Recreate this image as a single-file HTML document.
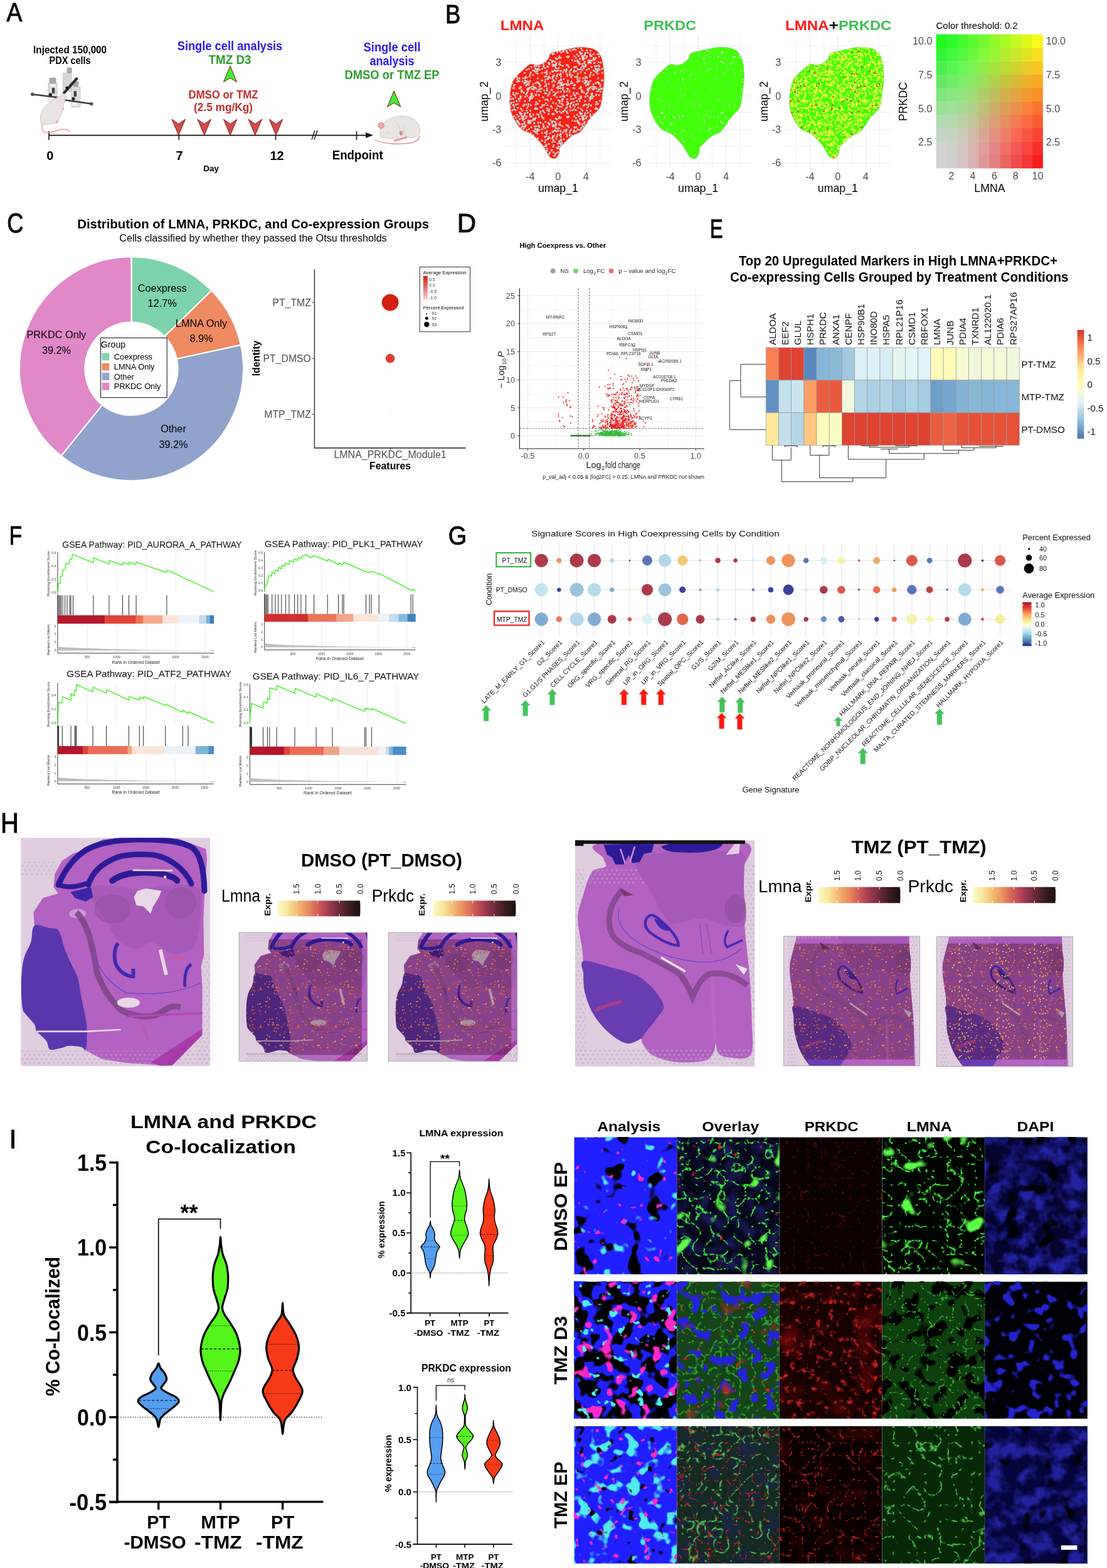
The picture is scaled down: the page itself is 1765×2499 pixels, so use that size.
<!DOCTYPE html>
<html><head><meta charset="utf-8"><title>Figure</title>
<style>
html,body{margin:0;padding:0;background:#fff;}
body{width:1765px;height:2499px;overflow:hidden;}
svg{display:block;font-family:'Liberation Sans',sans-serif;}
</style></head><body>
<svg width="1765" height="2499" viewBox="0 0 1765 2499">
<rect width="1765" height="2499" fill="#fff"/>
<text transform="translate(10.56 34.16) scale(0.8679 1)" font-size="42.94" fill="#000" stroke="#000" stroke-width="0.97">A</text>
<line x1="78.0" y1="215.6" x2="590.0" y2="215.6" stroke="#111" stroke-width="1.6" />
<path d="M583,211.1 L595,215.6 L583,220.1 Z" fill="#111" />
<line x1="78.0" y1="209.1" x2="78.0" y2="223.1" stroke="#111" stroke-width="1.6" />
<line x1="285.3" y1="215.6" x2="285.3" y2="223.1" stroke="#111" stroke-width="1.6" />
<line x1="439.5" y1="215.6" x2="439.5" y2="223.1" stroke="#111" stroke-width="1.6" />
<line x1="568.5" y1="209.1" x2="568.5" y2="223.1" stroke="#111" stroke-width="1.6" />
<line x1="497.0" y1="222.6" x2="502.0" y2="207.6" stroke="#111" stroke-width="1.4" />
<line x1="501.0" y1="222.6" x2="506.0" y2="207.6" stroke="#111" stroke-width="1.4" />
<path d="M273.9,190 L284.7,197.5 L295.5,190 L284.7,215.6 Z" fill="#d24a4a" stroke="#7a1515" stroke-width="0.9" />
<path d="M314.9,190 L325.7,197.5 L336.5,190 L325.7,215.6 Z" fill="#d24a4a" stroke="#7a1515" stroke-width="0.9" />
<path d="M356.3,190 L367.1,197.5 L377.9,190 L367.1,215.6 Z" fill="#d24a4a" stroke="#7a1515" stroke-width="0.9" />
<path d="M396.0,190 L406.8,197.5 L417.6,190 L406.8,215.6 Z" fill="#d24a4a" stroke="#7a1515" stroke-width="0.9" />
<path d="M429.2,190 L440.0,197.5 L450.8,190 L440.0,215.6 Z" fill="#d24a4a" stroke="#7a1515" stroke-width="0.9" />
<path d="M367.0,105.2 L377.6,130.7 L367.0,124.2 L356.4,130.7 Z" fill="#44ee33" stroke="#6a1010" stroke-width="1.0" />
<path d="M628.2,144.9 L638.8,170.4 L628.2,163.9 L617.6,170.4 Z" fill="#44ee33" stroke="#6a1010" stroke-width="1.0" />
<text x="111.6" y="84.8" font-size="16.8" fill="#000" text-anchor="middle" font-weight="bold" textLength="117.0" lengthAdjust="spacingAndGlyphs" >Injected 150,000</text>
<text x="111.6" y="102.0" font-size="16.8" fill="#000" text-anchor="middle" font-weight="bold" textLength="66.0" lengthAdjust="spacingAndGlyphs" >PDX cells</text>
<text x="366.5" y="79.5" font-size="19.6" fill="#2a17f5" text-anchor="middle" font-weight="bold" textLength="167.6" lengthAdjust="spacingAndGlyphs" >Single cell analysis</text>
<text x="366.5" y="101.5" font-size="19.6" fill="#2e9e2e" text-anchor="middle" font-weight="bold" textLength="68.0" lengthAdjust="spacingAndGlyphs" >TMZ D3</text>
<text x="356.0" y="156.8" font-size="18.5" fill="#c42b2b" text-anchor="middle" font-weight="bold" textLength="111.0" lengthAdjust="spacingAndGlyphs" >DMSO or TMZ</text>
<text x="356.0" y="177.2" font-size="18.5" fill="#c42b2b" text-anchor="middle" font-weight="bold" textLength="94.0" lengthAdjust="spacingAndGlyphs" >(2.5 mg/Kg)</text>
<text x="625.0" y="82.0" font-size="19.6" fill="#2a17f5" text-anchor="middle" font-weight="bold" textLength="91.0" lengthAdjust="spacingAndGlyphs" >Single cell</text>
<text x="625.0" y="104.0" font-size="19.6" fill="#2a17f5" text-anchor="middle" font-weight="bold" textLength="71.0" lengthAdjust="spacingAndGlyphs" >analysis</text>
<text x="625.0" y="126.0" font-size="19.6" fill="#2e9e2e" text-anchor="middle" font-weight="bold" textLength="151.0" lengthAdjust="spacingAndGlyphs" >DMSO or TMZ EP</text>
<text x="79.8" y="254.9" font-size="20" fill="#000" text-anchor="middle" font-weight="bold" >0</text>
<text x="286.0" y="254.9" font-size="20" fill="#000" text-anchor="middle" font-weight="bold" >7</text>
<text x="441.5" y="254.9" font-size="20" fill="#000" text-anchor="middle" font-weight="bold" >12</text>
<text x="570.2" y="253.9" font-size="20" fill="#000" text-anchor="middle" font-weight="bold" textLength="81.0" lengthAdjust="spacingAndGlyphs" >Endpoint</text>
<text x="336.6" y="273.3" font-size="13.5" fill="#000" text-anchor="middle" font-weight="bold" >Day</text>
<g transform="translate(40 100) scale(0.07396)">
<rect x="500" y="440" width="190" height="390" fill="#dcdcdc" stroke="#b0b0b0" stroke-width="8"/>
<rect x="520" y="320" width="150" height="125" rx="30" fill="#a8a8a8"/>
<ellipse cx="595" cy="490" rx="70" ry="25" fill="#fff" stroke="#bbb" stroke-width="6"/>
<rect x="580" y="540" width="60" height="120" fill="#444"/>
<rect x="820" y="220" width="180" height="400" fill="#d8d8d8" stroke="#b0b0b0" stroke-width="8"/>
<rect x="900" y="100" width="110" height="125" rx="25" fill="#a8a8a8"/>
<rect x="1000" y="520" width="190" height="440" fill="#dedede" stroke="#b0b0b0" stroke-width="8"/>
<rect x="1030" y="400" width="125" height="125" rx="30" fill="#a8a8a8"/>
<rect x="1050" y="610" width="60" height="120" fill="#444"/>
<rect x="490" y="740" width="160" height="90" fill="#eee" stroke="#bbb" stroke-width="6"/>
<rect x="1000" y="830" width="130" height="110" fill="#eee" stroke="#bbb" stroke-width="6"/>
<path d="M150,680 L700,748" stroke="#3a3a3a" stroke-width="34" stroke-linecap="round"/>
<path d="M870,805 L1440,885" stroke="#3a3a3a" stroke-width="34" stroke-linecap="round"/>
<circle cx="160" cy="680" r="38" fill="#555"/><circle cx="1430" cy="885" r="38" fill="#555"/>
<circle cx="545" cy="690" r="36" fill="#222"/><circle cx="1040" cy="775" r="36" fill="#222"/>
<path d="M840,650 L1110,345" stroke="#2e2e2e" stroke-width="58" stroke-linecap="round"/>
<circle cx="900" cy="540" r="30" fill="#111"/>
<path d="M345,1320 C310,1200 330,1050 420,950 C520,860 640,780 760,700 C800,670 850,650 880,690 C900,740 870,800 830,900 C810,1000 790,1120 720,1240 C660,1320 520,1340 345,1320 Z" fill="#e7e4e2" stroke="#c5bdb5" stroke-width="10"/>
<path d="M630,770 C660,750 690,760 690,790 Z" fill="#e59a9a"/>
<path d="M800,1000 L840,950 L830,1020 Z" fill="#e59a9a"/><path d="M640,1290 L720,1220 L700,1300 Z" fill="#e59a9a"/>
<path d="M830,800 C850,790 870,810 860,840" stroke="#e08080" stroke-width="14" fill="none"/>
<path d="M375,1330 C355,1400 360,1480 430,1505 C520,1520 640,1470 760,1440 C850,1425 920,1440 955,1480" stroke="#e3a0a0" stroke-width="20" fill="none" stroke-linecap="round"/>
</g>
<g transform="translate(590 170) scale(0.05549)">
<path d="M150,960 C400,1070 800,1100 1200,1040 C1350,1000 1420,920 1420,850" stroke="#d87a7a" stroke-width="22" fill="none" stroke-linecap="round"/>
<path d="M285,740 C280,600 360,470 520,370 C680,280 900,240 1100,285 C1300,340 1420,500 1440,680 C1450,800 1400,870 1280,885 C1100,900 900,915 700,925 C500,925 330,900 285,840 Z" fill="#e7e4e2" stroke="#c8bfb5" stroke-width="12"/>
<circle cx="320" cy="540" r="92" fill="#e3a2a2" stroke="#d58a8a" stroke-width="8"/>
<circle cx="320" cy="540" r="45" fill="none" stroke="#f2c8c8" stroke-width="14"/>
<path d="M740,440 C820,500 860,600 860,760" stroke="#c8bfb5" stroke-width="10" fill="none"/>
<path d="M1000,520 C960,600 950,700 970,800" stroke="#c8bfb5" stroke-width="10" fill="none"/>
<ellipse cx="890" cy="760" rx="45" ry="65" fill="#e08a8a"/>
<path d="M700,980 C780,960 900,930 1050,880" stroke="#e08a8a" stroke-width="40" fill="none" stroke-linecap="round"/>
<path d="M500,720 L570,790" stroke="#a09890" stroke-width="10"/>
</g>
<text transform="translate(710.04 36.97) scale(0.8599 1)" font-size="42.54" fill="#000" stroke="#000" stroke-width="0.96">B</text>
<defs><pattern id="pgrey" width="96" height="96" patternUnits="userSpaceOnUse"><circle cx="22.8" cy="52.2" r="1.55" fill="#d3d3d3"/><circle cx="35.5" cy="58.0" r="1.55" fill="#d3d3d3"/><circle cx="60.1" cy="6.3" r="1.55" fill="#d3d3d3"/><circle cx="1.3" cy="80.4" r="1.55" fill="#d3d3d3"/><circle cx="97.3" cy="80.4" r="1.55" fill="#d3d3d3"/><circle cx="24.9" cy="22.5" r="1.55" fill="#d3d3d3"/><circle cx="95.6" cy="45.1" r="1.55" fill="#d3d3d3"/><circle cx="-0.4" cy="45.1" r="1.55" fill="#d3d3d3"/><circle cx="80.3" cy="45.7" r="1.55" fill="#d3d3d3"/><circle cx="61.4" cy="14.5" r="1.55" fill="#d3d3d3"/><circle cx="60.9" cy="83.3" r="1.55" fill="#d3d3d3"/><circle cx="50.2" cy="71.2" r="1.55" fill="#d3d3d3"/><circle cx="64.5" cy="6.1" r="1.55" fill="#d3d3d3"/><circle cx="72.8" cy="56.7" r="1.55" fill="#d3d3d3"/><circle cx="28.9" cy="3.0" r="1.55" fill="#d3d3d3"/><circle cx="83.1" cy="45.4" r="1.55" fill="#d3d3d3"/><circle cx="69.0" cy="84.4" r="1.55" fill="#d3d3d3"/><circle cx="68.6" cy="88.4" r="1.55" fill="#d3d3d3"/><circle cx="37.9" cy="76.9" r="1.55" fill="#d3d3d3"/><circle cx="42.7" cy="89.8" r="1.55" fill="#d3d3d3"/><circle cx="84.4" cy="9.4" r="1.55" fill="#d3d3d3"/><circle cx="13.1" cy="20.8" r="1.55" fill="#d3d3d3"/><circle cx="92.7" cy="41.9" r="1.55" fill="#d3d3d3"/><circle cx="60.2" cy="28.9" r="1.55" fill="#d3d3d3"/><circle cx="48.7" cy="37.0" r="1.55" fill="#d3d3d3"/><circle cx="33.7" cy="56.2" r="1.55" fill="#d3d3d3"/><circle cx="56.1" cy="86.8" r="1.55" fill="#d3d3d3"/><circle cx="65.5" cy="89.2" r="1.55" fill="#d3d3d3"/><circle cx="82.2" cy="95.1" r="1.55" fill="#d3d3d3"/><circle cx="82.2" cy="-0.9" r="1.55" fill="#d3d3d3"/><circle cx="64.4" cy="15.7" r="1.55" fill="#d3d3d3"/><circle cx="82.6" cy="92.6" r="1.55" fill="#d3d3d3"/><circle cx="86.9" cy="54.6" r="1.55" fill="#d3d3d3"/><circle cx="68.5" cy="20.3" r="1.55" fill="#d3d3d3"/><circle cx="79.8" cy="55.1" r="1.55" fill="#d3d3d3"/><circle cx="27.4" cy="6.1" r="1.55" fill="#d3d3d3"/><circle cx="82.0" cy="95.0" r="1.55" fill="#d3d3d3"/><circle cx="82.0" cy="-1.0" r="1.55" fill="#d3d3d3"/><circle cx="8.5" cy="76.9" r="1.55" fill="#d3d3d3"/><circle cx="39.4" cy="14.5" r="1.55" fill="#d3d3d3"/><circle cx="28.2" cy="73.8" r="1.55" fill="#d3d3d3"/><circle cx="83.8" cy="4.2" r="1.55" fill="#d3d3d3"/><circle cx="59.0" cy="4.3" r="1.55" fill="#d3d3d3"/><circle cx="69.0" cy="31.8" r="1.55" fill="#d3d3d3"/><circle cx="84.6" cy="94.1" r="1.55" fill="#d3d3d3"/><circle cx="48.5" cy="95.9" r="1.55" fill="#d3d3d3"/><circle cx="48.5" cy="-0.1" r="1.55" fill="#d3d3d3"/><circle cx="29.7" cy="7.4" r="1.55" fill="#d3d3d3"/><circle cx="57.6" cy="3.0" r="1.55" fill="#d3d3d3"/><circle cx="18.9" cy="39.2" r="1.55" fill="#d3d3d3"/><circle cx="58.6" cy="15.0" r="1.55" fill="#d3d3d3"/><circle cx="4.1" cy="83.3" r="1.55" fill="#d3d3d3"/><circle cx="30.1" cy="92.0" r="1.55" fill="#d3d3d3"/><circle cx="86.1" cy="36.3" r="1.55" fill="#d3d3d3"/><circle cx="44.2" cy="49.9" r="1.55" fill="#d3d3d3"/><circle cx="61.8" cy="57.2" r="1.55" fill="#d3d3d3"/><circle cx="53.7" cy="59.5" r="1.55" fill="#d3d3d3"/><circle cx="90.3" cy="48.7" r="1.55" fill="#d3d3d3"/><circle cx="41.4" cy="69.1" r="1.55" fill="#d3d3d3"/><circle cx="22.8" cy="28.9" r="1.55" fill="#d3d3d3"/><circle cx="93.9" cy="50.0" r="1.55" fill="#d3d3d3"/><circle cx="52.6" cy="1.1" r="1.55" fill="#d3d3d3"/><circle cx="52.6" cy="97.1" r="1.55" fill="#d3d3d3"/><circle cx="39.9" cy="55.7" r="1.55" fill="#d3d3d3"/><circle cx="1.9" cy="59.1" r="1.55" fill="#d3d3d3"/><circle cx="60.7" cy="5.8" r="1.55" fill="#d3d3d3"/><circle cx="60.2" cy="44.8" r="1.55" fill="#d3d3d3"/><circle cx="65.2" cy="33.8" r="1.55" fill="#d3d3d3"/><circle cx="67.9" cy="70.9" r="1.55" fill="#d3d3d3"/><circle cx="2.1" cy="5.8" r="1.55" fill="#d3d3d3"/><circle cx="64.9" cy="92.5" r="1.55" fill="#d3d3d3"/><circle cx="24.1" cy="43.8" r="1.55" fill="#d3d3d3"/><circle cx="56.9" cy="30.7" r="1.55" fill="#d3d3d3"/><circle cx="34.9" cy="30.0" r="1.55" fill="#d3d3d3"/><circle cx="35.4" cy="57.2" r="1.55" fill="#d3d3d3"/><circle cx="28.8" cy="36.2" r="1.55" fill="#d3d3d3"/><circle cx="74.1" cy="2.6" r="1.55" fill="#d3d3d3"/><circle cx="54.6" cy="70.6" r="1.55" fill="#d3d3d3"/><circle cx="29.8" cy="21.4" r="1.55" fill="#d3d3d3"/><circle cx="77.2" cy="22.9" r="1.55" fill="#d3d3d3"/><circle cx="18.0" cy="41.8" r="1.55" fill="#d3d3d3"/><circle cx="67.0" cy="9.8" r="1.55" fill="#d3d3d3"/><circle cx="30.9" cy="32.0" r="1.55" fill="#d3d3d3"/><circle cx="80.0" cy="42.1" r="1.55" fill="#d3d3d3"/><circle cx="82.1" cy="16.3" r="1.55" fill="#d3d3d3"/><circle cx="32.3" cy="62.4" r="1.55" fill="#d3d3d3"/><circle cx="85.0" cy="43.3" r="1.55" fill="#d3d3d3"/><circle cx="21.6" cy="11.6" r="1.55" fill="#d3d3d3"/><circle cx="50.8" cy="18.3" r="1.55" fill="#d3d3d3"/><circle cx="77.5" cy="80.5" r="1.55" fill="#d3d3d3"/><circle cx="17.6" cy="26.7" r="1.55" fill="#d3d3d3"/><circle cx="77.5" cy="61.6" r="1.55" fill="#d3d3d3"/><circle cx="77.4" cy="33.1" r="1.55" fill="#d3d3d3"/><circle cx="12.5" cy="28.0" r="1.55" fill="#d3d3d3"/><circle cx="76.2" cy="26.0" r="1.55" fill="#d3d3d3"/><circle cx="33.3" cy="40.0" r="1.55" fill="#d3d3d3"/><circle cx="40.3" cy="39.3" r="1.55" fill="#d3d3d3"/><circle cx="88.4" cy="15.0" r="1.55" fill="#d3d3d3"/><circle cx="0.4" cy="90.6" r="1.55" fill="#d3d3d3"/><circle cx="96.4" cy="90.6" r="1.55" fill="#d3d3d3"/><circle cx="84.5" cy="94.7" r="1.55" fill="#d3d3d3"/><circle cx="84.5" cy="-1.3" r="1.55" fill="#d3d3d3"/><circle cx="41.7" cy="91.2" r="1.55" fill="#d3d3d3"/><circle cx="89.0" cy="21.3" r="1.55" fill="#d3d3d3"/><circle cx="71.6" cy="80.3" r="1.55" fill="#d3d3d3"/><circle cx="63.6" cy="49.8" r="1.55" fill="#d3d3d3"/><circle cx="27.7" cy="32.7" r="1.55" fill="#d3d3d3"/><circle cx="21.8" cy="6.5" r="1.55" fill="#d3d3d3"/><circle cx="56.5" cy="27.6" r="1.55" fill="#d3d3d3"/><circle cx="77.8" cy="4.3" r="1.55" fill="#d3d3d3"/><circle cx="86.7" cy="66.6" r="1.55" fill="#d3d3d3"/><circle cx="88.7" cy="86.1" r="1.55" fill="#d3d3d3"/><circle cx="86.4" cy="55.4" r="1.55" fill="#d3d3d3"/><circle cx="1.3" cy="71.5" r="1.55" fill="#d3d3d3"/><circle cx="97.3" cy="71.5" r="1.55" fill="#d3d3d3"/><circle cx="16.5" cy="28.8" r="1.55" fill="#d3d3d3"/><circle cx="63.6" cy="50.4" r="1.55" fill="#d3d3d3"/><circle cx="39.7" cy="90.1" r="1.55" fill="#d3d3d3"/><circle cx="58.8" cy="32.8" r="1.55" fill="#d3d3d3"/><circle cx="24.2" cy="82.7" r="1.55" fill="#d3d3d3"/><circle cx="45.8" cy="75.1" r="1.55" fill="#d3d3d3"/><circle cx="33.8" cy="18.9" r="1.55" fill="#d3d3d3"/><circle cx="51.3" cy="78.4" r="1.55" fill="#d3d3d3"/><circle cx="16.4" cy="76.0" r="1.55" fill="#d3d3d3"/><circle cx="88.5" cy="77.4" r="1.55" fill="#d3d3d3"/><circle cx="79.1" cy="0.7" r="1.55" fill="#d3d3d3"/><circle cx="79.1" cy="96.7" r="1.55" fill="#d3d3d3"/><circle cx="60.3" cy="82.8" r="1.55" fill="#d3d3d3"/><circle cx="4.8" cy="26.1" r="1.55" fill="#d3d3d3"/><circle cx="25.8" cy="50.6" r="1.55" fill="#d3d3d3"/><circle cx="40.6" cy="45.4" r="1.55" fill="#d3d3d3"/><circle cx="74.5" cy="0.2" r="1.55" fill="#d3d3d3"/><circle cx="74.5" cy="96.2" r="1.55" fill="#d3d3d3"/><circle cx="5.3" cy="12.2" r="1.55" fill="#d3d3d3"/><circle cx="12.0" cy="6.6" r="1.55" fill="#d3d3d3"/><circle cx="93.6" cy="82.0" r="1.55" fill="#d3d3d3"/><circle cx="8.3" cy="48.2" r="1.55" fill="#d3d3d3"/><circle cx="30.3" cy="30.2" r="1.55" fill="#d3d3d3"/><circle cx="33.7" cy="62.1" r="1.55" fill="#d3d3d3"/><circle cx="56.3" cy="34.6" r="1.55" fill="#d3d3d3"/><circle cx="18.3" cy="31.6" r="1.55" fill="#d3d3d3"/><circle cx="11.9" cy="53.3" r="1.55" fill="#d3d3d3"/><circle cx="68.7" cy="36.5" r="1.55" fill="#d3d3d3"/><circle cx="7.7" cy="17.1" r="1.55" fill="#d3d3d3"/><circle cx="35.8" cy="58.0" r="1.55" fill="#d3d3d3"/><circle cx="75.1" cy="36.5" r="1.55" fill="#d3d3d3"/><circle cx="76.9" cy="59.8" r="1.55" fill="#d3d3d3"/><circle cx="41.4" cy="35.8" r="1.55" fill="#d3d3d3"/><circle cx="47.6" cy="67.5" r="1.55" fill="#d3d3d3"/><circle cx="40.4" cy="66.6" r="1.55" fill="#d3d3d3"/><circle cx="44.2" cy="23.5" r="1.55" fill="#d3d3d3"/><circle cx="51.4" cy="66.7" r="1.55" fill="#d3d3d3"/><circle cx="6.9" cy="40.8" r="1.55" fill="#d3d3d3"/><circle cx="40.9" cy="84.4" r="1.55" fill="#d3d3d3"/><circle cx="89.9" cy="35.9" r="1.55" fill="#d3d3d3"/><circle cx="86.2" cy="75.9" r="1.55" fill="#d3d3d3"/><circle cx="25.2" cy="44.6" r="1.55" fill="#d3d3d3"/><circle cx="11.8" cy="78.1" r="1.55" fill="#d3d3d3"/><circle cx="63.6" cy="85.2" r="1.55" fill="#d3d3d3"/><circle cx="76.1" cy="64.1" r="1.55" fill="#d3d3d3"/><circle cx="70.4" cy="54.1" r="1.55" fill="#d3d3d3"/><circle cx="9.9" cy="56.4" r="1.55" fill="#d3d3d3"/><circle cx="0.5" cy="13.8" r="1.55" fill="#d3d3d3"/><circle cx="96.5" cy="13.8" r="1.55" fill="#d3d3d3"/><circle cx="74.3" cy="4.3" r="1.55" fill="#d3d3d3"/><circle cx="8.8" cy="9.5" r="1.55" fill="#d3d3d3"/><circle cx="84.5" cy="17.2" r="1.55" fill="#d3d3d3"/><circle cx="2.3" cy="80.8" r="1.55" fill="#d3d3d3"/><circle cx="11.6" cy="81.0" r="1.55" fill="#d3d3d3"/><circle cx="64.7" cy="80.3" r="1.55" fill="#d3d3d3"/><circle cx="91.4" cy="55.6" r="1.55" fill="#d3d3d3"/><circle cx="76.7" cy="3.5" r="1.55" fill="#d3d3d3"/><circle cx="73.7" cy="49.1" r="1.55" fill="#d3d3d3"/><circle cx="68.7" cy="10.2" r="1.55" fill="#d3d3d3"/><circle cx="71.9" cy="89.7" r="1.55" fill="#d3d3d3"/><circle cx="5.9" cy="31.1" r="1.55" fill="#d3d3d3"/><circle cx="54.1" cy="79.5" r="1.55" fill="#d3d3d3"/><circle cx="23.2" cy="17.3" r="1.55" fill="#d3d3d3"/><circle cx="24.0" cy="59.1" r="1.55" fill="#d3d3d3"/><circle cx="72.3" cy="37.8" r="1.55" fill="#d3d3d3"/><circle cx="35.3" cy="38.1" r="1.55" fill="#d3d3d3"/><circle cx="33.6" cy="40.1" r="1.55" fill="#d3d3d3"/><circle cx="8.0" cy="48.0" r="1.55" fill="#d3d3d3"/><circle cx="93.4" cy="39.6" r="1.55" fill="#d3d3d3"/><circle cx="71.8" cy="15.4" r="1.55" fill="#d3d3d3"/><circle cx="66.3" cy="72.6" r="1.55" fill="#d3d3d3"/><circle cx="64.7" cy="49.6" r="1.55" fill="#d3d3d3"/><circle cx="46.4" cy="61.7" r="1.55" fill="#d3d3d3"/><circle cx="86.2" cy="14.3" r="1.55" fill="#d3d3d3"/><circle cx="9.2" cy="71.8" r="1.55" fill="#d3d3d3"/><circle cx="88.0" cy="49.7" r="1.55" fill="#d3d3d3"/><circle cx="42.5" cy="69.0" r="1.55" fill="#d3d3d3"/><circle cx="17.9" cy="25.7" r="1.55" fill="#d3d3d3"/><circle cx="19.1" cy="56.2" r="1.55" fill="#d3d3d3"/><circle cx="30.2" cy="22.3" r="1.55" fill="#d3d3d3"/><circle cx="66.3" cy="91.5" r="1.55" fill="#d3d3d3"/><circle cx="28.4" cy="67.7" r="1.55" fill="#d3d3d3"/><circle cx="39.7" cy="81.9" r="1.55" fill="#d3d3d3"/><circle cx="56.1" cy="25.6" r="1.55" fill="#d3d3d3"/><circle cx="20.9" cy="2.2" r="1.55" fill="#d3d3d3"/><circle cx="46.0" cy="36.7" r="1.55" fill="#d3d3d3"/><circle cx="16.5" cy="34.6" r="1.55" fill="#d3d3d3"/><circle cx="30.9" cy="74.3" r="1.55" fill="#d3d3d3"/><circle cx="13.8" cy="95.2" r="1.55" fill="#d3d3d3"/><circle cx="13.8" cy="-0.8" r="1.55" fill="#d3d3d3"/><circle cx="46.0" cy="57.5" r="1.55" fill="#d3d3d3"/><circle cx="44.9" cy="80.1" r="1.55" fill="#d3d3d3"/><circle cx="78.9" cy="53.5" r="1.55" fill="#d3d3d3"/><circle cx="46.2" cy="69.2" r="1.55" fill="#d3d3d3"/><circle cx="82.2" cy="38.4" r="1.55" fill="#d3d3d3"/><circle cx="70.4" cy="92.2" r="1.55" fill="#d3d3d3"/><circle cx="44.9" cy="22.0" r="1.55" fill="#d3d3d3"/><circle cx="22.5" cy="68.9" r="1.55" fill="#d3d3d3"/><circle cx="64.8" cy="92.0" r="1.55" fill="#d3d3d3"/><circle cx="82.0" cy="23.2" r="1.55" fill="#d3d3d3"/><circle cx="18.2" cy="24.8" r="1.55" fill="#d3d3d3"/><circle cx="18.0" cy="67.7" r="1.55" fill="#d3d3d3"/><circle cx="82.4" cy="86.4" r="1.55" fill="#d3d3d3"/><circle cx="24.5" cy="83.0" r="1.55" fill="#d3d3d3"/><circle cx="30.1" cy="40.6" r="1.55" fill="#d3d3d3"/><circle cx="70.0" cy="8.2" r="1.55" fill="#d3d3d3"/><circle cx="8.9" cy="80.1" r="1.55" fill="#d3d3d3"/><circle cx="28.0" cy="34.2" r="1.55" fill="#d3d3d3"/><circle cx="55.7" cy="64.8" r="1.55" fill="#d3d3d3"/><circle cx="0.7" cy="32.1" r="1.55" fill="#d3d3d3"/><circle cx="96.7" cy="32.1" r="1.55" fill="#d3d3d3"/><circle cx="41.9" cy="46.6" r="1.55" fill="#d3d3d3"/><circle cx="20.2" cy="56.2" r="1.55" fill="#d3d3d3"/><circle cx="91.7" cy="37.5" r="1.55" fill="#d3d3d3"/><circle cx="52.3" cy="11.4" r="1.55" fill="#d3d3d3"/><circle cx="26.4" cy="63.9" r="1.55" fill="#d3d3d3"/><circle cx="10.8" cy="85.2" r="1.55" fill="#d3d3d3"/><circle cx="87.2" cy="9.3" r="1.55" fill="#d3d3d3"/><circle cx="90.4" cy="35.9" r="1.55" fill="#d3d3d3"/><circle cx="74.2" cy="72.7" r="1.55" fill="#d3d3d3"/><circle cx="28.4" cy="64.9" r="1.55" fill="#d3d3d3"/><circle cx="62.8" cy="77.4" r="1.55" fill="#d3d3d3"/><circle cx="25.5" cy="72.4" r="1.55" fill="#d3d3d3"/><circle cx="92.3" cy="64.6" r="1.55" fill="#d3d3d3"/><circle cx="51.5" cy="10.9" r="1.55" fill="#d3d3d3"/><circle cx="47.4" cy="33.8" r="1.55" fill="#d3d3d3"/><circle cx="68.9" cy="65.1" r="1.55" fill="#d3d3d3"/><circle cx="54.4" cy="17.5" r="1.55" fill="#d3d3d3"/><circle cx="62.0" cy="60.6" r="1.55" fill="#d3d3d3"/><circle cx="17.2" cy="85.4" r="1.55" fill="#d3d3d3"/><circle cx="62.9" cy="11.8" r="1.55" fill="#d3d3d3"/><circle cx="89.5" cy="13.6" r="1.55" fill="#d3d3d3"/><circle cx="31.8" cy="69.2" r="1.55" fill="#d3d3d3"/><circle cx="57.4" cy="53.3" r="1.55" fill="#d3d3d3"/><circle cx="62.2" cy="43.9" r="1.55" fill="#d3d3d3"/><circle cx="30.0" cy="16.9" r="1.55" fill="#d3d3d3"/><circle cx="6.6" cy="68.7" r="1.55" fill="#d3d3d3"/><circle cx="72.4" cy="52.1" r="1.55" fill="#d3d3d3"/><circle cx="71.0" cy="34.5" r="1.55" fill="#d3d3d3"/><circle cx="25.5" cy="36.8" r="1.55" fill="#d3d3d3"/><circle cx="83.8" cy="4.0" r="1.55" fill="#d3d3d3"/><circle cx="48.5" cy="23.7" r="1.55" fill="#d3d3d3"/><circle cx="73.8" cy="34.0" r="1.55" fill="#d3d3d3"/><circle cx="32.0" cy="38.7" r="1.55" fill="#d3d3d3"/><circle cx="52.0" cy="74.1" r="1.55" fill="#d3d3d3"/><circle cx="33.9" cy="81.3" r="1.55" fill="#d3d3d3"/><circle cx="10.8" cy="26.0" r="1.55" fill="#d3d3d3"/><circle cx="9.6" cy="10.8" r="1.55" fill="#d3d3d3"/><circle cx="74.8" cy="69.8" r="1.55" fill="#d3d3d3"/><circle cx="17.7" cy="18.2" r="1.55" fill="#d3d3d3"/><circle cx="40.0" cy="71.4" r="1.55" fill="#d3d3d3"/><circle cx="78.3" cy="71.9" r="1.55" fill="#d3d3d3"/><circle cx="56.8" cy="14.1" r="1.55" fill="#d3d3d3"/><circle cx="38.2" cy="18.6" r="1.55" fill="#d3d3d3"/><circle cx="50.6" cy="54.6" r="1.55" fill="#d3d3d3"/><circle cx="19.4" cy="24.0" r="1.55" fill="#d3d3d3"/><circle cx="75.0" cy="2.9" r="1.55" fill="#d3d3d3"/><circle cx="77.1" cy="85.6" r="1.55" fill="#d3d3d3"/><circle cx="91.1" cy="36.8" r="1.55" fill="#d3d3d3"/><circle cx="53.1" cy="56.0" r="1.55" fill="#d3d3d3"/><circle cx="60.8" cy="93.8" r="1.55" fill="#d3d3d3"/><circle cx="65.9" cy="28.7" r="1.55" fill="#d3d3d3"/><circle cx="82.6" cy="46.5" r="1.55" fill="#d3d3d3"/><circle cx="57.7" cy="69.8" r="1.55" fill="#d3d3d3"/><circle cx="0.2" cy="74.0" r="1.55" fill="#d3d3d3"/><circle cx="96.2" cy="74.0" r="1.55" fill="#d3d3d3"/><circle cx="63.5" cy="47.2" r="1.55" fill="#d3d3d3"/><circle cx="50.3" cy="44.2" r="1.55" fill="#d3d3d3"/><circle cx="18.6" cy="50.8" r="1.55" fill="#d3d3d3"/><circle cx="3.6" cy="48.0" r="1.55" fill="#d3d3d3"/><circle cx="62.0" cy="42.6" r="1.55" fill="#d3d3d3"/><circle cx="54.3" cy="92.1" r="1.55" fill="#d3d3d3"/><circle cx="85.6" cy="13.0" r="1.55" fill="#d3d3d3"/><circle cx="76.1" cy="59.8" r="1.55" fill="#d3d3d3"/><circle cx="4.9" cy="34.6" r="1.55" fill="#d3d3d3"/><circle cx="22.4" cy="7.5" r="1.55" fill="#d3d3d3"/><circle cx="51.7" cy="89.3" r="1.55" fill="#d3d3d3"/><circle cx="31.0" cy="83.6" r="1.55" fill="#d3d3d3"/><circle cx="66.7" cy="12.9" r="1.55" fill="#d3d3d3"/><circle cx="82.4" cy="57.7" r="1.55" fill="#d3d3d3"/><circle cx="89.0" cy="68.7" r="1.55" fill="#d3d3d3"/><circle cx="71.0" cy="33.0" r="1.55" fill="#d3d3d3"/><circle cx="77.4" cy="89.4" r="1.55" fill="#d3d3d3"/><circle cx="82.7" cy="42.0" r="1.55" fill="#d3d3d3"/><circle cx="72.7" cy="46.6" r="1.55" fill="#d3d3d3"/><circle cx="10.5" cy="4.1" r="1.55" fill="#d3d3d3"/><circle cx="7.5" cy="19.2" r="1.55" fill="#d3d3d3"/><circle cx="15.4" cy="47.7" r="1.55" fill="#d3d3d3"/><circle cx="67.1" cy="51.6" r="1.55" fill="#d3d3d3"/><circle cx="40.5" cy="62.3" r="1.55" fill="#d3d3d3"/><circle cx="29.2" cy="44.6" r="1.55" fill="#d3d3d3"/><circle cx="72.7" cy="38.5" r="1.55" fill="#d3d3d3"/><circle cx="17.3" cy="86.3" r="1.55" fill="#d3d3d3"/><circle cx="69.1" cy="35.2" r="1.55" fill="#d3d3d3"/><circle cx="35.6" cy="50.8" r="1.55" fill="#d3d3d3"/><circle cx="57.3" cy="21.5" r="1.55" fill="#d3d3d3"/><circle cx="0.3" cy="20.1" r="1.55" fill="#d3d3d3"/><circle cx="96.3" cy="20.1" r="1.55" fill="#d3d3d3"/><circle cx="75.2" cy="13.8" r="1.55" fill="#d3d3d3"/><circle cx="44.2" cy="18.7" r="1.55" fill="#d3d3d3"/><circle cx="20.1" cy="16.4" r="1.55" fill="#d3d3d3"/><circle cx="38.8" cy="16.2" r="1.55" fill="#d3d3d3"/><circle cx="2.6" cy="10.6" r="1.55" fill="#d3d3d3"/><circle cx="16.2" cy="47.1" r="1.55" fill="#d3d3d3"/><circle cx="5.7" cy="2.2" r="1.55" fill="#d3d3d3"/><circle cx="43.0" cy="39.1" r="1.55" fill="#d3d3d3"/><circle cx="67.5" cy="4.9" r="1.55" fill="#d3d3d3"/><circle cx="38.7" cy="38.1" r="1.55" fill="#d3d3d3"/><circle cx="2.6" cy="92.7" r="1.55" fill="#d3d3d3"/><circle cx="21.0" cy="9.1" r="1.55" fill="#d3d3d3"/><circle cx="45.6" cy="15.8" r="1.55" fill="#d3d3d3"/><circle cx="59.8" cy="33.3" r="1.55" fill="#d3d3d3"/><circle cx="11.9" cy="5.0" r="1.55" fill="#d3d3d3"/><circle cx="69.9" cy="26.4" r="1.55" fill="#d3d3d3"/><circle cx="75.6" cy="44.7" r="1.55" fill="#d3d3d3"/><circle cx="89.6" cy="28.9" r="1.55" fill="#d3d3d3"/><circle cx="24.0" cy="25.5" r="1.55" fill="#d3d3d3"/><circle cx="78.2" cy="60.4" r="1.55" fill="#d3d3d3"/><circle cx="33.1" cy="9.0" r="1.55" fill="#d3d3d3"/><circle cx="65.5" cy="93.0" r="1.55" fill="#d3d3d3"/><circle cx="56.9" cy="0.4" r="1.55" fill="#d3d3d3"/><circle cx="56.9" cy="96.4" r="1.55" fill="#d3d3d3"/><circle cx="2.9" cy="8.7" r="1.55" fill="#d3d3d3"/><circle cx="16.4" cy="3.5" r="1.55" fill="#d3d3d3"/><circle cx="5.2" cy="62.8" r="1.55" fill="#d3d3d3"/><circle cx="86.4" cy="19.3" r="1.55" fill="#d3d3d3"/><circle cx="93.5" cy="45.8" r="1.55" fill="#d3d3d3"/><circle cx="77.1" cy="88.1" r="1.55" fill="#d3d3d3"/><circle cx="90.2" cy="3.3" r="1.55" fill="#d3d3d3"/><circle cx="29.3" cy="58.3" r="1.55" fill="#d3d3d3"/><circle cx="90.9" cy="8.4" r="1.55" fill="#d3d3d3"/><circle cx="28.2" cy="81.6" r="1.55" fill="#d3d3d3"/><circle cx="11.0" cy="37.4" r="1.55" fill="#d3d3d3"/><circle cx="32.1" cy="65.3" r="1.55" fill="#d3d3d3"/><circle cx="89.1" cy="16.8" r="1.55" fill="#d3d3d3"/><circle cx="71.0" cy="70.5" r="1.55" fill="#d3d3d3"/><circle cx="80.2" cy="53.1" r="1.55" fill="#d3d3d3"/><circle cx="88.7" cy="34.8" r="1.55" fill="#d3d3d3"/><circle cx="39.8" cy="22.0" r="1.55" fill="#d3d3d3"/><circle cx="74.8" cy="46.1" r="1.55" fill="#d3d3d3"/><circle cx="25.9" cy="16.3" r="1.55" fill="#d3d3d3"/><circle cx="69.2" cy="58.1" r="1.55" fill="#d3d3d3"/><circle cx="68.2" cy="37.1" r="1.55" fill="#d3d3d3"/><circle cx="46.8" cy="14.8" r="1.55" fill="#d3d3d3"/><circle cx="68.2" cy="2.2" r="1.55" fill="#d3d3d3"/><circle cx="44.8" cy="72.8" r="1.55" fill="#d3d3d3"/><circle cx="65.0" cy="9.3" r="1.55" fill="#d3d3d3"/><circle cx="22.8" cy="81.0" r="1.55" fill="#d3d3d3"/><circle cx="61.7" cy="84.3" r="1.55" fill="#d3d3d3"/><circle cx="83.7" cy="43.2" r="1.55" fill="#d3d3d3"/><circle cx="86.1" cy="70.4" r="1.55" fill="#d3d3d3"/><circle cx="32.0" cy="35.5" r="1.55" fill="#d3d3d3"/><circle cx="6.9" cy="38.3" r="1.55" fill="#d3d3d3"/><circle cx="91.7" cy="10.1" r="1.55" fill="#d3d3d3"/><circle cx="54.6" cy="10.6" r="1.55" fill="#d3d3d3"/><circle cx="7.8" cy="62.3" r="1.55" fill="#d3d3d3"/><circle cx="23.1" cy="4.7" r="1.55" fill="#d3d3d3"/><circle cx="14.7" cy="61.9" r="1.55" fill="#d3d3d3"/><circle cx="56.2" cy="1.1" r="1.55" fill="#d3d3d3"/><circle cx="56.2" cy="97.1" r="1.55" fill="#d3d3d3"/><circle cx="22.1" cy="92.9" r="1.55" fill="#d3d3d3"/><circle cx="21.1" cy="54.0" r="1.55" fill="#d3d3d3"/><circle cx="40.3" cy="75.0" r="1.55" fill="#d3d3d3"/><circle cx="58.0" cy="75.7" r="1.55" fill="#d3d3d3"/><circle cx="51.4" cy="18.1" r="1.55" fill="#d3d3d3"/><circle cx="17.1" cy="7.6" r="1.55" fill="#d3d3d3"/><circle cx="79.2" cy="10.8" r="1.55" fill="#d3d3d3"/><circle cx="2.3" cy="92.8" r="1.55" fill="#d3d3d3"/><circle cx="19.1" cy="85.8" r="1.55" fill="#d3d3d3"/><circle cx="8.2" cy="44.7" r="1.55" fill="#d3d3d3"/><circle cx="21.4" cy="79.6" r="1.55" fill="#d3d3d3"/><circle cx="59.1" cy="61.6" r="1.55" fill="#d3d3d3"/><circle cx="73.1" cy="83.7" r="1.55" fill="#d3d3d3"/><circle cx="33.2" cy="57.9" r="1.55" fill="#d3d3d3"/><circle cx="42.8" cy="10.7" r="1.55" fill="#d3d3d3"/><circle cx="80.2" cy="57.1" r="1.55" fill="#d3d3d3"/><circle cx="78.2" cy="19.8" r="1.55" fill="#d3d3d3"/><circle cx="51.8" cy="44.6" r="1.55" fill="#d3d3d3"/><circle cx="69.9" cy="7.4" r="1.55" fill="#d3d3d3"/><circle cx="33.2" cy="46.5" r="1.55" fill="#d3d3d3"/><circle cx="6.9" cy="53.1" r="1.55" fill="#d3d3d3"/><circle cx="70.6" cy="40.6" r="1.55" fill="#d3d3d3"/><circle cx="62.2" cy="58.2" r="1.55" fill="#d3d3d3"/><circle cx="20.6" cy="33.7" r="1.55" fill="#d3d3d3"/><circle cx="95.6" cy="32.2" r="1.55" fill="#d3d3d3"/><circle cx="-0.4" cy="32.2" r="1.55" fill="#d3d3d3"/><circle cx="41.4" cy="8.1" r="1.55" fill="#d3d3d3"/><circle cx="20.9" cy="15.9" r="1.55" fill="#d3d3d3"/><circle cx="89.4" cy="69.7" r="1.55" fill="#d3d3d3"/><circle cx="84.0" cy="94.7" r="1.55" fill="#d3d3d3"/><circle cx="84.0" cy="-1.3" r="1.55" fill="#d3d3d3"/><circle cx="58.8" cy="89.4" r="1.55" fill="#d3d3d3"/><circle cx="51.4" cy="40.2" r="1.55" fill="#d3d3d3"/><circle cx="91.0" cy="86.7" r="1.55" fill="#d3d3d3"/><circle cx="91.2" cy="46.5" r="1.55" fill="#d3d3d3"/><circle cx="74.3" cy="39.1" r="1.55" fill="#d3d3d3"/><circle cx="95.7" cy="88.3" r="1.55" fill="#d3d3d3"/><circle cx="-0.3" cy="88.3" r="1.55" fill="#d3d3d3"/><circle cx="28.0" cy="89.7" r="1.55" fill="#d3d3d3"/><circle cx="17.7" cy="9.2" r="1.55" fill="#d3d3d3"/><circle cx="69.3" cy="28.3" r="1.55" fill="#d3d3d3"/><circle cx="49.9" cy="61.4" r="1.55" fill="#d3d3d3"/><circle cx="3.9" cy="71.5" r="1.55" fill="#d3d3d3"/><circle cx="26.5" cy="41.5" r="1.55" fill="#d3d3d3"/><circle cx="33.1" cy="71.2" r="1.55" fill="#d3d3d3"/><circle cx="71.7" cy="27.6" r="1.55" fill="#d3d3d3"/><circle cx="9.9" cy="28.7" r="1.55" fill="#d3d3d3"/><circle cx="39.5" cy="7.4" r="1.55" fill="#d3d3d3"/><circle cx="14.7" cy="73.2" r="1.55" fill="#d3d3d3"/><circle cx="67.2" cy="93.7" r="1.55" fill="#d3d3d3"/><circle cx="94.0" cy="84.1" r="1.55" fill="#d3d3d3"/><circle cx="35.8" cy="15.5" r="1.55" fill="#d3d3d3"/><circle cx="29.9" cy="44.5" r="1.55" fill="#d3d3d3"/><circle cx="50.5" cy="52.0" r="1.55" fill="#d3d3d3"/><circle cx="34.5" cy="81.9" r="1.55" fill="#d3d3d3"/><circle cx="27.4" cy="44.5" r="1.55" fill="#d3d3d3"/><circle cx="85.1" cy="77.5" r="1.55" fill="#d3d3d3"/><circle cx="28.6" cy="23.3" r="1.55" fill="#d3d3d3"/><circle cx="77.4" cy="1.0" r="1.55" fill="#d3d3d3"/><circle cx="77.4" cy="97.0" r="1.55" fill="#d3d3d3"/><circle cx="12.6" cy="51.0" r="1.55" fill="#d3d3d3"/><circle cx="51.4" cy="15.9" r="1.55" fill="#d3d3d3"/><circle cx="4.8" cy="19.6" r="1.55" fill="#d3d3d3"/><circle cx="73.9" cy="44.7" r="1.55" fill="#d3d3d3"/><circle cx="94.0" cy="75.4" r="1.55" fill="#d3d3d3"/><circle cx="94.0" cy="3.4" r="1.55" fill="#d3d3d3"/><circle cx="17.8" cy="1.3" r="1.55" fill="#d3d3d3"/><circle cx="17.8" cy="97.3" r="1.55" fill="#d3d3d3"/><circle cx="41.5" cy="32.5" r="1.55" fill="#d3d3d3"/><circle cx="4.9" cy="52.4" r="1.55" fill="#d3d3d3"/><circle cx="9.0" cy="29.9" r="1.55" fill="#d3d3d3"/><circle cx="23.7" cy="77.0" r="1.55" fill="#d3d3d3"/><circle cx="40.1" cy="25.0" r="1.55" fill="#d3d3d3"/><circle cx="4.2" cy="41.2" r="1.55" fill="#d3d3d3"/><circle cx="60.2" cy="64.8" r="1.55" fill="#d3d3d3"/><circle cx="87.6" cy="77.6" r="1.55" fill="#d3d3d3"/><circle cx="23.7" cy="13.0" r="1.55" fill="#d3d3d3"/><circle cx="72.8" cy="75.8" r="1.55" fill="#d3d3d3"/><circle cx="48.8" cy="79.8" r="1.55" fill="#d3d3d3"/><circle cx="53.0" cy="26.8" r="1.55" fill="#d3d3d3"/><circle cx="16.2" cy="1.6" r="1.55" fill="#d3d3d3"/><circle cx="61.7" cy="86.1" r="1.55" fill="#d3d3d3"/><circle cx="87.0" cy="44.9" r="1.55" fill="#d3d3d3"/><circle cx="63.9" cy="89.1" r="1.55" fill="#d3d3d3"/><circle cx="78.1" cy="57.9" r="1.55" fill="#d3d3d3"/><circle cx="39.8" cy="49.8" r="1.55" fill="#d3d3d3"/><circle cx="16.4" cy="17.6" r="1.55" fill="#d3d3d3"/><circle cx="65.6" cy="95.2" r="1.55" fill="#d3d3d3"/><circle cx="65.6" cy="-0.8" r="1.55" fill="#d3d3d3"/><circle cx="52.5" cy="39.2" r="1.55" fill="#d3d3d3"/><circle cx="33.8" cy="43.7" r="1.55" fill="#d3d3d3"/><circle cx="77.1" cy="43.4" r="1.55" fill="#d3d3d3"/><circle cx="92.1" cy="14.9" r="1.55" fill="#d3d3d3"/><circle cx="30.2" cy="50.1" r="1.55" fill="#d3d3d3"/><circle cx="39.5" cy="81.7" r="1.55" fill="#d3d3d3"/><circle cx="79.4" cy="89.4" r="1.55" fill="#d3d3d3"/><circle cx="58.8" cy="2.9" r="1.55" fill="#d3d3d3"/><circle cx="55.2" cy="52.8" r="1.55" fill="#d3d3d3"/><circle cx="46.8" cy="26.9" r="1.55" fill="#d3d3d3"/><circle cx="68.1" cy="87.5" r="1.55" fill="#d3d3d3"/><circle cx="9.8" cy="64.2" r="1.55" fill="#d3d3d3"/><circle cx="35.6" cy="49.4" r="1.55" fill="#d3d3d3"/><circle cx="86.0" cy="92.2" r="1.55" fill="#d3d3d3"/><circle cx="61.8" cy="18.7" r="1.55" fill="#d3d3d3"/><circle cx="88.4" cy="17.4" r="1.55" fill="#d3d3d3"/><circle cx="36.8" cy="79.5" r="1.55" fill="#d3d3d3"/><circle cx="30.4" cy="26.0" r="1.55" fill="#d3d3d3"/><circle cx="91.2" cy="90.6" r="1.55" fill="#d3d3d3"/><circle cx="30.5" cy="37.7" r="1.55" fill="#d3d3d3"/><circle cx="27.1" cy="12.6" r="1.55" fill="#d3d3d3"/><circle cx="24.0" cy="94.1" r="1.55" fill="#d3d3d3"/><circle cx="7.6" cy="22.1" r="1.55" fill="#d3d3d3"/><circle cx="19.2" cy="7.6" r="1.55" fill="#d3d3d3"/><circle cx="50.5" cy="71.3" r="1.55" fill="#d3d3d3"/><circle cx="80.5" cy="60.6" r="1.55" fill="#d3d3d3"/><circle cx="78.5" cy="0.5" r="1.55" fill="#d3d3d3"/><circle cx="78.5" cy="96.5" r="1.55" fill="#d3d3d3"/><circle cx="27.1" cy="92.3" r="1.55" fill="#d3d3d3"/><circle cx="6.7" cy="25.7" r="1.55" fill="#d3d3d3"/><circle cx="46.4" cy="25.7" r="1.55" fill="#d3d3d3"/></pattern><pattern id="pgrey2" width="96" height="96" patternUnits="userSpaceOnUse"><circle cx="59.8" cy="71.2" r="1.2" fill="#d3d3d3"/><circle cx="76.3" cy="90.5" r="1.2" fill="#d3d3d3"/><circle cx="71.0" cy="88.5" r="1.2" fill="#d3d3d3"/><circle cx="2.8" cy="44.7" r="1.2" fill="#d3d3d3"/><circle cx="90.6" cy="62.3" r="1.2" fill="#d3d3d3"/><circle cx="86.5" cy="10.9" r="1.2" fill="#d3d3d3"/><circle cx="45.0" cy="23.7" r="1.2" fill="#d3d3d3"/><circle cx="52.2" cy="55.1" r="1.2" fill="#d3d3d3"/><circle cx="1.3" cy="20.8" r="1.2" fill="#d3d3d3"/><circle cx="26.8" cy="88.0" r="1.2" fill="#d3d3d3"/><circle cx="73.5" cy="15.3" r="1.2" fill="#d3d3d3"/><circle cx="76.5" cy="13.3" r="1.2" fill="#d3d3d3"/><circle cx="59.3" cy="12.2" r="1.2" fill="#d3d3d3"/><circle cx="0.2" cy="83.7" r="1.2" fill="#d3d3d3"/><circle cx="96.2" cy="83.7" r="1.2" fill="#d3d3d3"/><circle cx="20.1" cy="20.7" r="1.2" fill="#d3d3d3"/><circle cx="94.3" cy="83.8" r="1.2" fill="#d3d3d3"/><circle cx="27.8" cy="92.3" r="1.2" fill="#d3d3d3"/><circle cx="51.8" cy="65.1" r="1.2" fill="#d3d3d3"/><circle cx="19.7" cy="90.3" r="1.2" fill="#d3d3d3"/><circle cx="66.3" cy="92.8" r="1.2" fill="#d3d3d3"/><circle cx="85.8" cy="28.7" r="1.2" fill="#d3d3d3"/><circle cx="34.7" cy="15.9" r="1.2" fill="#d3d3d3"/><circle cx="14.0" cy="6.3" r="1.2" fill="#d3d3d3"/><circle cx="28.9" cy="57.9" r="1.2" fill="#d3d3d3"/><circle cx="0.3" cy="65.1" r="1.2" fill="#d3d3d3"/><circle cx="96.3" cy="65.1" r="1.2" fill="#d3d3d3"/><circle cx="32.4" cy="29.8" r="1.2" fill="#d3d3d3"/><circle cx="78.6" cy="46.2" r="1.2" fill="#d3d3d3"/><circle cx="30.3" cy="46.2" r="1.2" fill="#d3d3d3"/><circle cx="67.6" cy="5.5" r="1.2" fill="#d3d3d3"/><circle cx="93.6" cy="2.2" r="1.2" fill="#d3d3d3"/><circle cx="72.0" cy="81.1" r="1.2" fill="#d3d3d3"/><circle cx="1.7" cy="75.6" r="1.2" fill="#d3d3d3"/><circle cx="35.2" cy="55.5" r="1.2" fill="#d3d3d3"/><circle cx="0.9" cy="4.5" r="1.2" fill="#d3d3d3"/><circle cx="96.9" cy="4.5" r="1.2" fill="#d3d3d3"/><circle cx="17.4" cy="91.7" r="1.2" fill="#d3d3d3"/><circle cx="18.9" cy="72.6" r="1.2" fill="#d3d3d3"/><circle cx="89.2" cy="90.4" r="1.2" fill="#d3d3d3"/><circle cx="33.1" cy="34.1" r="1.2" fill="#d3d3d3"/><circle cx="50.4" cy="74.5" r="1.2" fill="#d3d3d3"/><circle cx="10.4" cy="71.8" r="1.2" fill="#d3d3d3"/><circle cx="76.5" cy="82.5" r="1.2" fill="#d3d3d3"/><circle cx="3.5" cy="90.8" r="1.2" fill="#d3d3d3"/><circle cx="8.8" cy="32.7" r="1.2" fill="#d3d3d3"/><circle cx="58.6" cy="88.1" r="1.2" fill="#d3d3d3"/><circle cx="32.6" cy="88.7" r="1.2" fill="#d3d3d3"/><circle cx="52.3" cy="30.0" r="1.2" fill="#d3d3d3"/><circle cx="30.4" cy="17.0" r="1.2" fill="#d3d3d3"/><circle cx="7.5" cy="14.3" r="1.2" fill="#d3d3d3"/><circle cx="66.2" cy="95.7" r="1.2" fill="#d3d3d3"/><circle cx="66.2" cy="-0.3" r="1.2" fill="#d3d3d3"/><circle cx="15.5" cy="4.7" r="1.2" fill="#d3d3d3"/></pattern><pattern id="pyel" width="96" height="96" patternUnits="userSpaceOnUse"><circle cx="43.4" cy="53.7" r="1.5" fill="#f0f542"/><circle cx="88.7" cy="44.7" r="1.5" fill="#f0f542"/><circle cx="48.8" cy="56.4" r="1.5" fill="#f0f542"/><circle cx="17.7" cy="49.1" r="1.5" fill="#f0f542"/><circle cx="60.5" cy="76.1" r="1.5" fill="#f0f542"/><circle cx="9.0" cy="29.1" r="1.5" fill="#f0f542"/><circle cx="8.7" cy="77.7" r="1.5" fill="#f0f542"/><circle cx="66.6" cy="4.0" r="1.5" fill="#f0f542"/><circle cx="94.3" cy="92.6" r="1.5" fill="#f0f542"/><circle cx="62.8" cy="59.1" r="1.5" fill="#f0f542"/><circle cx="15.1" cy="1.4" r="1.5" fill="#f0f542"/><circle cx="15.1" cy="97.4" r="1.5" fill="#f0f542"/><circle cx="50.7" cy="5.7" r="1.5" fill="#f0f542"/><circle cx="18.3" cy="23.2" r="1.5" fill="#f0f542"/><circle cx="2.9" cy="44.5" r="1.5" fill="#f0f542"/><circle cx="42.3" cy="80.9" r="1.5" fill="#f0f542"/><circle cx="49.8" cy="61.5" r="1.5" fill="#f0f542"/><circle cx="48.0" cy="63.6" r="1.5" fill="#f0f542"/><circle cx="43.9" cy="26.7" r="1.5" fill="#f0f542"/><circle cx="95.8" cy="95.6" r="1.5" fill="#f0f542"/><circle cx="95.8" cy="-0.4" r="1.5" fill="#f0f542"/><circle cx="-0.2" cy="95.6" r="1.5" fill="#f0f542"/><circle cx="-0.2" cy="-0.4" r="1.5" fill="#f0f542"/><circle cx="80.7" cy="67.9" r="1.5" fill="#f0f542"/><circle cx="30.3" cy="22.0" r="1.5" fill="#f0f542"/><circle cx="27.7" cy="6.7" r="1.5" fill="#f0f542"/><circle cx="73.6" cy="38.4" r="1.5" fill="#f0f542"/><circle cx="81.3" cy="37.1" r="1.5" fill="#f0f542"/><circle cx="92.0" cy="81.3" r="1.5" fill="#f0f542"/><circle cx="0.1" cy="20.1" r="1.5" fill="#f0f542"/><circle cx="96.1" cy="20.1" r="1.5" fill="#f0f542"/><circle cx="87.4" cy="45.1" r="1.5" fill="#f0f542"/><circle cx="94.1" cy="38.2" r="1.5" fill="#f0f542"/><circle cx="7.0" cy="60.4" r="1.5" fill="#f0f542"/><circle cx="74.7" cy="25.9" r="1.5" fill="#f0f542"/><circle cx="8.4" cy="31.9" r="1.5" fill="#f0f542"/><circle cx="92.6" cy="72.8" r="1.5" fill="#f0f542"/><circle cx="11.3" cy="23.7" r="1.5" fill="#f0f542"/><circle cx="9.7" cy="5.7" r="1.5" fill="#f0f542"/><circle cx="76.5" cy="17.1" r="1.5" fill="#f0f542"/><circle cx="53.7" cy="43.0" r="1.5" fill="#f0f542"/><circle cx="18.3" cy="70.3" r="1.5" fill="#f0f542"/><circle cx="12.6" cy="61.8" r="1.5" fill="#f0f542"/><circle cx="11.2" cy="40.4" r="1.5" fill="#f0f542"/><circle cx="20.4" cy="25.9" r="1.5" fill="#f0f542"/><circle cx="93.2" cy="77.1" r="1.5" fill="#f0f542"/><circle cx="29.2" cy="84.9" r="1.5" fill="#f0f542"/><circle cx="20.2" cy="37.9" r="1.5" fill="#f0f542"/><circle cx="82.0" cy="61.6" r="1.5" fill="#f0f542"/><circle cx="9.6" cy="95.0" r="1.5" fill="#f0f542"/><circle cx="9.6" cy="-1.0" r="1.5" fill="#f0f542"/><circle cx="20.5" cy="24.8" r="1.5" fill="#f0f542"/><circle cx="74.2" cy="31.6" r="1.5" fill="#f0f542"/><circle cx="28.4" cy="7.0" r="1.5" fill="#f0f542"/><circle cx="8.7" cy="55.9" r="1.5" fill="#f0f542"/><circle cx="23.3" cy="57.7" r="1.5" fill="#f0f542"/><circle cx="35.7" cy="43.5" r="1.5" fill="#f0f542"/><circle cx="92.1" cy="46.4" r="1.5" fill="#f0f542"/><circle cx="55.2" cy="83.2" r="1.5" fill="#f0f542"/><circle cx="17.6" cy="14.8" r="1.5" fill="#f0f542"/><circle cx="87.2" cy="78.5" r="1.5" fill="#f0f542"/><circle cx="24.0" cy="18.2" r="1.5" fill="#f0f542"/><circle cx="71.0" cy="90.3" r="1.5" fill="#f0f542"/><circle cx="18.9" cy="91.2" r="1.5" fill="#f0f542"/><circle cx="84.7" cy="57.9" r="1.5" fill="#f0f542"/><circle cx="40.5" cy="10.0" r="1.5" fill="#f0f542"/><circle cx="3.7" cy="92.4" r="1.5" fill="#f0f542"/><circle cx="22.9" cy="67.6" r="1.5" fill="#f0f542"/><circle cx="24.7" cy="79.1" r="1.5" fill="#f0f542"/><circle cx="57.3" cy="28.2" r="1.5" fill="#f0f542"/><circle cx="16.8" cy="69.2" r="1.5" fill="#f0f542"/><circle cx="6.6" cy="21.9" r="1.5" fill="#f0f542"/><circle cx="53.7" cy="81.8" r="1.5" fill="#f0f542"/><circle cx="59.0" cy="26.9" r="1.5" fill="#f0f542"/><circle cx="88.1" cy="19.6" r="1.5" fill="#f0f542"/><circle cx="1.6" cy="25.8" r="1.5" fill="#f0f542"/><circle cx="42.8" cy="5.8" r="1.5" fill="#f0f542"/><circle cx="16.9" cy="35.4" r="1.5" fill="#f0f542"/><circle cx="54.9" cy="12.6" r="1.5" fill="#f0f542"/><circle cx="34.8" cy="85.5" r="1.5" fill="#f0f542"/><circle cx="94.1" cy="63.1" r="1.5" fill="#f0f542"/><circle cx="66.4" cy="56.1" r="1.5" fill="#f0f542"/><circle cx="13.5" cy="3.4" r="1.5" fill="#f0f542"/><circle cx="1.7" cy="87.4" r="1.5" fill="#f0f542"/><circle cx="67.3" cy="92.4" r="1.5" fill="#f0f542"/><circle cx="2.0" cy="61.1" r="1.5" fill="#f0f542"/><circle cx="46.3" cy="70.1" r="1.5" fill="#f0f542"/><circle cx="30.6" cy="95.9" r="1.5" fill="#f0f542"/><circle cx="30.6" cy="-0.1" r="1.5" fill="#f0f542"/><circle cx="7.2" cy="52.4" r="1.5" fill="#f0f542"/><circle cx="70.8" cy="86.4" r="1.5" fill="#f0f542"/><circle cx="70.8" cy="67.6" r="1.5" fill="#f0f542"/><circle cx="76.2" cy="87.8" r="1.5" fill="#f0f542"/><circle cx="33.8" cy="65.8" r="1.5" fill="#f0f542"/><circle cx="86.5" cy="83.6" r="1.5" fill="#f0f542"/><circle cx="40.0" cy="75.9" r="1.5" fill="#f0f542"/><circle cx="82.9" cy="55.0" r="1.5" fill="#f0f542"/><circle cx="60.0" cy="36.7" r="1.5" fill="#f0f542"/><circle cx="55.9" cy="58.5" r="1.5" fill="#f0f542"/><circle cx="7.7" cy="61.4" r="1.5" fill="#f0f542"/><circle cx="95.4" cy="84.5" r="1.5" fill="#f0f542"/><circle cx="-0.6" cy="84.5" r="1.5" fill="#f0f542"/><circle cx="69.9" cy="37.3" r="1.5" fill="#f0f542"/><circle cx="70.6" cy="55.8" r="1.5" fill="#f0f542"/><circle cx="42.3" cy="80.5" r="1.5" fill="#f0f542"/><circle cx="8.0" cy="72.0" r="1.5" fill="#f0f542"/><circle cx="2.9" cy="57.7" r="1.5" fill="#f0f542"/><circle cx="46.2" cy="22.1" r="1.5" fill="#f0f542"/><circle cx="67.0" cy="47.7" r="1.5" fill="#f0f542"/><circle cx="59.0" cy="88.4" r="1.5" fill="#f0f542"/><circle cx="24.6" cy="1.1" r="1.5" fill="#f0f542"/><circle cx="24.6" cy="97.1" r="1.5" fill="#f0f542"/><circle cx="28.9" cy="65.1" r="1.5" fill="#f0f542"/><circle cx="19.4" cy="16.3" r="1.5" fill="#f0f542"/><circle cx="86.9" cy="63.4" r="1.5" fill="#f0f542"/><circle cx="42.4" cy="85.6" r="1.5" fill="#f0f542"/><circle cx="31.4" cy="63.9" r="1.5" fill="#f0f542"/><circle cx="19.1" cy="41.4" r="1.5" fill="#f0f542"/><circle cx="77.4" cy="87.8" r="1.5" fill="#f0f542"/><circle cx="84.5" cy="36.9" r="1.5" fill="#f0f542"/><circle cx="56.0" cy="30.4" r="1.5" fill="#f0f542"/><circle cx="13.1" cy="47.7" r="1.5" fill="#f0f542"/><circle cx="80.4" cy="81.5" r="1.5" fill="#f0f542"/><circle cx="68.3" cy="91.2" r="1.5" fill="#f0f542"/><circle cx="26.6" cy="16.2" r="1.5" fill="#f0f542"/><circle cx="43.3" cy="26.4" r="1.5" fill="#f0f542"/><circle cx="20.6" cy="39.7" r="1.5" fill="#f0f542"/><circle cx="60.1" cy="47.4" r="1.5" fill="#f0f542"/><circle cx="30.3" cy="80.6" r="1.5" fill="#f0f542"/><circle cx="94.3" cy="43.4" r="1.5" fill="#f0f542"/><circle cx="7.2" cy="3.0" r="1.5" fill="#f0f542"/><circle cx="83.8" cy="4.0" r="1.5" fill="#f0f542"/><circle cx="68.0" cy="54.8" r="1.5" fill="#f0f542"/><circle cx="29.7" cy="76.0" r="1.5" fill="#f0f542"/><circle cx="1.8" cy="13.0" r="1.5" fill="#f0f542"/><circle cx="43.7" cy="2.4" r="1.5" fill="#f0f542"/><circle cx="79.6" cy="22.8" r="1.5" fill="#f0f542"/><circle cx="13.5" cy="4.5" r="1.5" fill="#f0f542"/><circle cx="60.4" cy="42.9" r="1.5" fill="#f0f542"/><circle cx="60.5" cy="62.9" r="1.5" fill="#f0f542"/><circle cx="77.5" cy="92.0" r="1.5" fill="#f0f542"/><circle cx="65.7" cy="19.1" r="1.5" fill="#f0f542"/><circle cx="45.6" cy="17.2" r="1.5" fill="#f0f542"/><circle cx="1.0" cy="45.3" r="1.5" fill="#f0f542"/><circle cx="97.0" cy="45.3" r="1.5" fill="#f0f542"/><circle cx="68.6" cy="17.2" r="1.5" fill="#f0f542"/><circle cx="26.1" cy="33.2" r="1.5" fill="#f0f542"/><circle cx="66.9" cy="50.0" r="1.5" fill="#f0f542"/><circle cx="59.0" cy="72.6" r="1.5" fill="#f0f542"/><circle cx="37.8" cy="76.0" r="1.5" fill="#f0f542"/><circle cx="87.0" cy="8.4" r="1.5" fill="#f0f542"/><circle cx="89.5" cy="69.3" r="1.5" fill="#f0f542"/><circle cx="12.5" cy="43.5" r="1.5" fill="#f0f542"/><circle cx="60.1" cy="87.4" r="1.5" fill="#f0f542"/><circle cx="36.2" cy="54.6" r="1.5" fill="#f0f542"/><circle cx="84.4" cy="76.5" r="1.5" fill="#f0f542"/><circle cx="90.6" cy="44.5" r="1.5" fill="#f0f542"/><circle cx="62.5" cy="19.7" r="1.5" fill="#f0f542"/><circle cx="69.3" cy="78.6" r="1.5" fill="#f0f542"/><circle cx="61.6" cy="68.9" r="1.5" fill="#f0f542"/><circle cx="20.5" cy="86.4" r="1.5" fill="#f0f542"/><circle cx="94.1" cy="93.8" r="1.5" fill="#f0f542"/><circle cx="51.5" cy="75.9" r="1.5" fill="#f0f542"/><circle cx="30.8" cy="87.4" r="1.5" fill="#f0f542"/><circle cx="82.2" cy="33.5" r="1.5" fill="#f0f542"/><circle cx="7.9" cy="42.3" r="1.5" fill="#f0f542"/><circle cx="52.8" cy="73.8" r="1.5" fill="#f0f542"/><circle cx="46.8" cy="2.7" r="1.5" fill="#f0f542"/><circle cx="77.7" cy="6.1" r="1.5" fill="#f0f542"/><circle cx="76.8" cy="16.6" r="1.5" fill="#f0f542"/><circle cx="32.2" cy="75.6" r="1.5" fill="#f0f542"/><circle cx="13.5" cy="14.3" r="1.5" fill="#f0f542"/><circle cx="49.6" cy="69.5" r="1.5" fill="#f0f542"/><circle cx="80.6" cy="66.2" r="1.5" fill="#f0f542"/><circle cx="90.8" cy="47.3" r="1.5" fill="#f0f542"/><circle cx="91.1" cy="8.3" r="1.5" fill="#f0f542"/><circle cx="21.3" cy="50.6" r="1.5" fill="#f0f542"/><circle cx="27.9" cy="70.0" r="1.5" fill="#f0f542"/><circle cx="61.3" cy="50.2" r="1.5" fill="#f0f542"/><circle cx="81.0" cy="53.8" r="1.5" fill="#f0f542"/><circle cx="29.9" cy="36.6" r="1.5" fill="#f0f542"/><circle cx="81.1" cy="86.5" r="1.5" fill="#f0f542"/><circle cx="20.0" cy="81.7" r="1.5" fill="#f0f542"/><circle cx="93.0" cy="50.3" r="1.5" fill="#f0f542"/><circle cx="55.0" cy="19.3" r="1.5" fill="#f0f542"/><circle cx="51.4" cy="48.3" r="1.5" fill="#f0f542"/><circle cx="58.1" cy="2.7" r="1.5" fill="#f0f542"/><circle cx="93.1" cy="49.5" r="1.5" fill="#f0f542"/><circle cx="38.5" cy="76.9" r="1.5" fill="#f0f542"/><circle cx="54.0" cy="47.1" r="1.5" fill="#f0f542"/><circle cx="66.3" cy="6.3" r="1.5" fill="#f0f542"/><circle cx="51.7" cy="39.7" r="1.5" fill="#f0f542"/><circle cx="91.9" cy="88.6" r="1.5" fill="#f0f542"/><circle cx="25.8" cy="45.4" r="1.5" fill="#f0f542"/><circle cx="12.2" cy="41.6" r="1.5" fill="#f0f542"/><circle cx="78.3" cy="86.5" r="1.5" fill="#f0f542"/><circle cx="45.7" cy="30.5" r="1.5" fill="#f0f542"/><circle cx="18.4" cy="59.3" r="1.5" fill="#f0f542"/><circle cx="88.8" cy="12.4" r="1.5" fill="#f0f542"/><circle cx="74.8" cy="2.2" r="1.5" fill="#f0f542"/><circle cx="18.6" cy="21.8" r="1.5" fill="#f0f542"/><circle cx="66.0" cy="30.9" r="1.5" fill="#f0f542"/><circle cx="34.1" cy="59.5" r="1.5" fill="#f0f542"/><circle cx="10.1" cy="70.2" r="1.5" fill="#f0f542"/><circle cx="11.8" cy="49.0" r="1.5" fill="#f0f542"/><circle cx="24.1" cy="19.0" r="1.5" fill="#f0f542"/><circle cx="50.9" cy="41.9" r="1.5" fill="#f0f542"/><circle cx="36.1" cy="39.7" r="1.5" fill="#f0f542"/><circle cx="50.8" cy="15.3" r="1.5" fill="#f0f542"/><circle cx="19.6" cy="60.6" r="1.5" fill="#f0f542"/><circle cx="61.3" cy="50.8" r="1.5" fill="#f0f542"/><circle cx="81.7" cy="58.7" r="1.5" fill="#f0f542"/><circle cx="82.2" cy="22.3" r="1.5" fill="#f0f542"/><circle cx="71.1" cy="77.8" r="1.5" fill="#f0f542"/><circle cx="86.7" cy="30.3" r="1.5" fill="#f0f542"/><circle cx="30.2" cy="88.6" r="1.5" fill="#f0f542"/><circle cx="20.9" cy="95.8" r="1.5" fill="#f0f542"/><circle cx="20.9" cy="-0.2" r="1.5" fill="#f0f542"/><circle cx="85.2" cy="12.9" r="1.5" fill="#f0f542"/><circle cx="23.0" cy="69.8" r="1.5" fill="#f0f542"/><circle cx="24.9" cy="9.3" r="1.5" fill="#f0f542"/><circle cx="79.9" cy="40.5" r="1.5" fill="#f0f542"/><circle cx="75.8" cy="12.1" r="1.5" fill="#f0f542"/><circle cx="38.7" cy="65.8" r="1.5" fill="#f0f542"/><circle cx="1.7" cy="19.3" r="1.5" fill="#f0f542"/><circle cx="65.5" cy="87.5" r="1.5" fill="#f0f542"/><circle cx="93.0" cy="11.1" r="1.5" fill="#f0f542"/><circle cx="48.5" cy="72.8" r="1.5" fill="#f0f542"/><circle cx="48.3" cy="65.8" r="1.5" fill="#f0f542"/><circle cx="18.1" cy="6.8" r="1.5" fill="#f0f542"/><circle cx="10.2" cy="3.6" r="1.5" fill="#f0f542"/><circle cx="53.0" cy="49.4" r="1.5" fill="#f0f542"/><circle cx="54.6" cy="14.1" r="1.5" fill="#f0f542"/><circle cx="17.7" cy="19.6" r="1.5" fill="#f0f542"/><circle cx="80.7" cy="95.1" r="1.5" fill="#f0f542"/><circle cx="80.7" cy="-0.9" r="1.5" fill="#f0f542"/><circle cx="89.0" cy="9.1" r="1.5" fill="#f0f542"/><circle cx="5.9" cy="91.3" r="1.5" fill="#f0f542"/><circle cx="44.4" cy="73.4" r="1.5" fill="#f0f542"/><circle cx="31.4" cy="44.8" r="1.5" fill="#f0f542"/><circle cx="49.5" cy="41.3" r="1.5" fill="#f0f542"/><circle cx="57.7" cy="1.3" r="1.5" fill="#f0f542"/><circle cx="57.7" cy="97.3" r="1.5" fill="#f0f542"/><circle cx="67.3" cy="81.0" r="1.5" fill="#f0f542"/><circle cx="17.4" cy="43.6" r="1.5" fill="#f0f542"/><circle cx="71.0" cy="38.9" r="1.5" fill="#f0f542"/><circle cx="18.7" cy="15.8" r="1.5" fill="#f0f542"/><circle cx="49.2" cy="1.5" r="1.5" fill="#f0f542"/><circle cx="49.2" cy="97.5" r="1.5" fill="#f0f542"/><circle cx="85.7" cy="77.0" r="1.5" fill="#f0f542"/><circle cx="67.6" cy="82.6" r="1.5" fill="#f0f542"/><circle cx="60.4" cy="38.8" r="1.5" fill="#f0f542"/><circle cx="57.6" cy="48.4" r="1.5" fill="#f0f542"/><circle cx="94.3" cy="77.3" r="1.5" fill="#f0f542"/><circle cx="24.8" cy="87.5" r="1.5" fill="#f0f542"/><circle cx="71.5" cy="74.7" r="1.5" fill="#f0f542"/><circle cx="78.2" cy="38.9" r="1.5" fill="#f0f542"/><circle cx="86.1" cy="84.5" r="1.5" fill="#f0f542"/><circle cx="66.7" cy="73.7" r="1.5" fill="#f0f542"/><circle cx="73.5" cy="39.0" r="1.5" fill="#f0f542"/><circle cx="69.4" cy="6.8" r="1.5" fill="#f0f542"/><circle cx="32.8" cy="45.0" r="1.5" fill="#f0f542"/><circle cx="1.0" cy="34.1" r="1.5" fill="#f0f542"/><circle cx="97.0" cy="34.1" r="1.5" fill="#f0f542"/><circle cx="61.3" cy="59.9" r="1.5" fill="#f0f542"/><circle cx="22.3" cy="90.7" r="1.5" fill="#f0f542"/><circle cx="63.9" cy="32.4" r="1.5" fill="#f0f542"/><circle cx="63.3" cy="54.7" r="1.5" fill="#f0f542"/><circle cx="51.2" cy="37.4" r="1.5" fill="#f0f542"/><circle cx="96.0" cy="61.7" r="1.5" fill="#f0f542"/><circle cx="-0.0" cy="61.7" r="1.5" fill="#f0f542"/><circle cx="67.3" cy="73.1" r="1.5" fill="#f0f542"/><circle cx="94.1" cy="2.2" r="1.5" fill="#f0f542"/><circle cx="59.1" cy="70.9" r="1.5" fill="#f0f542"/><circle cx="24.6" cy="38.5" r="1.5" fill="#f0f542"/><circle cx="4.8" cy="18.8" r="1.5" fill="#f0f542"/><circle cx="36.1" cy="9.5" r="1.5" fill="#f0f542"/><circle cx="24.1" cy="86.9" r="1.5" fill="#f0f542"/><circle cx="52.8" cy="48.8" r="1.5" fill="#f0f542"/><circle cx="92.8" cy="54.5" r="1.5" fill="#f0f542"/><circle cx="95.5" cy="61.2" r="1.5" fill="#f0f542"/><circle cx="-0.5" cy="61.2" r="1.5" fill="#f0f542"/><circle cx="77.7" cy="7.3" r="1.5" fill="#f0f542"/><circle cx="57.4" cy="72.9" r="1.5" fill="#f0f542"/><circle cx="4.3" cy="89.3" r="1.5" fill="#f0f542"/><circle cx="15.4" cy="45.3" r="1.5" fill="#f0f542"/><circle cx="16.2" cy="47.6" r="1.5" fill="#f0f542"/><circle cx="58.7" cy="5.6" r="1.5" fill="#f0f542"/><circle cx="90.7" cy="40.4" r="1.5" fill="#f0f542"/><circle cx="50.6" cy="57.4" r="1.5" fill="#f0f542"/><circle cx="35.1" cy="27.4" r="1.5" fill="#f0f542"/><circle cx="62.9" cy="53.8" r="1.5" fill="#f0f542"/><circle cx="27.2" cy="68.8" r="1.5" fill="#f0f542"/><circle cx="28.4" cy="1.3" r="1.5" fill="#f0f542"/><circle cx="28.4" cy="97.3" r="1.5" fill="#f0f542"/><circle cx="23.5" cy="4.1" r="1.5" fill="#f0f542"/><circle cx="15.0" cy="72.4" r="1.5" fill="#f0f542"/><circle cx="37.4" cy="86.2" r="1.5" fill="#f0f542"/><circle cx="71.8" cy="4.8" r="1.5" fill="#f0f542"/><circle cx="94.9" cy="90.7" r="1.5" fill="#f0f542"/><circle cx="-1.1" cy="90.7" r="1.5" fill="#f0f542"/><circle cx="7.1" cy="86.9" r="1.5" fill="#f0f542"/><circle cx="41.2" cy="45.9" r="1.5" fill="#f0f542"/><circle cx="93.4" cy="23.4" r="1.5" fill="#f0f542"/><circle cx="50.2" cy="90.0" r="1.5" fill="#f0f542"/><circle cx="69.4" cy="45.0" r="1.5" fill="#f0f542"/><circle cx="94.0" cy="78.4" r="1.5" fill="#f0f542"/><circle cx="57.9" cy="11.0" r="1.5" fill="#f0f542"/><circle cx="59.9" cy="43.7" r="1.5" fill="#f0f542"/><circle cx="19.6" cy="5.0" r="1.5" fill="#f0f542"/><circle cx="50.7" cy="11.9" r="1.5" fill="#f0f542"/><circle cx="42.5" cy="64.1" r="1.5" fill="#f0f542"/><circle cx="43.7" cy="25.2" r="1.5" fill="#f0f542"/><circle cx="55.9" cy="40.3" r="1.5" fill="#f0f542"/><circle cx="74.7" cy="51.0" r="1.5" fill="#f0f542"/><circle cx="95.8" cy="91.5" r="1.5" fill="#f0f542"/><circle cx="-0.2" cy="91.5" r="1.5" fill="#f0f542"/><circle cx="70.5" cy="22.9" r="1.5" fill="#f0f542"/><circle cx="10.9" cy="85.7" r="1.5" fill="#f0f542"/><circle cx="75.3" cy="60.0" r="1.5" fill="#f0f542"/><circle cx="34.5" cy="26.1" r="1.5" fill="#f0f542"/><circle cx="65.8" cy="54.2" r="1.5" fill="#f0f542"/><circle cx="56.8" cy="60.8" r="1.5" fill="#f0f542"/><circle cx="72.3" cy="18.2" r="1.5" fill="#f0f542"/><circle cx="23.9" cy="94.1" r="1.5" fill="#f0f542"/><circle cx="87.9" cy="84.4" r="1.5" fill="#f0f542"/><circle cx="3.8" cy="5.8" r="1.5" fill="#f0f542"/><circle cx="26.0" cy="40.8" r="1.5" fill="#f0f542"/><circle cx="59.8" cy="9.8" r="1.5" fill="#f0f542"/><circle cx="52.0" cy="7.0" r="1.5" fill="#f0f542"/><circle cx="8.3" cy="64.9" r="1.5" fill="#f0f542"/><circle cx="52.9" cy="60.6" r="1.5" fill="#f0f542"/><circle cx="35.8" cy="45.9" r="1.5" fill="#f0f542"/><circle cx="20.2" cy="33.0" r="1.5" fill="#f0f542"/><circle cx="71.5" cy="80.5" r="1.5" fill="#f0f542"/><circle cx="7.1" cy="11.5" r="1.5" fill="#f0f542"/><circle cx="77.7" cy="59.9" r="1.5" fill="#f0f542"/><circle cx="73.8" cy="20.5" r="1.5" fill="#f0f542"/><circle cx="40.7" cy="24.8" r="1.5" fill="#f0f542"/><circle cx="77.7" cy="35.4" r="1.5" fill="#f0f542"/><circle cx="62.8" cy="95.0" r="1.5" fill="#f0f542"/><circle cx="62.8" cy="-1.0" r="1.5" fill="#f0f542"/><circle cx="31.2" cy="52.7" r="1.5" fill="#f0f542"/><circle cx="71.6" cy="88.4" r="1.5" fill="#f0f542"/><circle cx="41.1" cy="35.4" r="1.5" fill="#f0f542"/><circle cx="9.3" cy="84.0" r="1.5" fill="#f0f542"/><circle cx="7.5" cy="8.0" r="1.5" fill="#f0f542"/><circle cx="54.2" cy="46.5" r="1.5" fill="#f0f542"/><circle cx="65.8" cy="28.7" r="1.5" fill="#f0f542"/><circle cx="74.4" cy="7.3" r="1.5" fill="#f0f542"/><circle cx="20.5" cy="63.6" r="1.5" fill="#f0f542"/><circle cx="7.8" cy="29.2" r="1.5" fill="#f0f542"/><circle cx="69.6" cy="66.6" r="1.5" fill="#f0f542"/><circle cx="27.2" cy="13.7" r="1.5" fill="#f0f542"/><circle cx="34.3" cy="69.7" r="1.5" fill="#f0f542"/><circle cx="35.2" cy="11.3" r="1.5" fill="#f0f542"/><circle cx="68.1" cy="54.7" r="1.5" fill="#f0f542"/><circle cx="88.2" cy="90.2" r="1.5" fill="#f0f542"/><circle cx="87.7" cy="42.0" r="1.5" fill="#f0f542"/><circle cx="77.1" cy="29.3" r="1.5" fill="#f0f542"/><circle cx="30.5" cy="38.4" r="1.5" fill="#f0f542"/><circle cx="89.7" cy="85.9" r="1.5" fill="#f0f542"/><circle cx="23.8" cy="34.7" r="1.5" fill="#f0f542"/><circle cx="35.1" cy="34.9" r="1.5" fill="#f0f542"/><circle cx="38.0" cy="37.2" r="1.5" fill="#f0f542"/><circle cx="18.7" cy="54.1" r="1.5" fill="#f0f542"/><circle cx="76.5" cy="51.9" r="1.5" fill="#f0f542"/><circle cx="80.3" cy="54.0" r="1.5" fill="#f0f542"/><circle cx="17.0" cy="72.9" r="1.5" fill="#f0f542"/><circle cx="84.6" cy="27.0" r="1.5" fill="#f0f542"/><circle cx="2.1" cy="49.5" r="1.5" fill="#f0f542"/><circle cx="52.2" cy="54.5" r="1.5" fill="#f0f542"/><circle cx="92.8" cy="62.5" r="1.5" fill="#f0f542"/><circle cx="77.2" cy="6.1" r="1.5" fill="#f0f542"/><circle cx="52.5" cy="75.7" r="1.5" fill="#f0f542"/><circle cx="8.1" cy="7.8" r="1.5" fill="#f0f542"/><circle cx="70.8" cy="86.3" r="1.5" fill="#f0f542"/><circle cx="8.1" cy="60.9" r="1.5" fill="#f0f542"/><circle cx="13.8" cy="71.6" r="1.5" fill="#f0f542"/><circle cx="62.3" cy="23.6" r="1.5" fill="#f0f542"/><circle cx="21.2" cy="73.5" r="1.5" fill="#f0f542"/><circle cx="50.1" cy="73.4" r="1.5" fill="#f0f542"/><circle cx="37.9" cy="32.4" r="1.5" fill="#f0f542"/><circle cx="93.0" cy="64.5" r="1.5" fill="#f0f542"/><circle cx="47.4" cy="51.6" r="1.5" fill="#f0f542"/><circle cx="69.2" cy="68.0" r="1.5" fill="#f0f542"/><circle cx="87.8" cy="39.4" r="1.5" fill="#f0f542"/><circle cx="79.3" cy="64.0" r="1.5" fill="#f0f542"/><circle cx="81.9" cy="77.4" r="1.5" fill="#f0f542"/><circle cx="80.0" cy="85.3" r="1.5" fill="#f0f542"/><circle cx="91.9" cy="61.5" r="1.5" fill="#f0f542"/><circle cx="50.3" cy="68.2" r="1.5" fill="#f0f542"/><circle cx="77.0" cy="40.5" r="1.5" fill="#f0f542"/><circle cx="40.4" cy="14.0" r="1.5" fill="#f0f542"/><circle cx="71.2" cy="95.1" r="1.5" fill="#f0f542"/><circle cx="71.2" cy="-0.9" r="1.5" fill="#f0f542"/><circle cx="36.1" cy="16.1" r="1.5" fill="#f0f542"/><circle cx="19.6" cy="40.8" r="1.5" fill="#f0f542"/><circle cx="28.0" cy="93.1" r="1.5" fill="#f0f542"/><circle cx="5.7" cy="29.6" r="1.5" fill="#f0f542"/><circle cx="11.0" cy="62.2" r="1.5" fill="#f0f542"/><circle cx="74.5" cy="17.2" r="1.5" fill="#f0f542"/><circle cx="6.0" cy="44.0" r="1.5" fill="#f0f542"/><circle cx="56.1" cy="87.3" r="1.5" fill="#f0f542"/><circle cx="3.5" cy="10.4" r="1.5" fill="#f0f542"/><circle cx="17.7" cy="20.9" r="1.5" fill="#f0f542"/><circle cx="22.6" cy="68.9" r="1.5" fill="#f0f542"/><circle cx="57.1" cy="21.5" r="1.5" fill="#f0f542"/><circle cx="17.8" cy="27.0" r="1.5" fill="#f0f542"/><circle cx="16.6" cy="72.7" r="1.5" fill="#f0f542"/><circle cx="29.9" cy="52.6" r="1.5" fill="#f0f542"/><circle cx="78.4" cy="46.0" r="1.5" fill="#f0f542"/><circle cx="25.0" cy="85.2" r="1.5" fill="#f0f542"/><circle cx="87.8" cy="32.8" r="1.5" fill="#f0f542"/><circle cx="52.5" cy="91.9" r="1.5" fill="#f0f542"/><circle cx="46.3" cy="21.2" r="1.5" fill="#f0f542"/><circle cx="4.8" cy="91.0" r="1.5" fill="#f0f542"/><circle cx="76.9" cy="37.0" r="1.5" fill="#f0f542"/><circle cx="50.6" cy="49.5" r="1.5" fill="#f0f542"/><circle cx="26.4" cy="95.1" r="1.5" fill="#f0f542"/><circle cx="26.4" cy="-0.9" r="1.5" fill="#f0f542"/><circle cx="63.1" cy="22.8" r="1.5" fill="#f0f542"/><circle cx="1.0" cy="45.4" r="1.5" fill="#f0f542"/><circle cx="97.0" cy="45.4" r="1.5" fill="#f0f542"/><circle cx="35.7" cy="76.5" r="1.5" fill="#f0f542"/><circle cx="68.5" cy="58.2" r="1.5" fill="#f0f542"/><circle cx="15.1" cy="15.1" r="1.5" fill="#f0f542"/><circle cx="30.9" cy="24.9" r="1.5" fill="#f0f542"/><circle cx="83.4" cy="49.5" r="1.5" fill="#f0f542"/><circle cx="61.1" cy="95.3" r="1.5" fill="#f0f542"/><circle cx="61.1" cy="-0.7" r="1.5" fill="#f0f542"/><circle cx="25.6" cy="51.3" r="1.5" fill="#f0f542"/><circle cx="14.5" cy="74.0" r="1.5" fill="#f0f542"/><circle cx="0.1" cy="78.9" r="1.5" fill="#f0f542"/><circle cx="96.1" cy="78.9" r="1.5" fill="#f0f542"/><circle cx="81.2" cy="78.9" r="1.5" fill="#f0f542"/><circle cx="7.9" cy="25.9" r="1.5" fill="#f0f542"/><circle cx="68.8" cy="9.3" r="1.5" fill="#f0f542"/><circle cx="46.1" cy="45.0" r="1.5" fill="#f0f542"/><circle cx="91.7" cy="56.3" r="1.5" fill="#f0f542"/><circle cx="82.3" cy="29.1" r="1.5" fill="#f0f542"/><circle cx="75.8" cy="40.0" r="1.5" fill="#f0f542"/><circle cx="88.0" cy="8.7" r="1.5" fill="#f0f542"/><circle cx="79.3" cy="20.0" r="1.5" fill="#f0f542"/><circle cx="52.2" cy="50.5" r="1.5" fill="#f0f542"/><circle cx="15.1" cy="79.9" r="1.5" fill="#f0f542"/><circle cx="29.9" cy="29.8" r="1.5" fill="#f0f542"/><circle cx="7.3" cy="29.3" r="1.5" fill="#f0f542"/><circle cx="44.9" cy="68.7" r="1.5" fill="#f0f542"/><circle cx="34.5" cy="66.0" r="1.5" fill="#f0f542"/><circle cx="10.2" cy="37.8" r="1.5" fill="#f0f542"/><circle cx="44.3" cy="92.8" r="1.5" fill="#f0f542"/><circle cx="79.7" cy="62.8" r="1.5" fill="#f0f542"/><circle cx="1.2" cy="36.2" r="1.5" fill="#f0f542"/><circle cx="97.2" cy="36.2" r="1.5" fill="#f0f542"/><circle cx="68.2" cy="22.8" r="1.5" fill="#f0f542"/><circle cx="54.2" cy="44.0" r="1.5" fill="#f0f542"/><circle cx="1.0" cy="95.2" r="1.5" fill="#f0f542"/><circle cx="1.0" cy="-0.8" r="1.5" fill="#f0f542"/><circle cx="97.0" cy="95.2" r="1.5" fill="#f0f542"/><circle cx="97.0" cy="-0.8" r="1.5" fill="#f0f542"/><circle cx="76.7" cy="19.8" r="1.5" fill="#f0f542"/><circle cx="59.1" cy="27.9" r="1.5" fill="#f0f542"/><circle cx="36.1" cy="51.8" r="1.5" fill="#f0f542"/><circle cx="28.6" cy="32.4" r="1.5" fill="#f0f542"/><circle cx="37.7" cy="64.0" r="1.5" fill="#f0f542"/><circle cx="24.6" cy="19.2" r="1.5" fill="#f0f542"/><circle cx="70.2" cy="31.6" r="1.5" fill="#f0f542"/><circle cx="90.7" cy="54.0" r="1.5" fill="#f0f542"/><circle cx="69.5" cy="31.8" r="1.5" fill="#f0f542"/><circle cx="79.4" cy="8.9" r="1.5" fill="#f0f542"/><circle cx="13.5" cy="9.1" r="1.5" fill="#f0f542"/><circle cx="65.1" cy="68.0" r="1.5" fill="#f0f542"/><circle cx="17.3" cy="38.6" r="1.5" fill="#f0f542"/><circle cx="80.3" cy="56.9" r="1.5" fill="#f0f542"/><circle cx="8.6" cy="21.8" r="1.5" fill="#f0f542"/><circle cx="15.1" cy="11.9" r="1.5" fill="#f0f542"/><circle cx="39.1" cy="7.0" r="1.5" fill="#f0f542"/><circle cx="88.4" cy="41.0" r="1.5" fill="#f0f542"/><circle cx="49.1" cy="62.1" r="1.5" fill="#f0f542"/><circle cx="73.6" cy="78.8" r="1.5" fill="#f0f542"/><circle cx="37.1" cy="31.8" r="1.5" fill="#f0f542"/><circle cx="39.6" cy="1.5" r="1.5" fill="#f0f542"/><circle cx="39.6" cy="97.5" r="1.5" fill="#f0f542"/><circle cx="38.5" cy="67.2" r="1.5" fill="#f0f542"/><circle cx="94.3" cy="75.8" r="1.5" fill="#f0f542"/><circle cx="63.4" cy="58.4" r="1.5" fill="#f0f542"/><circle cx="1.8" cy="31.8" r="1.5" fill="#f0f542"/><circle cx="32.9" cy="62.5" r="1.5" fill="#f0f542"/><circle cx="10.2" cy="36.3" r="1.5" fill="#f0f542"/><circle cx="48.9" cy="75.7" r="1.5" fill="#f0f542"/><circle cx="79.2" cy="58.7" r="1.5" fill="#f0f542"/><circle cx="15.2" cy="73.6" r="1.5" fill="#f0f542"/><circle cx="86.7" cy="52.6" r="1.5" fill="#f0f542"/><circle cx="33.8" cy="48.0" r="1.5" fill="#f0f542"/><circle cx="13.6" cy="68.5" r="1.5" fill="#f0f542"/><circle cx="94.7" cy="49.5" r="1.5" fill="#f0f542"/><circle cx="-1.3" cy="49.5" r="1.5" fill="#f0f542"/><circle cx="68.7" cy="80.2" r="1.5" fill="#f0f542"/><circle cx="18.9" cy="90.7" r="1.5" fill="#f0f542"/><circle cx="60.2" cy="19.0" r="1.5" fill="#f0f542"/><circle cx="8.0" cy="23.5" r="1.5" fill="#f0f542"/><circle cx="55.3" cy="66.9" r="1.5" fill="#f0f542"/><circle cx="31.6" cy="89.2" r="1.5" fill="#f0f542"/><circle cx="34.7" cy="44.5" r="1.5" fill="#f0f542"/><circle cx="11.9" cy="93.5" r="1.5" fill="#f0f542"/><circle cx="13.0" cy="86.8" r="1.5" fill="#f0f542"/><circle cx="52.2" cy="53.8" r="1.5" fill="#f0f542"/><circle cx="53.8" cy="25.4" r="1.5" fill="#f0f542"/><circle cx="87.3" cy="95.2" r="1.5" fill="#f0f542"/><circle cx="87.3" cy="-0.8" r="1.5" fill="#f0f542"/><circle cx="78.5" cy="57.7" r="1.5" fill="#f0f542"/><circle cx="11.8" cy="79.2" r="1.5" fill="#f0f542"/><circle cx="27.7" cy="86.1" r="1.5" fill="#f0f542"/><circle cx="23.1" cy="55.1" r="1.5" fill="#f0f542"/><circle cx="79.8" cy="17.8" r="1.5" fill="#f0f542"/><circle cx="52.6" cy="7.3" r="1.5" fill="#f0f542"/><circle cx="3.1" cy="17.3" r="1.5" fill="#f0f542"/><circle cx="94.8" cy="90.2" r="1.5" fill="#f0f542"/><circle cx="-1.2" cy="90.2" r="1.5" fill="#f0f542"/><circle cx="63.2" cy="29.5" r="1.5" fill="#f0f542"/><circle cx="64.4" cy="70.8" r="1.5" fill="#f0f542"/><circle cx="36.6" cy="56.8" r="1.5" fill="#f0f542"/><circle cx="77.2" cy="1.6" r="1.5" fill="#f0f542"/><circle cx="19.2" cy="44.9" r="1.5" fill="#f0f542"/><circle cx="13.7" cy="37.1" r="1.5" fill="#f0f542"/><circle cx="54.7" cy="16.7" r="1.5" fill="#f0f542"/><circle cx="49.9" cy="25.3" r="1.5" fill="#f0f542"/><circle cx="54.5" cy="31.9" r="1.5" fill="#f0f542"/><circle cx="61.6" cy="3.6" r="1.5" fill="#f0f542"/><circle cx="64.4" cy="13.9" r="1.5" fill="#f0f542"/><circle cx="92.1" cy="57.6" r="1.5" fill="#f0f542"/><circle cx="45.1" cy="39.5" r="1.5" fill="#f0f542"/><circle cx="59.9" cy="66.2" r="1.5" fill="#f0f542"/><circle cx="72.8" cy="72.2" r="1.5" fill="#f0f542"/><circle cx="46.6" cy="95.5" r="1.5" fill="#f0f542"/><circle cx="46.6" cy="-0.5" r="1.5" fill="#f0f542"/><circle cx="80.5" cy="82.1" r="1.5" fill="#f0f542"/><circle cx="39.3" cy="41.7" r="1.5" fill="#f0f542"/><circle cx="54.3" cy="86.9" r="1.5" fill="#f0f542"/><circle cx="50.5" cy="50.4" r="1.5" fill="#f0f542"/><circle cx="41.5" cy="86.8" r="1.5" fill="#f0f542"/><circle cx="30.8" cy="5.2" r="1.5" fill="#f0f542"/><circle cx="69.7" cy="86.4" r="1.5" fill="#f0f542"/><circle cx="70.3" cy="57.4" r="1.5" fill="#f0f542"/><circle cx="72.2" cy="29.3" r="1.5" fill="#f0f542"/><circle cx="57.0" cy="6.7" r="1.5" fill="#f0f542"/><circle cx="11.9" cy="42.9" r="1.5" fill="#f0f542"/><circle cx="48.3" cy="38.1" r="1.5" fill="#f0f542"/><circle cx="5.0" cy="66.7" r="1.5" fill="#f0f542"/><circle cx="50.5" cy="23.0" r="1.5" fill="#f0f542"/><circle cx="29.4" cy="38.0" r="1.5" fill="#f0f542"/><circle cx="22.6" cy="6.6" r="1.5" fill="#f0f542"/><circle cx="87.5" cy="92.8" r="1.5" fill="#f0f542"/><circle cx="63.9" cy="83.2" r="1.5" fill="#f0f542"/><circle cx="40.5" cy="77.3" r="1.5" fill="#f0f542"/><circle cx="21.3" cy="71.7" r="1.5" fill="#f0f542"/><circle cx="54.4" cy="86.7" r="1.5" fill="#f0f542"/><circle cx="9.5" cy="76.1" r="1.5" fill="#f0f542"/><circle cx="11.9" cy="51.6" r="1.5" fill="#f0f542"/><circle cx="91.3" cy="0.1" r="1.5" fill="#f0f542"/><circle cx="91.3" cy="96.1" r="1.5" fill="#f0f542"/><circle cx="23.4" cy="28.7" r="1.5" fill="#f0f542"/><circle cx="31.2" cy="6.0" r="1.5" fill="#f0f542"/><circle cx="85.9" cy="78.3" r="1.5" fill="#f0f542"/><circle cx="38.1" cy="34.2" r="1.5" fill="#f0f542"/><circle cx="56.2" cy="4.4" r="1.5" fill="#f0f542"/><circle cx="3.0" cy="86.3" r="1.5" fill="#f0f542"/><circle cx="29.6" cy="47.8" r="1.5" fill="#f0f542"/><circle cx="89.7" cy="93.8" r="1.5" fill="#f0f542"/><circle cx="45.4" cy="19.8" r="1.5" fill="#f0f542"/><circle cx="28.4" cy="88.6" r="1.5" fill="#f0f542"/><circle cx="86.1" cy="18.8" r="1.5" fill="#f0f542"/><circle cx="80.4" cy="34.0" r="1.5" fill="#f0f542"/><circle cx="45.4" cy="16.5" r="1.5" fill="#f0f542"/><circle cx="84.5" cy="95.6" r="1.5" fill="#f0f542"/><circle cx="84.5" cy="-0.4" r="1.5" fill="#f0f542"/><circle cx="19.4" cy="60.7" r="1.5" fill="#f0f542"/><circle cx="18.4" cy="84.5" r="1.5" fill="#f0f542"/><circle cx="4.8" cy="10.2" r="1.5" fill="#f0f542"/><circle cx="69.7" cy="30.0" r="1.5" fill="#f0f542"/><circle cx="86.4" cy="83.5" r="1.5" fill="#f0f542"/><circle cx="68.5" cy="12.9" r="1.5" fill="#f0f542"/><circle cx="66.8" cy="90.0" r="1.5" fill="#f0f542"/><circle cx="42.7" cy="7.6" r="1.5" fill="#f0f542"/><circle cx="21.4" cy="29.5" r="1.5" fill="#f0f542"/><circle cx="68.2" cy="18.9" r="1.5" fill="#f0f542"/><circle cx="17.4" cy="22.6" r="1.5" fill="#f0f542"/><circle cx="63.8" cy="75.9" r="1.5" fill="#f0f542"/><circle cx="35.8" cy="63.6" r="1.5" fill="#f0f542"/><circle cx="84.9" cy="56.6" r="1.5" fill="#f0f542"/><circle cx="22.0" cy="28.9" r="1.5" fill="#f0f542"/><circle cx="89.0" cy="64.0" r="1.5" fill="#f0f542"/><circle cx="26.6" cy="61.4" r="1.5" fill="#f0f542"/><circle cx="8.6" cy="94.4" r="1.5" fill="#f0f542"/><circle cx="42.3" cy="50.7" r="1.5" fill="#f0f542"/><circle cx="51.0" cy="4.4" r="1.5" fill="#f0f542"/><circle cx="57.6" cy="27.3" r="1.5" fill="#f0f542"/><circle cx="24.1" cy="77.1" r="1.5" fill="#f0f542"/><circle cx="8.4" cy="27.4" r="1.5" fill="#f0f542"/><circle cx="72.5" cy="23.6" r="1.5" fill="#f0f542"/><circle cx="26.8" cy="52.6" r="1.5" fill="#f0f542"/><circle cx="17.9" cy="86.1" r="1.5" fill="#f0f542"/><circle cx="94.8" cy="3.2" r="1.5" fill="#f0f542"/><circle cx="-1.2" cy="3.2" r="1.5" fill="#f0f542"/><circle cx="44.3" cy="72.1" r="1.5" fill="#f0f542"/><circle cx="36.9" cy="89.2" r="1.5" fill="#f0f542"/><circle cx="48.0" cy="17.3" r="1.5" fill="#f0f542"/><circle cx="53.4" cy="61.9" r="1.5" fill="#f0f542"/><circle cx="34.5" cy="63.2" r="1.5" fill="#f0f542"/><circle cx="75.2" cy="49.6" r="1.5" fill="#f0f542"/><circle cx="48.5" cy="81.2" r="1.5" fill="#f0f542"/><circle cx="65.7" cy="50.0" r="1.5" fill="#f0f542"/><circle cx="91.3" cy="16.7" r="1.5" fill="#f0f542"/><circle cx="74.8" cy="15.9" r="1.5" fill="#f0f542"/><circle cx="58.4" cy="22.6" r="1.5" fill="#f0f542"/><circle cx="42.3" cy="74.2" r="1.5" fill="#f0f542"/><circle cx="75.5" cy="75.9" r="1.5" fill="#f0f542"/><circle cx="22.7" cy="47.0" r="1.5" fill="#f0f542"/><circle cx="21.2" cy="55.7" r="1.5" fill="#f0f542"/><circle cx="47.9" cy="3.4" r="1.5" fill="#f0f542"/><circle cx="57.3" cy="68.6" r="1.5" fill="#f0f542"/><circle cx="55.0" cy="83.8" r="1.5" fill="#f0f542"/><circle cx="17.3" cy="14.6" r="1.5" fill="#f0f542"/><circle cx="1.7" cy="47.6" r="1.5" fill="#f0f542"/><circle cx="41.7" cy="42.4" r="1.5" fill="#f0f542"/><circle cx="25.2" cy="76.7" r="1.5" fill="#f0f542"/><circle cx="7.0" cy="87.1" r="1.5" fill="#f0f542"/><circle cx="54.6" cy="52.2" r="1.5" fill="#f0f542"/><circle cx="76.0" cy="22.8" r="1.5" fill="#f0f542"/><circle cx="14.0" cy="29.9" r="1.5" fill="#f0f542"/><circle cx="4.1" cy="30.2" r="1.5" fill="#f0f542"/><circle cx="59.6" cy="50.4" r="1.5" fill="#f0f542"/><circle cx="25.4" cy="56.5" r="1.5" fill="#f0f542"/><circle cx="8.5" cy="78.8" r="1.5" fill="#f0f542"/><circle cx="16.5" cy="24.5" r="1.5" fill="#f0f542"/><circle cx="15.3" cy="66.3" r="1.5" fill="#f0f542"/><circle cx="79.8" cy="75.5" r="1.5" fill="#f0f542"/><circle cx="5.9" cy="39.4" r="1.5" fill="#f0f542"/><circle cx="35.0" cy="20.8" r="1.5" fill="#f0f542"/><circle cx="93.2" cy="4.0" r="1.5" fill="#f0f542"/><circle cx="47.0" cy="73.1" r="1.5" fill="#f0f542"/><circle cx="94.7" cy="13.9" r="1.5" fill="#f0f542"/><circle cx="-1.3" cy="13.9" r="1.5" fill="#f0f542"/><circle cx="43.7" cy="71.5" r="1.5" fill="#f0f542"/><circle cx="3.8" cy="23.1" r="1.5" fill="#f0f542"/><circle cx="85.4" cy="13.6" r="1.5" fill="#f0f542"/><circle cx="37.7" cy="28.6" r="1.5" fill="#f0f542"/><circle cx="40.7" cy="7.3" r="1.5" fill="#f0f542"/><circle cx="3.3" cy="95.6" r="1.5" fill="#f0f542"/><circle cx="3.3" cy="-0.4" r="1.5" fill="#f0f542"/><circle cx="73.3" cy="70.5" r="1.5" fill="#f0f542"/><circle cx="22.1" cy="24.3" r="1.5" fill="#f0f542"/><circle cx="53.0" cy="23.2" r="1.5" fill="#f0f542"/><circle cx="44.3" cy="89.5" r="1.5" fill="#f0f542"/><circle cx="34.9" cy="32.4" r="1.5" fill="#f0f542"/><circle cx="94.2" cy="58.6" r="1.5" fill="#f0f542"/><circle cx="3.8" cy="38.7" r="1.5" fill="#f0f542"/><circle cx="62.4" cy="5.6" r="1.5" fill="#f0f542"/><circle cx="32.9" cy="66.7" r="1.5" fill="#f0f542"/></pattern><pattern id="pred" width="96" height="96" patternUnits="userSpaceOnUse"><circle cx="24.9" cy="65.8" r="1.2" fill="#ee2a1a"/><circle cx="65.7" cy="81.5" r="1.2" fill="#ee2a1a"/><circle cx="17.8" cy="22.1" r="1.2" fill="#ee2a1a"/><circle cx="14.1" cy="21.6" r="1.2" fill="#ee2a1a"/><circle cx="70.5" cy="12.5" r="1.2" fill="#ee2a1a"/><circle cx="51.0" cy="20.5" r="1.2" fill="#ee2a1a"/><circle cx="28.3" cy="41.4" r="1.2" fill="#ee2a1a"/><circle cx="80.4" cy="58.4" r="1.2" fill="#ee2a1a"/><circle cx="1.4" cy="26.5" r="1.2" fill="#ee2a1a"/><circle cx="14.1" cy="83.6" r="1.2" fill="#ee2a1a"/><circle cx="77.7" cy="77.4" r="1.2" fill="#ee2a1a"/><circle cx="79.3" cy="71.5" r="1.2" fill="#ee2a1a"/><circle cx="91.1" cy="76.2" r="1.2" fill="#ee2a1a"/><circle cx="24.6" cy="81.6" r="1.2" fill="#ee2a1a"/><circle cx="46.7" cy="72.5" r="1.2" fill="#ee2a1a"/><circle cx="54.2" cy="41.2" r="1.2" fill="#ee2a1a"/><circle cx="35.0" cy="41.3" r="1.2" fill="#ee2a1a"/><circle cx="30.1" cy="11.3" r="1.2" fill="#ee2a1a"/><circle cx="78.7" cy="76.6" r="1.2" fill="#ee2a1a"/><circle cx="94.6" cy="66.3" r="1.2" fill="#ee2a1a"/><circle cx="53.2" cy="71.8" r="1.2" fill="#ee2a1a"/><circle cx="12.9" cy="65.0" r="1.2" fill="#ee2a1a"/><circle cx="42.6" cy="17.0" r="1.2" fill="#ee2a1a"/><circle cx="19.5" cy="50.2" r="1.2" fill="#ee2a1a"/><circle cx="24.3" cy="44.1" r="1.2" fill="#ee2a1a"/><circle cx="58.1" cy="38.0" r="1.2" fill="#ee2a1a"/><circle cx="12.6" cy="47.1" r="1.2" fill="#ee2a1a"/><circle cx="22.6" cy="22.6" r="1.2" fill="#ee2a1a"/><circle cx="18.7" cy="35.2" r="1.2" fill="#ee2a1a"/><circle cx="7.0" cy="62.5" r="1.2" fill="#ee2a1a"/></pattern></defs>
<line x1="823.1" y1="56.0" x2="823.1" y2="269.3" stroke="#ebebeb" stroke-width="0.7" />
<line x1="845.4" y1="56.0" x2="845.4" y2="269.3" stroke="#ebebeb" stroke-width="1.1" />
<line x1="867.6" y1="56.0" x2="867.6" y2="269.3" stroke="#ebebeb" stroke-width="0.7" />
<line x1="889.9" y1="56.0" x2="889.9" y2="269.3" stroke="#ebebeb" stroke-width="1.1" />
<line x1="912.2" y1="56.0" x2="912.2" y2="269.3" stroke="#ebebeb" stroke-width="0.7" />
<line x1="934.4" y1="56.0" x2="934.4" y2="269.3" stroke="#ebebeb" stroke-width="1.1" />
<line x1="956.7" y1="56.0" x2="956.7" y2="269.3" stroke="#ebebeb" stroke-width="0.7" />
<line x1="804.9" y1="72.6" x2="975.2" y2="72.6" stroke="#ebebeb" stroke-width="0.7" />
<line x1="804.9" y1="99.3" x2="975.2" y2="99.3" stroke="#ebebeb" stroke-width="1.1" />
<line x1="804.9" y1="126.0" x2="975.2" y2="126.0" stroke="#ebebeb" stroke-width="0.7" />
<line x1="804.9" y1="152.7" x2="975.2" y2="152.7" stroke="#ebebeb" stroke-width="1.1" />
<line x1="804.9" y1="179.4" x2="975.2" y2="179.4" stroke="#ebebeb" stroke-width="0.7" />
<line x1="804.9" y1="206.1" x2="975.2" y2="206.1" stroke="#ebebeb" stroke-width="1.1" />
<line x1="804.9" y1="232.8" x2="975.2" y2="232.8" stroke="#ebebeb" stroke-width="0.7" />
<line x1="804.9" y1="259.5" x2="975.2" y2="259.5" stroke="#ebebeb" stroke-width="1.1" />
<path d="M877.9,85.7 C880.5,83.7 885.9,82.9 890.7,81.7 C895.5,80.5 901.9,79.5 906.7,78.5 C911.5,77.5 914.7,76.2 919.5,75.8 C924.4,75.4 930.8,75.5 935.6,76.1 C940.4,76.7 944.9,77.8 948.4,79.6 C951.9,81.5 954.3,83.9 956.4,87.3 C958.5,90.7 959.8,95.3 960.9,100.2 C962.0,105.0 962.6,110.8 962.8,116.2 C963.1,121.5 962.9,126.9 962.5,132.2 C962.1,137.6 961.0,143.4 960.4,148.2 C959.8,153.1 959.6,157.1 958.8,161.1 C958.0,165.1 957.6,168.8 955.6,172.3 C953.6,175.8 949.5,179.0 946.8,181.9 C944.1,184.8 942.0,186.7 939.6,189.9 C937.2,193.1 934.9,197.7 932.4,201.1 C929.8,204.6 927.0,208.6 924.4,210.8 C921.7,212.9 919.3,212.4 916.3,214.0 C913.4,215.6 909.7,218.0 906.7,220.4 C903.8,222.8 901.1,226.0 898.7,228.4 C896.3,230.8 893.5,232.4 892.3,234.8 C891.1,237.2 892.3,240.2 891.5,242.8 C890.7,245.5 888.8,249.2 887.5,250.8 C886.1,252.4 885.2,252.6 883.5,252.4 C881.7,252.3 879.1,251.9 877.1,250.0 C875.1,248.2 873.2,244.0 871.5,241.2 C869.7,238.4 868.8,236.1 866.6,233.2 C864.5,230.3 861.3,226.5 858.6,223.6 C856.0,220.7 853.3,217.7 850.6,215.6 C847.9,213.4 845.3,212.1 842.6,210.8 C839.9,209.4 837.1,209.2 834.6,207.6 C832.0,206.0 829.6,203.8 827.4,201.1 C825.1,198.5 823.0,195.3 821.0,191.5 C819.0,187.8 816.7,183.2 815.3,178.7 C814.0,174.2 813.2,169.4 812.9,164.3 C812.7,159.2 813.2,153.1 813.7,148.2 C814.3,143.4 815.1,139.2 816.1,135.4 C817.2,131.7 818.3,128.7 820.2,125.8 C822.0,122.9 824.7,120.5 827.4,117.8 C830.0,115.1 833.1,112.3 836.2,109.8 C839.3,107.2 842.6,103.5 845.8,102.6 C849.0,101.6 852.2,104.3 855.4,104.2 C858.6,104.0 861.8,103.5 865.0,101.8 C868.2,100.0 872.5,96.4 874.7,93.7 C876.8,91.1 875.2,87.7 877.9,85.7 Z" fill="#d3d3d3" stroke="#d3d3d3" stroke-width="2" />
<path d="M877.9,85.7 C880.5,83.7 885.9,82.9 890.7,81.7 C895.5,80.5 901.9,79.5 906.7,78.5 C911.5,77.5 914.7,76.2 919.5,75.8 C924.4,75.4 930.8,75.5 935.6,76.1 C940.4,76.7 944.9,77.8 948.4,79.6 C951.9,81.5 954.3,83.9 956.4,87.3 C958.5,90.7 959.8,95.3 960.9,100.2 C962.0,105.0 962.6,110.8 962.8,116.2 C963.1,121.5 962.9,126.9 962.5,132.2 C962.1,137.6 961.0,143.4 960.4,148.2 C959.8,153.1 959.6,157.1 958.8,161.1 C958.0,165.1 957.6,168.8 955.6,172.3 C953.6,175.8 949.5,179.0 946.8,181.9 C944.1,184.8 942.0,186.7 939.6,189.9 C937.2,193.1 934.9,197.7 932.4,201.1 C929.8,204.6 927.0,208.6 924.4,210.8 C921.7,212.9 919.3,212.4 916.3,214.0 C913.4,215.6 909.7,218.0 906.7,220.4 C903.8,222.8 901.1,226.0 898.7,228.4 C896.3,230.8 893.5,232.4 892.3,234.8 C891.1,237.2 892.3,240.2 891.5,242.8 C890.7,245.5 888.8,249.2 887.5,250.8 C886.1,252.4 885.2,252.6 883.5,252.4 C881.7,252.3 879.1,251.9 877.1,250.0 C875.1,248.2 873.2,244.0 871.5,241.2 C869.7,238.4 868.8,236.1 866.6,233.2 C864.5,230.3 861.3,226.5 858.6,223.6 C856.0,220.7 853.3,217.7 850.6,215.6 C847.9,213.4 845.3,212.1 842.6,210.8 C839.9,209.4 837.1,209.2 834.6,207.6 C832.0,206.0 829.6,203.8 827.4,201.1 C825.1,198.5 823.0,195.3 821.0,191.5 C819.0,187.8 816.7,183.2 815.3,178.7 C814.0,174.2 813.2,169.4 812.9,164.3 C812.7,159.2 813.2,153.1 813.7,148.2 C814.3,143.4 815.1,139.2 816.1,135.4 C817.2,131.7 818.3,128.7 820.2,125.8 C822.0,122.9 824.7,120.5 827.4,117.8 C830.0,115.1 833.1,112.3 836.2,109.8 C839.3,107.2 842.6,103.5 845.8,102.6 C849.0,101.6 852.2,104.3 855.4,104.2 C858.6,104.0 861.8,103.5 865.0,101.8 C868.2,100.0 872.5,96.4 874.7,93.7 C876.8,91.1 875.2,87.7 877.9,85.7 Z" fill="#fa2214" stroke="#fa2214" stroke-width="0.3" />
<path d="M877.9,85.7 C880.5,83.7 885.9,82.9 890.7,81.7 C895.5,80.5 901.9,79.5 906.7,78.5 C911.5,77.5 914.7,76.2 919.5,75.8 C924.4,75.4 930.8,75.5 935.6,76.1 C940.4,76.7 944.9,77.8 948.4,79.6 C951.9,81.5 954.3,83.9 956.4,87.3 C958.5,90.7 959.8,95.3 960.9,100.2 C962.0,105.0 962.6,110.8 962.8,116.2 C963.1,121.5 962.9,126.9 962.5,132.2 C962.1,137.6 961.0,143.4 960.4,148.2 C959.8,153.1 959.6,157.1 958.8,161.1 C958.0,165.1 957.6,168.8 955.6,172.3 C953.6,175.8 949.5,179.0 946.8,181.9 C944.1,184.8 942.0,186.7 939.6,189.9 C937.2,193.1 934.9,197.7 932.4,201.1 C929.8,204.6 927.0,208.6 924.4,210.8 C921.7,212.9 919.3,212.4 916.3,214.0 C913.4,215.6 909.7,218.0 906.7,220.4 C903.8,222.8 901.1,226.0 898.7,228.4 C896.3,230.8 893.5,232.4 892.3,234.8 C891.1,237.2 892.3,240.2 891.5,242.8 C890.7,245.5 888.8,249.2 887.5,250.8 C886.1,252.4 885.2,252.6 883.5,252.4 C881.7,252.3 879.1,251.9 877.1,250.0 C875.1,248.2 873.2,244.0 871.5,241.2 C869.7,238.4 868.8,236.1 866.6,233.2 C864.5,230.3 861.3,226.5 858.6,223.6 C856.0,220.7 853.3,217.7 850.6,215.6 C847.9,213.4 845.3,212.1 842.6,210.8 C839.9,209.4 837.1,209.2 834.6,207.6 C832.0,206.0 829.6,203.8 827.4,201.1 C825.1,198.5 823.0,195.3 821.0,191.5 C819.0,187.8 816.7,183.2 815.3,178.7 C814.0,174.2 813.2,169.4 812.9,164.3 C812.7,159.2 813.2,153.1 813.7,148.2 C814.3,143.4 815.1,139.2 816.1,135.4 C817.2,131.7 818.3,128.7 820.2,125.8 C822.0,122.9 824.7,120.5 827.4,117.8 C830.0,115.1 833.1,112.3 836.2,109.8 C839.3,107.2 842.6,103.5 845.8,102.6 C849.0,101.6 852.2,104.3 855.4,104.2 C858.6,104.0 861.8,103.5 865.0,101.8 C868.2,100.0 872.5,96.4 874.7,93.7 C876.8,91.1 875.2,87.7 877.9,85.7 Z" fill="url(#pgrey)" />
<text x="799.3" y="105.1" font-size="16.3" fill="#4d4d4d" text-anchor="end" >3</text>
<text x="799.3" y="158.5" font-size="16.3" fill="#4d4d4d" text-anchor="end" >0</text>
<text x="799.3" y="211.9" font-size="16.3" fill="#4d4d4d" text-anchor="end" >-3</text>
<text x="799.3" y="265.3" font-size="16.3" fill="#4d4d4d" text-anchor="end" >-6</text>
<text x="845.4" y="287.2" font-size="16.3" fill="#4d4d4d" text-anchor="middle" >-4</text>
<text x="889.9" y="287.2" font-size="16.3" fill="#4d4d4d" text-anchor="middle" >0</text>
<text x="934.4" y="287.2" font-size="16.3" fill="#4d4d4d" text-anchor="middle" >4</text>
<text x="889.9" y="305.5" font-size="17.7" fill="#000" text-anchor="middle" textLength="64.0" lengthAdjust="spacingAndGlyphs" >umap_1</text>
<text x="777.9" y="161.7" font-size="17.7" fill="#000" text-anchor="middle" textLength="64.0" lengthAdjust="spacingAndGlyphs" transform="rotate(-90 777.9 161.7)" >umap_2</text>
<text x="797.7" y="47.6" font-size="22.9" fill="#ff1a14" text-anchor="start" font-weight="bold" textLength="69.7" lengthAdjust="spacingAndGlyphs" >LMNA</text>
<line x1="1046.3" y1="56.0" x2="1046.3" y2="269.3" stroke="#ebebeb" stroke-width="0.7" />
<line x1="1068.6" y1="56.0" x2="1068.6" y2="269.3" stroke="#ebebeb" stroke-width="1.1" />
<line x1="1090.8" y1="56.0" x2="1090.8" y2="269.3" stroke="#ebebeb" stroke-width="0.7" />
<line x1="1113.1" y1="56.0" x2="1113.1" y2="269.3" stroke="#ebebeb" stroke-width="1.1" />
<line x1="1135.4" y1="56.0" x2="1135.4" y2="269.3" stroke="#ebebeb" stroke-width="0.7" />
<line x1="1157.6" y1="56.0" x2="1157.6" y2="269.3" stroke="#ebebeb" stroke-width="1.1" />
<line x1="1179.9" y1="56.0" x2="1179.9" y2="269.3" stroke="#ebebeb" stroke-width="0.7" />
<line x1="1028.1" y1="72.6" x2="1198.4" y2="72.6" stroke="#ebebeb" stroke-width="0.7" />
<line x1="1028.1" y1="99.3" x2="1198.4" y2="99.3" stroke="#ebebeb" stroke-width="1.1" />
<line x1="1028.1" y1="126.0" x2="1198.4" y2="126.0" stroke="#ebebeb" stroke-width="0.7" />
<line x1="1028.1" y1="152.7" x2="1198.4" y2="152.7" stroke="#ebebeb" stroke-width="1.1" />
<line x1="1028.1" y1="179.4" x2="1198.4" y2="179.4" stroke="#ebebeb" stroke-width="0.7" />
<line x1="1028.1" y1="206.1" x2="1198.4" y2="206.1" stroke="#ebebeb" stroke-width="1.1" />
<line x1="1028.1" y1="232.8" x2="1198.4" y2="232.8" stroke="#ebebeb" stroke-width="0.7" />
<line x1="1028.1" y1="259.5" x2="1198.4" y2="259.5" stroke="#ebebeb" stroke-width="1.1" />
<path d="M1101.1,85.7 C1103.7,83.7 1109.1,82.9 1113.9,81.7 C1118.7,80.5 1125.1,79.5 1129.9,78.5 C1134.7,77.5 1137.9,76.2 1142.7,75.8 C1147.6,75.4 1154.0,75.5 1158.8,76.1 C1163.6,76.7 1168.1,77.8 1171.6,79.6 C1175.1,81.5 1177.5,83.9 1179.6,87.3 C1181.7,90.7 1183.0,95.3 1184.1,100.2 C1185.2,105.0 1185.8,110.8 1186.0,116.2 C1186.3,121.5 1186.1,126.9 1185.7,132.2 C1185.3,137.6 1184.2,143.4 1183.6,148.2 C1183.0,153.1 1182.8,157.1 1182.0,161.1 C1181.2,165.1 1180.8,168.8 1178.8,172.3 C1176.8,175.8 1172.7,179.0 1170.0,181.9 C1167.3,184.8 1165.2,186.7 1162.8,189.9 C1160.4,193.1 1158.1,197.7 1155.6,201.1 C1153.0,204.6 1150.2,208.6 1147.6,210.8 C1144.9,212.9 1142.5,212.4 1139.5,214.0 C1136.6,215.6 1132.9,218.0 1129.9,220.4 C1127.0,222.8 1124.3,226.0 1121.9,228.4 C1119.5,230.8 1116.7,232.4 1115.5,234.8 C1114.3,237.2 1115.5,240.2 1114.7,242.8 C1113.9,245.5 1112.0,249.2 1110.7,250.8 C1109.3,252.4 1108.4,252.6 1106.7,252.4 C1104.9,252.3 1102.3,251.9 1100.3,250.0 C1098.3,248.2 1096.4,244.0 1094.7,241.2 C1092.9,238.4 1092.0,236.1 1089.8,233.2 C1087.7,230.3 1084.5,226.5 1081.8,223.6 C1079.2,220.7 1076.5,217.7 1073.8,215.6 C1071.1,213.4 1068.5,212.1 1065.8,210.8 C1063.1,209.4 1060.3,209.2 1057.8,207.6 C1055.2,206.0 1052.8,203.8 1050.6,201.1 C1048.3,198.5 1046.2,195.3 1044.2,191.5 C1042.2,187.8 1039.9,183.2 1038.5,178.7 C1037.2,174.2 1036.4,169.4 1036.1,164.3 C1035.9,159.2 1036.4,153.1 1036.9,148.2 C1037.5,143.4 1038.3,139.2 1039.3,135.4 C1040.4,131.7 1041.5,128.7 1043.4,125.8 C1045.2,122.9 1047.9,120.5 1050.6,117.8 C1053.2,115.1 1056.3,112.3 1059.4,109.8 C1062.5,107.2 1065.8,103.5 1069.0,102.6 C1072.2,101.6 1075.4,104.3 1078.6,104.2 C1081.8,104.0 1085.0,103.5 1088.2,101.8 C1091.4,100.0 1095.7,96.4 1097.9,93.7 C1100.0,91.1 1098.4,87.7 1101.1,85.7 Z" fill="#d3d3d3" stroke="#d3d3d3" stroke-width="2" />
<path d="M1101.1,85.7 C1103.7,83.7 1109.1,82.9 1113.9,81.7 C1118.7,80.5 1125.1,79.5 1129.9,78.5 C1134.7,77.5 1137.9,76.2 1142.7,75.8 C1147.6,75.4 1154.0,75.5 1158.8,76.1 C1163.6,76.7 1168.1,77.8 1171.6,79.6 C1175.1,81.5 1177.5,83.9 1179.6,87.3 C1181.7,90.7 1183.0,95.3 1184.1,100.2 C1185.2,105.0 1185.8,110.8 1186.0,116.2 C1186.3,121.5 1186.1,126.9 1185.7,132.2 C1185.3,137.6 1184.2,143.4 1183.6,148.2 C1183.0,153.1 1182.8,157.1 1182.0,161.1 C1181.2,165.1 1180.8,168.8 1178.8,172.3 C1176.8,175.8 1172.7,179.0 1170.0,181.9 C1167.3,184.8 1165.2,186.7 1162.8,189.9 C1160.4,193.1 1158.1,197.7 1155.6,201.1 C1153.0,204.6 1150.2,208.6 1147.6,210.8 C1144.9,212.9 1142.5,212.4 1139.5,214.0 C1136.6,215.6 1132.9,218.0 1129.9,220.4 C1127.0,222.8 1124.3,226.0 1121.9,228.4 C1119.5,230.8 1116.7,232.4 1115.5,234.8 C1114.3,237.2 1115.5,240.2 1114.7,242.8 C1113.9,245.5 1112.0,249.2 1110.7,250.8 C1109.3,252.4 1108.4,252.6 1106.7,252.4 C1104.9,252.3 1102.3,251.9 1100.3,250.0 C1098.3,248.2 1096.4,244.0 1094.7,241.2 C1092.9,238.4 1092.0,236.1 1089.8,233.2 C1087.7,230.3 1084.5,226.5 1081.8,223.6 C1079.2,220.7 1076.5,217.7 1073.8,215.6 C1071.1,213.4 1068.5,212.1 1065.8,210.8 C1063.1,209.4 1060.3,209.2 1057.8,207.6 C1055.2,206.0 1052.8,203.8 1050.6,201.1 C1048.3,198.5 1046.2,195.3 1044.2,191.5 C1042.2,187.8 1039.9,183.2 1038.5,178.7 C1037.2,174.2 1036.4,169.4 1036.1,164.3 C1035.9,159.2 1036.4,153.1 1036.9,148.2 C1037.5,143.4 1038.3,139.2 1039.3,135.4 C1040.4,131.7 1041.5,128.7 1043.4,125.8 C1045.2,122.9 1047.9,120.5 1050.6,117.8 C1053.2,115.1 1056.3,112.3 1059.4,109.8 C1062.5,107.2 1065.8,103.5 1069.0,102.6 C1072.2,101.6 1075.4,104.3 1078.6,104.2 C1081.8,104.0 1085.0,103.5 1088.2,101.8 C1091.4,100.0 1095.7,96.4 1097.9,93.7 C1100.0,91.1 1098.4,87.7 1101.1,85.7 Z" fill="#44ff0a" stroke="#44ff0a" stroke-width="0.3" />
<path d="M1101.1,85.7 C1103.7,83.7 1109.1,82.9 1113.9,81.7 C1118.7,80.5 1125.1,79.5 1129.9,78.5 C1134.7,77.5 1137.9,76.2 1142.7,75.8 C1147.6,75.4 1154.0,75.5 1158.8,76.1 C1163.6,76.7 1168.1,77.8 1171.6,79.6 C1175.1,81.5 1177.5,83.9 1179.6,87.3 C1181.7,90.7 1183.0,95.3 1184.1,100.2 C1185.2,105.0 1185.8,110.8 1186.0,116.2 C1186.3,121.5 1186.1,126.9 1185.7,132.2 C1185.3,137.6 1184.2,143.4 1183.6,148.2 C1183.0,153.1 1182.8,157.1 1182.0,161.1 C1181.2,165.1 1180.8,168.8 1178.8,172.3 C1176.8,175.8 1172.7,179.0 1170.0,181.9 C1167.3,184.8 1165.2,186.7 1162.8,189.9 C1160.4,193.1 1158.1,197.7 1155.6,201.1 C1153.0,204.6 1150.2,208.6 1147.6,210.8 C1144.9,212.9 1142.5,212.4 1139.5,214.0 C1136.6,215.6 1132.9,218.0 1129.9,220.4 C1127.0,222.8 1124.3,226.0 1121.9,228.4 C1119.5,230.8 1116.7,232.4 1115.5,234.8 C1114.3,237.2 1115.5,240.2 1114.7,242.8 C1113.9,245.5 1112.0,249.2 1110.7,250.8 C1109.3,252.4 1108.4,252.6 1106.7,252.4 C1104.9,252.3 1102.3,251.9 1100.3,250.0 C1098.3,248.2 1096.4,244.0 1094.7,241.2 C1092.9,238.4 1092.0,236.1 1089.8,233.2 C1087.7,230.3 1084.5,226.5 1081.8,223.6 C1079.2,220.7 1076.5,217.7 1073.8,215.6 C1071.1,213.4 1068.5,212.1 1065.8,210.8 C1063.1,209.4 1060.3,209.2 1057.8,207.6 C1055.2,206.0 1052.8,203.8 1050.6,201.1 C1048.3,198.5 1046.2,195.3 1044.2,191.5 C1042.2,187.8 1039.9,183.2 1038.5,178.7 C1037.2,174.2 1036.4,169.4 1036.1,164.3 C1035.9,159.2 1036.4,153.1 1036.9,148.2 C1037.5,143.4 1038.3,139.2 1039.3,135.4 C1040.4,131.7 1041.5,128.7 1043.4,125.8 C1045.2,122.9 1047.9,120.5 1050.6,117.8 C1053.2,115.1 1056.3,112.3 1059.4,109.8 C1062.5,107.2 1065.8,103.5 1069.0,102.6 C1072.2,101.6 1075.4,104.3 1078.6,104.2 C1081.8,104.0 1085.0,103.5 1088.2,101.8 C1091.4,100.0 1095.7,96.4 1097.9,93.7 C1100.0,91.1 1098.4,87.7 1101.1,85.7 Z" fill="url(#pgrey2)" />
<text x="1022.5" y="105.1" font-size="16.3" fill="#4d4d4d" text-anchor="end" >3</text>
<text x="1022.5" y="158.5" font-size="16.3" fill="#4d4d4d" text-anchor="end" >0</text>
<text x="1022.5" y="211.9" font-size="16.3" fill="#4d4d4d" text-anchor="end" >-3</text>
<text x="1022.5" y="265.3" font-size="16.3" fill="#4d4d4d" text-anchor="end" >-6</text>
<text x="1068.6" y="287.2" font-size="16.3" fill="#4d4d4d" text-anchor="middle" >-4</text>
<text x="1113.1" y="287.2" font-size="16.3" fill="#4d4d4d" text-anchor="middle" >0</text>
<text x="1157.6" y="287.2" font-size="16.3" fill="#4d4d4d" text-anchor="middle" >4</text>
<text x="1113.1" y="305.5" font-size="17.7" fill="#000" text-anchor="middle" textLength="64.0" lengthAdjust="spacingAndGlyphs" >umap_1</text>
<text x="1001.1" y="161.7" font-size="17.7" fill="#000" text-anchor="middle" textLength="64.0" lengthAdjust="spacingAndGlyphs" transform="rotate(-90 1001.1 161.7)" >umap_2</text>
<text x="1026.2" y="47.6" font-size="22.9" fill="#3dbf55" text-anchor="start" font-weight="bold" textLength="84.0" lengthAdjust="spacingAndGlyphs" >PRKDC</text>
<line x1="1269.0" y1="56.0" x2="1269.0" y2="269.3" stroke="#ebebeb" stroke-width="0.7" />
<line x1="1291.3" y1="56.0" x2="1291.3" y2="269.3" stroke="#ebebeb" stroke-width="1.1" />
<line x1="1313.5" y1="56.0" x2="1313.5" y2="269.3" stroke="#ebebeb" stroke-width="0.7" />
<line x1="1335.8" y1="56.0" x2="1335.8" y2="269.3" stroke="#ebebeb" stroke-width="1.1" />
<line x1="1358.1" y1="56.0" x2="1358.1" y2="269.3" stroke="#ebebeb" stroke-width="0.7" />
<line x1="1380.3" y1="56.0" x2="1380.3" y2="269.3" stroke="#ebebeb" stroke-width="1.1" />
<line x1="1402.6" y1="56.0" x2="1402.6" y2="269.3" stroke="#ebebeb" stroke-width="0.7" />
<line x1="1250.8" y1="72.6" x2="1421.1" y2="72.6" stroke="#ebebeb" stroke-width="0.7" />
<line x1="1250.8" y1="99.3" x2="1421.1" y2="99.3" stroke="#ebebeb" stroke-width="1.1" />
<line x1="1250.8" y1="126.0" x2="1421.1" y2="126.0" stroke="#ebebeb" stroke-width="0.7" />
<line x1="1250.8" y1="152.7" x2="1421.1" y2="152.7" stroke="#ebebeb" stroke-width="1.1" />
<line x1="1250.8" y1="179.4" x2="1421.1" y2="179.4" stroke="#ebebeb" stroke-width="0.7" />
<line x1="1250.8" y1="206.1" x2="1421.1" y2="206.1" stroke="#ebebeb" stroke-width="1.1" />
<line x1="1250.8" y1="232.8" x2="1421.1" y2="232.8" stroke="#ebebeb" stroke-width="0.7" />
<line x1="1250.8" y1="259.5" x2="1421.1" y2="259.5" stroke="#ebebeb" stroke-width="1.1" />
<path d="M1323.8,85.7 C1326.4,83.7 1331.8,82.9 1336.6,81.7 C1341.4,80.5 1347.8,79.5 1352.6,78.5 C1357.4,77.5 1360.6,76.2 1365.4,75.8 C1370.3,75.4 1376.7,75.5 1381.5,76.1 C1386.3,76.7 1390.8,77.8 1394.3,79.6 C1397.8,81.5 1400.2,83.9 1402.3,87.3 C1404.4,90.7 1405.7,95.3 1406.8,100.2 C1407.9,105.0 1408.5,110.8 1408.7,116.2 C1409.0,121.5 1408.8,126.9 1408.4,132.2 C1408.0,137.6 1406.9,143.4 1406.3,148.2 C1405.7,153.1 1405.5,157.1 1404.7,161.1 C1403.9,165.1 1403.5,168.8 1401.5,172.3 C1399.5,175.8 1395.4,179.0 1392.7,181.9 C1390.0,184.8 1387.9,186.7 1385.5,189.9 C1383.1,193.1 1380.8,197.7 1378.3,201.1 C1375.7,204.6 1372.9,208.6 1370.3,210.8 C1367.6,212.9 1365.2,212.4 1362.2,214.0 C1359.3,215.6 1355.6,218.0 1352.6,220.4 C1349.7,222.8 1347.0,226.0 1344.6,228.4 C1342.2,230.8 1339.4,232.4 1338.2,234.8 C1337.0,237.2 1338.2,240.2 1337.4,242.8 C1336.6,245.5 1334.7,249.2 1333.4,250.8 C1332.0,252.4 1331.1,252.6 1329.4,252.4 C1327.6,252.3 1325.0,251.9 1323.0,250.0 C1321.0,248.2 1319.1,244.0 1317.4,241.2 C1315.6,238.4 1314.7,236.1 1312.5,233.2 C1310.4,230.3 1307.2,226.5 1304.5,223.6 C1301.9,220.7 1299.2,217.7 1296.5,215.6 C1293.8,213.4 1291.2,212.1 1288.5,210.8 C1285.8,209.4 1283.0,209.2 1280.5,207.6 C1277.9,206.0 1275.5,203.8 1273.3,201.1 C1271.0,198.5 1268.9,195.3 1266.9,191.5 C1264.9,187.8 1262.6,183.2 1261.2,178.7 C1259.9,174.2 1259.1,169.4 1258.8,164.3 C1258.6,159.2 1259.1,153.1 1259.6,148.2 C1260.2,143.4 1261.0,139.2 1262.0,135.4 C1263.1,131.7 1264.2,128.7 1266.1,125.8 C1267.9,122.9 1270.6,120.5 1273.3,117.8 C1275.9,115.1 1279.0,112.3 1282.1,109.8 C1285.2,107.2 1288.5,103.5 1291.7,102.6 C1294.9,101.6 1298.1,104.3 1301.3,104.2 C1304.5,104.0 1307.7,103.5 1310.9,101.8 C1314.1,100.0 1318.4,96.4 1320.6,93.7 C1322.7,91.1 1321.1,87.7 1323.8,85.7 Z" fill="#d3d3d3" stroke="#d3d3d3" stroke-width="2" />
<path d="M1323.8,85.7 C1326.4,83.7 1331.8,82.9 1336.6,81.7 C1341.4,80.5 1347.8,79.5 1352.6,78.5 C1357.4,77.5 1360.6,76.2 1365.4,75.8 C1370.3,75.4 1376.7,75.5 1381.5,76.1 C1386.3,76.7 1390.8,77.8 1394.3,79.6 C1397.8,81.5 1400.2,83.9 1402.3,87.3 C1404.4,90.7 1405.7,95.3 1406.8,100.2 C1407.9,105.0 1408.5,110.8 1408.7,116.2 C1409.0,121.5 1408.8,126.9 1408.4,132.2 C1408.0,137.6 1406.9,143.4 1406.3,148.2 C1405.7,153.1 1405.5,157.1 1404.7,161.1 C1403.9,165.1 1403.5,168.8 1401.5,172.3 C1399.5,175.8 1395.4,179.0 1392.7,181.9 C1390.0,184.8 1387.9,186.7 1385.5,189.9 C1383.1,193.1 1380.8,197.7 1378.3,201.1 C1375.7,204.6 1372.9,208.6 1370.3,210.8 C1367.6,212.9 1365.2,212.4 1362.2,214.0 C1359.3,215.6 1355.6,218.0 1352.6,220.4 C1349.7,222.8 1347.0,226.0 1344.6,228.4 C1342.2,230.8 1339.4,232.4 1338.2,234.8 C1337.0,237.2 1338.2,240.2 1337.4,242.8 C1336.6,245.5 1334.7,249.2 1333.4,250.8 C1332.0,252.4 1331.1,252.6 1329.4,252.4 C1327.6,252.3 1325.0,251.9 1323.0,250.0 C1321.0,248.2 1319.1,244.0 1317.4,241.2 C1315.6,238.4 1314.7,236.1 1312.5,233.2 C1310.4,230.3 1307.2,226.5 1304.5,223.6 C1301.9,220.7 1299.2,217.7 1296.5,215.6 C1293.8,213.4 1291.2,212.1 1288.5,210.8 C1285.8,209.4 1283.0,209.2 1280.5,207.6 C1277.9,206.0 1275.5,203.8 1273.3,201.1 C1271.0,198.5 1268.9,195.3 1266.9,191.5 C1264.9,187.8 1262.6,183.2 1261.2,178.7 C1259.9,174.2 1259.1,169.4 1258.8,164.3 C1258.6,159.2 1259.1,153.1 1259.6,148.2 C1260.2,143.4 1261.0,139.2 1262.0,135.4 C1263.1,131.7 1264.2,128.7 1266.1,125.8 C1267.9,122.9 1270.6,120.5 1273.3,117.8 C1275.9,115.1 1279.0,112.3 1282.1,109.8 C1285.2,107.2 1288.5,103.5 1291.7,102.6 C1294.9,101.6 1298.1,104.3 1301.3,104.2 C1304.5,104.0 1307.7,103.5 1310.9,101.8 C1314.1,100.0 1318.4,96.4 1320.6,93.7 C1322.7,91.1 1321.1,87.7 1323.8,85.7 Z" fill="#44ff0a" stroke="#44ff0a" stroke-width="0.3" />
<path d="M1323.8,85.7 C1326.4,83.7 1331.8,82.9 1336.6,81.7 C1341.4,80.5 1347.8,79.5 1352.6,78.5 C1357.4,77.5 1360.6,76.2 1365.4,75.8 C1370.3,75.4 1376.7,75.5 1381.5,76.1 C1386.3,76.7 1390.8,77.8 1394.3,79.6 C1397.8,81.5 1400.2,83.9 1402.3,87.3 C1404.4,90.7 1405.7,95.3 1406.8,100.2 C1407.9,105.0 1408.5,110.8 1408.7,116.2 C1409.0,121.5 1408.8,126.9 1408.4,132.2 C1408.0,137.6 1406.9,143.4 1406.3,148.2 C1405.7,153.1 1405.5,157.1 1404.7,161.1 C1403.9,165.1 1403.5,168.8 1401.5,172.3 C1399.5,175.8 1395.4,179.0 1392.7,181.9 C1390.0,184.8 1387.9,186.7 1385.5,189.9 C1383.1,193.1 1380.8,197.7 1378.3,201.1 C1375.7,204.6 1372.9,208.6 1370.3,210.8 C1367.6,212.9 1365.2,212.4 1362.2,214.0 C1359.3,215.6 1355.6,218.0 1352.6,220.4 C1349.7,222.8 1347.0,226.0 1344.6,228.4 C1342.2,230.8 1339.4,232.4 1338.2,234.8 C1337.0,237.2 1338.2,240.2 1337.4,242.8 C1336.6,245.5 1334.7,249.2 1333.4,250.8 C1332.0,252.4 1331.1,252.6 1329.4,252.4 C1327.6,252.3 1325.0,251.9 1323.0,250.0 C1321.0,248.2 1319.1,244.0 1317.4,241.2 C1315.6,238.4 1314.7,236.1 1312.5,233.2 C1310.4,230.3 1307.2,226.5 1304.5,223.6 C1301.9,220.7 1299.2,217.7 1296.5,215.6 C1293.8,213.4 1291.2,212.1 1288.5,210.8 C1285.8,209.4 1283.0,209.2 1280.5,207.6 C1277.9,206.0 1275.5,203.8 1273.3,201.1 C1271.0,198.5 1268.9,195.3 1266.9,191.5 C1264.9,187.8 1262.6,183.2 1261.2,178.7 C1259.9,174.2 1259.1,169.4 1258.8,164.3 C1258.6,159.2 1259.1,153.1 1259.6,148.2 C1260.2,143.4 1261.0,139.2 1262.0,135.4 C1263.1,131.7 1264.2,128.7 1266.1,125.8 C1267.9,122.9 1270.6,120.5 1273.3,117.8 C1275.9,115.1 1279.0,112.3 1282.1,109.8 C1285.2,107.2 1288.5,103.5 1291.7,102.6 C1294.9,101.6 1298.1,104.3 1301.3,104.2 C1304.5,104.0 1307.7,103.5 1310.9,101.8 C1314.1,100.0 1318.4,96.4 1320.6,93.7 C1322.7,91.1 1321.1,87.7 1323.8,85.7 Z" fill="url(#pyel)" />
<path d="M1323.8,85.7 C1326.4,83.7 1331.8,82.9 1336.6,81.7 C1341.4,80.5 1347.8,79.5 1352.6,78.5 C1357.4,77.5 1360.6,76.2 1365.4,75.8 C1370.3,75.4 1376.7,75.5 1381.5,76.1 C1386.3,76.7 1390.8,77.8 1394.3,79.6 C1397.8,81.5 1400.2,83.9 1402.3,87.3 C1404.4,90.7 1405.7,95.3 1406.8,100.2 C1407.9,105.0 1408.5,110.8 1408.7,116.2 C1409.0,121.5 1408.8,126.9 1408.4,132.2 C1408.0,137.6 1406.9,143.4 1406.3,148.2 C1405.7,153.1 1405.5,157.1 1404.7,161.1 C1403.9,165.1 1403.5,168.8 1401.5,172.3 C1399.5,175.8 1395.4,179.0 1392.7,181.9 C1390.0,184.8 1387.9,186.7 1385.5,189.9 C1383.1,193.1 1380.8,197.7 1378.3,201.1 C1375.7,204.6 1372.9,208.6 1370.3,210.8 C1367.6,212.9 1365.2,212.4 1362.2,214.0 C1359.3,215.6 1355.6,218.0 1352.6,220.4 C1349.7,222.8 1347.0,226.0 1344.6,228.4 C1342.2,230.8 1339.4,232.4 1338.2,234.8 C1337.0,237.2 1338.2,240.2 1337.4,242.8 C1336.6,245.5 1334.7,249.2 1333.4,250.8 C1332.0,252.4 1331.1,252.6 1329.4,252.4 C1327.6,252.3 1325.0,251.9 1323.0,250.0 C1321.0,248.2 1319.1,244.0 1317.4,241.2 C1315.6,238.4 1314.7,236.1 1312.5,233.2 C1310.4,230.3 1307.2,226.5 1304.5,223.6 C1301.9,220.7 1299.2,217.7 1296.5,215.6 C1293.8,213.4 1291.2,212.1 1288.5,210.8 C1285.8,209.4 1283.0,209.2 1280.5,207.6 C1277.9,206.0 1275.5,203.8 1273.3,201.1 C1271.0,198.5 1268.9,195.3 1266.9,191.5 C1264.9,187.8 1262.6,183.2 1261.2,178.7 C1259.9,174.2 1259.1,169.4 1258.8,164.3 C1258.6,159.2 1259.1,153.1 1259.6,148.2 C1260.2,143.4 1261.0,139.2 1262.0,135.4 C1263.1,131.7 1264.2,128.7 1266.1,125.8 C1267.9,122.9 1270.6,120.5 1273.3,117.8 C1275.9,115.1 1279.0,112.3 1282.1,109.8 C1285.2,107.2 1288.5,103.5 1291.7,102.6 C1294.9,101.6 1298.1,104.3 1301.3,104.2 C1304.5,104.0 1307.7,103.5 1310.9,101.8 C1314.1,100.0 1318.4,96.4 1320.6,93.7 C1322.7,91.1 1321.1,87.7 1323.8,85.7 Z" fill="url(#pred)" />
<text x="1245.2" y="105.1" font-size="16.3" fill="#4d4d4d" text-anchor="end" >3</text>
<text x="1245.2" y="158.5" font-size="16.3" fill="#4d4d4d" text-anchor="end" >0</text>
<text x="1245.2" y="211.9" font-size="16.3" fill="#4d4d4d" text-anchor="end" >-3</text>
<text x="1245.2" y="265.3" font-size="16.3" fill="#4d4d4d" text-anchor="end" >-6</text>
<text x="1291.3" y="287.2" font-size="16.3" fill="#4d4d4d" text-anchor="middle" >-4</text>
<text x="1335.8" y="287.2" font-size="16.3" fill="#4d4d4d" text-anchor="middle" >0</text>
<text x="1380.3" y="287.2" font-size="16.3" fill="#4d4d4d" text-anchor="middle" >4</text>
<text x="1335.8" y="305.5" font-size="17.7" fill="#000" text-anchor="middle" textLength="64.0" lengthAdjust="spacingAndGlyphs" >umap_1</text>
<text x="1223.8" y="161.7" font-size="17.7" fill="#000" text-anchor="middle" textLength="64.0" lengthAdjust="spacingAndGlyphs" transform="rotate(-90 1223.8 161.7)" >umap_2</text>
<text x="1252.0" y="47.6" font-size="22.9" fill="#ff1a14" text-anchor="start" font-weight="bold" textLength="69.5" lengthAdjust="spacingAndGlyphs" >LMNA</text>
<text x="1321.5" y="47.6" font-size="22.9" fill="#111" text-anchor="start" font-weight="bold" textLength="15.5" lengthAdjust="spacingAndGlyphs" >+</text>
<text x="1337.0" y="47.6" font-size="22.9" fill="#3dbf55" text-anchor="start" font-weight="bold" textLength="84.2" lengthAdjust="spacingAndGlyphs" >PRKDC</text>
<rect x="1492.6" y="246.7" width="17.4" height="21.7" fill="#d3d3d3" />
<rect x="1492.6" y="225.3" width="17.4" height="21.7" fill="#cfd4cf" />
<rect x="1492.6" y="204.0" width="17.4" height="21.7" fill="#c3d6c3" />
<rect x="1492.6" y="182.7" width="17.4" height="21.7" fill="#b0dab0" />
<rect x="1492.6" y="161.3" width="17.4" height="21.7" fill="#98df98" />
<rect x="1492.6" y="140.0" width="17.4" height="21.7" fill="#7fe57f" />
<rect x="1492.6" y="118.7" width="17.4" height="21.7" fill="#66ea66" />
<rect x="1492.6" y="97.4" width="17.4" height="21.7" fill="#4def4d" />
<rect x="1492.6" y="76.0" width="17.4" height="21.7" fill="#35f435" />
<rect x="1492.6" y="54.7" width="17.4" height="21.7" fill="#1ef91e" />
<rect x="1509.6" y="246.7" width="17.4" height="21.7" fill="#d4cfcf" />
<rect x="1509.6" y="225.3" width="17.4" height="21.7" fill="#d0d0cb" />
<rect x="1509.6" y="204.0" width="17.4" height="21.7" fill="#c5d4c0" />
<rect x="1509.6" y="182.7" width="17.4" height="21.7" fill="#b3d9ae" />
<rect x="1509.6" y="161.3" width="17.4" height="21.7" fill="#9ee099" />
<rect x="1509.6" y="140.0" width="17.4" height="21.7" fill="#86e782" />
<rect x="1509.6" y="118.7" width="17.4" height="21.7" fill="#6fef6a" />
<rect x="1509.6" y="97.4" width="17.4" height="21.7" fill="#59f654" />
<rect x="1509.6" y="76.0" width="17.4" height="21.7" fill="#44f93f" />
<rect x="1509.6" y="54.7" width="17.4" height="21.7" fill="#2ff92a" />
<rect x="1526.6" y="246.7" width="17.4" height="21.7" fill="#d6c3c3" />
<rect x="1526.6" y="225.3" width="17.4" height="21.7" fill="#d4c5c0" />
<rect x="1526.6" y="204.0" width="17.4" height="21.7" fill="#cacab6" />
<rect x="1526.6" y="182.7" width="17.4" height="21.7" fill="#bad1a6" />
<rect x="1526.6" y="161.3" width="17.4" height="21.7" fill="#a6d992" />
<rect x="1526.6" y="140.0" width="17.4" height="21.7" fill="#91e37e" />
<rect x="1526.6" y="118.7" width="17.4" height="21.7" fill="#7ded69" />
<rect x="1526.6" y="97.4" width="17.4" height="21.7" fill="#69f755" />
<rect x="1526.6" y="76.0" width="17.4" height="21.7" fill="#56f942" />
<rect x="1526.6" y="54.7" width="17.4" height="21.7" fill="#44f930" />
<rect x="1543.6" y="246.7" width="17.4" height="21.7" fill="#dab0b0" />
<rect x="1543.6" y="225.3" width="17.4" height="21.7" fill="#d9b3ae" />
<rect x="1543.6" y="204.0" width="17.4" height="21.7" fill="#d1baa6" />
<rect x="1543.6" y="182.7" width="17.4" height="21.7" fill="#c3c398" />
<rect x="1543.6" y="161.3" width="17.4" height="21.7" fill="#b1ce87" />
<rect x="1543.6" y="140.0" width="17.4" height="21.7" fill="#9fda74" />
<rect x="1543.6" y="118.7" width="17.4" height="21.7" fill="#8de662" />
<rect x="1543.6" y="97.4" width="17.4" height="21.7" fill="#7bf351" />
<rect x="1543.6" y="76.0" width="17.4" height="21.7" fill="#6bf940" />
<rect x="1543.6" y="54.7" width="17.4" height="21.7" fill="#5cf931" />
<rect x="1560.6" y="246.7" width="17.4" height="21.7" fill="#df9898" />
<rect x="1560.6" y="225.3" width="17.4" height="21.7" fill="#e09e99" />
<rect x="1560.6" y="204.0" width="17.4" height="21.7" fill="#d9a692" />
<rect x="1560.6" y="182.7" width="17.4" height="21.7" fill="#ceb187" />
<rect x="1560.6" y="161.3" width="17.4" height="21.7" fill="#bfbf78" />
<rect x="1560.6" y="140.0" width="17.4" height="21.7" fill="#aecd68" />
<rect x="1560.6" y="118.7" width="17.4" height="21.7" fill="#9fdc58" />
<rect x="1560.6" y="97.4" width="17.4" height="21.7" fill="#90eb49" />
<rect x="1560.6" y="76.0" width="17.4" height="21.7" fill="#82f93b" />
<rect x="1560.6" y="54.7" width="17.4" height="21.7" fill="#75f92e" />
<rect x="1577.5" y="246.7" width="17.4" height="21.7" fill="#e57f7f" />
<rect x="1577.5" y="225.3" width="17.4" height="21.7" fill="#e78682" />
<rect x="1577.5" y="204.0" width="17.4" height="21.7" fill="#e3917e" />
<rect x="1577.5" y="182.7" width="17.4" height="21.7" fill="#da9f74" />
<rect x="1577.5" y="161.3" width="17.4" height="21.7" fill="#cdae68" />
<rect x="1577.5" y="140.0" width="17.4" height="21.7" fill="#bfbf5a" />
<rect x="1577.5" y="118.7" width="17.4" height="21.7" fill="#b2d04c" />
<rect x="1577.5" y="97.4" width="17.4" height="21.7" fill="#a5e240" />
<rect x="1577.5" y="76.0" width="17.4" height="21.7" fill="#9af334" />
<rect x="1577.5" y="54.7" width="17.4" height="21.7" fill="#8ff92a" />
<rect x="1594.5" y="246.7" width="17.4" height="21.7" fill="#ea6666" />
<rect x="1594.5" y="225.3" width="17.4" height="21.7" fill="#ef6f6a" />
<rect x="1594.5" y="204.0" width="17.4" height="21.7" fill="#ed7d69" />
<rect x="1594.5" y="182.7" width="17.4" height="21.7" fill="#e68d62" />
<rect x="1594.5" y="161.3" width="17.4" height="21.7" fill="#dc9f58" />
<rect x="1594.5" y="140.0" width="17.4" height="21.7" fill="#d0b24c" />
<rect x="1594.5" y="118.7" width="17.4" height="21.7" fill="#c5c541" />
<rect x="1594.5" y="97.4" width="17.4" height="21.7" fill="#bbd937" />
<rect x="1594.5" y="76.0" width="17.4" height="21.7" fill="#b2ed2e" />
<rect x="1594.5" y="54.7" width="17.4" height="21.7" fill="#a9f925" />
<rect x="1611.5" y="246.7" width="17.4" height="21.7" fill="#ef4d4d" />
<rect x="1611.5" y="225.3" width="17.4" height="21.7" fill="#f65954" />
<rect x="1611.5" y="204.0" width="17.4" height="21.7" fill="#f76955" />
<rect x="1611.5" y="182.7" width="17.4" height="21.7" fill="#f37b51" />
<rect x="1611.5" y="161.3" width="17.4" height="21.7" fill="#eb9049" />
<rect x="1611.5" y="140.0" width="17.4" height="21.7" fill="#e2a540" />
<rect x="1611.5" y="118.7" width="17.4" height="21.7" fill="#d9bb37" />
<rect x="1611.5" y="97.4" width="17.4" height="21.7" fill="#d1d12f" />
<rect x="1611.5" y="76.0" width="17.4" height="21.7" fill="#cae728" />
<rect x="1611.5" y="54.7" width="17.4" height="21.7" fill="#c4f922" />
<rect x="1628.5" y="246.7" width="17.4" height="21.7" fill="#f43535" />
<rect x="1628.5" y="225.3" width="17.4" height="21.7" fill="#f9443f" />
<rect x="1628.5" y="204.0" width="17.4" height="21.7" fill="#f95642" />
<rect x="1628.5" y="182.7" width="17.4" height="21.7" fill="#f96b40" />
<rect x="1628.5" y="161.3" width="17.4" height="21.7" fill="#f9823b" />
<rect x="1628.5" y="140.0" width="17.4" height="21.7" fill="#f39a34" />
<rect x="1628.5" y="118.7" width="17.4" height="21.7" fill="#edb22e" />
<rect x="1628.5" y="97.4" width="17.4" height="21.7" fill="#e7ca28" />
<rect x="1628.5" y="76.0" width="17.4" height="21.7" fill="#e2e223" />
<rect x="1628.5" y="54.7" width="17.4" height="21.7" fill="#dff91f" />
<rect x="1645.5" y="246.7" width="17.4" height="21.7" fill="#f91e1e" />
<rect x="1645.5" y="225.3" width="17.4" height="21.7" fill="#f92f2a" />
<rect x="1645.5" y="204.0" width="17.4" height="21.7" fill="#f94430" />
<rect x="1645.5" y="182.7" width="17.4" height="21.7" fill="#f95c31" />
<rect x="1645.5" y="161.3" width="17.4" height="21.7" fill="#f9752e" />
<rect x="1645.5" y="140.0" width="17.4" height="21.7" fill="#f98f2a" />
<rect x="1645.5" y="118.7" width="17.4" height="21.7" fill="#f9a925" />
<rect x="1645.5" y="97.4" width="17.4" height="21.7" fill="#f9c422" />
<rect x="1645.5" y="76.0" width="17.4" height="21.7" fill="#f9df1f" />
<rect x="1645.5" y="54.7" width="17.4" height="21.7" fill="#f9f91e" />
<text x="1492.6" y="45.5" font-size="14.9" fill="#000" text-anchor="start" textLength="130.0" lengthAdjust="spacingAndGlyphs" >Color threshold: 0.2</text>
<text x="1486.3" y="71.1" font-size="16" fill="#4d4d4d" text-anchor="end" >10.0</text>
<text x="1667.8" y="71.1" font-size="16" fill="#4d4d4d" text-anchor="start" >10.0</text>
<text x="1486.3" y="125.1" font-size="16" fill="#4d4d4d" text-anchor="end" >7.5</text>
<text x="1667.8" y="125.1" font-size="16" fill="#4d4d4d" text-anchor="start" >7.5</text>
<text x="1486.3" y="178.7" font-size="16" fill="#4d4d4d" text-anchor="end" >5.0</text>
<text x="1667.8" y="178.7" font-size="16" fill="#4d4d4d" text-anchor="start" >5.0</text>
<text x="1486.3" y="232.3" font-size="16" fill="#4d4d4d" text-anchor="end" >2.5</text>
<text x="1667.8" y="232.3" font-size="16" fill="#4d4d4d" text-anchor="start" >2.5</text>
<text x="1517.0" y="286.0" font-size="16" fill="#4d4d4d" text-anchor="middle" >2</text>
<text x="1551.0" y="286.0" font-size="16" fill="#4d4d4d" text-anchor="middle" >4</text>
<text x="1585.5" y="286.0" font-size="16" fill="#4d4d4d" text-anchor="middle" >6</text>
<text x="1619.3" y="286.0" font-size="16" fill="#4d4d4d" text-anchor="middle" >8</text>
<text x="1654.5" y="286.0" font-size="16" fill="#4d4d4d" text-anchor="middle" >10</text>
<text x="1577.9" y="305.5" font-size="17.7" fill="#000" text-anchor="middle" >LMNA</text>
<text x="1446.0" y="162.0" font-size="17.7" fill="#000" text-anchor="middle" transform="rotate(-90 1446.0 162.0)" >PRKDC</text>
<text transform="translate(11.35 371.13) scale(0.8341 1)" font-size="43.56" fill="#000" stroke="#000" stroke-width="0.98">C</text>
<text x="403.7" y="364.0" font-size="20.4" fill="#000" text-anchor="middle" font-weight="bold" textLength="561.0" lengthAdjust="spacingAndGlyphs" >Distribution of LMNA, PRKDC, and Co-expression Groups</text>
<text x="403.5" y="384.5" font-size="16.1" fill="#000" text-anchor="middle" textLength="426.4" lengthAdjust="spacingAndGlyphs" >Cells classified by whether they passed the Otsu thresholds</text>
<path d="M209.50,409.20 A178.5,178.5 0 0 1 337.29,463.08 L262.48,536.04 A74,74 0 0 0 209.50,513.70 Z" fill="#7dd3ab" stroke="#fff" stroke-width="2.2" />
<path d="M337.29,463.08 A178.5,178.5 0 0 1 383.94,549.86 L281.82,572.01 A74,74 0 0 0 262.48,536.04 Z" fill="#ef8a63" stroke="#fff" stroke-width="2.2" />
<path d="M383.94,549.86 A178.5,178.5 0 0 1 97.46,726.66 L163.05,645.31 A74,74 0 0 0 281.82,572.01 Z" fill="#8fa3cd" stroke="#fff" stroke-width="2.2" />
<path d="M97.46,726.66 A178.5,178.5 0 0 1 209.50,409.20 L209.50,513.70 A74,74 0 0 0 163.05,645.31 Z" fill="#e088c8" stroke="#fff" stroke-width="2.2" />
<text x="258.7" y="464.7" font-size="16.3" fill="#000" text-anchor="middle" >Coexpress</text>
<text x="258.7" y="488.6" font-size="16.3" fill="#000" text-anchor="middle" >12.7%</text>
<text x="321.0" y="521.4" font-size="16.3" fill="#000" text-anchor="middle" >LMNA Only</text>
<text x="321.0" y="545.3" font-size="16.3" fill="#000" text-anchor="middle" >8.9%</text>
<text x="90.0" y="539.2" font-size="16.3" fill="#000" text-anchor="middle" >PRKDC Only</text>
<text x="90.0" y="563.5" font-size="16.3" fill="#000" text-anchor="middle" >39.2%</text>
<text x="276.5" y="689.1" font-size="16.3" fill="#000" text-anchor="middle" >Other</text>
<text x="276.5" y="713.5" font-size="16.3" fill="#000" text-anchor="middle" >39.2%</text>
<rect x="160.5" y="538.5" width="105.7" height="95.1" fill="#fff" stroke="#222" stroke-width="1.1" />
<text x="160.8" y="554.2" font-size="14.2" fill="#000" text-anchor="start" >Group</text>
<rect x="162.6" y="562.7" width="11.7" height="11.7" fill="#7dd3ab" />
<text x="181.8" y="573.1" font-size="12.8" fill="#000" text-anchor="start" >Coexpress</text>
<rect x="162.6" y="578.7" width="11.7" height="11.7" fill="#ef8a63" />
<text x="181.8" y="589.1" font-size="12.8" fill="#000" text-anchor="start" >LMNA Only</text>
<rect x="162.6" y="594.1" width="11.7" height="11.7" fill="#8fa3cd" />
<text x="181.8" y="604.5" font-size="12.8" fill="#000" text-anchor="start" >Other</text>
<rect x="162.6" y="610.0" width="11.7" height="11.7" fill="#e088c8" />
<text x="181.8" y="620.4" font-size="12.8" fill="#000" text-anchor="start" >PRKDC Only</text>
<line x1="501.4" y1="428.9" x2="501.4" y2="714.6" stroke="#222" stroke-width="1.3" />
<line x1="500.8" y1="714.0" x2="742.9" y2="714.0" stroke="#222" stroke-width="1.3" />
<line x1="497.5" y1="482.1" x2="501.4" y2="482.1" stroke="#333" stroke-width="1" />
<text x="495.9" y="487.8" font-size="15.8" fill="#4d4d4d" text-anchor="end" >PT_TMZ</text>
<line x1="497.5" y1="571.3" x2="501.4" y2="571.3" stroke="#333" stroke-width="1" />
<text x="495.9" y="577.0" font-size="15.8" fill="#4d4d4d" text-anchor="end" >PT_DMSO</text>
<line x1="497.5" y1="660.3" x2="501.4" y2="660.3" stroke="#333" stroke-width="1" />
<text x="495.9" y="666.0" font-size="15.8" fill="#4d4d4d" text-anchor="end" >MTP_TMZ</text>
<line x1="622.1" y1="714.0" x2="622.1" y2="717.5" stroke="#333" stroke-width="1" />
<circle cx="622.1" cy="482.1" r="13.40" fill="#d42012" />
<circle cx="622.1" cy="571.3" r="7.30" fill="#dc3f2f" />
<circle cx="622.1" cy="660.3" r="0.70" fill="#f7c7c7" />
<text x="622.1" y="730.4" font-size="16" fill="#4d4d4d" text-anchor="middle" textLength="179.3" lengthAdjust="spacingAndGlyphs" >LMNA_PRKDC_Module1</text>
<text x="622.1" y="747.5" font-size="15.8" fill="#000" text-anchor="middle" font-weight="bold" textLength="66.0" lengthAdjust="spacingAndGlyphs" >Features</text>
<text x="414.2" y="571.0" font-size="15.9" fill="#000" text-anchor="middle" font-weight="bold" textLength="56.6" lengthAdjust="spacingAndGlyphs" transform="rotate(-90 414.2 571.0)" >Identity</text>
<rect x="669.2" y="425.5" width="80.3" height="103.2" fill="#fff" stroke="#333" stroke-width="1" />
<text x="674.7" y="437.2" font-size="7.7" fill="#000" text-anchor="start" textLength="68.8" lengthAdjust="spacingAndGlyphs" >Average Expression</text>
<defs><linearGradient id="gAE" x1="0" y1="0" x2="0" y2="1"><stop offset="0" stop-color="#d42012"/><stop offset="1" stop-color="#f8cccc"/></linearGradient></defs>
<rect x="674.8" y="440.0" width="7.0" height="37.2" fill="url(#gAE)" />
<text x="684.3" y="447.5" font-size="6.8" fill="#333" text-anchor="start" >0.5</text>
<text x="684.3" y="457.3" font-size="6.8" fill="#333" text-anchor="start" >0.0</text>
<text x="684.3" y="467.1" font-size="6.8" fill="#333" text-anchor="start" >-0.5</text>
<text x="684.3" y="476.8" font-size="6.8" fill="#333" text-anchor="start" >-1.0</text>
<text x="674.7" y="493.0" font-size="7.7" fill="#000" text-anchor="start" textLength="64.8" lengthAdjust="spacingAndGlyphs" >Percent Expressed</text>
<circle cx="680.3" cy="499.9" r="1.00" fill="#000" />
<text x="688.5" y="502.4" font-size="6.8" fill="#333" text-anchor="start" >91</text>
<circle cx="680.3" cy="507.2" r="2.50" fill="#000" />
<text x="688.5" y="509.7" font-size="6.8" fill="#333" text-anchor="start" >92</text>
<circle cx="680.3" cy="517.0" r="4.20" fill="#000" />
<text x="688.5" y="519.5" font-size="6.8" fill="#333" text-anchor="start" >93</text>
<text transform="translate(728.85 370.27) scale(0.9868 1)" font-size="42.68" fill="#000" stroke="#000" stroke-width="0.96">D</text>
<text x="828.4" y="394.8" font-size="11.3" fill="#000" text-anchor="start" font-weight="bold" textLength="137.7" lengthAdjust="spacingAndGlyphs" >High Coexpress vs. Other</text>
<circle cx="881.7" cy="431.8" r="3.90" fill="#9a9a9a" />
<text x="893.6" y="435.3" font-size="9.5" fill="#222" text-anchor="start" >NS</text>
<circle cx="918.0" cy="431.8" r="3.90" fill="#7ccf78" />
<text x="929.9" y="435.3" font-size="9.5" fill="#222" text-anchor="start" >Log</text>
<text x="946.5" y="437.5" font-size="6.3" fill="#222" text-anchor="start" >2</text>
<text x="951.5" y="435.3" font-size="9.5" fill="#222" text-anchor="start" >FC</text>
<circle cx="974.7" cy="431.8" r="3.90" fill="#e8707a" />
<text x="986.3" y="435.3" font-size="9.5" fill="#222" text-anchor="start" textLength="74.0" lengthAdjust="spacingAndGlyphs" >p – value and log</text>
<text x="1060.6" y="437.5" font-size="6.3" fill="#222" text-anchor="start" >2</text>
<text x="1064.6" y="435.3" font-size="9.5" fill="#222" text-anchor="start" >FC</text>
<line x1="841.4" y1="459.5" x2="841.4" y2="715.0" stroke="#ebebeb" stroke-width="1.0" />
<line x1="886.1" y1="459.5" x2="886.1" y2="715.0" stroke="#ebebeb" stroke-width="0.6" />
<line x1="930.7" y1="459.5" x2="930.7" y2="715.0" stroke="#ebebeb" stroke-width="1.0" />
<line x1="975.4" y1="459.5" x2="975.4" y2="715.0" stroke="#ebebeb" stroke-width="0.6" />
<line x1="1020.0" y1="459.5" x2="1020.0" y2="715.0" stroke="#ebebeb" stroke-width="1.0" />
<line x1="1064.7" y1="459.5" x2="1064.7" y2="715.0" stroke="#ebebeb" stroke-width="0.6" />
<line x1="1109.3" y1="459.5" x2="1109.3" y2="715.0" stroke="#ebebeb" stroke-width="1.0" />
<line x1="828.4" y1="694.6" x2="1122.8" y2="694.6" stroke="#ebebeb" stroke-width="1.0" />
<line x1="828.4" y1="672.2" x2="1122.8" y2="672.2" stroke="#ebebeb" stroke-width="0.6" />
<line x1="828.4" y1="649.9" x2="1122.8" y2="649.9" stroke="#ebebeb" stroke-width="1.0" />
<line x1="828.4" y1="627.6" x2="1122.8" y2="627.6" stroke="#ebebeb" stroke-width="0.6" />
<line x1="828.4" y1="605.2" x2="1122.8" y2="605.2" stroke="#ebebeb" stroke-width="1.0" />
<line x1="828.4" y1="582.9" x2="1122.8" y2="582.9" stroke="#ebebeb" stroke-width="0.6" />
<line x1="828.4" y1="560.5" x2="1122.8" y2="560.5" stroke="#ebebeb" stroke-width="1.0" />
<line x1="828.4" y1="538.2" x2="1122.8" y2="538.2" stroke="#ebebeb" stroke-width="0.6" />
<line x1="828.4" y1="515.8" x2="1122.8" y2="515.8" stroke="#ebebeb" stroke-width="1.0" />
<line x1="828.4" y1="493.5" x2="1122.8" y2="493.5" stroke="#ebebeb" stroke-width="0.6" />
<line x1="828.4" y1="471.1" x2="1122.8" y2="471.1" stroke="#ebebeb" stroke-width="1.0" />
<g fill="#3db83d" fill-opacity="0.85"><circle cx="985.1" cy="689.3" r="1.05"/><circle cx="965.9" cy="691.2" r="1.05"/><circle cx="980.0" cy="687.6" r="1.05"/><circle cx="980.7" cy="690.1" r="1.05"/><circle cx="966.2" cy="694.5" r="1.05"/><circle cx="987.4" cy="694.5" r="1.05"/><circle cx="971.3" cy="693.8" r="1.05"/><circle cx="977.8" cy="691.8" r="1.05"/><circle cx="975.7" cy="693.4" r="1.05"/><circle cx="995.8" cy="694.5" r="1.05"/><circle cx="987.6" cy="690.7" r="1.05"/><circle cx="986.3" cy="693.8" r="1.05"/><circle cx="969.1" cy="694.6" r="1.05"/><circle cx="986.8" cy="693.5" r="1.05"/><circle cx="988.3" cy="688.5" r="1.05"/><circle cx="995.6" cy="688.1" r="1.05"/><circle cx="960.2" cy="693.1" r="1.05"/><circle cx="967.4" cy="690.7" r="1.05"/><circle cx="976.7" cy="693.6" r="1.05"/><circle cx="981.4" cy="692.4" r="1.05"/><circle cx="977.0" cy="691.9" r="1.05"/><circle cx="1001.3" cy="692.9" r="1.05"/><circle cx="976.0" cy="687.8" r="1.05"/><circle cx="957.7" cy="691.4" r="1.05"/><circle cx="985.6" cy="691.4" r="1.05"/><circle cx="979.2" cy="692.2" r="1.05"/><circle cx="998.5" cy="690.7" r="1.05"/><circle cx="965.3" cy="692.5" r="1.05"/><circle cx="963.6" cy="693.4" r="1.05"/><circle cx="987.7" cy="694.5" r="1.05"/><circle cx="980.8" cy="694.3" r="1.05"/><circle cx="967.5" cy="688.8" r="1.05"/><circle cx="959.6" cy="694.3" r="1.05"/><circle cx="975.2" cy="691.7" r="1.05"/><circle cx="963.0" cy="691.4" r="1.05"/><circle cx="969.7" cy="692.8" r="1.05"/><circle cx="980.9" cy="691.3" r="1.05"/><circle cx="985.7" cy="693.0" r="1.05"/><circle cx="966.6" cy="692.6" r="1.05"/><circle cx="979.0" cy="693.7" r="1.05"/><circle cx="983.8" cy="688.2" r="1.05"/><circle cx="962.0" cy="690.3" r="1.05"/><circle cx="963.3" cy="686.9" r="1.05"/><circle cx="987.7" cy="693.5" r="1.05"/><circle cx="1007.2" cy="693.9" r="1.05"/><circle cx="953.5" cy="690.1" r="1.05"/><circle cx="963.2" cy="694.4" r="1.05"/><circle cx="975.8" cy="686.4" r="1.05"/><circle cx="977.8" cy="693.3" r="1.05"/><circle cx="982.7" cy="688.1" r="1.05"/><circle cx="951.7" cy="693.8" r="1.05"/><circle cx="984.5" cy="693.6" r="1.05"/><circle cx="972.1" cy="690.5" r="1.05"/><circle cx="977.6" cy="693.3" r="1.05"/><circle cx="961.3" cy="687.3" r="1.05"/><circle cx="995.9" cy="693.9" r="1.05"/><circle cx="965.9" cy="694.2" r="1.05"/><circle cx="990.1" cy="693.3" r="1.05"/><circle cx="974.9" cy="693.6" r="1.05"/><circle cx="981.0" cy="687.1" r="1.05"/><circle cx="982.6" cy="686.6" r="1.05"/><circle cx="964.8" cy="692.1" r="1.05"/><circle cx="954.1" cy="690.8" r="1.05"/><circle cx="969.8" cy="690.0" r="1.05"/><circle cx="971.9" cy="687.8" r="1.05"/><circle cx="994.3" cy="694.2" r="1.05"/><circle cx="978.0" cy="694.3" r="1.05"/><circle cx="960.4" cy="691.4" r="1.05"/><circle cx="985.2" cy="690.3" r="1.05"/><circle cx="974.8" cy="690.5" r="1.05"/><circle cx="1001.6" cy="692.4" r="1.05"/><circle cx="979.1" cy="693.3" r="1.05"/><circle cx="977.7" cy="694.1" r="1.05"/><circle cx="968.8" cy="693.9" r="1.05"/><circle cx="987.6" cy="690.3" r="1.05"/><circle cx="986.2" cy="691.0" r="1.05"/><circle cx="968.8" cy="690.4" r="1.05"/><circle cx="976.8" cy="692.2" r="1.05"/><circle cx="980.3" cy="691.0" r="1.05"/><circle cx="971.4" cy="689.7" r="1.05"/><circle cx="994.2" cy="692.8" r="1.05"/><circle cx="990.5" cy="689.7" r="1.05"/><circle cx="975.7" cy="694.1" r="1.05"/><circle cx="970.9" cy="694.3" r="1.05"/><circle cx="976.0" cy="692.1" r="1.05"/><circle cx="973.1" cy="691.6" r="1.05"/><circle cx="971.8" cy="691.3" r="1.05"/><circle cx="987.3" cy="693.6" r="1.05"/><circle cx="965.5" cy="686.5" r="1.05"/><circle cx="971.2" cy="690.0" r="1.05"/><circle cx="942.5" cy="691.6" r="1.05"/><circle cx="963.4" cy="691.8" r="1.05"/><circle cx="972.2" cy="684.1" r="1.05"/><circle cx="968.2" cy="688.8" r="1.05"/><circle cx="959.5" cy="693.8" r="1.05"/><circle cx="996.5" cy="691.7" r="1.05"/><circle cx="986.9" cy="694.1" r="1.05"/><circle cx="959.0" cy="683.0" r="1.05"/><circle cx="979.2" cy="693.6" r="1.05"/><circle cx="995.9" cy="691.3" r="1.05"/><circle cx="976.2" cy="690.2" r="1.05"/><circle cx="973.5" cy="694.0" r="1.05"/><circle cx="967.0" cy="691.2" r="1.05"/><circle cx="963.0" cy="694.2" r="1.05"/><circle cx="968.1" cy="692.9" r="1.05"/><circle cx="988.1" cy="693.3" r="1.05"/><circle cx="975.7" cy="688.3" r="1.05"/><circle cx="983.6" cy="688.7" r="1.05"/><circle cx="966.5" cy="693.8" r="1.05"/><circle cx="964.5" cy="691.5" r="1.05"/><circle cx="953.6" cy="687.0" r="1.05"/><circle cx="987.6" cy="692.2" r="1.05"/><circle cx="955.5" cy="694.3" r="1.05"/><circle cx="992.1" cy="690.2" r="1.05"/><circle cx="960.6" cy="689.8" r="1.05"/><circle cx="963.2" cy="687.7" r="1.05"/><circle cx="969.4" cy="688.8" r="1.05"/><circle cx="976.2" cy="685.6" r="1.05"/><circle cx="962.3" cy="691.0" r="1.05"/><circle cx="989.9" cy="685.4" r="1.05"/><circle cx="976.8" cy="694.6" r="1.05"/><circle cx="971.2" cy="691.4" r="1.05"/><circle cx="969.9" cy="693.2" r="1.05"/><circle cx="970.5" cy="694.1" r="1.05"/><circle cx="965.6" cy="685.5" r="1.05"/><circle cx="974.7" cy="690.1" r="1.05"/><circle cx="999.6" cy="688.3" r="1.05"/><circle cx="972.9" cy="692.0" r="1.05"/><circle cx="966.2" cy="689.6" r="1.05"/><circle cx="971.3" cy="691.8" r="1.05"/><circle cx="985.9" cy="693.5" r="1.05"/><circle cx="974.7" cy="686.8" r="1.05"/><circle cx="986.1" cy="689.6" r="1.05"/><circle cx="980.6" cy="689.4" r="1.05"/><circle cx="973.3" cy="690.7" r="1.05"/><circle cx="988.4" cy="693.0" r="1.05"/><circle cx="959.4" cy="692.4" r="1.05"/><circle cx="973.9" cy="692.2" r="1.05"/><circle cx="967.9" cy="692.5" r="1.05"/><circle cx="987.3" cy="685.1" r="1.05"/><circle cx="997.6" cy="693.0" r="1.05"/><circle cx="993.3" cy="692.1" r="1.05"/><circle cx="990.0" cy="694.0" r="1.05"/><circle cx="991.9" cy="693.3" r="1.05"/><circle cx="972.5" cy="691.8" r="1.05"/><circle cx="991.0" cy="694.4" r="1.05"/><circle cx="984.3" cy="692.7" r="1.05"/><circle cx="949.9" cy="692.2" r="1.05"/><circle cx="970.7" cy="693.0" r="1.05"/><circle cx="981.4" cy="687.4" r="1.05"/><circle cx="971.4" cy="694.4" r="1.05"/><circle cx="980.2" cy="690.8" r="1.05"/><circle cx="966.9" cy="693.7" r="1.05"/><circle cx="983.1" cy="687.3" r="1.05"/><circle cx="998.5" cy="690.8" r="1.05"/><circle cx="991.8" cy="694.0" r="1.05"/><circle cx="998.8" cy="690.4" r="1.05"/><circle cx="974.9" cy="687.8" r="1.05"/><circle cx="977.0" cy="693.3" r="1.05"/><circle cx="982.2" cy="689.6" r="1.05"/><circle cx="965.1" cy="691.5" r="1.05"/><circle cx="978.9" cy="691.1" r="1.05"/><circle cx="973.9" cy="690.9" r="1.05"/><circle cx="970.1" cy="689.2" r="1.05"/><circle cx="979.1" cy="693.6" r="1.05"/><circle cx="989.0" cy="692.6" r="1.05"/><circle cx="971.8" cy="692.3" r="1.05"/><circle cx="974.8" cy="693.2" r="1.05"/><circle cx="989.6" cy="693.5" r="1.05"/><circle cx="967.7" cy="689.3" r="1.05"/><circle cx="978.5" cy="693.0" r="1.05"/><circle cx="989.5" cy="692.5" r="1.05"/><circle cx="959.3" cy="691.2" r="1.05"/><circle cx="973.2" cy="689.7" r="1.05"/><circle cx="996.0" cy="691.0" r="1.05"/><circle cx="976.2" cy="693.5" r="1.05"/><circle cx="966.1" cy="690.6" r="1.05"/><circle cx="970.0" cy="692.8" r="1.05"/><circle cx="971.7" cy="690.1" r="1.05"/><circle cx="988.2" cy="687.9" r="1.05"/><circle cx="984.8" cy="686.4" r="1.05"/><circle cx="971.6" cy="692.1" r="1.05"/><circle cx="980.0" cy="686.0" r="1.05"/><circle cx="948.6" cy="692.8" r="1.05"/><circle cx="987.6" cy="693.9" r="1.05"/><circle cx="1002.8" cy="691.2" r="1.05"/><circle cx="975.9" cy="694.0" r="1.05"/><circle cx="965.0" cy="690.2" r="1.05"/><circle cx="958.9" cy="690.4" r="1.05"/><circle cx="970.9" cy="692.7" r="1.05"/><circle cx="989.4" cy="692.5" r="1.05"/><circle cx="981.6" cy="692.7" r="1.05"/><circle cx="991.3" cy="694.5" r="1.05"/><circle cx="978.6" cy="688.1" r="1.05"/><circle cx="984.1" cy="692.0" r="1.05"/><circle cx="986.4" cy="692.6" r="1.05"/><circle cx="982.1" cy="690.1" r="1.05"/><circle cx="980.1" cy="691.1" r="1.05"/><circle cx="977.3" cy="693.9" r="1.05"/><circle cx="960.8" cy="692.1" r="1.05"/><circle cx="993.6" cy="693.6" r="1.05"/><circle cx="976.8" cy="692.7" r="1.05"/><circle cx="989.0" cy="692.5" r="1.05"/><circle cx="987.2" cy="691.6" r="1.05"/><circle cx="982.0" cy="692.5" r="1.05"/><circle cx="959.4" cy="692.0" r="1.05"/><circle cx="978.1" cy="687.9" r="1.05"/><circle cx="969.8" cy="692.1" r="1.05"/><circle cx="964.3" cy="692.9" r="1.05"/><circle cx="965.6" cy="694.4" r="1.05"/><circle cx="961.9" cy="693.6" r="1.05"/><circle cx="998.0" cy="692.9" r="1.05"/><circle cx="956.1" cy="690.9" r="1.05"/><circle cx="973.6" cy="688.1" r="1.05"/><circle cx="987.5" cy="694.4" r="1.05"/><circle cx="974.5" cy="694.4" r="1.05"/><circle cx="966.9" cy="690.0" r="1.05"/><circle cx="943.5" cy="688.1" r="1.05"/><circle cx="978.2" cy="688.1" r="1.05"/><circle cx="980.8" cy="690.3" r="1.05"/><circle cx="986.7" cy="693.3" r="1.05"/><circle cx="982.1" cy="690.4" r="1.05"/><circle cx="963.3" cy="693.6" r="1.05"/><circle cx="963.7" cy="690.7" r="1.05"/><circle cx="966.6" cy="687.1" r="1.05"/><circle cx="975.4" cy="690.7" r="1.05"/><circle cx="975.3" cy="687.6" r="1.05"/><circle cx="983.0" cy="685.7" r="1.05"/><circle cx="983.0" cy="687.2" r="1.05"/><circle cx="979.2" cy="693.6" r="1.05"/><circle cx="969.0" cy="689.3" r="1.05"/><circle cx="989.7" cy="688.6" r="1.05"/><circle cx="973.6" cy="688.5" r="1.05"/><circle cx="972.9" cy="691.9" r="1.05"/><circle cx="979.3" cy="690.1" r="1.05"/><circle cx="973.3" cy="691.9" r="1.05"/><circle cx="971.0" cy="691.3" r="1.05"/><circle cx="968.3" cy="691.5" r="1.05"/><circle cx="977.8" cy="692.5" r="1.05"/><circle cx="993.4" cy="692.4" r="1.05"/><circle cx="969.9" cy="693.5" r="1.05"/><circle cx="988.7" cy="690.6" r="1.05"/><circle cx="995.3" cy="693.7" r="1.05"/><circle cx="964.1" cy="692.2" r="1.05"/><circle cx="945.4" cy="694.6" r="1.05"/><circle cx="963.7" cy="690.3" r="1.05"/><circle cx="967.7" cy="691.8" r="1.05"/><circle cx="975.9" cy="688.9" r="1.05"/><circle cx="960.9" cy="693.3" r="1.05"/><circle cx="979.0" cy="687.6" r="1.05"/><circle cx="993.2" cy="693.9" r="1.05"/><circle cx="966.9" cy="693.8" r="1.05"/><circle cx="961.2" cy="691.8" r="1.05"/><circle cx="987.8" cy="692.2" r="1.05"/><circle cx="986.7" cy="688.4" r="1.05"/><circle cx="970.2" cy="691.4" r="1.05"/><circle cx="976.2" cy="693.4" r="1.05"/><circle cx="978.1" cy="692.5" r="1.05"/><circle cx="958.1" cy="689.1" r="1.05"/><circle cx="976.5" cy="692.7" r="1.05"/><circle cx="969.3" cy="694.2" r="1.05"/><circle cx="957.8" cy="690.8" r="1.05"/><circle cx="981.0" cy="688.6" r="1.05"/><circle cx="970.2" cy="694.2" r="1.05"/><circle cx="976.1" cy="689.2" r="1.05"/><circle cx="982.3" cy="693.1" r="1.05"/><circle cx="954.9" cy="691.2" r="1.05"/><circle cx="957.0" cy="693.8" r="1.05"/><circle cx="985.9" cy="694.4" r="1.05"/><circle cx="963.9" cy="686.5" r="1.05"/><circle cx="961.6" cy="689.1" r="1.05"/><circle cx="989.7" cy="693.6" r="1.05"/><circle cx="992.0" cy="690.2" r="1.05"/><circle cx="968.4" cy="693.4" r="1.05"/><circle cx="979.9" cy="693.9" r="1.05"/><circle cx="996.5" cy="693.1" r="1.05"/><circle cx="972.4" cy="689.7" r="1.05"/><circle cx="981.2" cy="691.5" r="1.05"/><circle cx="965.9" cy="689.6" r="1.05"/><circle cx="958.1" cy="690.0" r="1.05"/><circle cx="985.1" cy="693.5" r="1.05"/><circle cx="984.7" cy="692.7" r="1.05"/><circle cx="980.9" cy="688.1" r="1.05"/><circle cx="981.7" cy="691.8" r="1.05"/><circle cx="989.4" cy="690.8" r="1.05"/><circle cx="966.9" cy="693.6" r="1.05"/><circle cx="957.7" cy="688.9" r="1.05"/><circle cx="958.3" cy="691.8" r="1.05"/><circle cx="965.5" cy="691.3" r="1.05"/><circle cx="964.2" cy="693.3" r="1.05"/><circle cx="980.0" cy="690.1" r="1.05"/><circle cx="971.6" cy="691.2" r="1.05"/><circle cx="986.1" cy="686.4" r="1.05"/><circle cx="967.9" cy="693.4" r="1.05"/><circle cx="983.9" cy="694.0" r="1.05"/><circle cx="983.0" cy="691.9" r="1.05"/><circle cx="970.8" cy="692.1" r="1.05"/><circle cx="967.4" cy="691.0" r="1.05"/><circle cx="974.0" cy="689.7" r="1.05"/><circle cx="968.2" cy="692.3" r="1.05"/><circle cx="955.8" cy="690.4" r="1.05"/><circle cx="970.2" cy="690.3" r="1.05"/><circle cx="962.9" cy="687.1" r="1.05"/><circle cx="979.3" cy="692.7" r="1.05"/><circle cx="966.1" cy="688.4" r="1.05"/><circle cx="960.8" cy="685.3" r="1.05"/><circle cx="982.2" cy="692.5" r="1.05"/><circle cx="986.5" cy="694.5" r="1.05"/><circle cx="950.4" cy="687.1" r="1.05"/><circle cx="981.6" cy="691.1" r="1.05"/><circle cx="968.3" cy="692.3" r="1.05"/><circle cx="973.0" cy="687.5" r="1.05"/><circle cx="959.7" cy="690.3" r="1.05"/><circle cx="981.6" cy="686.7" r="1.05"/><circle cx="993.6" cy="690.0" r="1.05"/><circle cx="989.9" cy="694.0" r="1.05"/><circle cx="970.9" cy="690.0" r="1.05"/><circle cx="993.3" cy="693.5" r="1.05"/><circle cx="958.6" cy="692.1" r="1.05"/><circle cx="973.5" cy="692.6" r="1.05"/><circle cx="970.2" cy="693.2" r="1.05"/><circle cx="980.9" cy="694.6" r="1.05"/><circle cx="955.0" cy="692.7" r="1.05"/><circle cx="992.3" cy="692.9" r="1.05"/><circle cx="986.8" cy="691.5" r="1.05"/><circle cx="971.5" cy="690.4" r="1.05"/><circle cx="972.3" cy="690.6" r="1.05"/><circle cx="959.7" cy="690.5" r="1.05"/><circle cx="984.0" cy="692.1" r="1.05"/><circle cx="968.3" cy="687.3" r="1.05"/><circle cx="984.9" cy="694.2" r="1.05"/><circle cx="967.7" cy="692.1" r="1.05"/><circle cx="968.1" cy="687.2" r="1.05"/><circle cx="983.0" cy="691.8" r="1.05"/><circle cx="986.1" cy="693.1" r="1.05"/><circle cx="959.8" cy="689.1" r="1.05"/><circle cx="971.4" cy="687.7" r="1.05"/><circle cx="986.8" cy="694.5" r="1.05"/><circle cx="981.1" cy="691.4" r="1.05"/><circle cx="976.0" cy="693.7" r="1.05"/><circle cx="977.9" cy="692.3" r="1.05"/><circle cx="961.1" cy="692.3" r="1.05"/><circle cx="989.5" cy="688.3" r="1.05"/><circle cx="969.9" cy="692.9" r="1.05"/><circle cx="975.7" cy="692.8" r="1.05"/><circle cx="985.0" cy="693.1" r="1.05"/><circle cx="975.2" cy="691.8" r="1.05"/><circle cx="957.8" cy="690.3" r="1.05"/><circle cx="988.0" cy="689.3" r="1.05"/><circle cx="974.1" cy="691.6" r="1.05"/><circle cx="970.7" cy="691.5" r="1.05"/><circle cx="952.1" cy="691.3" r="1.05"/><circle cx="980.6" cy="694.6" r="1.05"/><circle cx="1002.6" cy="692.6" r="1.05"/><circle cx="956.7" cy="693.1" r="1.05"/><circle cx="977.1" cy="692.1" r="1.05"/><circle cx="948.9" cy="687.0" r="1.05"/><circle cx="995.5" cy="688.5" r="1.05"/><circle cx="992.4" cy="691.4" r="1.05"/><circle cx="943.2" cy="693.9" r="1.05"/><circle cx="969.3" cy="694.0" r="1.05"/><circle cx="982.1" cy="688.5" r="1.05"/><circle cx="985.9" cy="693.9" r="1.05"/><circle cx="986.5" cy="690.2" r="1.05"/><circle cx="972.3" cy="693.5" r="1.05"/><circle cx="1006.2" cy="691.4" r="1.05"/><circle cx="960.1" cy="692.7" r="1.05"/><circle cx="964.2" cy="690.4" r="1.05"/><circle cx="964.5" cy="692.0" r="1.05"/><circle cx="975.3" cy="692.0" r="1.05"/><circle cx="969.0" cy="688.1" r="1.05"/><circle cx="976.1" cy="693.1" r="1.05"/><circle cx="981.6" cy="693.3" r="1.05"/><circle cx="966.2" cy="692.7" r="1.05"/><circle cx="974.5" cy="690.9" r="1.05"/><circle cx="969.3" cy="694.1" r="1.05"/><circle cx="971.4" cy="694.3" r="1.05"/><circle cx="982.7" cy="693.3" r="1.05"/><circle cx="976.0" cy="690.9" r="1.05"/><circle cx="969.2" cy="687.2" r="1.05"/><circle cx="967.6" cy="690.8" r="1.05"/><circle cx="977.9" cy="688.5" r="1.05"/><circle cx="968.4" cy="689.5" r="1.05"/><circle cx="974.9" cy="689.6" r="1.05"/><circle cx="975.6" cy="688.9" r="1.05"/><circle cx="984.2" cy="693.2" r="1.05"/><circle cx="959.1" cy="684.9" r="1.05"/><circle cx="948.6" cy="693.1" r="1.05"/><circle cx="992.0" cy="691.0" r="1.05"/><circle cx="973.3" cy="687.9" r="1.05"/><circle cx="961.6" cy="692.3" r="1.05"/><circle cx="975.4" cy="691.5" r="1.05"/><circle cx="987.3" cy="690.3" r="1.05"/><circle cx="971.1" cy="693.2" r="1.05"/><circle cx="966.6" cy="684.4" r="1.05"/><circle cx="979.8" cy="689.8" r="1.05"/><circle cx="970.4" cy="690.1" r="1.05"/><circle cx="949.8" cy="691.0" r="1.05"/><circle cx="976.4" cy="690.3" r="1.05"/><circle cx="958.7" cy="691.6" r="1.05"/><circle cx="970.9" cy="691.8" r="1.05"/><circle cx="970.6" cy="690.6" r="1.05"/><circle cx="985.7" cy="694.3" r="1.05"/><circle cx="969.4" cy="692.7" r="1.05"/><circle cx="956.7" cy="683.6" r="1.05"/><circle cx="991.4" cy="692.2" r="1.05"/><circle cx="984.4" cy="690.9" r="1.05"/><circle cx="952.7" cy="690.2" r="1.05"/><circle cx="986.4" cy="693.2" r="1.05"/><circle cx="967.3" cy="692.0" r="1.05"/><circle cx="971.5" cy="694.0" r="1.05"/><circle cx="961.8" cy="685.5" r="1.05"/><circle cx="976.1" cy="692.0" r="1.05"/><circle cx="964.0" cy="688.4" r="1.05"/><circle cx="978.5" cy="687.8" r="1.05"/><circle cx="983.2" cy="689.8" r="1.05"/><circle cx="972.0" cy="688.7" r="1.05"/><circle cx="1002.4" cy="689.5" r="1.05"/><circle cx="983.6" cy="690.8" r="1.05"/><circle cx="986.1" cy="690.4" r="1.05"/><circle cx="914.7" cy="694.2" r="1.05"/><circle cx="935.7" cy="694.2" r="1.05"/><circle cx="910.6" cy="694.5" r="1.05"/><circle cx="915.3" cy="694.1" r="1.05"/><circle cx="930.0" cy="694.2" r="1.05"/><circle cx="922.2" cy="693.7" r="1.05"/><circle cx="920.3" cy="694.0" r="1.05"/><circle cx="915.8" cy="694.1" r="1.05"/><circle cx="915.0" cy="694.5" r="1.05"/><circle cx="920.1" cy="694.5" r="1.05"/><circle cx="921.5" cy="694.0" r="1.05"/><circle cx="926.9" cy="693.9" r="1.05"/><circle cx="924.6" cy="694.5" r="1.05"/><circle cx="932.7" cy="694.2" r="1.05"/><circle cx="933.4" cy="693.7" r="1.05"/><circle cx="926.1" cy="694.4" r="1.05"/><circle cx="920.8" cy="694.2" r="1.05"/><circle cx="919.5" cy="694.5" r="1.05"/><circle cx="922.1" cy="694.0" r="1.05"/><circle cx="935.5" cy="693.9" r="1.05"/><circle cx="937.7" cy="693.9" r="1.05"/><circle cx="922.5" cy="694.0" r="1.05"/><circle cx="911.0" cy="693.9" r="1.05"/><circle cx="932.0" cy="694.4" r="1.05"/><circle cx="924.5" cy="694.4" r="1.05"/><circle cx="934.8" cy="694.2" r="1.05"/><circle cx="934.4" cy="693.8" r="1.05"/><circle cx="934.3" cy="694.3" r="1.05"/><circle cx="920.3" cy="693.8" r="1.05"/><circle cx="938.3" cy="694.4" r="1.05"/><circle cx="920.9" cy="693.9" r="1.05"/><circle cx="933.6" cy="694.3" r="1.05"/><circle cx="923.6" cy="693.7" r="1.05"/><circle cx="912.2" cy="694.4" r="1.05"/><circle cx="930.6" cy="693.8" r="1.05"/><circle cx="939.7" cy="694.2" r="1.05"/><circle cx="934.7" cy="693.7" r="1.05"/><circle cx="919.9" cy="694.4" r="1.05"/><circle cx="917.6" cy="693.9" r="1.05"/><circle cx="913.8" cy="694.1" r="1.05"/><circle cx="939.2" cy="694.4" r="1.05"/><circle cx="929.5" cy="694.1" r="1.05"/><circle cx="940.3" cy="694.1" r="1.05"/><circle cx="925.0" cy="693.8" r="1.05"/><circle cx="933.5" cy="694.5" r="1.05"/><circle cx="935.1" cy="694.2" r="1.05"/><circle cx="940.4" cy="693.7" r="1.05"/><circle cx="925.1" cy="694.2" r="1.05"/><circle cx="916.6" cy="694.4" r="1.05"/><circle cx="915.9" cy="694.4" r="1.05"/><circle cx="932.7" cy="694.6" r="1.05"/><circle cx="928.5" cy="694.1" r="1.05"/><circle cx="932.9" cy="694.1" r="1.05"/><circle cx="939.1" cy="694.3" r="1.05"/><circle cx="912.3" cy="694.1" r="1.05"/><circle cx="917.9" cy="693.7" r="1.05"/><circle cx="938.9" cy="694.0" r="1.05"/><circle cx="936.1" cy="694.4" r="1.05"/><circle cx="924.9" cy="694.3" r="1.05"/><circle cx="920.4" cy="694.3" r="1.05"/></g>
<g fill="#ee1c1c" fill-opacity="0.9"><circle cx="965.6" cy="682.4" r="1.1"/><circle cx="991.7" cy="666.3" r="1.1"/><circle cx="1015.0" cy="665.8" r="1.1"/><circle cx="1016.3" cy="663.9" r="1.1"/><circle cx="981.5" cy="656.4" r="1.1"/><circle cx="1014.9" cy="631.3" r="1.1"/><circle cx="979.6" cy="661.7" r="1.1"/><circle cx="980.8" cy="681.9" r="1.1"/><circle cx="990.0" cy="655.7" r="1.1"/><circle cx="974.4" cy="679.9" r="1.1"/><circle cx="979.2" cy="682.2" r="1.1"/><circle cx="982.2" cy="676.4" r="1.1"/><circle cx="996.9" cy="667.1" r="1.1"/><circle cx="979.9" cy="649.5" r="1.1"/><circle cx="1001.2" cy="657.6" r="1.1"/><circle cx="989.9" cy="650.3" r="1.1"/><circle cx="991.9" cy="669.2" r="1.1"/><circle cx="978.7" cy="650.1" r="1.1"/><circle cx="989.5" cy="661.4" r="1.1"/><circle cx="1009.1" cy="642.1" r="1.1"/><circle cx="987.8" cy="677.7" r="1.1"/><circle cx="1007.8" cy="679.3" r="1.1"/><circle cx="969.2" cy="661.0" r="1.1"/><circle cx="999.2" cy="619.5" r="1.1"/><circle cx="997.4" cy="668.9" r="1.1"/><circle cx="1002.2" cy="676.6" r="1.1"/><circle cx="994.1" cy="676.5" r="1.1"/><circle cx="982.3" cy="682.1" r="1.1"/><circle cx="974.0" cy="677.5" r="1.1"/><circle cx="978.5" cy="628.3" r="1.1"/><circle cx="989.5" cy="622.0" r="1.1"/><circle cx="985.5" cy="641.8" r="1.1"/><circle cx="975.5" cy="680.0" r="1.1"/><circle cx="1013.9" cy="673.8" r="1.1"/><circle cx="956.3" cy="675.4" r="1.1"/><circle cx="1005.2" cy="672.5" r="1.1"/><circle cx="993.8" cy="678.6" r="1.1"/><circle cx="1018.1" cy="642.6" r="1.1"/><circle cx="983.6" cy="638.1" r="1.1"/><circle cx="1002.4" cy="676.3" r="1.1"/><circle cx="969.1" cy="664.5" r="1.1"/><circle cx="984.3" cy="671.8" r="1.1"/><circle cx="979.2" cy="679.4" r="1.1"/><circle cx="976.3" cy="682.8" r="1.1"/><circle cx="977.0" cy="648.5" r="1.1"/><circle cx="975.2" cy="679.3" r="1.1"/><circle cx="981.4" cy="667.0" r="1.1"/><circle cx="978.3" cy="644.8" r="1.1"/><circle cx="974.5" cy="660.7" r="1.1"/><circle cx="984.9" cy="679.5" r="1.1"/><circle cx="998.3" cy="682.0" r="1.1"/><circle cx="976.0" cy="668.9" r="1.1"/><circle cx="1025.4" cy="671.1" r="1.1"/><circle cx="973.9" cy="676.4" r="1.1"/><circle cx="997.0" cy="682.6" r="1.1"/><circle cx="982.6" cy="676.9" r="1.1"/><circle cx="965.4" cy="681.5" r="1.1"/><circle cx="991.5" cy="674.2" r="1.1"/><circle cx="985.0" cy="678.8" r="1.1"/><circle cx="977.4" cy="656.3" r="1.1"/><circle cx="968.1" cy="668.8" r="1.1"/><circle cx="1000.4" cy="647.1" r="1.1"/><circle cx="953.2" cy="647.0" r="1.1"/><circle cx="987.6" cy="655.5" r="1.1"/><circle cx="968.2" cy="672.8" r="1.1"/><circle cx="987.6" cy="681.3" r="1.1"/><circle cx="1010.5" cy="651.7" r="1.1"/><circle cx="975.7" cy="640.9" r="1.1"/><circle cx="945.0" cy="669.2" r="1.1"/><circle cx="972.2" cy="679.6" r="1.1"/><circle cx="978.6" cy="646.4" r="1.1"/><circle cx="1001.5" cy="667.2" r="1.1"/><circle cx="993.5" cy="658.7" r="1.1"/><circle cx="978.2" cy="648.8" r="1.1"/><circle cx="987.4" cy="660.0" r="1.1"/><circle cx="984.4" cy="683.0" r="1.1"/><circle cx="988.8" cy="652.0" r="1.1"/><circle cx="993.4" cy="679.0" r="1.1"/><circle cx="985.9" cy="678.0" r="1.1"/><circle cx="984.8" cy="657.5" r="1.1"/><circle cx="994.3" cy="662.5" r="1.1"/><circle cx="985.4" cy="672.1" r="1.1"/><circle cx="982.1" cy="682.6" r="1.1"/><circle cx="982.4" cy="681.2" r="1.1"/><circle cx="1002.2" cy="662.6" r="1.1"/><circle cx="976.1" cy="679.9" r="1.1"/><circle cx="974.8" cy="678.2" r="1.1"/><circle cx="963.1" cy="650.4" r="1.1"/><circle cx="1014.8" cy="665.1" r="1.1"/><circle cx="953.4" cy="660.8" r="1.1"/><circle cx="973.4" cy="675.0" r="1.1"/><circle cx="1010.1" cy="662.0" r="1.1"/><circle cx="961.3" cy="649.8" r="1.1"/><circle cx="955.7" cy="680.8" r="1.1"/><circle cx="993.8" cy="672.1" r="1.1"/><circle cx="1002.5" cy="655.9" r="1.1"/><circle cx="987.1" cy="670.1" r="1.1"/><circle cx="1005.6" cy="675.2" r="1.1"/><circle cx="977.5" cy="677.5" r="1.1"/><circle cx="982.1" cy="633.8" r="1.1"/><circle cx="976.1" cy="681.2" r="1.1"/><circle cx="977.7" cy="660.6" r="1.1"/><circle cx="994.8" cy="656.2" r="1.1"/><circle cx="976.2" cy="666.7" r="1.1"/><circle cx="1011.3" cy="675.0" r="1.1"/><circle cx="1003.6" cy="668.9" r="1.1"/><circle cx="994.8" cy="641.7" r="1.1"/><circle cx="958.6" cy="673.1" r="1.1"/><circle cx="993.6" cy="665.8" r="1.1"/><circle cx="981.3" cy="670.8" r="1.1"/><circle cx="1005.1" cy="659.9" r="1.1"/><circle cx="974.8" cy="647.3" r="1.1"/><circle cx="977.6" cy="680.6" r="1.1"/><circle cx="1000.3" cy="673.7" r="1.1"/><circle cx="993.8" cy="680.0" r="1.1"/><circle cx="1016.6" cy="630.1" r="1.1"/><circle cx="974.0" cy="680.3" r="1.1"/><circle cx="979.0" cy="670.3" r="1.1"/><circle cx="981.2" cy="667.8" r="1.1"/><circle cx="985.0" cy="670.7" r="1.1"/><circle cx="984.2" cy="676.0" r="1.1"/><circle cx="1006.2" cy="641.7" r="1.1"/><circle cx="1001.5" cy="663.4" r="1.1"/><circle cx="994.3" cy="669.0" r="1.1"/><circle cx="979.0" cy="681.6" r="1.1"/><circle cx="1002.1" cy="675.1" r="1.1"/><circle cx="965.7" cy="670.9" r="1.1"/><circle cx="997.6" cy="671.5" r="1.1"/><circle cx="982.4" cy="665.8" r="1.1"/><circle cx="977.4" cy="678.3" r="1.1"/><circle cx="976.6" cy="660.2" r="1.1"/><circle cx="981.3" cy="638.4" r="1.1"/><circle cx="999.0" cy="677.3" r="1.1"/><circle cx="955.7" cy="616.9" r="1.1"/><circle cx="975.4" cy="670.0" r="1.1"/><circle cx="999.5" cy="628.4" r="1.1"/><circle cx="1012.1" cy="675.3" r="1.1"/><circle cx="979.3" cy="680.3" r="1.1"/><circle cx="996.4" cy="657.0" r="1.1"/><circle cx="1006.8" cy="681.5" r="1.1"/><circle cx="1028.9" cy="674.1" r="1.1"/><circle cx="987.3" cy="682.1" r="1.1"/><circle cx="985.6" cy="646.8" r="1.1"/><circle cx="990.1" cy="666.8" r="1.1"/><circle cx="961.7" cy="680.1" r="1.1"/><circle cx="965.8" cy="677.8" r="1.1"/><circle cx="992.6" cy="670.6" r="1.1"/><circle cx="968.6" cy="673.5" r="1.1"/><circle cx="971.2" cy="619.3" r="1.1"/><circle cx="971.2" cy="629.5" r="1.1"/><circle cx="993.8" cy="682.4" r="1.1"/><circle cx="991.2" cy="645.1" r="1.1"/><circle cx="988.6" cy="669.4" r="1.1"/><circle cx="1006.5" cy="664.4" r="1.1"/><circle cx="1000.6" cy="632.8" r="1.1"/><circle cx="999.2" cy="646.7" r="1.1"/><circle cx="1011.2" cy="673.0" r="1.1"/><circle cx="1018.9" cy="655.1" r="1.1"/><circle cx="962.5" cy="668.6" r="1.1"/><circle cx="975.1" cy="682.3" r="1.1"/><circle cx="961.9" cy="671.6" r="1.1"/><circle cx="982.3" cy="645.4" r="1.1"/><circle cx="974.9" cy="673.4" r="1.1"/><circle cx="991.5" cy="677.4" r="1.1"/><circle cx="953.0" cy="663.8" r="1.1"/><circle cx="991.0" cy="651.7" r="1.1"/><circle cx="995.0" cy="664.4" r="1.1"/><circle cx="1000.2" cy="672.6" r="1.1"/><circle cx="1015.3" cy="680.0" r="1.1"/><circle cx="991.4" cy="659.9" r="1.1"/><circle cx="998.9" cy="676.2" r="1.1"/><circle cx="986.1" cy="674.3" r="1.1"/><circle cx="948.1" cy="679.6" r="1.1"/><circle cx="976.7" cy="676.9" r="1.1"/><circle cx="999.1" cy="659.4" r="1.1"/><circle cx="983.5" cy="655.5" r="1.1"/><circle cx="994.4" cy="652.4" r="1.1"/><circle cx="994.7" cy="629.2" r="1.1"/><circle cx="981.0" cy="680.7" r="1.1"/><circle cx="973.6" cy="666.9" r="1.1"/><circle cx="996.0" cy="682.2" r="1.1"/><circle cx="996.7" cy="667.5" r="1.1"/><circle cx="975.5" cy="677.6" r="1.1"/><circle cx="988.8" cy="681.5" r="1.1"/><circle cx="993.7" cy="681.6" r="1.1"/><circle cx="991.8" cy="655.9" r="1.1"/><circle cx="969.1" cy="675.2" r="1.1"/><circle cx="996.8" cy="649.0" r="1.1"/><circle cx="982.2" cy="629.3" r="1.1"/><circle cx="995.3" cy="679.3" r="1.1"/><circle cx="1003.0" cy="665.0" r="1.1"/><circle cx="974.6" cy="666.6" r="1.1"/><circle cx="981.9" cy="676.8" r="1.1"/><circle cx="984.3" cy="673.6" r="1.1"/><circle cx="991.5" cy="656.2" r="1.1"/><circle cx="994.0" cy="671.2" r="1.1"/><circle cx="995.1" cy="622.0" r="1.1"/><circle cx="972.9" cy="677.0" r="1.1"/><circle cx="976.6" cy="649.4" r="1.1"/><circle cx="985.5" cy="680.0" r="1.1"/><circle cx="974.4" cy="662.0" r="1.1"/><circle cx="982.6" cy="677.3" r="1.1"/><circle cx="946.6" cy="680.6" r="1.1"/><circle cx="981.6" cy="642.4" r="1.1"/><circle cx="982.9" cy="668.2" r="1.1"/><circle cx="988.0" cy="682.9" r="1.1"/><circle cx="987.0" cy="680.3" r="1.1"/><circle cx="964.5" cy="663.2" r="1.1"/><circle cx="992.6" cy="667.2" r="1.1"/><circle cx="992.6" cy="675.4" r="1.1"/><circle cx="977.6" cy="677.4" r="1.1"/><circle cx="980.1" cy="628.8" r="1.1"/><circle cx="1013.0" cy="675.9" r="1.1"/><circle cx="995.0" cy="633.8" r="1.1"/><circle cx="974.6" cy="677.8" r="1.1"/><circle cx="982.9" cy="641.3" r="1.1"/><circle cx="1012.0" cy="663.9" r="1.1"/><circle cx="966.7" cy="627.5" r="1.1"/><circle cx="1004.3" cy="674.1" r="1.1"/><circle cx="976.3" cy="663.1" r="1.1"/><circle cx="974.4" cy="665.7" r="1.1"/><circle cx="1014.9" cy="639.7" r="1.1"/><circle cx="1005.6" cy="678.1" r="1.1"/><circle cx="972.5" cy="674.2" r="1.1"/><circle cx="997.8" cy="679.3" r="1.1"/><circle cx="994.0" cy="675.3" r="1.1"/><circle cx="996.7" cy="629.4" r="1.1"/><circle cx="987.9" cy="628.3" r="1.1"/><circle cx="988.7" cy="675.6" r="1.1"/><circle cx="977.8" cy="669.9" r="1.1"/><circle cx="962.3" cy="682.5" r="1.1"/><circle cx="964.3" cy="681.0" r="1.1"/><circle cx="995.2" cy="634.9" r="1.1"/><circle cx="984.1" cy="678.6" r="1.1"/><circle cx="1005.3" cy="663.0" r="1.1"/><circle cx="989.7" cy="645.6" r="1.1"/><circle cx="994.8" cy="669.7" r="1.1"/><circle cx="978.2" cy="649.6" r="1.1"/><circle cx="992.7" cy="639.0" r="1.1"/><circle cx="1005.6" cy="637.1" r="1.1"/><circle cx="993.7" cy="674.0" r="1.1"/><circle cx="974.9" cy="680.6" r="1.1"/><circle cx="989.1" cy="678.6" r="1.1"/><circle cx="982.3" cy="682.5" r="1.1"/><circle cx="945.0" cy="681.4" r="1.1"/><circle cx="999.6" cy="676.7" r="1.1"/><circle cx="985.1" cy="673.5" r="1.1"/><circle cx="1008.9" cy="678.9" r="1.1"/><circle cx="975.8" cy="679.1" r="1.1"/><circle cx="957.7" cy="681.6" r="1.1"/><circle cx="958.5" cy="681.7" r="1.1"/><circle cx="1005.0" cy="679.8" r="1.1"/><circle cx="973.4" cy="670.1" r="1.1"/><circle cx="967.1" cy="682.0" r="1.1"/><circle cx="980.2" cy="681.3" r="1.1"/><circle cx="984.3" cy="681.7" r="1.1"/><circle cx="994.5" cy="669.1" r="1.1"/><circle cx="989.5" cy="646.1" r="1.1"/><circle cx="995.9" cy="649.1" r="1.1"/><circle cx="1002.5" cy="665.1" r="1.1"/><circle cx="997.7" cy="648.6" r="1.1"/><circle cx="1002.9" cy="682.0" r="1.1"/><circle cx="1001.9" cy="682.7" r="1.1"/><circle cx="994.1" cy="670.7" r="1.1"/><circle cx="960.2" cy="671.1" r="1.1"/><circle cx="982.1" cy="651.9" r="1.1"/><circle cx="999.3" cy="655.2" r="1.1"/><circle cx="1001.1" cy="669.4" r="1.1"/><circle cx="998.8" cy="673.5" r="1.1"/><circle cx="1020.5" cy="630.7" r="1.1"/><circle cx="976.0" cy="680.1" r="1.1"/><circle cx="1014.6" cy="658.9" r="1.1"/><circle cx="1007.1" cy="671.5" r="1.1"/><circle cx="986.6" cy="642.4" r="1.1"/><circle cx="990.9" cy="681.0" r="1.1"/><circle cx="980.3" cy="662.6" r="1.1"/><circle cx="992.3" cy="665.6" r="1.1"/><circle cx="999.8" cy="621.0" r="1.1"/><circle cx="989.0" cy="643.4" r="1.1"/><circle cx="1012.7" cy="681.2" r="1.1"/><circle cx="1011.0" cy="675.8" r="1.1"/><circle cx="1013.4" cy="678.7" r="1.1"/><circle cx="985.0" cy="680.6" r="1.1"/><circle cx="980.5" cy="679.2" r="1.1"/><circle cx="980.3" cy="643.3" r="1.1"/><circle cx="980.2" cy="679.4" r="1.1"/><circle cx="1007.8" cy="672.9" r="1.1"/><circle cx="974.2" cy="663.1" r="1.1"/><circle cx="992.1" cy="625.3" r="1.1"/><circle cx="981.6" cy="670.5" r="1.1"/><circle cx="958.4" cy="682.5" r="1.1"/><circle cx="984.6" cy="676.3" r="1.1"/><circle cx="1009.9" cy="677.7" r="1.1"/><circle cx="995.0" cy="655.8" r="1.1"/><circle cx="977.3" cy="678.7" r="1.1"/><circle cx="945.0" cy="671.5" r="1.1"/><circle cx="990.5" cy="678.8" r="1.1"/><circle cx="974.9" cy="658.9" r="1.1"/><circle cx="992.1" cy="672.7" r="1.1"/><circle cx="971.7" cy="679.9" r="1.1"/><circle cx="964.9" cy="673.6" r="1.1"/><circle cx="1011.9" cy="617.0" r="1.1"/><circle cx="981.1" cy="650.6" r="1.1"/><circle cx="1007.1" cy="630.9" r="1.1"/><circle cx="996.6" cy="670.1" r="1.1"/><circle cx="974.2" cy="680.0" r="1.1"/><circle cx="961.2" cy="678.4" r="1.1"/><circle cx="981.1" cy="674.8" r="1.1"/><circle cx="1002.8" cy="668.9" r="1.1"/><circle cx="996.9" cy="654.8" r="1.1"/><circle cx="996.4" cy="670.6" r="1.1"/><circle cx="985.6" cy="657.0" r="1.1"/><circle cx="1006.1" cy="661.9" r="1.1"/><circle cx="994.6" cy="682.4" r="1.1"/><circle cx="994.0" cy="679.2" r="1.1"/><circle cx="1013.6" cy="661.2" r="1.1"/><circle cx="980.8" cy="638.2" r="1.1"/><circle cx="994.6" cy="672.1" r="1.1"/><circle cx="1008.2" cy="665.6" r="1.1"/><circle cx="968.3" cy="680.7" r="1.1"/><circle cx="969.3" cy="676.4" r="1.1"/><circle cx="1020.0" cy="663.8" r="1.1"/><circle cx="997.2" cy="658.0" r="1.1"/><circle cx="1015.8" cy="635.6" r="1.1"/><circle cx="985.8" cy="648.9" r="1.1"/><circle cx="985.2" cy="664.6" r="1.1"/><circle cx="1003.7" cy="674.6" r="1.1"/><circle cx="982.1" cy="670.4" r="1.1"/><circle cx="969.1" cy="661.5" r="1.1"/><circle cx="984.6" cy="640.5" r="1.1"/><circle cx="983.4" cy="641.0" r="1.1"/><circle cx="988.2" cy="656.3" r="1.1"/><circle cx="1001.3" cy="642.1" r="1.1"/><circle cx="1002.4" cy="664.5" r="1.1"/><circle cx="1011.3" cy="654.8" r="1.1"/><circle cx="1006.8" cy="678.3" r="1.1"/><circle cx="979.3" cy="664.6" r="1.1"/><circle cx="969.5" cy="619.4" r="1.1"/><circle cx="987.7" cy="659.9" r="1.1"/><circle cx="991.7" cy="644.9" r="1.1"/><circle cx="1016.6" cy="621.9" r="1.1"/><circle cx="979.7" cy="648.1" r="1.1"/><circle cx="981.8" cy="679.0" r="1.1"/><circle cx="987.1" cy="681.9" r="1.1"/><circle cx="1017.4" cy="632.2" r="1.1"/><circle cx="979.6" cy="650.8" r="1.1"/><circle cx="968.6" cy="682.4" r="1.1"/><circle cx="992.0" cy="679.2" r="1.1"/><circle cx="983.6" cy="674.7" r="1.1"/><circle cx="991.4" cy="667.3" r="1.1"/><circle cx="991.2" cy="681.1" r="1.1"/><circle cx="995.8" cy="669.9" r="1.1"/><circle cx="998.4" cy="656.8" r="1.1"/><circle cx="977.2" cy="656.0" r="1.1"/><circle cx="997.0" cy="668.1" r="1.1"/><circle cx="962.3" cy="682.0" r="1.1"/><circle cx="993.2" cy="674.2" r="1.1"/><circle cx="999.3" cy="663.4" r="1.1"/><circle cx="975.0" cy="679.0" r="1.1"/><circle cx="990.9" cy="654.2" r="1.1"/><circle cx="1008.9" cy="679.7" r="1.1"/><circle cx="989.6" cy="657.5" r="1.1"/><circle cx="995.0" cy="661.4" r="1.1"/><circle cx="976.0" cy="640.5" r="1.1"/><circle cx="964.6" cy="679.0" r="1.1"/><circle cx="995.3" cy="644.2" r="1.1"/><circle cx="981.1" cy="662.0" r="1.1"/><circle cx="988.1" cy="645.6" r="1.1"/><circle cx="978.7" cy="656.4" r="1.1"/><circle cx="996.7" cy="642.6" r="1.1"/><circle cx="981.7" cy="672.8" r="1.1"/><circle cx="1002.0" cy="679.7" r="1.1"/><circle cx="977.1" cy="669.0" r="1.1"/><circle cx="988.8" cy="645.1" r="1.1"/><circle cx="946.3" cy="678.1" r="1.1"/><circle cx="972.0" cy="678.6" r="1.1"/><circle cx="1007.8" cy="675.7" r="1.1"/><circle cx="995.8" cy="677.7" r="1.1"/><circle cx="963.1" cy="653.0" r="1.1"/><circle cx="964.6" cy="615.5" r="1.1"/><circle cx="1002.9" cy="677.7" r="1.1"/><circle cx="983.9" cy="651.9" r="1.1"/><circle cx="988.8" cy="672.9" r="1.1"/><circle cx="996.1" cy="654.2" r="1.1"/><circle cx="976.7" cy="680.1" r="1.1"/><circle cx="975.9" cy="678.9" r="1.1"/><circle cx="975.4" cy="666.2" r="1.1"/><circle cx="980.9" cy="653.9" r="1.1"/><circle cx="969.0" cy="628.8" r="1.1"/><circle cx="975.9" cy="667.3" r="1.1"/><circle cx="976.3" cy="676.8" r="1.1"/><circle cx="999.8" cy="678.8" r="1.1"/><circle cx="983.4" cy="682.5" r="1.1"/><circle cx="972.7" cy="672.3" r="1.1"/><circle cx="984.0" cy="682.5" r="1.1"/><circle cx="994.0" cy="662.6" r="1.1"/><circle cx="998.5" cy="663.5" r="1.1"/><circle cx="961.3" cy="677.5" r="1.1"/><circle cx="979.7" cy="677.4" r="1.1"/><circle cx="978.9" cy="674.4" r="1.1"/><circle cx="991.3" cy="679.4" r="1.1"/><circle cx="996.0" cy="653.9" r="1.1"/><circle cx="989.7" cy="658.5" r="1.1"/><circle cx="980.0" cy="678.2" r="1.1"/><circle cx="978.4" cy="633.2" r="1.1"/><circle cx="985.7" cy="680.7" r="1.1"/><circle cx="1007.6" cy="667.0" r="1.1"/><circle cx="990.6" cy="660.5" r="1.1"/><circle cx="1002.2" cy="656.2" r="1.1"/><circle cx="996.3" cy="663.7" r="1.1"/><circle cx="985.5" cy="682.0" r="1.1"/><circle cx="995.5" cy="635.2" r="1.1"/><circle cx="986.5" cy="675.6" r="1.1"/><circle cx="992.4" cy="677.9" r="1.1"/><circle cx="984.4" cy="666.3" r="1.1"/><circle cx="988.5" cy="660.7" r="1.1"/><circle cx="968.3" cy="677.0" r="1.1"/><circle cx="983.5" cy="672.3" r="1.1"/><circle cx="992.0" cy="645.5" r="1.1"/><circle cx="975.1" cy="678.5" r="1.1"/><circle cx="959.7" cy="659.6" r="1.1"/><circle cx="991.5" cy="676.1" r="1.1"/><circle cx="983.2" cy="653.1" r="1.1"/><circle cx="996.4" cy="673.2" r="1.1"/><circle cx="1003.7" cy="644.9" r="1.1"/><circle cx="969.9" cy="666.8" r="1.1"/><circle cx="983.7" cy="670.7" r="1.1"/><circle cx="1007.7" cy="681.9" r="1.1"/><circle cx="977.7" cy="681.3" r="1.1"/><circle cx="990.0" cy="676.4" r="1.1"/><circle cx="1008.5" cy="670.8" r="1.1"/><circle cx="983.2" cy="664.2" r="1.1"/><circle cx="973.2" cy="676.5" r="1.1"/><circle cx="1004.7" cy="641.6" r="1.1"/><circle cx="993.1" cy="665.6" r="1.1"/><circle cx="972.8" cy="673.0" r="1.1"/><circle cx="998.6" cy="627.2" r="1.1"/><circle cx="959.6" cy="680.5" r="1.1"/><circle cx="994.9" cy="680.5" r="1.1"/><circle cx="982.5" cy="671.5" r="1.1"/><circle cx="985.4" cy="660.8" r="1.1"/><circle cx="985.7" cy="650.2" r="1.1"/><circle cx="991.5" cy="674.2" r="1.1"/><circle cx="979.7" cy="676.9" r="1.1"/><circle cx="967.6" cy="671.9" r="1.1"/><circle cx="1010.6" cy="665.3" r="1.1"/><circle cx="958.5" cy="670.2" r="1.1"/><circle cx="962.6" cy="680.3" r="1.1"/><circle cx="994.9" cy="669.1" r="1.1"/><circle cx="991.1" cy="680.9" r="1.1"/><circle cx="983.0" cy="682.0" r="1.1"/><circle cx="981.7" cy="655.7" r="1.1"/><circle cx="965.8" cy="664.5" r="1.1"/><circle cx="993.3" cy="672.7" r="1.1"/><circle cx="1015.3" cy="658.6" r="1.1"/><circle cx="999.2" cy="676.5" r="1.1"/><circle cx="1012.8" cy="625.9" r="1.1"/><circle cx="1000.7" cy="653.8" r="1.1"/><circle cx="1026.7" cy="680.1" r="1.1"/><circle cx="965.6" cy="678.6" r="1.1"/><circle cx="981.6" cy="668.8" r="1.1"/><circle cx="993.4" cy="646.7" r="1.1"/><circle cx="985.4" cy="676.7" r="1.1"/><circle cx="1018.2" cy="646.6" r="1.1"/><circle cx="992.7" cy="682.0" r="1.1"/><circle cx="992.4" cy="664.4" r="1.1"/><circle cx="1009.8" cy="671.4" r="1.1"/><circle cx="997.3" cy="632.5" r="1.1"/><circle cx="970.6" cy="653.1" r="1.1"/><circle cx="1005.6" cy="672.9" r="1.1"/><circle cx="992.7" cy="663.7" r="1.1"/><circle cx="969.0" cy="671.0" r="1.1"/><circle cx="998.5" cy="667.3" r="1.1"/><circle cx="1002.4" cy="670.8" r="1.1"/><circle cx="1003.1" cy="631.1" r="1.1"/><circle cx="988.0" cy="665.4" r="1.1"/><circle cx="1001.8" cy="678.5" r="1.1"/><circle cx="999.2" cy="668.3" r="1.1"/><circle cx="970.0" cy="631.4" r="1.1"/><circle cx="989.5" cy="681.4" r="1.1"/><circle cx="1013.4" cy="599.1" r="1.1"/><circle cx="974.5" cy="637.3" r="1.1"/><circle cx="991.3" cy="639.5" r="1.1"/><circle cx="973.1" cy="618.1" r="1.1"/><circle cx="977.6" cy="614.1" r="1.1"/><circle cx="977.6" cy="611.2" r="1.1"/><circle cx="999.9" cy="637.6" r="1.1"/><circle cx="1003.1" cy="599.7" r="1.1"/><circle cx="1019.7" cy="639.1" r="1.1"/><circle cx="1003.3" cy="626.7" r="1.1"/><circle cx="988.8" cy="620.4" r="1.1"/><circle cx="969.0" cy="612.8" r="1.1"/><circle cx="973.4" cy="602.7" r="1.1"/><circle cx="971.9" cy="613.1" r="1.1"/><circle cx="996.1" cy="639.5" r="1.1"/><circle cx="972.5" cy="618.8" r="1.1"/><circle cx="987.3" cy="634.0" r="1.1"/><circle cx="971.8" cy="630.6" r="1.1"/><circle cx="1010.0" cy="634.8" r="1.1"/><circle cx="1007.0" cy="635.9" r="1.1"/><circle cx="1010.2" cy="606.5" r="1.1"/><circle cx="1013.7" cy="623.5" r="1.1"/><circle cx="1018.7" cy="622.4" r="1.1"/><circle cx="1000.2" cy="603.9" r="1.1"/><circle cx="974.5" cy="638.9" r="1.1"/><circle cx="1003.6" cy="630.8" r="1.1"/><circle cx="978.2" cy="618.9" r="1.1"/><circle cx="975.6" cy="628.9" r="1.1"/><circle cx="977.3" cy="636.9" r="1.1"/><circle cx="1010.1" cy="603.2" r="1.1"/><circle cx="1005.6" cy="621.3" r="1.1"/><circle cx="1015.8" cy="616.7" r="1.1"/><circle cx="996.1" cy="640.0" r="1.1"/><circle cx="985.5" cy="631.3" r="1.1"/><circle cx="1001.7" cy="597.9" r="1.1"/><circle cx="1000.0" cy="626.7" r="1.1"/><circle cx="1011.0" cy="637.4" r="1.1"/><circle cx="1009.6" cy="639.0" r="1.1"/><circle cx="1018.1" cy="607.2" r="1.1"/><circle cx="1019.2" cy="619.4" r="1.1"/><circle cx="1001.7" cy="623.1" r="1.1"/><circle cx="1006.6" cy="616.9" r="1.1"/><circle cx="990.9" cy="605.1" r="1.1"/><circle cx="1016.8" cy="628.5" r="1.1"/><circle cx="980.2" cy="596.5" r="1.1"/><circle cx="984.5" cy="624.5" r="1.1"/><circle cx="995.7" cy="628.0" r="1.1"/><circle cx="990.9" cy="628.7" r="1.1"/><circle cx="990.1" cy="605.3" r="1.1"/><circle cx="1007.3" cy="599.4" r="1.1"/><circle cx="1016.4" cy="629.0" r="1.1"/><circle cx="1008.1" cy="610.0" r="1.1"/><circle cx="999.9" cy="619.2" r="1.1"/><circle cx="1015.7" cy="615.8" r="1.1"/><circle cx="1016.7" cy="636.2" r="1.1"/><circle cx="985.6" cy="635.0" r="1.1"/><circle cx="1005.0" cy="620.4" r="1.1"/><circle cx="983.6" cy="625.9" r="1.1"/><circle cx="992.4" cy="627.2" r="1.1"/><circle cx="992.9" cy="613.1" r="1.1"/><circle cx="967.5" cy="631.1" r="1.1"/><circle cx="994.5" cy="611.3" r="1.1"/><circle cx="998.2" cy="608.2" r="1.1"/><circle cx="989.7" cy="600.2" r="1.1"/><circle cx="1007.6" cy="618.4" r="1.1"/><circle cx="997.0" cy="605.0" r="1.1"/><circle cx="981.5" cy="628.3" r="1.1"/><circle cx="993.2" cy="618.3" r="1.1"/><circle cx="969.2" cy="618.5" r="1.1"/><circle cx="1015.6" cy="602.3" r="1.1"/><circle cx="902.2" cy="639.1" r="1.1"/><circle cx="898.2" cy="678.5" r="1.1"/><circle cx="908.7" cy="649.2" r="1.1"/><circle cx="903.8" cy="644.6" r="1.1"/><circle cx="912.3" cy="664.1" r="1.1"/><circle cx="902.9" cy="637.0" r="1.1"/><circle cx="905.6" cy="626.0" r="1.1"/><circle cx="890.6" cy="633.1" r="1.1"/><circle cx="890.5" cy="663.1" r="1.1"/><circle cx="897.8" cy="632.9" r="1.1"/><circle cx="910.3" cy="648.3" r="1.1"/><circle cx="902.5" cy="641.4" r="1.1"/><circle cx="890.2" cy="659.7" r="1.1"/><circle cx="900.1" cy="679.9" r="1.1"/><circle cx="896.8" cy="665.5" r="1.1"/><circle cx="892.6" cy="671.1" r="1.1"/><circle cx="898.2" cy="641.6" r="1.1"/><circle cx="909.4" cy="663.0" r="1.1"/><circle cx="907.9" cy="638.4" r="1.1"/><circle cx="892.0" cy="670.5" r="1.1"/><circle cx="910.0" cy="674.2" r="1.1"/><circle cx="904.2" cy="646.4" r="1.1"/><circle cx="998.6" cy="523.0" r="1.1"/><circle cx="1009.3" cy="551.6" r="1.1"/><circle cx="1025.4" cy="560.5" r="1.1"/><circle cx="1043.2" cy="566.8" r="1.1"/><circle cx="1050.4" cy="576.6" r="1.1"/><circle cx="1030.7" cy="590.9" r="1.1"/><circle cx="987.9" cy="569.4" r="1.1"/><circle cx="998.6" cy="571.2" r="1.1"/><circle cx="1032.5" cy="581.1" r="1.1"/><circle cx="970.0" cy="590.0" r="1.1"/></g>
<line x1="909.3" y1="694.6" x2="941.4" y2="694.6" stroke="#333" stroke-width="1.2" />
<line x1="921.9" y1="459.5" x2="921.9" y2="715.0" stroke="#555" stroke-width="0.9" stroke-dasharray="3,2"/>
<line x1="939.7" y1="459.5" x2="939.7" y2="715.0" stroke="#555" stroke-width="0.9" stroke-dasharray="3,2"/>
<line x1="828.4" y1="682.9" x2="1122.8" y2="682.9" stroke="#555" stroke-width="0.9" stroke-dasharray="3,2"/>
<line x1="828.4" y1="459.5" x2="828.4" y2="715.6" stroke="#222" stroke-width="1.2" />
<line x1="828.4" y1="715.0" x2="1122.8" y2="715.0" stroke="#222" stroke-width="1.2" />
<line x1="825.4" y1="694.6" x2="828.4" y2="694.6" stroke="#333" stroke-width="1" />
<text x="821.1" y="699.2" font-size="12.8" fill="#4d4d4d" text-anchor="end" >0</text>
<line x1="825.4" y1="649.9" x2="828.4" y2="649.9" stroke="#333" stroke-width="1" />
<text x="821.1" y="654.5" font-size="12.8" fill="#4d4d4d" text-anchor="end" >5</text>
<line x1="825.4" y1="605.2" x2="828.4" y2="605.2" stroke="#333" stroke-width="1" />
<text x="821.1" y="609.8" font-size="12.8" fill="#4d4d4d" text-anchor="end" >10</text>
<line x1="825.4" y1="560.5" x2="828.4" y2="560.5" stroke="#333" stroke-width="1" />
<text x="821.1" y="565.1" font-size="12.8" fill="#4d4d4d" text-anchor="end" >15</text>
<line x1="825.4" y1="515.8" x2="828.4" y2="515.8" stroke="#333" stroke-width="1" />
<text x="821.1" y="520.4" font-size="12.8" fill="#4d4d4d" text-anchor="end" >20</text>
<line x1="825.4" y1="471.1" x2="828.4" y2="471.1" stroke="#333" stroke-width="1" />
<text x="821.1" y="475.7" font-size="12.8" fill="#4d4d4d" text-anchor="end" >25</text>
<line x1="841.4" y1="715.0" x2="841.4" y2="718.0" stroke="#333" stroke-width="1" />
<text x="841.4" y="730.8" font-size="12.8" fill="#4d4d4d" text-anchor="middle" >-0.5</text>
<line x1="930.7" y1="715.0" x2="930.7" y2="718.0" stroke="#333" stroke-width="1" />
<text x="930.7" y="730.8" font-size="12.8" fill="#4d4d4d" text-anchor="middle" >0.0</text>
<line x1="1020.0" y1="715.0" x2="1020.0" y2="718.0" stroke="#333" stroke-width="1" />
<text x="1020.0" y="730.8" font-size="12.8" fill="#4d4d4d" text-anchor="middle" >0.5</text>
<line x1="1109.3" y1="715.0" x2="1109.3" y2="718.0" stroke="#333" stroke-width="1" />
<text x="1109.3" y="730.8" font-size="12.8" fill="#4d4d4d" text-anchor="middle" >1.0</text>
<text x="934.6" y="745.5" font-size="14.5" fill="#222" text-anchor="start" textLength="24.0" lengthAdjust="spacingAndGlyphs" >Log</text>
<text x="959.0" y="749.0" font-size="9.5" fill="#222" text-anchor="start" >2</text>
<text x="965.0" y="745.5" font-size="14.5" fill="#222" text-anchor="start" textLength="56.0" lengthAdjust="spacingAndGlyphs" >fold change</text>
<g transform="translate(803.5 585) rotate(-90)"><text x="-34" y="0" font-size="14.5" fill="#222">− Log</text><text x="3.5" y="3.5" font-size="9.5" fill="#222">10</text><text x="15.5" y="0" font-size="14.5" font-style="italic" fill="#222">P</text></g>
<text x="865.2" y="762.8" font-size="8.8" fill="#222" text-anchor="start" textLength="257.6" lengthAdjust="spacingAndGlyphs" >p_val_adj &lt; 0.05 &amp; |log2FC| &gt; 0.25; LMNA and PRKDC not shown</text>
<text x="885.4" y="508.0" font-size="6.6" fill="#111" text-anchor="middle" >MT-RNR2</text>
<text x="875.8" y="535.1" font-size="6.6" fill="#111" text-anchor="middle" >RPS27</text>
<text x="1013.5" y="514.2" font-size="6.6" fill="#111" text-anchor="middle" >INO80D</text>
<text x="986.3" y="523.0" font-size="6.6" fill="#111" text-anchor="middle" >HSP90B1</text>
<text x="1012.8" y="533.6" font-size="6.6" fill="#111" text-anchor="middle" >CSMD1</text>
<text x="994.6" y="541.6" font-size="6.6" fill="#111" text-anchor="middle" >ALDOA</text>
<text x="1000.6" y="551.5" font-size="6.6" fill="#111" text-anchor="middle" >RBFOX1</text>
<text x="1020.0" y="560.3" font-size="6.6" fill="#111" text-anchor="middle" >HSPH1</text>
<text x="1043.8" y="565.4" font-size="6.6" fill="#111" text-anchor="middle" >JUNB</text>
<text x="976.5" y="566.0" font-size="6.6" fill="#111" text-anchor="middle" >PDIA6</text>
<text x="1005.8" y="566.0" font-size="6.6" fill="#111" text-anchor="middle" >RPL21P16</text>
<text x="1042.0" y="571.1" font-size="6.6" fill="#111" text-anchor="middle" >GLUL</text>
<text x="1068.7" y="577.9" font-size="6.6" fill="#111" text-anchor="middle" >AC092069.1</text>
<text x="1029.6" y="583.0" font-size="6.6" fill="#111" text-anchor="middle" >SDF2L1</text>
<text x="1030.4" y="590.8" font-size="6.6" fill="#111" text-anchor="middle" >EMP1</text>
<text x="1059.4" y="603.0" font-size="6.6" fill="#111" text-anchor="middle" >AC016708.1</text>
<text x="1066.6" y="608.9" font-size="6.6" fill="#111" text-anchor="middle" >PHLDA2</text>
<text x="1031.7" y="617.2" font-size="6.6" fill="#111" text-anchor="middle" >MYDGF</text>
<text x="1043.3" y="622.9" font-size="6.6" fill="#111" text-anchor="middle" >TBC1D3P1-DHX40P1</text>
<text x="1035.0" y="636.1" font-size="6.6" fill="#111" text-anchor="middle" >COPA</text>
<text x="1078.3" y="637.9" font-size="6.6" fill="#111" text-anchor="middle" >CYR61</text>
<text x="1035.5" y="642.1" font-size="6.6" fill="#111" text-anchor="middle" >HERPUD1</text>
<text x="1029.0" y="669.0" font-size="6.6" fill="#111" text-anchor="middle" >ACYP2</text>
<text transform="translate(1131.71 379.37) scale(0.7245 1)" font-size="43.24" fill="#000" stroke="#000" stroke-width="0.97">E</text>
<text x="1431.9" y="422.5" font-size="21.5" fill="#000" text-anchor="middle" font-weight="bold" textLength="508.0" lengthAdjust="spacingAndGlyphs" >Top 20 Upregulated Markers in High LMNA+PRKDC+</text>
<text x="1433.8" y="449.0" font-size="21.5" fill="#000" text-anchor="middle" font-weight="bold" textLength="539.6" lengthAdjust="spacingAndGlyphs" >Co-expressing Cells Grouped by Treatment Conditions</text>
<rect x="1221.2" y="554.0" width="20.2" height="51.9" fill="#f78153" stroke="#9a9a9a" stroke-width="0.7" />
<rect x="1241.4" y="554.0" width="20.2" height="51.9" fill="#de4331" stroke="#9a9a9a" stroke-width="0.7" />
<rect x="1261.6" y="554.0" width="20.2" height="51.9" fill="#de4331" stroke="#9a9a9a" stroke-width="0.7" />
<rect x="1281.8" y="554.0" width="20.2" height="51.9" fill="#5887be" stroke="#9a9a9a" stroke-width="0.7" />
<rect x="1302.0" y="554.0" width="20.2" height="51.9" fill="#88b6d6" stroke="#9a9a9a" stroke-width="0.7" />
<rect x="1322.2" y="554.0" width="20.2" height="51.9" fill="#8bb9d8" stroke="#9a9a9a" stroke-width="0.7" />
<rect x="1342.4" y="554.0" width="20.2" height="51.9" fill="#a1c9e1" stroke="#9a9a9a" stroke-width="0.7" />
<rect x="1362.6" y="554.0" width="20.2" height="51.9" fill="#dcf0f7" stroke="#9a9a9a" stroke-width="0.7" />
<rect x="1382.8" y="554.0" width="20.2" height="51.9" fill="#dcf0f7" stroke="#9a9a9a" stroke-width="0.7" />
<rect x="1403.0" y="554.0" width="20.2" height="51.9" fill="#d6ecf4" stroke="#9a9a9a" stroke-width="0.7" />
<rect x="1423.2" y="554.0" width="20.2" height="51.9" fill="#e5f5ee" stroke="#9a9a9a" stroke-width="0.7" />
<rect x="1443.5" y="554.0" width="20.2" height="51.9" fill="#e2f4f5" stroke="#9a9a9a" stroke-width="0.7" />
<rect x="1463.7" y="554.0" width="20.2" height="51.9" fill="#e0f3f8" stroke="#9a9a9a" stroke-width="0.7" />
<rect x="1483.9" y="554.0" width="20.2" height="51.9" fill="#fffcba" stroke="#9a9a9a" stroke-width="0.7" />
<rect x="1504.1" y="554.0" width="20.2" height="51.9" fill="#fffab8" stroke="#9a9a9a" stroke-width="0.7" />
<rect x="1524.3" y="554.0" width="20.2" height="51.9" fill="#f6fbd0" stroke="#9a9a9a" stroke-width="0.7" />
<rect x="1544.5" y="554.0" width="20.2" height="51.9" fill="#f0f9dc" stroke="#9a9a9a" stroke-width="0.7" />
<rect x="1564.7" y="554.0" width="20.2" height="51.9" fill="#f3fad6" stroke="#9a9a9a" stroke-width="0.7" />
<rect x="1584.9" y="554.0" width="20.2" height="51.9" fill="#f3fad6" stroke="#9a9a9a" stroke-width="0.7" />
<rect x="1605.1" y="554.0" width="20.2" height="51.9" fill="#f0f9dc" stroke="#9a9a9a" stroke-width="0.7" />
<rect x="1221.2" y="605.9" width="20.2" height="51.9" fill="#6191c3" stroke="#9a9a9a" stroke-width="0.7" />
<rect x="1241.4" y="605.9" width="20.2" height="51.9" fill="#c2e0ed" stroke="#9a9a9a" stroke-width="0.7" />
<rect x="1261.6" y="605.9" width="20.2" height="51.9" fill="#cce6f1" stroke="#9a9a9a" stroke-width="0.7" />
<rect x="1281.8" y="605.9" width="20.2" height="51.9" fill="#fc9e64" stroke="#9a9a9a" stroke-width="0.7" />
<rect x="1302.0" y="605.9" width="20.2" height="51.9" fill="#ea5e40" stroke="#9a9a9a" stroke-width="0.7" />
<rect x="1322.2" y="605.9" width="20.2" height="51.9" fill="#e85a3e" stroke="#9a9a9a" stroke-width="0.7" />
<rect x="1342.4" y="605.9" width="20.2" height="51.9" fill="#f0f9dc" stroke="#9a9a9a" stroke-width="0.7" />
<rect x="1362.6" y="605.9" width="20.2" height="51.9" fill="#b1d4e7" stroke="#9a9a9a" stroke-width="0.7" />
<rect x="1382.8" y="605.9" width="20.2" height="51.9" fill="#abd0e4" stroke="#9a9a9a" stroke-width="0.7" />
<rect x="1403.0" y="605.9" width="20.2" height="51.9" fill="#afd2e6" stroke="#9a9a9a" stroke-width="0.7" />
<rect x="1423.2" y="605.9" width="20.2" height="51.9" fill="#a1c9e1" stroke="#9a9a9a" stroke-width="0.7" />
<rect x="1443.5" y="605.9" width="20.2" height="51.9" fill="#add1e5" stroke="#9a9a9a" stroke-width="0.7" />
<rect x="1463.7" y="605.9" width="20.2" height="51.9" fill="#a5cce2" stroke="#9a9a9a" stroke-width="0.7" />
<rect x="1483.9" y="605.9" width="20.2" height="51.9" fill="#6f9ec9" stroke="#9a9a9a" stroke-width="0.7" />
<rect x="1504.1" y="605.9" width="20.2" height="51.9" fill="#76a5cd" stroke="#9a9a9a" stroke-width="0.7" />
<rect x="1524.3" y="605.9" width="20.2" height="51.9" fill="#84b2d4" stroke="#9a9a9a" stroke-width="0.7" />
<rect x="1544.5" y="605.9" width="20.2" height="51.9" fill="#89b8d7" stroke="#9a9a9a" stroke-width="0.7" />
<rect x="1564.7" y="605.9" width="20.2" height="51.9" fill="#86b4d5" stroke="#9a9a9a" stroke-width="0.7" />
<rect x="1584.9" y="605.9" width="20.2" height="51.9" fill="#89b8d7" stroke="#9a9a9a" stroke-width="0.7" />
<rect x="1605.1" y="605.9" width="20.2" height="51.9" fill="#88b6d6" stroke="#9a9a9a" stroke-width="0.7" />
<rect x="1221.2" y="657.9" width="20.2" height="51.9" fill="#fee89c" stroke="#9a9a9a" stroke-width="0.7" />
<rect x="1241.4" y="657.9" width="20.2" height="51.9" fill="#c2e0ed" stroke="#9a9a9a" stroke-width="0.7" />
<rect x="1261.6" y="657.9" width="20.2" height="51.9" fill="#b5d6e8" stroke="#9a9a9a" stroke-width="0.7" />
<rect x="1281.8" y="657.9" width="20.2" height="51.9" fill="#fdc780" stroke="#9a9a9a" stroke-width="0.7" />
<rect x="1302.0" y="657.9" width="20.2" height="51.9" fill="#fffcba" stroke="#9a9a9a" stroke-width="0.7" />
<rect x="1322.2" y="657.9" width="20.2" height="51.9" fill="#fcfec5" stroke="#9a9a9a" stroke-width="0.7" />
<rect x="1342.4" y="657.9" width="20.2" height="51.9" fill="#de4331" stroke="#9a9a9a" stroke-width="0.7" />
<rect x="1362.6" y="657.9" width="20.2" height="51.9" fill="#de4331" stroke="#9a9a9a" stroke-width="0.7" />
<rect x="1382.8" y="657.9" width="20.2" height="51.9" fill="#de4331" stroke="#9a9a9a" stroke-width="0.7" />
<rect x="1403.0" y="657.9" width="20.2" height="51.9" fill="#de4331" stroke="#9a9a9a" stroke-width="0.7" />
<rect x="1423.2" y="657.9" width="20.2" height="51.9" fill="#de4331" stroke="#9a9a9a" stroke-width="0.7" />
<rect x="1443.5" y="657.9" width="20.2" height="51.9" fill="#de4331" stroke="#9a9a9a" stroke-width="0.7" />
<rect x="1463.7" y="657.9" width="20.2" height="51.9" fill="#de4331" stroke="#9a9a9a" stroke-width="0.7" />
<rect x="1483.9" y="657.9" width="20.2" height="51.9" fill="#ea5e40" stroke="#9a9a9a" stroke-width="0.7" />
<rect x="1504.1" y="657.9" width="20.2" height="51.9" fill="#ec6544" stroke="#9a9a9a" stroke-width="0.7" />
<rect x="1524.3" y="657.9" width="20.2" height="51.9" fill="#e5533a" stroke="#9a9a9a" stroke-width="0.7" />
<rect x="1544.5" y="657.9" width="20.2" height="51.9" fill="#e45138" stroke="#9a9a9a" stroke-width="0.7" />
<rect x="1564.7" y="657.9" width="20.2" height="51.9" fill="#e5533a" stroke="#9a9a9a" stroke-width="0.7" />
<rect x="1584.9" y="657.9" width="20.2" height="51.9" fill="#e5533a" stroke="#9a9a9a" stroke-width="0.7" />
<rect x="1605.1" y="657.9" width="20.2" height="51.9" fill="#e45138" stroke="#9a9a9a" stroke-width="0.7" />
<text x="1236.6" y="550.0" font-size="15" fill="#111" text-anchor="start" transform="rotate(-90 1236.6 550.0)" >ALDOA</text>
<text x="1256.8" y="550.0" font-size="15" fill="#111" text-anchor="start" transform="rotate(-90 1256.8 550.0)" >EEF2</text>
<text x="1277.0" y="550.0" font-size="15" fill="#111" text-anchor="start" transform="rotate(-90 1277.0 550.0)" >GLUL</text>
<text x="1297.2" y="550.0" font-size="15" fill="#111" text-anchor="start" transform="rotate(-90 1297.2 550.0)" >HSPH1</text>
<text x="1317.4" y="550.0" font-size="15" fill="#111" text-anchor="start" transform="rotate(-90 1317.4 550.0)" >PRKDC</text>
<text x="1337.6" y="550.0" font-size="15" fill="#111" text-anchor="start" transform="rotate(-90 1337.6 550.0)" >ANXA1</text>
<text x="1357.8" y="550.0" font-size="15" fill="#111" text-anchor="start" transform="rotate(-90 1357.8 550.0)" >CENPF</text>
<text x="1378.0" y="550.0" font-size="15" fill="#111" text-anchor="start" transform="rotate(-90 1378.0 550.0)" >HSP90B1</text>
<text x="1398.2" y="550.0" font-size="15" fill="#111" text-anchor="start" transform="rotate(-90 1398.2 550.0)" >INO80D</text>
<text x="1418.4" y="550.0" font-size="15" fill="#111" text-anchor="start" transform="rotate(-90 1418.4 550.0)" >HSPA5</text>
<text x="1438.7" y="550.0" font-size="15" fill="#111" text-anchor="start" transform="rotate(-90 1438.7 550.0)" >RPL21P16</text>
<text x="1458.9" y="550.0" font-size="15" fill="#111" text-anchor="start" transform="rotate(-90 1458.9 550.0)" >CSMD1</text>
<text x="1479.1" y="550.0" font-size="15" fill="#111" text-anchor="start" transform="rotate(-90 1479.1 550.0)" >RBFOX1</text>
<text x="1499.3" y="550.0" font-size="15" fill="#111" text-anchor="start" transform="rotate(-90 1499.3 550.0)" >LMNA</text>
<text x="1519.5" y="550.0" font-size="15" fill="#111" text-anchor="start" transform="rotate(-90 1519.5 550.0)" >JUNB</text>
<text x="1539.7" y="550.0" font-size="15" fill="#111" text-anchor="start" transform="rotate(-90 1539.7 550.0)" >PDIA4</text>
<text x="1559.9" y="550.0" font-size="15" fill="#111" text-anchor="start" transform="rotate(-90 1559.9 550.0)" >TXNRD1</text>
<text x="1580.1" y="550.0" font-size="15" fill="#111" text-anchor="start" transform="rotate(-90 1580.1 550.0)" >AL122020.1</text>
<text x="1600.3" y="550.0" font-size="15" fill="#111" text-anchor="start" transform="rotate(-90 1600.3 550.0)" >PDIA6</text>
<text x="1620.5" y="550.0" font-size="15" fill="#111" text-anchor="start" transform="rotate(-90 1620.5 550.0)" >RPS27AP16</text>
<text x="1628.4" y="586.0" font-size="15.2" fill="#111" text-anchor="start" textLength="55.0" lengthAdjust="spacingAndGlyphs" >PT-TMZ</text>
<text x="1628.4" y="638.1" font-size="15.2" fill="#111" text-anchor="start" textLength="68.5" lengthAdjust="spacingAndGlyphs" >MTP-TMZ</text>
<text x="1628.4" y="690.1" font-size="15.2" fill="#111" text-anchor="start" textLength="69.5" lengthAdjust="spacingAndGlyphs" >PT-DMSO</text>
<defs><linearGradient id="gHM" x1="0" y1="0" x2="0" y2="1"><stop offset="0.000" stop-color="#d73027"/><stop offset="0.167" stop-color="#fc8d59"/><stop offset="0.333" stop-color="#fee090"/><stop offset="0.500" stop-color="#ffffbf"/><stop offset="0.667" stop-color="#e0f3f8"/><stop offset="0.833" stop-color="#91bfdb"/><stop offset="1.000" stop-color="#4575b4"/></linearGradient></defs>
<rect x="1717.7" y="525.8" width="10.6" height="173.4" fill="url(#gHM)" />
<text x="1733.4" y="542.9" font-size="15" fill="#111" text-anchor="start" >1</text>
<text x="1733.4" y="580.9" font-size="15" fill="#111" text-anchor="start" >0.5</text>
<text x="1733.4" y="618.1" font-size="15" fill="#111" text-anchor="start" >0</text>
<text x="1733.4" y="655.7" font-size="15" fill="#111" text-anchor="start" >-0.5</text>
<text x="1733.4" y="692.9" font-size="15" fill="#111" text-anchor="start" >-1</text>
<line x1="1221.2" y1="580.6" x2="1180.9" y2="580.6" stroke="#222" stroke-width="0.9" />
<line x1="1221.2" y1="632.7" x2="1180.9" y2="632.7" stroke="#222" stroke-width="0.9" />
<line x1="1180.9" y1="580.6" x2="1180.9" y2="632.7" stroke="#222" stroke-width="0.9" />
<line x1="1180.9" y1="606.6" x2="1163.3" y2="606.6" stroke="#222" stroke-width="0.9" />
<line x1="1221.2" y1="684.7" x2="1163.3" y2="684.7" stroke="#222" stroke-width="0.9" />
<line x1="1163.3" y1="606.6" x2="1163.3" y2="684.7" stroke="#222" stroke-width="0.9" />
<line x1="1231.4" y1="709.8" x2="1231.4" y2="733.3" stroke="#222" stroke-width="0.9" />
<line x1="1261.2" y1="712.9" x2="1261.2" y2="733.3" stroke="#222" stroke-width="0.9" />
<line x1="1231.4" y1="733.3" x2="1261.2" y2="733.3" stroke="#222" stroke-width="0.9" />
<line x1="1251.4" y1="710.6" x2="1271.0" y2="710.6" stroke="#222" stroke-width="0.9" />
<line x1="1251.4" y1="709.8" x2="1251.4" y2="712.9" stroke="#222" stroke-width="0.9" />
<line x1="1271.0" y1="709.8" x2="1271.0" y2="712.9" stroke="#222" stroke-width="0.9" />
<line x1="1246.3" y1="733.3" x2="1246.3" y2="767.7" stroke="#222" stroke-width="0.9" />
<line x1="1246.3" y1="767.7" x2="1359.8" y2="767.7" stroke="#222" stroke-width="0.9" />
<line x1="1359.8" y1="761.5" x2="1359.8" y2="767.7" stroke="#222" stroke-width="0.9" />
<line x1="1291.7" y1="709.8" x2="1291.7" y2="725.5" stroke="#222" stroke-width="0.9" />
<line x1="1321.9" y1="711.8" x2="1321.9" y2="725.5" stroke="#222" stroke-width="0.9" />
<line x1="1291.7" y1="725.5" x2="1321.9" y2="725.5" stroke="#222" stroke-width="0.9" />
<line x1="1312.1" y1="710.6" x2="1331.6" y2="710.6" stroke="#222" stroke-width="0.9" />
<line x1="1312.1" y1="709.8" x2="1312.1" y2="712.9" stroke="#222" stroke-width="0.9" />
<line x1="1331.6" y1="709.8" x2="1331.6" y2="712.9" stroke="#222" stroke-width="0.9" />
<line x1="1306.6" y1="725.5" x2="1306.6" y2="761.5" stroke="#222" stroke-width="0.9" />
<line x1="1306.6" y1="761.5" x2="1412.7" y2="761.5" stroke="#222" stroke-width="0.9" />
<line x1="1412.7" y1="732.1" x2="1412.7" y2="761.5" stroke="#222" stroke-width="0.9" />
<line x1="1352.4" y1="709.8" x2="1352.4" y2="732.1" stroke="#222" stroke-width="0.9" />
<line x1="1352.4" y1="732.1" x2="1473.4" y2="732.1" stroke="#222" stroke-width="0.9" />
<line x1="1473.4" y1="722.7" x2="1473.4" y2="732.1" stroke="#222" stroke-width="0.9" />
<line x1="1417.8" y1="722.7" x2="1528.6" y2="722.7" stroke="#222" stroke-width="0.9" />
<line x1="1417.8" y1="715.7" x2="1417.8" y2="722.7" stroke="#222" stroke-width="0.9" />
<line x1="1528.6" y1="717.6" x2="1528.6" y2="722.7" stroke="#222" stroke-width="0.9" />
<line x1="1386.5" y1="712.9" x2="1449.1" y2="712.9" stroke="#222" stroke-width="0.9" />
<line x1="1386.5" y1="709.8" x2="1386.5" y2="712.9" stroke="#222" stroke-width="0.9" />
<line x1="1449.1" y1="709.8" x2="1449.1" y2="712.9" stroke="#222" stroke-width="0.9" />
<line x1="1404.1" y1="715.7" x2="1431.5" y2="715.7" stroke="#222" stroke-width="0.9" />
<line x1="1503.9" y1="717.6" x2="1552.9" y2="717.6" stroke="#222" stroke-width="0.9" />
<line x1="1503.9" y1="709.8" x2="1503.9" y2="717.6" stroke="#222" stroke-width="0.9" />
<line x1="1552.9" y1="713.7" x2="1552.9" y2="717.6" stroke="#222" stroke-width="0.9" />
<line x1="1533.3" y1="713.7" x2="1588.1" y2="713.7" stroke="#222" stroke-width="0.9" />
<line x1="1533.3" y1="709.8" x2="1533.3" y2="713.7" stroke="#222" stroke-width="0.9" />
<line x1="1588.1" y1="709.8" x2="1588.1" y2="713.7" stroke="#222" stroke-width="0.9" />
<line x1="1372.8" y1="710.6" x2="1400.2" y2="710.6" stroke="#222" stroke-width="0.9" />
<line x1="1427.6" y1="710.6" x2="1462.8" y2="710.6" stroke="#222" stroke-width="0.9" />
<line x1="1560.7" y1="711.4" x2="1599.9" y2="711.4" stroke="#222" stroke-width="0.9" />
<text transform="translate(14.87 868.38) scale(0.7863 1)" font-size="42.39" fill="#000" stroke="#000" stroke-width="0.95">F</text>
<g transform="translate(0 820) scale(0.43159)">
<text x="230" y="123.0" font-size="36" fill="#111" textLength="663" lengthAdjust="spacingAndGlyphs">GSEA Pathway: PID_AURORA_A_PATHWAY</text>
<line x1="322.0" y1="140" x2="322.0" y2="290" stroke="#e6e6e6" stroke-width="2"/>
<line x1="322.0" y1="409" x2="322.0" y2="512" stroke="#e6e6e6" stroke-width="2"/>
<line x1="431.0" y1="140" x2="431.0" y2="290" stroke="#e6e6e6" stroke-width="2"/>
<line x1="431.0" y1="409" x2="431.0" y2="512" stroke="#e6e6e6" stroke-width="2"/>
<line x1="540.0" y1="140" x2="540.0" y2="290" stroke="#e6e6e6" stroke-width="2"/>
<line x1="540.0" y1="409" x2="540.0" y2="512" stroke="#e6e6e6" stroke-width="2"/>
<line x1="649.0" y1="140" x2="649.0" y2="290" stroke="#e6e6e6" stroke-width="2"/>
<line x1="649.0" y1="409" x2="649.0" y2="512" stroke="#e6e6e6" stroke-width="2"/>
<line x1="758.0" y1="140" x2="758.0" y2="290" stroke="#e6e6e6" stroke-width="2"/>
<line x1="758.0" y1="409" x2="758.0" y2="512" stroke="#e6e6e6" stroke-width="2"/>
<line x1="213" y1="140" x2="213" y2="290" stroke="#333" stroke-width="2.2"/>
<text x="207" y="291.0" font-size="12" fill="#444" text-anchor="end">0.0</text>
<text x="207" y="243.0" font-size="12" fill="#444" text-anchor="end">0.2</text>
<text x="207" y="195.0" font-size="12" fill="#444" text-anchor="end">0.4</text>
<text x="207" y="147.0" font-size="12" fill="#444" text-anchor="end">0.6</text>
<path d="M213,290 L216,255 L222,255 L224,228 L230,228 L233,203 L240,203 L243,182 L255,182 L258,165 L265,165 L268,147 L345,178 L346,160 L403,183 L404,170 L453,187 L454,177 L476,185 L477,175 L502,185 L503,175 L616,215 L617,205 L790,285" fill="none" stroke="#3cf01e" stroke-width="3.2" stroke-linejoin="round"/>
<line x1="214" y1="298" x2="214" y2="372" stroke="#222" stroke-width="2.2"/>
<line x1="218" y1="298" x2="218" y2="372" stroke="#222" stroke-width="2.2"/>
<line x1="222" y1="298" x2="222" y2="372" stroke="#222" stroke-width="2.2"/>
<line x1="226" y1="298" x2="226" y2="372" stroke="#222" stroke-width="2.2"/>
<line x1="232" y1="298" x2="232" y2="372" stroke="#222" stroke-width="2.2"/>
<line x1="240" y1="298" x2="240" y2="372" stroke="#222" stroke-width="2.2"/>
<line x1="248" y1="298" x2="248" y2="372" stroke="#222" stroke-width="2.2"/>
<line x1="258" y1="298" x2="258" y2="372" stroke="#222" stroke-width="2.2"/>
<line x1="262" y1="298" x2="262" y2="372" stroke="#222" stroke-width="2.2"/>
<line x1="270" y1="298" x2="270" y2="372" stroke="#222" stroke-width="2.2"/>
<line x1="345" y1="298" x2="345" y2="372" stroke="#222" stroke-width="2.2"/>
<line x1="403" y1="298" x2="403" y2="372" stroke="#222" stroke-width="2.2"/>
<line x1="453" y1="298" x2="453" y2="372" stroke="#222" stroke-width="2.2"/>
<line x1="476" y1="298" x2="476" y2="372" stroke="#222" stroke-width="2.2"/>
<line x1="503" y1="298" x2="503" y2="372" stroke="#222" stroke-width="2.2"/>
<line x1="616" y1="298" x2="616" y2="372" stroke="#222" stroke-width="2.2"/>
<line x1="213" y1="294" x2="213" y2="512" stroke="#333" stroke-width="2.2"/>
<rect x="213" y="372" width="175.5" height="31" fill="#b2182b"/>
<rect x="388" y="372" width="114.5" height="31" fill="#e0433a"/>
<rect x="502" y="372" width="26.5" height="31" fill="#ee6e50"/>
<rect x="528" y="372" width="72.5" height="31" fill="#f4a98c"/>
<rect x="600" y="372" width="60.5" height="31" fill="#fbe4d8"/>
<rect x="660" y="372" width="75.5" height="31" fill="#eef3fa"/>
<rect x="735" y="372" width="27.5" height="31" fill="#c5dbea"/>
<rect x="762" y="372" width="13.5" height="31" fill="#7bb3d6"/>
<rect x="775" y="372" width="15.5" height="31" fill="#3b7fc0"/>
<text x="207" y="506.0" font-size="12" fill="#444" text-anchor="end">0</text>
<text x="207" y="476.0" font-size="12" fill="#444" text-anchor="end">1</text>
<text x="207" y="446.0" font-size="12" fill="#444" text-anchor="end">2</text>
<text x="207" y="416.0" font-size="12" fill="#444" text-anchor="end">3</text>
<path d="M213,502 L213,488 C253,493 363,496 530.4,500 L770,502 L790,507 L790,502 Z" fill="#bdbdbd"/>
<line x1="213" y1="512" x2="790" y2="512" stroke="#333" stroke-width="2.2"/>
<text x="322.0" y="529.5" font-size="12" fill="#444" text-anchor="middle">500</text>
<text x="431.0" y="529.5" font-size="12" fill="#444" text-anchor="middle">1000</text>
<text x="540.0" y="529.5" font-size="12" fill="#444" text-anchor="middle">1500</text>
<text x="649.0" y="529.5" font-size="12" fill="#444" text-anchor="middle">2000</text>
<text x="758.0" y="529.5" font-size="12" fill="#444" text-anchor="middle">2500</text>
<text x="502" y="550.5" font-size="16" fill="#222" text-anchor="middle">Rank in Ordered Dataset</text>
<text x="183" y="218.0" font-size="14" fill="#222" text-anchor="middle" transform="rotate(-90 183 218.0)">Running Enrichment Score</text>
<text x="183" y="462.5" font-size="14" fill="#222" text-anchor="middle" transform="rotate(-90 183 462.5)">Ranked List Metric</text>
<text x="978" y="121.0" font-size="36" fill="#111" textLength="584" lengthAdjust="spacingAndGlyphs">GSEA Pathway: PID_PLK1_PATHWAY</text>
<line x1="1082.2" y1="140" x2="1082.2" y2="285" stroke="#e6e6e6" stroke-width="2"/>
<line x1="1082.2" y1="402" x2="1082.2" y2="500" stroke="#e6e6e6" stroke-width="2"/>
<line x1="1187.4" y1="140" x2="1187.4" y2="285" stroke="#e6e6e6" stroke-width="2"/>
<line x1="1187.4" y1="402" x2="1187.4" y2="500" stroke="#e6e6e6" stroke-width="2"/>
<line x1="1292.6" y1="140" x2="1292.6" y2="285" stroke="#e6e6e6" stroke-width="2"/>
<line x1="1292.6" y1="402" x2="1292.6" y2="500" stroke="#e6e6e6" stroke-width="2"/>
<line x1="1397.8" y1="140" x2="1397.8" y2="285" stroke="#e6e6e6" stroke-width="2"/>
<line x1="1397.8" y1="402" x2="1397.8" y2="500" stroke="#e6e6e6" stroke-width="2"/>
<line x1="1503.0" y1="140" x2="1503.0" y2="285" stroke="#e6e6e6" stroke-width="2"/>
<line x1="1503.0" y1="402" x2="1503.0" y2="500" stroke="#e6e6e6" stroke-width="2"/>
<line x1="977" y1="140" x2="977" y2="285" stroke="#333" stroke-width="2.2"/>
<text x="971" y="286.0" font-size="12" fill="#444" text-anchor="end">0.0</text>
<text x="971" y="258.2" font-size="12" fill="#444" text-anchor="end">0.1</text>
<text x="971" y="230.4" font-size="12" fill="#444" text-anchor="end">0.2</text>
<text x="971" y="202.6" font-size="12" fill="#444" text-anchor="end">0.3</text>
<text x="971" y="174.8" font-size="12" fill="#444" text-anchor="end">0.4</text>
<text x="971" y="147.0" font-size="12" fill="#444" text-anchor="end">0.5</text>
<path d="M977,283 L979,262 L985,262 L987,248 L990,248 L992,225 L1003,228 L1005,213 L1015,218 L1017,205 L1027,210 L1029,195 L1040,200 L1042,187 L1052,192 L1054,180 L1068,185 L1070,170 L1085,175 L1087,163 L1100,170 L1102,158 L1112,163 L1114,155 L1130,148 L1148,160 L1160,152 L1210,172 L1211,165 L1250,185 L1252,178 L1265,187 L1270,175 L1352,212 L1353,210 L1365,215 L1372,210 L1400,220 L1401,218 L1520,280 L1525,276 L1535,282" fill="none" stroke="#3cf01e" stroke-width="3.2" stroke-linejoin="round"/>
<line x1="978" y1="295" x2="978" y2="367" stroke="#222" stroke-width="2.2"/>
<line x1="982" y1="295" x2="982" y2="367" stroke="#222" stroke-width="2.2"/>
<line x1="986" y1="295" x2="986" y2="367" stroke="#222" stroke-width="2.2"/>
<line x1="990" y1="295" x2="990" y2="367" stroke="#222" stroke-width="2.2"/>
<line x1="1005" y1="295" x2="1005" y2="367" stroke="#222" stroke-width="2.2"/>
<line x1="1017" y1="295" x2="1017" y2="367" stroke="#222" stroke-width="2.2"/>
<line x1="1028" y1="295" x2="1028" y2="367" stroke="#222" stroke-width="2.2"/>
<line x1="1040" y1="295" x2="1040" y2="367" stroke="#222" stroke-width="2.2"/>
<line x1="1055" y1="295" x2="1055" y2="367" stroke="#222" stroke-width="2.2"/>
<line x1="1068" y1="295" x2="1068" y2="367" stroke="#222" stroke-width="2.2"/>
<line x1="1088" y1="295" x2="1088" y2="367" stroke="#222" stroke-width="2.2"/>
<line x1="1100" y1="295" x2="1100" y2="367" stroke="#222" stroke-width="2.2"/>
<line x1="1112" y1="295" x2="1112" y2="367" stroke="#222" stroke-width="2.2"/>
<line x1="1130" y1="295" x2="1130" y2="367" stroke="#222" stroke-width="2.2"/>
<line x1="1160" y1="295" x2="1160" y2="367" stroke="#222" stroke-width="2.2"/>
<line x1="1210" y1="295" x2="1210" y2="367" stroke="#222" stroke-width="2.2"/>
<line x1="1250" y1="295" x2="1250" y2="367" stroke="#222" stroke-width="2.2"/>
<line x1="1265" y1="295" x2="1265" y2="367" stroke="#222" stroke-width="2.2"/>
<line x1="1270" y1="295" x2="1270" y2="367" stroke="#222" stroke-width="2.2"/>
<line x1="1352" y1="295" x2="1352" y2="367" stroke="#222" stroke-width="2.2"/>
<line x1="1365" y1="295" x2="1365" y2="367" stroke="#222" stroke-width="2.2"/>
<line x1="1372" y1="295" x2="1372" y2="367" stroke="#222" stroke-width="2.2"/>
<line x1="1400" y1="295" x2="1400" y2="367" stroke="#222" stroke-width="2.2"/>
<line x1="1518" y1="295" x2="1518" y2="367" stroke="#222" stroke-width="2.2"/>
<line x1="1525" y1="295" x2="1525" y2="367" stroke="#222" stroke-width="2.2"/>
<line x1="977" y1="291" x2="977" y2="500" stroke="#333" stroke-width="2.2"/>
<rect x="977" y="367" width="161.5" height="29" fill="#d0302d"/>
<rect x="1138" y="367" width="105.5" height="29" fill="#e8775a"/>
<rect x="1243" y="367" width="62.5" height="29" fill="#f2a58a"/>
<rect x="1305" y="367" width="93.5" height="29" fill="#fbe5d8"/>
<rect x="1398" y="367" width="39.5" height="29" fill="#eef3fa"/>
<rect x="1437" y="367" width="35.5" height="29" fill="#c3dbeb"/>
<rect x="1472" y="367" width="33.5" height="29" fill="#86bbdc"/>
<rect x="1505" y="367" width="30.5" height="29" fill="#3f84c2"/>
<text x="971" y="494.0" font-size="12" fill="#444" text-anchor="end">0</text>
<text x="971" y="465.7" font-size="12" fill="#444" text-anchor="end">1</text>
<text x="971" y="437.3" font-size="12" fill="#444" text-anchor="end">2</text>
<text x="971" y="409.0" font-size="12" fill="#444" text-anchor="end">3</text>
<path d="M977,490 L977,476 C1017,481 1127,484 1283.9,488 L1515,490 L1535,495 L1535,490 Z" fill="#bdbdbd"/>
<line x1="977" y1="500" x2="1535" y2="500" stroke="#333" stroke-width="2.2"/>
<text x="1082.2" y="519.5" font-size="12" fill="#444" text-anchor="middle">500</text>
<text x="1187.4" y="519.5" font-size="12" fill="#444" text-anchor="middle">1000</text>
<text x="1292.6" y="519.5" font-size="12" fill="#444" text-anchor="middle">1500</text>
<text x="1397.8" y="519.5" font-size="12" fill="#444" text-anchor="middle">2000</text>
<text x="1503.0" y="519.5" font-size="12" fill="#444" text-anchor="middle">2500</text>
<text x="1255" y="538.5" font-size="16" fill="#222" text-anchor="middle">Rank in Ordered Dataset</text>
<text x="947" y="215.5" font-size="14" fill="#222" text-anchor="middle" transform="rotate(-90 947 215.5)">Running Enrichment Score</text>
<text x="947" y="453.0" font-size="14" fill="#222" text-anchor="middle" transform="rotate(-90 947 453.0)">Ranked List Metric</text>
<text x="246" y="601.0" font-size="36" fill="#111" textLength="609" lengthAdjust="spacingAndGlyphs">GSEA Pathway: PID_ATF2_PATHWAY</text>
<line x1="321.5" y1="622" x2="321.5" y2="775" stroke="#e6e6e6" stroke-width="2"/>
<line x1="321.5" y1="891" x2="321.5" y2="995" stroke="#e6e6e6" stroke-width="2"/>
<line x1="430.0" y1="622" x2="430.0" y2="775" stroke="#e6e6e6" stroke-width="2"/>
<line x1="430.0" y1="891" x2="430.0" y2="995" stroke="#e6e6e6" stroke-width="2"/>
<line x1="538.5" y1="622" x2="538.5" y2="775" stroke="#e6e6e6" stroke-width="2"/>
<line x1="538.5" y1="891" x2="538.5" y2="995" stroke="#e6e6e6" stroke-width="2"/>
<line x1="647.0" y1="622" x2="647.0" y2="775" stroke="#e6e6e6" stroke-width="2"/>
<line x1="647.0" y1="891" x2="647.0" y2="995" stroke="#e6e6e6" stroke-width="2"/>
<line x1="755.5" y1="622" x2="755.5" y2="775" stroke="#e6e6e6" stroke-width="2"/>
<line x1="755.5" y1="891" x2="755.5" y2="995" stroke="#e6e6e6" stroke-width="2"/>
<line x1="213" y1="622" x2="213" y2="775" stroke="#333" stroke-width="2.2"/>
<text x="207" y="774.0" font-size="12" fill="#444" text-anchor="end">0.0</text>
<text x="207" y="722.0" font-size="12" fill="#444" text-anchor="end">0.2</text>
<text x="207" y="671.0" font-size="12" fill="#444" text-anchor="end">0.4</text>
<path d="M213,770 L215,725 L217,695 L229,695 L231,672 L262,686 L263,662 L274,670 L276,650 L282,650 L283,628 L343,655 L344,638 L393,660 L394,647 L476,685 L477,672 L515,685 L516,675 L530,680 L531,672 L611,705 L612,700 L675,730 L676,722 L695,735 L696,728 L790,770" fill="none" stroke="#3cf01e" stroke-width="3.2" stroke-linejoin="round"/>
<line x1="213" y1="780" x2="213" y2="855" stroke="#222" stroke-width="2.2"/>
<line x1="215" y1="780" x2="215" y2="855" stroke="#222" stroke-width="2.2"/>
<line x1="217" y1="780" x2="217" y2="855" stroke="#222" stroke-width="2.2"/>
<line x1="230" y1="780" x2="230" y2="855" stroke="#222" stroke-width="2.2"/>
<line x1="262" y1="780" x2="262" y2="855" stroke="#222" stroke-width="2.2"/>
<line x1="276" y1="780" x2="276" y2="855" stroke="#222" stroke-width="2.2"/>
<line x1="280" y1="780" x2="280" y2="855" stroke="#222" stroke-width="2.2"/>
<line x1="282" y1="780" x2="282" y2="855" stroke="#222" stroke-width="2.2"/>
<line x1="343" y1="780" x2="343" y2="855" stroke="#222" stroke-width="2.2"/>
<line x1="393" y1="780" x2="393" y2="855" stroke="#222" stroke-width="2.2"/>
<line x1="476" y1="780" x2="476" y2="855" stroke="#222" stroke-width="2.2"/>
<line x1="515" y1="780" x2="515" y2="855" stroke="#222" stroke-width="2.2"/>
<line x1="530" y1="780" x2="530" y2="855" stroke="#222" stroke-width="2.2"/>
<line x1="611" y1="780" x2="611" y2="855" stroke="#222" stroke-width="2.2"/>
<line x1="675" y1="780" x2="675" y2="855" stroke="#222" stroke-width="2.2"/>
<line x1="695" y1="780" x2="695" y2="855" stroke="#222" stroke-width="2.2"/>
<line x1="213" y1="776" x2="213" y2="995" stroke="#333" stroke-width="2.2"/>
<rect x="213" y="855" width="93.5" height="30" fill="#b2182b"/>
<rect x="306" y="855" width="20.5" height="30" fill="#e0433a"/>
<rect x="326" y="855" width="146.5" height="30" fill="#ea6e53"/>
<rect x="472" y="855" width="15.5" height="30" fill="#f4a582"/>
<rect x="487" y="855" width="120.5" height="30" fill="#fbe5d8"/>
<rect x="607" y="855" width="115.5" height="30" fill="#edf2fa"/>
<rect x="722" y="855" width="48.5" height="30" fill="#7db4d8"/>
<rect x="770" y="855" width="20.5" height="30" fill="#4a8cc6"/>
<text x="207" y="989.0" font-size="12" fill="#444" text-anchor="end">0</text>
<text x="207" y="958.7" font-size="12" fill="#444" text-anchor="end">1</text>
<text x="207" y="928.3" font-size="12" fill="#444" text-anchor="end">2</text>
<text x="207" y="898.0" font-size="12" fill="#444" text-anchor="end">3</text>
<path d="M213,985 L213,971 C253,976 363,979 530.4,983 L770,985 L790,990 L790,985 Z" fill="#bdbdbd"/>
<line x1="213" y1="995" x2="790" y2="995" stroke="#333" stroke-width="2.2"/>
<text x="321.5" y="1012.5" font-size="12" fill="#444" text-anchor="middle">500</text>
<text x="430.0" y="1012.5" font-size="12" fill="#444" text-anchor="middle">1000</text>
<text x="538.5" y="1012.5" font-size="12" fill="#444" text-anchor="middle">1500</text>
<text x="647.0" y="1012.5" font-size="12" fill="#444" text-anchor="middle">2000</text>
<text x="755.5" y="1012.5" font-size="12" fill="#444" text-anchor="middle">2500</text>
<text x="502" y="1030.5" font-size="16" fill="#222" text-anchor="middle">Rank in Ordered Dataset</text>
<text x="183" y="701.5" font-size="14" fill="#222" text-anchor="middle" transform="rotate(-90 183 701.5)">Running Enrichment Score</text>
<text x="183" y="945.0" font-size="14" fill="#222" text-anchor="middle" transform="rotate(-90 183 945.0)">Ranked List Metric</text>
<text x="933" y="609.0" font-size="36" fill="#111" textLength="616" lengthAdjust="spacingAndGlyphs">GSEA Pathway: PID_IL6_7_PATHWAY</text>
<line x1="1031.5" y1="625" x2="1031.5" y2="772" stroke="#e6e6e6" stroke-width="2"/>
<line x1="1031.5" y1="894" x2="1031.5" y2="997" stroke="#e6e6e6" stroke-width="2"/>
<line x1="1140.0" y1="625" x2="1140.0" y2="772" stroke="#e6e6e6" stroke-width="2"/>
<line x1="1140.0" y1="894" x2="1140.0" y2="997" stroke="#e6e6e6" stroke-width="2"/>
<line x1="1248.5" y1="625" x2="1248.5" y2="772" stroke="#e6e6e6" stroke-width="2"/>
<line x1="1248.5" y1="894" x2="1248.5" y2="997" stroke="#e6e6e6" stroke-width="2"/>
<line x1="1357.0" y1="625" x2="1357.0" y2="772" stroke="#e6e6e6" stroke-width="2"/>
<line x1="1357.0" y1="894" x2="1357.0" y2="997" stroke="#e6e6e6" stroke-width="2"/>
<line x1="1465.5" y1="625" x2="1465.5" y2="772" stroke="#e6e6e6" stroke-width="2"/>
<line x1="1465.5" y1="894" x2="1465.5" y2="997" stroke="#e6e6e6" stroke-width="2"/>
<line x1="923" y1="625" x2="923" y2="772" stroke="#333" stroke-width="2.2"/>
<text x="917" y="773.0" font-size="12" fill="#444" text-anchor="end">0.0</text>
<text x="917" y="726.0" font-size="12" fill="#444" text-anchor="end">0.2</text>
<text x="917" y="679.0" font-size="12" fill="#444" text-anchor="end">0.4</text>
<text x="917" y="632.0" font-size="12" fill="#444" text-anchor="end">0.6</text>
<path d="M923,772 L925,730 L927,730 L929,697 L972,715 L973,692 L987,697 L988,678 L996,683 L997,640 L1022,648 L1023,632 L1089,660 L1090,642 L1168,675 L1169,662 L1228,690 L1229,678 L1347,727 L1348,716 L1352,720 L1353,716 L1373,722 L1374,716 L1500,772" fill="none" stroke="#3cf01e" stroke-width="3.2" stroke-linejoin="round"/>
<line x1="924" y1="785" x2="924" y2="857" stroke="#222" stroke-width="2.2"/>
<line x1="926" y1="785" x2="926" y2="857" stroke="#222" stroke-width="2.2"/>
<line x1="928" y1="785" x2="928" y2="857" stroke="#222" stroke-width="2.2"/>
<line x1="930" y1="785" x2="930" y2="857" stroke="#222" stroke-width="2.2"/>
<line x1="972" y1="785" x2="972" y2="857" stroke="#222" stroke-width="2.2"/>
<line x1="988" y1="785" x2="988" y2="857" stroke="#222" stroke-width="2.2"/>
<line x1="996" y1="785" x2="996" y2="857" stroke="#222" stroke-width="2.2"/>
<line x1="1022" y1="785" x2="1022" y2="857" stroke="#222" stroke-width="2.2"/>
<line x1="1089" y1="785" x2="1089" y2="857" stroke="#222" stroke-width="2.2"/>
<line x1="1168" y1="785" x2="1168" y2="857" stroke="#222" stroke-width="2.2"/>
<line x1="1228" y1="785" x2="1228" y2="857" stroke="#222" stroke-width="2.2"/>
<line x1="1347" y1="785" x2="1347" y2="857" stroke="#222" stroke-width="2.2"/>
<line x1="1352" y1="785" x2="1352" y2="857" stroke="#222" stroke-width="2.2"/>
<line x1="1373" y1="785" x2="1373" y2="857" stroke="#222" stroke-width="2.2"/>
<line x1="923" y1="781" x2="923" y2="997" stroke="#333" stroke-width="2.2"/>
<rect x="923" y="857" width="127.5" height="31" fill="#b2182b"/>
<rect x="1050" y="857" width="22.5" height="31" fill="#e0433a"/>
<rect x="1072" y="857" width="124.5" height="31" fill="#ea6e53"/>
<rect x="1196" y="857" width="57.5" height="31" fill="#f1a388"/>
<rect x="1253" y="857" width="147.5" height="31" fill="#f8e3d8"/>
<rect x="1400" y="857" width="25.5" height="31" fill="#eef3fa"/>
<rect x="1425" y="857" width="12.5" height="31" fill="#c7dcec"/>
<rect x="1437" y="857" width="14.5" height="31" fill="#7db4d8"/>
<rect x="1451" y="857" width="49.5" height="31" fill="#4a8cc6"/>
<text x="917" y="991.0" font-size="12" fill="#444" text-anchor="end">0</text>
<text x="917" y="961.0" font-size="12" fill="#444" text-anchor="end">1</text>
<text x="917" y="931.0" font-size="12" fill="#444" text-anchor="end">2</text>
<text x="917" y="901.0" font-size="12" fill="#444" text-anchor="end">3</text>
<path d="M923,987 L923,973 C963,978 1073,981 1240.3,985 L1480,987 L1500,992 L1500,987 Z" fill="#bdbdbd"/>
<line x1="923" y1="997" x2="1500" y2="997" stroke="#333" stroke-width="2.2"/>
<text x="1031.5" y="1014.5" font-size="12" fill="#444" text-anchor="middle">500</text>
<text x="1140.0" y="1014.5" font-size="12" fill="#444" text-anchor="middle">1000</text>
<text x="1248.5" y="1014.5" font-size="12" fill="#444" text-anchor="middle">1500</text>
<text x="1357.0" y="1014.5" font-size="12" fill="#444" text-anchor="middle">2000</text>
<text x="1465.5" y="1014.5" font-size="12" fill="#444" text-anchor="middle">2500</text>
<text x="1210" y="1033.5" font-size="16" fill="#222" text-anchor="middle">Rank in Ordered Dataset</text>
<text x="893" y="701.5" font-size="14" fill="#222" text-anchor="middle" transform="rotate(-90 893 701.5)">Running Enrichment Score</text>
<text x="893" y="947.5" font-size="14" fill="#222" text-anchor="middle" transform="rotate(-90 893 947.5)">Ranked List Metric</text>
</g>
<text transform="translate(714.79 868.13) scale(0.8727 1)" font-size="43.29" fill="#000" stroke="#000" stroke-width="0.97">G</text>
<text x="847.2" y="855.0" font-size="13.5" fill="#111" text-anchor="start" textLength="395.5" lengthAdjust="spacingAndGlyphs" >Signature Scores in High Coexpressing Cells by Condition</text>
<line x1="863.2" y1="866.2" x2="863.2" y2="1014.2" stroke="#dedede" stroke-width="0.9" />
<line x1="891.3" y1="866.2" x2="891.3" y2="1014.2" stroke="#dedede" stroke-width="0.9" />
<line x1="919.5" y1="866.2" x2="919.5" y2="1014.2" stroke="#dedede" stroke-width="0.9" />
<line x1="947.6" y1="866.2" x2="947.6" y2="1014.2" stroke="#dedede" stroke-width="0.9" />
<line x1="975.7" y1="866.2" x2="975.7" y2="1014.2" stroke="#dedede" stroke-width="0.9" />
<line x1="1003.9" y1="866.2" x2="1003.9" y2="1014.2" stroke="#dedede" stroke-width="0.9" />
<line x1="1032.0" y1="866.2" x2="1032.0" y2="1014.2" stroke="#dedede" stroke-width="0.9" />
<line x1="1060.1" y1="866.2" x2="1060.1" y2="1014.2" stroke="#dedede" stroke-width="0.9" />
<line x1="1088.2" y1="866.2" x2="1088.2" y2="1014.2" stroke="#dedede" stroke-width="0.9" />
<line x1="1116.4" y1="866.2" x2="1116.4" y2="1014.2" stroke="#dedede" stroke-width="0.9" />
<line x1="1144.5" y1="866.2" x2="1144.5" y2="1014.2" stroke="#dedede" stroke-width="0.9" />
<line x1="1172.6" y1="866.2" x2="1172.6" y2="1014.2" stroke="#dedede" stroke-width="0.9" />
<line x1="1200.8" y1="866.2" x2="1200.8" y2="1014.2" stroke="#dedede" stroke-width="0.9" />
<line x1="1228.9" y1="866.2" x2="1228.9" y2="1014.2" stroke="#dedede" stroke-width="0.9" />
<line x1="1257.0" y1="866.2" x2="1257.0" y2="1014.2" stroke="#dedede" stroke-width="0.9" />
<line x1="1285.2" y1="866.2" x2="1285.2" y2="1014.2" stroke="#dedede" stroke-width="0.9" />
<line x1="1313.3" y1="866.2" x2="1313.3" y2="1014.2" stroke="#dedede" stroke-width="0.9" />
<line x1="1341.4" y1="866.2" x2="1341.4" y2="1014.2" stroke="#dedede" stroke-width="0.9" />
<line x1="1369.5" y1="866.2" x2="1369.5" y2="1014.2" stroke="#dedede" stroke-width="0.9" />
<line x1="1397.7" y1="866.2" x2="1397.7" y2="1014.2" stroke="#dedede" stroke-width="0.9" />
<line x1="1425.8" y1="866.2" x2="1425.8" y2="1014.2" stroke="#dedede" stroke-width="0.9" />
<line x1="1453.9" y1="866.2" x2="1453.9" y2="1014.2" stroke="#dedede" stroke-width="0.9" />
<line x1="1482.1" y1="866.2" x2="1482.1" y2="1014.2" stroke="#dedede" stroke-width="0.9" />
<line x1="1510.2" y1="866.2" x2="1510.2" y2="1014.2" stroke="#dedede" stroke-width="0.9" />
<line x1="1538.3" y1="866.2" x2="1538.3" y2="1014.2" stroke="#dedede" stroke-width="0.9" />
<line x1="1566.5" y1="866.2" x2="1566.5" y2="1014.2" stroke="#dedede" stroke-width="0.9" />
<line x1="1594.6" y1="866.2" x2="1594.6" y2="1014.2" stroke="#dedede" stroke-width="0.9" />
<line x1="848.0" y1="893.3" x2="1611.3" y2="893.3" stroke="#dedede" stroke-width="0.9" />
<line x1="848.0" y1="939.9" x2="1611.3" y2="939.9" stroke="#dedede" stroke-width="0.9" />
<line x1="848.0" y1="986.9" x2="1611.3" y2="986.9" stroke="#dedede" stroke-width="0.9" />
<circle cx="863.2" cy="893.3" r="10.40" fill="#9e1a2c" stroke="#9e1a2c" stroke-opacity="0.6" stroke-width="0.8" fill-opacity="0.85"/>
<circle cx="891.3" cy="893.3" r="3.70" fill="#ec8040" stroke="#ec8040" stroke-opacity="0.6" stroke-width="0.8" fill-opacity="0.85"/>
<circle cx="919.5" cy="893.3" r="10.70" fill="#9e1a2c" stroke="#9e1a2c" stroke-opacity="0.6" stroke-width="0.8" fill-opacity="0.85"/>
<circle cx="947.6" cy="893.3" r="10.40" fill="#9e1a2c" stroke="#9e1a2c" stroke-opacity="0.6" stroke-width="0.8" fill-opacity="0.85"/>
<circle cx="975.7" cy="893.3" r="3.30" fill="#a6d3e6" stroke="#a6d3e6" stroke-opacity="0.6" stroke-width="0.8" fill-opacity="0.85"/>
<circle cx="1003.9" cy="893.3" r="1.10" fill="#1c2288" stroke="#1c2288" stroke-opacity="0.6" stroke-width="0.8" fill-opacity="0.85"/>
<circle cx="1032.0" cy="893.3" r="7.80" fill="#3d5eae" stroke="#3d5eae" stroke-opacity="0.6" stroke-width="0.8" fill-opacity="0.85"/>
<circle cx="1060.1" cy="893.3" r="10.00" fill="#a6d3e6" stroke="#a6d3e6" stroke-opacity="0.6" stroke-width="0.8" fill-opacity="0.85"/>
<circle cx="1088.2" cy="893.3" r="7.80" fill="#efc060" stroke="#efc060" stroke-opacity="0.6" stroke-width="0.8" fill-opacity="0.85"/>
<circle cx="1116.4" cy="893.3" r="1.90" fill="#a6d3e6" stroke="#a6d3e6" stroke-opacity="0.6" stroke-width="0.8" fill-opacity="0.85"/>
<circle cx="1144.5" cy="893.3" r="4.00" fill="#9e1a2c" stroke="#9e1a2c" stroke-opacity="0.6" stroke-width="0.8" fill-opacity="0.85"/>
<circle cx="1172.6" cy="893.3" r="3.00" fill="#9e1a2c" stroke="#9e1a2c" stroke-opacity="0.6" stroke-width="0.8" fill-opacity="0.85"/>
<circle cx="1200.8" cy="893.3" r="2.60" fill="#cfebf3" stroke="#cfebf3" stroke-opacity="0.6" stroke-width="0.8" fill-opacity="0.85"/>
<circle cx="1228.9" cy="893.3" r="6.70" fill="#ec8040" stroke="#ec8040" stroke-opacity="0.6" stroke-width="0.8" fill-opacity="0.85"/>
<circle cx="1257.0" cy="893.3" r="10.30" fill="#ec8040" stroke="#ec8040" stroke-opacity="0.6" stroke-width="0.8" fill-opacity="0.85"/>
<circle cx="1285.2" cy="893.3" r="3.90" fill="#3d5eae" stroke="#3d5eae" stroke-opacity="0.6" stroke-width="0.8" fill-opacity="0.85"/>
<circle cx="1313.3" cy="893.3" r="5.40" fill="#cfebf3" stroke="#cfebf3" stroke-opacity="0.6" stroke-width="0.8" fill-opacity="0.85"/>
<circle cx="1341.4" cy="893.3" r="6.00" fill="#f3f0a0" stroke="#f3f0a0" stroke-opacity="0.6" stroke-width="0.8" fill-opacity="0.85"/>
<circle cx="1369.5" cy="893.3" r="1.60" fill="#d8392b" stroke="#d8392b" stroke-opacity="0.6" stroke-width="0.8" fill-opacity="0.85"/>
<circle cx="1397.7" cy="893.3" r="5.40" fill="#e8a050" stroke="#e8a050" stroke-opacity="0.6" stroke-width="0.8" fill-opacity="0.85"/>
<circle cx="1425.8" cy="893.3" r="1.00" fill="#1c2288" stroke="#1c2288" stroke-opacity="0.6" stroke-width="0.8" fill-opacity="0.85"/>
<circle cx="1453.9" cy="893.3" r="8.60" fill="#d8392b" stroke="#d8392b" stroke-opacity="0.6" stroke-width="0.8" fill-opacity="0.85"/>
<circle cx="1482.1" cy="893.3" r="4.10" fill="#3d5eae" stroke="#3d5eae" stroke-opacity="0.6" stroke-width="0.8" fill-opacity="0.85"/>
<circle cx="1510.2" cy="893.3" r="1.90" fill="#cfebf3" stroke="#cfebf3" stroke-opacity="0.6" stroke-width="0.8" fill-opacity="0.85"/>
<circle cx="1538.3" cy="893.3" r="10.80" fill="#9e1a2c" stroke="#9e1a2c" stroke-opacity="0.6" stroke-width="0.8" fill-opacity="0.85"/>
<circle cx="1566.5" cy="893.3" r="1.60" fill="#1c2288" stroke="#1c2288" stroke-opacity="0.6" stroke-width="0.8" fill-opacity="0.85"/>
<circle cx="1594.6" cy="893.3" r="8.30" fill="#d8392b" stroke="#d8392b" stroke-opacity="0.6" stroke-width="0.8" fill-opacity="0.85"/>
<circle cx="863.2" cy="939.9" r="10.40" fill="#b8e0ec" stroke="#b8e0ec" stroke-opacity="0.6" stroke-width="0.8" fill-opacity="0.85"/>
<circle cx="891.3" cy="939.9" r="3.00" fill="#1c2288" stroke="#1c2288" stroke-opacity="0.6" stroke-width="0.8" fill-opacity="0.85"/>
<circle cx="919.5" cy="939.9" r="10.70" fill="#8ab8d8" stroke="#8ab8d8" stroke-opacity="0.6" stroke-width="0.8" fill-opacity="0.85"/>
<circle cx="947.6" cy="939.9" r="10.40" fill="#a8d8e8" stroke="#a8d8e8" stroke-opacity="0.6" stroke-width="0.8" fill-opacity="0.85"/>
<circle cx="975.7" cy="939.9" r="3.30" fill="#6b9dca" stroke="#6b9dca" stroke-opacity="0.6" stroke-width="0.8" fill-opacity="0.85"/>
<circle cx="1003.9" cy="939.9" r="1.50" fill="#f6f07a" stroke="#f6f07a" stroke-opacity="0.6" stroke-width="0.8" fill-opacity="0.85"/>
<circle cx="1032.0" cy="939.9" r="8.90" fill="#9e1a2c" stroke="#9e1a2c" stroke-opacity="0.6" stroke-width="0.8" fill-opacity="0.85"/>
<circle cx="1060.1" cy="939.9" r="10.00" fill="#8ab8d8" stroke="#8ab8d8" stroke-opacity="0.6" stroke-width="0.8" fill-opacity="0.85"/>
<circle cx="1088.2" cy="939.9" r="4.80" fill="#1c2288" stroke="#1c2288" stroke-opacity="0.6" stroke-width="0.8" fill-opacity="0.85"/>
<circle cx="1116.4" cy="939.9" r="1.90" fill="#6b9dca" stroke="#6b9dca" stroke-opacity="0.6" stroke-width="0.8" fill-opacity="0.85"/>
<circle cx="1144.5" cy="939.9" r="2.60" fill="#a6d3e6" stroke="#a6d3e6" stroke-opacity="0.6" stroke-width="0.8" fill-opacity="0.85"/>
<circle cx="1172.6" cy="939.9" r="1.50" fill="#cfebf3" stroke="#cfebf3" stroke-opacity="0.6" stroke-width="0.8" fill-opacity="0.85"/>
<circle cx="1200.8" cy="939.9" r="1.90" fill="#3d5eae" stroke="#3d5eae" stroke-opacity="0.6" stroke-width="0.8" fill-opacity="0.85"/>
<circle cx="1228.9" cy="939.9" r="4.00" fill="#1c2288" stroke="#1c2288" stroke-opacity="0.6" stroke-width="0.8" fill-opacity="0.85"/>
<circle cx="1257.0" cy="939.9" r="8.10" fill="#1c2288" stroke="#1c2288" stroke-opacity="0.6" stroke-width="0.8" fill-opacity="0.85"/>
<circle cx="1285.2" cy="939.9" r="2.50" fill="#cfebf3" stroke="#cfebf3" stroke-opacity="0.6" stroke-width="0.8" fill-opacity="0.85"/>
<circle cx="1313.3" cy="939.9" r="6.00" fill="#9e1a2c" stroke="#9e1a2c" stroke-opacity="0.6" stroke-width="0.8" fill-opacity="0.85"/>
<circle cx="1341.4" cy="939.9" r="6.00" fill="#d8392b" stroke="#d8392b" stroke-opacity="0.6" stroke-width="0.8" fill-opacity="0.85"/>
<circle cx="1369.5" cy="939.9" r="1.30" fill="#1c2288" stroke="#1c2288" stroke-opacity="0.6" stroke-width="0.8" fill-opacity="0.85"/>
<circle cx="1397.7" cy="939.9" r="5.40" fill="#ee5030" stroke="#ee5030" stroke-opacity="0.6" stroke-width="0.8" fill-opacity="0.85"/>
<circle cx="1425.8" cy="939.9" r="3.50" fill="#ee9040" stroke="#ee9040" stroke-opacity="0.6" stroke-width="0.8" fill-opacity="0.85"/>
<circle cx="1453.9" cy="939.9" r="7.30" fill="#3d5eae" stroke="#3d5eae" stroke-opacity="0.6" stroke-width="0.8" fill-opacity="0.85"/>
<circle cx="1482.1" cy="939.9" r="5.10" fill="#b02424" stroke="#b02424" stroke-opacity="0.6" stroke-width="0.8" fill-opacity="0.85"/>
<circle cx="1510.2" cy="939.9" r="1.30" fill="#1c2288" stroke="#1c2288" stroke-opacity="0.6" stroke-width="0.8" fill-opacity="0.85"/>
<circle cx="1538.3" cy="939.9" r="10.20" fill="#a8d8e8" stroke="#a8d8e8" stroke-opacity="0.6" stroke-width="0.8" fill-opacity="0.85"/>
<circle cx="1566.5" cy="939.9" r="2.20" fill="#f0b040" stroke="#f0b040" stroke-opacity="0.6" stroke-width="0.8" fill-opacity="0.85"/>
<circle cx="1594.6" cy="939.9" r="6.00" fill="#3d5eae" stroke="#3d5eae" stroke-opacity="0.6" stroke-width="0.8" fill-opacity="0.85"/>
<circle cx="863.2" cy="986.9" r="10.40" fill="#6b9dca" stroke="#6b9dca" stroke-opacity="0.6" stroke-width="0.8" fill-opacity="0.85"/>
<circle cx="891.3" cy="986.9" r="4.40" fill="#ee6040" stroke="#ee6040" stroke-opacity="0.6" stroke-width="0.8" fill-opacity="0.85"/>
<circle cx="919.5" cy="986.9" r="10.70" fill="#a6d3e6" stroke="#a6d3e6" stroke-opacity="0.6" stroke-width="0.8" fill-opacity="0.85"/>
<circle cx="947.6" cy="986.9" r="10.40" fill="#6b9dca" stroke="#6b9dca" stroke-opacity="0.6" stroke-width="0.8" fill-opacity="0.85"/>
<circle cx="975.7" cy="986.9" r="6.70" fill="#9e1a2c" stroke="#9e1a2c" stroke-opacity="0.6" stroke-width="0.8" fill-opacity="0.85"/>
<circle cx="1003.9" cy="986.9" r="3.00" fill="#d8392b" stroke="#d8392b" stroke-opacity="0.6" stroke-width="0.8" fill-opacity="0.85"/>
<circle cx="1032.0" cy="986.9" r="8.10" fill="#d6eef5" stroke="#d6eef5" stroke-opacity="0.6" stroke-width="0.8" fill-opacity="0.85"/>
<circle cx="1060.1" cy="986.9" r="10.70" fill="#9e1a2c" stroke="#9e1a2c" stroke-opacity="0.6" stroke-width="0.8" fill-opacity="0.85"/>
<circle cx="1088.2" cy="986.9" r="8.90" fill="#e04a30" stroke="#e04a30" stroke-opacity="0.6" stroke-width="0.8" fill-opacity="0.85"/>
<circle cx="1116.4" cy="986.9" r="6.70" fill="#9e1a2c" stroke="#9e1a2c" stroke-opacity="0.6" stroke-width="0.8" fill-opacity="0.85"/>
<circle cx="1144.5" cy="986.9" r="2.60" fill="#a6d3e6" stroke="#a6d3e6" stroke-opacity="0.6" stroke-width="0.8" fill-opacity="0.85"/>
<circle cx="1172.6" cy="986.9" r="1.90" fill="#3d5eae" stroke="#3d5eae" stroke-opacity="0.6" stroke-width="0.8" fill-opacity="0.85"/>
<circle cx="1200.8" cy="986.9" r="4.00" fill="#9e1a2c" stroke="#9e1a2c" stroke-opacity="0.6" stroke-width="0.8" fill-opacity="0.85"/>
<circle cx="1228.9" cy="986.9" r="7.00" fill="#ec8040" stroke="#ec8040" stroke-opacity="0.6" stroke-width="0.8" fill-opacity="0.85"/>
<circle cx="1257.0" cy="986.9" r="10.70" fill="#ec8040" stroke="#ec8040" stroke-opacity="0.6" stroke-width="0.8" fill-opacity="0.85"/>
<circle cx="1285.2" cy="986.9" r="3.50" fill="#9e1a2c" stroke="#9e1a2c" stroke-opacity="0.6" stroke-width="0.8" fill-opacity="0.85"/>
<circle cx="1313.3" cy="986.9" r="4.40" fill="#5080c0" stroke="#5080c0" stroke-opacity="0.6" stroke-width="0.8" fill-opacity="0.85"/>
<circle cx="1341.4" cy="986.9" r="4.80" fill="#2a40a0" stroke="#2a40a0" stroke-opacity="0.6" stroke-width="0.8" fill-opacity="0.85"/>
<circle cx="1369.5" cy="986.9" r="1.30" fill="#f0b040" stroke="#f0b040" stroke-opacity="0.6" stroke-width="0.8" fill-opacity="0.85"/>
<circle cx="1397.7" cy="986.9" r="3.50" fill="#1c2288" stroke="#1c2288" stroke-opacity="0.6" stroke-width="0.8" fill-opacity="0.85"/>
<circle cx="1425.8" cy="986.9" r="3.80" fill="#ee5030" stroke="#ee5030" stroke-opacity="0.6" stroke-width="0.8" fill-opacity="0.85"/>
<circle cx="1453.9" cy="986.9" r="8.60" fill="#f3f0a0" stroke="#f3f0a0" stroke-opacity="0.6" stroke-width="0.8" fill-opacity="0.85"/>
<circle cx="1482.1" cy="986.9" r="4.80" fill="#f3f0a0" stroke="#f3f0a0" stroke-opacity="0.6" stroke-width="0.8" fill-opacity="0.85"/>
<circle cx="1510.2" cy="986.9" r="3.50" fill="#9e1a2c" stroke="#9e1a2c" stroke-opacity="0.6" stroke-width="0.8" fill-opacity="0.85"/>
<circle cx="1538.3" cy="986.9" r="10.20" fill="#6b9dca" stroke="#6b9dca" stroke-opacity="0.6" stroke-width="0.8" fill-opacity="0.85"/>
<circle cx="1566.5" cy="986.9" r="2.20" fill="#d8392b" stroke="#d8392b" stroke-opacity="0.6" stroke-width="0.8" fill-opacity="0.85"/>
<circle cx="1594.6" cy="986.9" r="7.30" fill="#f2e88a" stroke="#f2e88a" stroke-opacity="0.6" stroke-width="0.8" fill-opacity="0.85"/>
<text x="840.6" y="897.0" font-size="10.3" fill="#111" text-anchor="end" >PT_TMZ</text>
<text x="840.6" y="943.6" font-size="10.3" fill="#111" text-anchor="end" >PT_DMSO</text>
<text x="840.6" y="990.6" font-size="10.3" fill="#111" text-anchor="end" >MTP_TMZ</text>
<rect x="791.4" y="881.0" width="54.7" height="22.2" fill="none" stroke="#3cb84a" stroke-width="2.2" />
<rect x="788.0" y="974.3" width="55.5" height="22.2" fill="none" stroke="#e8201a" stroke-width="2.2" />
<text x="783.8" y="939.1" font-size="12" fill="#111" text-anchor="middle" transform="rotate(-90 783.8 939.1)" >Condition</text>
<text x="869.0" y="1024.5" font-size="10.4" fill="#111" text-anchor="end" transform="rotate(-45 869.0 1024.5)" >LATE_M_EARLY_G1_Score1</text>
<text x="897.1" y="1024.5" font-size="10.4" fill="#111" text-anchor="end" transform="rotate(-45 897.1 1024.5)" >G2_Score1</text>
<text x="925.3" y="1024.5" font-size="10.4" fill="#111" text-anchor="end" transform="rotate(-45 925.3 1024.5)" >G1,G1/S PHASES_Score1</text>
<text x="953.4" y="1024.5" font-size="10.4" fill="#111" text-anchor="end" transform="rotate(-45 953.4 1024.5)" >CELL CYCLE_Score1</text>
<text x="981.5" y="1024.5" font-size="10.4" fill="#111" text-anchor="end" transform="rotate(-45 981.5 1024.5)" >ORG_specific_Score1</text>
<text x="1009.6" y="1024.5" font-size="10.4" fill="#111" text-anchor="end" transform="rotate(-45 1009.6 1024.5)" >VRG_specific_Score1</text>
<text x="1037.8" y="1024.5" font-size="10.4" fill="#111" text-anchor="end" transform="rotate(-45 1037.8 1024.5)" >General_RG_Score1</text>
<text x="1065.9" y="1024.5" font-size="10.4" fill="#111" text-anchor="end" transform="rotate(-45 1065.9 1024.5)" >UP_in_ORG_Score1</text>
<text x="1094.0" y="1024.5" font-size="10.4" fill="#111" text-anchor="end" transform="rotate(-45 1094.0 1024.5)" >UP_in_VRG_Score1</text>
<text x="1122.2" y="1024.5" font-size="10.4" fill="#111" text-anchor="end" transform="rotate(-45 1122.2 1024.5)" >Spatial_OPC_Score1</text>
<text x="1150.3" y="1024.5" font-size="10.4" fill="#111" text-anchor="end" transform="rotate(-45 1150.3 1024.5)" >G1/S_Score1</text>
<text x="1178.4" y="1024.5" font-size="10.4" fill="#111" text-anchor="end" transform="rotate(-45 1178.4 1024.5)" >G2/M_Score1</text>
<text x="1206.6" y="1024.5" font-size="10.4" fill="#111" text-anchor="end" transform="rotate(-45 1206.6 1024.5)" >Neftel_AClike_Score1</text>
<text x="1234.7" y="1024.5" font-size="10.4" fill="#111" text-anchor="end" transform="rotate(-45 1234.7 1024.5)" >Neftel_MESlike1_Score1</text>
<text x="1262.8" y="1024.5" font-size="10.4" fill="#111" text-anchor="end" transform="rotate(-45 1262.8 1024.5)" >Neftel_MESlike2_Score1</text>
<text x="1291.0" y="1024.5" font-size="10.4" fill="#111" text-anchor="end" transform="rotate(-45 1291.0 1024.5)" >Neftel_NPClike1_Score1</text>
<text x="1319.1" y="1024.5" font-size="10.4" fill="#111" text-anchor="end" transform="rotate(-45 1319.1 1024.5)" >Neftel_NPClike2_Score1</text>
<text x="1347.2" y="1024.5" font-size="10.4" fill="#111" text-anchor="end" transform="rotate(-45 1347.2 1024.5)" >Verhaak_proneural_Score1</text>
<text x="1375.3" y="1024.5" font-size="10.4" fill="#111" text-anchor="end" transform="rotate(-45 1375.3 1024.5)" >Verhaak_mesenchymal_Score1</text>
<text x="1403.5" y="1024.5" font-size="10.4" fill="#111" text-anchor="end" transform="rotate(-45 1403.5 1024.5)" >Verhaak_neural_Score1</text>
<text x="1431.6" y="1024.5" font-size="10.4" fill="#111" text-anchor="end" transform="rotate(-45 1431.6 1024.5)" >Verhaak_classical_Score1</text>
<text x="1459.7" y="1024.5" font-size="10.4" fill="#111" text-anchor="end" transform="rotate(-45 1459.7 1024.5)" >HALLMARK_DNA_REPAIR_Score1</text>
<text x="1487.9" y="1024.5" font-size="10.4" fill="#111" text-anchor="end" transform="rotate(-45 1487.9 1024.5)" >REACTOME_NONHOMOLOGOUS_END_JOINING_NHEJ_Score1</text>
<text x="1516.0" y="1024.5" font-size="10.4" fill="#111" text-anchor="end" transform="rotate(-45 1516.0 1024.5)" >GOBP_NUCLEOLAR_CHROMATIN_ORGANIZATION_Score1</text>
<text x="1544.1" y="1024.5" font-size="10.4" fill="#111" text-anchor="end" transform="rotate(-45 1544.1 1024.5)" >REACTOME_CELLULAR_SENESCENCE_Score1</text>
<text x="1572.2" y="1024.5" font-size="10.4" fill="#111" text-anchor="end" transform="rotate(-45 1572.2 1024.5)" >MALTA_CURATED_STEMNESS_MARKERS_Score1</text>
<text x="1600.4" y="1024.5" font-size="10.4" fill="#111" text-anchor="end" transform="rotate(-45 1600.4 1024.5)" >HALLMARK_HYPOXIA_Score1</text>
<text x="1229.0" y="1263.0" font-size="13" fill="#111" text-anchor="middle" >Gene Signature</text>
<path d="M775.1,1124.1 L783.0,1132.4 L779.1,1132.4 L779.1,1149.3 L771.1,1149.3 L771.1,1132.4 L767.2,1132.4 Z" fill="#44c25a" />
<path d="M837.6,1116.0 L845.5,1124.3 L841.6,1124.3 L841.6,1141.1 L833.6,1141.1 L833.6,1124.3 L829.7,1124.3 Z" fill="#44c25a" />
<path d="M880.5,1098.2 L888.4,1106.5 L884.5,1106.5 L884.5,1123.4 L876.5,1123.4 L876.5,1106.5 L872.6,1106.5 Z" fill="#44c25a" />
<path d="M994.9,1098.2 L1002.8,1106.5 L998.9,1106.5 L998.9,1123.4 L990.9,1123.4 L990.9,1106.5 L987.0,1106.5 Z" fill="#ff1a10" />
<path d="M1026.3,1098.2 L1034.2,1106.5 L1030.3,1106.5 L1030.3,1123.4 L1022.3,1123.4 L1022.3,1106.5 L1018.4,1106.5 Z" fill="#ff1a10" />
<path d="M1053.7,1098.2 L1061.6,1106.5 L1057.7,1106.5 L1057.7,1123.4 L1049.7,1123.4 L1049.7,1106.5 L1045.8,1106.5 Z" fill="#ff1a10" />
<path d="M1151.3,1110.4 L1159.2,1118.7 L1155.3,1118.7 L1155.3,1135.6 L1147.3,1135.6 L1147.3,1118.7 L1143.4,1118.7 Z" fill="#44c25a" />
<path d="M1150.6,1136.3 L1158.5,1144.6 L1154.6,1144.6 L1154.6,1161.5 L1146.6,1161.5 L1146.6,1144.6 L1142.7,1144.6 Z" fill="#ff1a10" />
<path d="M1180.2,1111.2 L1188.1,1119.5 L1184.2,1119.5 L1184.2,1136.3 L1176.2,1136.3 L1176.2,1119.5 L1172.3,1119.5 Z" fill="#44c25a" />
<path d="M1179.5,1137.0 L1187.4,1145.3 L1183.5,1145.3 L1183.5,1162.6 L1175.5,1162.6 L1175.5,1145.3 L1171.6,1145.3 Z" fill="#ff1a10" />
<path d="M1498.0,1129.5 L1505.9,1137.8 L1502.0,1137.8 L1502.0,1155.0 L1494.0,1155.0 L1494.0,1137.8 L1490.1,1137.8 Z" fill="#44c25a" />
<path d="M1375.7,1192.1 L1383.6,1200.4 L1379.7,1200.4 L1379.7,1217.8 L1371.7,1217.8 L1371.7,1200.4 L1367.8,1200.4 Z" fill="#44c25a" />
<path d="M1336.4,1142.2 L1343.6,1148.7 L1339.4,1148.7 L1339.4,1157.5 L1333.4,1157.5 L1333.4,1148.7 L1329.2,1148.7 Z" fill="#44c25a" />
<text x="1630.3" y="860.5" font-size="12.9" fill="#111" text-anchor="start" textLength="108.6" lengthAdjust="spacingAndGlyphs" >Percent Expressed</text>
<circle cx="1640.5" cy="874.9" r="1.60" fill="#000" />
<text x="1657.0" y="878.8" font-size="10.8" fill="#111" text-anchor="start" >40</text>
<circle cx="1640.5" cy="888.9" r="4.80" fill="#000" />
<text x="1657.0" y="892.8" font-size="10.8" fill="#111" text-anchor="start" >60</text>
<circle cx="1640.5" cy="906.0" r="7.90" fill="#000" />
<text x="1657.0" y="909.9" font-size="10.8" fill="#111" text-anchor="start" >80</text>
<text x="1630.3" y="952.5" font-size="12.9" fill="#111" text-anchor="start" textLength="115.0" lengthAdjust="spacingAndGlyphs" >Average Expression</text>
<defs><linearGradient id="gSig" x1="0" y1="0" x2="0" y2="1"><stop offset="0.00" stop-color="#a50f26"/><stop offset="0.10" stop-color="#d73027"/><stop offset="0.20" stop-color="#f46d43"/><stop offset="0.30" stop-color="#fdae61"/><stop offset="0.40" stop-color="#fee090"/><stop offset="0.50" stop-color="#ffffbf"/><stop offset="0.60" stop-color="#e0f3f8"/><stop offset="0.70" stop-color="#abd9e9"/><stop offset="0.80" stop-color="#74add1"/><stop offset="0.90" stop-color="#4575b4"/><stop offset="1.00" stop-color="#1a1f8a"/></linearGradient></defs>
<rect x="1630.3" y="959.7" width="14.3" height="69.8" fill="url(#gSig)" />
<text x="1650.6" y="968.3" font-size="10.8" fill="#111" text-anchor="start" >1.0</text>
<line x1="1630.3" y1="964.4" x2="1633.0" y2="964.4" stroke="#fff" stroke-width="0.8" />
<line x1="1641.9" y1="964.4" x2="1644.6" y2="964.4" stroke="#fff" stroke-width="0.8" />
<text x="1650.6" y="983.6" font-size="10.8" fill="#111" text-anchor="start" >0.5</text>
<line x1="1630.3" y1="979.7" x2="1633.0" y2="979.7" stroke="#fff" stroke-width="0.8" />
<line x1="1641.9" y1="979.7" x2="1644.6" y2="979.7" stroke="#fff" stroke-width="0.8" />
<text x="1650.6" y="998.9" font-size="10.8" fill="#111" text-anchor="start" >0.0</text>
<line x1="1630.3" y1="995.0" x2="1633.0" y2="995.0" stroke="#fff" stroke-width="0.8" />
<line x1="1641.9" y1="995.0" x2="1644.6" y2="995.0" stroke="#fff" stroke-width="0.8" />
<text x="1650.6" y="1014.2" font-size="10.8" fill="#111" text-anchor="start" >-0.5</text>
<line x1="1630.3" y1="1010.3" x2="1633.0" y2="1010.3" stroke="#fff" stroke-width="0.8" />
<line x1="1641.9" y1="1010.3" x2="1644.6" y2="1010.3" stroke="#fff" stroke-width="0.8" />
<text x="1650.6" y="1029.0" font-size="10.8" fill="#111" text-anchor="start" >-1.0</text>
<line x1="1630.3" y1="1025.1" x2="1633.0" y2="1025.1" stroke="#fff" stroke-width="0.8" />
<line x1="1641.9" y1="1025.1" x2="1644.6" y2="1025.1" stroke="#fff" stroke-width="0.8" />
<text transform="translate(1.11 1327.46) scale(0.9151 1)" font-size="43.52" fill="#000" stroke="#000" stroke-width="0.98">H</text>
<defs><pattern id="fidp" width="40" height="70" patternUnits="userSpaceOnUse"><circle cx="10" cy="17" r="8" fill="#d9c6dc" stroke="#b9a6c4" stroke-width="4"/><circle cx="30" cy="52" r="8" fill="#d9c6dc" stroke="#b9a6c4" stroke-width="4"/></pattern></defs>
<defs><pattern id="spA" width="60" height="60" patternUnits="userSpaceOnUse"><circle cx="2.7" cy="8.3" r="1.0" fill="#e87a40"/><circle cx="9.9" cy="4.4" r="1.0" fill="#b83c3c"/><circle cx="32.0" cy="41.8" r="1.0" fill="#c8443a"/><circle cx="10.3" cy="43.5" r="1.0" fill="#a8343c"/><circle cx="9.6" cy="32.0" r="1.0" fill="#f09048"/><circle cx="31.5" cy="13.5" r="1.0" fill="#b83c3c"/><circle cx="8.6" cy="45.1" r="1.0" fill="#e87a40"/><circle cx="21.1" cy="13.5" r="1.0" fill="#e87a40"/><circle cx="22.4" cy="55.5" r="1.0" fill="#d0503a"/><circle cx="42.5" cy="25.3" r="1.0" fill="#f6d860"/><circle cx="5.4" cy="4.9" r="1.0" fill="#c8443a"/><circle cx="21.9" cy="13.4" r="1.0" fill="#e87a40"/><circle cx="3.7" cy="43.2" r="1.0" fill="#f09048"/><circle cx="38.5" cy="14.2" r="1.0" fill="#e87a40"/><circle cx="42.9" cy="12.9" r="1.0" fill="#d0503a"/><circle cx="29.0" cy="16.8" r="1.0" fill="#d85a3a"/><circle cx="20.7" cy="24.2" r="1.0" fill="#e06a3c"/><circle cx="55.8" cy="56.7" r="1.0" fill="#b83c3c"/><circle cx="46.2" cy="19.2" r="1.0" fill="#c8443a"/><circle cx="33.4" cy="54.4" r="1.0" fill="#d85a3a"/><circle cx="7.2" cy="12.8" r="1.0" fill="#e06a3c"/><circle cx="40.9" cy="7.4" r="1.0" fill="#e87a40"/><circle cx="17.9" cy="19.1" r="1.0" fill="#d0503a"/><circle cx="8.4" cy="13.3" r="1.0" fill="#e06a3c"/><circle cx="26.9" cy="46.2" r="1.0" fill="#f6d860"/><circle cx="42.0" cy="17.0" r="1.0" fill="#b83c3c"/><circle cx="55.8" cy="13.3" r="1.0" fill="#c8443a"/><circle cx="42.0" cy="49.8" r="1.0" fill="#f09048"/><circle cx="5.2" cy="36.3" r="1.0" fill="#f6d860"/><circle cx="17.6" cy="22.9" r="1.0" fill="#f09048"/><circle cx="37.6" cy="4.1" r="1.0" fill="#b83c3c"/><circle cx="29.2" cy="46.6" r="1.0" fill="#f09048"/><circle cx="56.5" cy="45.0" r="1.0" fill="#d85a3a"/><circle cx="29.4" cy="45.8" r="1.0" fill="#f09048"/><circle cx="21.5" cy="2.6" r="1.0" fill="#e87a40"/><circle cx="34.6" cy="27.0" r="1.0" fill="#a8343c"/><circle cx="9.4" cy="33.8" r="1.0" fill="#a8343c"/><circle cx="53.7" cy="51.7" r="1.0" fill="#d0503a"/><circle cx="55.0" cy="50.5" r="1.0" fill="#c8443a"/><circle cx="33.1" cy="33.3" r="1.0" fill="#f6d860"/><circle cx="31.4" cy="50.1" r="1.0" fill="#e87a40"/><circle cx="14.7" cy="12.9" r="1.0" fill="#f09048"/><circle cx="19.3" cy="47.9" r="1.0" fill="#e06a3c"/><circle cx="9.5" cy="8.9" r="1.0" fill="#e06a3c"/><circle cx="43.7" cy="54.8" r="1.0" fill="#e87a40"/><circle cx="34.5" cy="11.3" r="1.0" fill="#b83c3c"/><circle cx="43.0" cy="13.6" r="1.0" fill="#d0503a"/><circle cx="23.3" cy="19.2" r="1.0" fill="#e87a40"/><circle cx="51.9" cy="19.2" r="1.0" fill="#d0503a"/><circle cx="53.5" cy="17.1" r="1.0" fill="#a8343c"/><circle cx="3.8" cy="36.4" r="1.0" fill="#d85a3a"/><circle cx="16.5" cy="13.3" r="1.0" fill="#e06a3c"/><circle cx="13.8" cy="3.9" r="1.0" fill="#f09048"/><circle cx="23.5" cy="13.1" r="1.0" fill="#d0503a"/><circle cx="20.0" cy="18.6" r="1.0" fill="#e06a3c"/><circle cx="8.3" cy="14.1" r="1.0" fill="#d0503a"/><circle cx="51.5" cy="40.8" r="1.0" fill="#f09048"/><circle cx="27.3" cy="38.5" r="1.0" fill="#c8443a"/><circle cx="25.4" cy="5.8" r="1.0" fill="#c8443a"/><circle cx="18.6" cy="28.5" r="1.0" fill="#a8343c"/><circle cx="56.9" cy="17.5" r="1.0" fill="#d85a3a"/><circle cx="44.4" cy="18.8" r="1.0" fill="#d0503a"/><circle cx="34.4" cy="24.6" r="1.0" fill="#d0503a"/><circle cx="15.4" cy="10.0" r="1.0" fill="#f6d860"/><circle cx="45.0" cy="49.6" r="1.0" fill="#d0503a"/><circle cx="3.2" cy="52.8" r="1.0" fill="#f09048"/><circle cx="54.7" cy="39.7" r="1.0" fill="#f6d860"/><circle cx="54.6" cy="16.5" r="1.0" fill="#e87a40"/><circle cx="24.3" cy="14.0" r="1.0" fill="#d0503a"/><circle cx="45.0" cy="4.7" r="1.0" fill="#d0503a"/><circle cx="55.7" cy="15.4" r="1.0" fill="#e87a40"/><circle cx="40.3" cy="20.1" r="1.0" fill="#b83c3c"/><circle cx="46.6" cy="5.5" r="1.0" fill="#d0503a"/><circle cx="42.8" cy="44.6" r="1.0" fill="#e87a40"/><circle cx="9.9" cy="4.7" r="1.0" fill="#e06a3c"/><circle cx="46.7" cy="54.3" r="1.0" fill="#d0503a"/><circle cx="32.2" cy="26.7" r="1.0" fill="#c8443a"/><circle cx="6.3" cy="29.6" r="1.0" fill="#f09048"/><circle cx="26.6" cy="28.9" r="1.0" fill="#f09048"/><circle cx="39.4" cy="2.2" r="1.0" fill="#e06a3c"/></pattern><pattern id="spB" width="60" height="60" patternUnits="userSpaceOnUse"><circle cx="40.2" cy="7.1" r="1.0" fill="#f6e86a"/><circle cx="39.3" cy="43.8" r="1.0" fill="#f0b050"/><circle cx="30.8" cy="37.3" r="1.0" fill="#e06a3c"/><circle cx="26.5" cy="46.2" r="1.0" fill="#f0b050"/><circle cx="27.6" cy="46.6" r="1.0" fill="#e87a40"/><circle cx="56.5" cy="25.7" r="1.0" fill="#c8443a"/><circle cx="55.7" cy="56.4" r="1.0" fill="#a8343c"/><circle cx="7.1" cy="6.2" r="1.0" fill="#d85a3a"/><circle cx="54.1" cy="38.3" r="1.0" fill="#e87a40"/><circle cx="48.3" cy="33.5" r="1.0" fill="#f0b050"/><circle cx="41.5" cy="56.3" r="1.0" fill="#f6d860"/><circle cx="36.7" cy="30.3" r="1.0" fill="#b83c3c"/><circle cx="2.5" cy="38.7" r="1.0" fill="#e06a3c"/><circle cx="5.8" cy="34.5" r="1.0" fill="#a8343c"/><circle cx="20.1" cy="31.5" r="1.0" fill="#a8343c"/><circle cx="42.8" cy="52.2" r="1.0" fill="#d0503a"/><circle cx="43.2" cy="19.4" r="1.0" fill="#d0503a"/><circle cx="30.6" cy="53.3" r="1.0" fill="#f6e86a"/><circle cx="4.4" cy="17.3" r="1.0" fill="#d0503a"/><circle cx="28.9" cy="13.9" r="1.0" fill="#f6e86a"/><circle cx="37.5" cy="26.6" r="1.0" fill="#b83c3c"/><circle cx="33.2" cy="2.1" r="1.0" fill="#f0b050"/><circle cx="15.4" cy="26.8" r="1.0" fill="#c8443a"/><circle cx="21.1" cy="3.6" r="1.0" fill="#c8443a"/><circle cx="5.6" cy="10.8" r="1.0" fill="#f6d860"/><circle cx="38.8" cy="47.8" r="1.0" fill="#d85a3a"/><circle cx="28.5" cy="34.3" r="1.0" fill="#f6d860"/><circle cx="51.2" cy="9.6" r="1.0" fill="#b83c3c"/><circle cx="40.9" cy="26.0" r="1.0" fill="#f6d860"/><circle cx="32.3" cy="40.4" r="1.0" fill="#e06a3c"/><circle cx="17.5" cy="33.6" r="1.0" fill="#a8343c"/><circle cx="14.6" cy="11.6" r="1.0" fill="#f09048"/><circle cx="19.7" cy="12.9" r="1.0" fill="#d85a3a"/><circle cx="4.6" cy="48.0" r="1.0" fill="#f09048"/><circle cx="52.3" cy="41.3" r="1.0" fill="#e06a3c"/><circle cx="44.3" cy="17.7" r="1.0" fill="#f6e86a"/><circle cx="4.3" cy="49.6" r="1.0" fill="#f0b050"/><circle cx="47.2" cy="42.3" r="1.0" fill="#d85a3a"/><circle cx="37.8" cy="55.3" r="1.0" fill="#f6e86a"/><circle cx="30.8" cy="3.6" r="1.0" fill="#f6e86a"/><circle cx="56.1" cy="14.3" r="1.0" fill="#f6e86a"/><circle cx="22.0" cy="13.5" r="1.0" fill="#f0b050"/><circle cx="50.2" cy="54.3" r="1.0" fill="#e06a3c"/><circle cx="29.3" cy="5.8" r="1.0" fill="#f09048"/><circle cx="35.8" cy="33.5" r="1.0" fill="#c8443a"/><circle cx="38.6" cy="34.2" r="1.0" fill="#b83c3c"/><circle cx="17.9" cy="19.8" r="1.0" fill="#f09048"/><circle cx="10.0" cy="4.4" r="1.0" fill="#e06a3c"/><circle cx="54.7" cy="35.3" r="1.0" fill="#b83c3c"/><circle cx="29.4" cy="54.6" r="1.0" fill="#c8443a"/><circle cx="41.7" cy="39.9" r="1.0" fill="#d0503a"/><circle cx="11.3" cy="15.1" r="1.0" fill="#e06a3c"/><circle cx="48.9" cy="11.5" r="1.0" fill="#f6e86a"/><circle cx="47.0" cy="17.4" r="1.0" fill="#d0503a"/><circle cx="7.5" cy="56.0" r="1.0" fill="#e06a3c"/><circle cx="32.8" cy="55.1" r="1.0" fill="#c8443a"/><circle cx="20.5" cy="38.4" r="1.0" fill="#f6d860"/><circle cx="6.2" cy="32.6" r="1.0" fill="#d85a3a"/><circle cx="14.7" cy="16.0" r="1.0" fill="#f0b050"/><circle cx="33.8" cy="25.4" r="1.0" fill="#f09048"/><circle cx="46.9" cy="55.0" r="1.0" fill="#f6d860"/><circle cx="34.5" cy="27.8" r="1.0" fill="#f6d860"/><circle cx="46.1" cy="13.4" r="1.0" fill="#b83c3c"/><circle cx="10.5" cy="29.7" r="1.0" fill="#f09048"/><circle cx="22.8" cy="46.3" r="1.0" fill="#b83c3c"/><circle cx="45.9" cy="34.8" r="1.0" fill="#a8343c"/><circle cx="16.4" cy="28.9" r="1.0" fill="#c8443a"/><circle cx="43.8" cy="54.7" r="1.0" fill="#f0b050"/><circle cx="53.7" cy="47.7" r="1.0" fill="#f09048"/><circle cx="45.7" cy="6.4" r="1.0" fill="#f6d860"/><circle cx="43.8" cy="4.6" r="1.0" fill="#f0b050"/><circle cx="15.9" cy="16.2" r="1.0" fill="#d85a3a"/><circle cx="32.7" cy="15.6" r="1.0" fill="#f09048"/><circle cx="47.4" cy="22.0" r="1.0" fill="#e87a40"/><circle cx="29.4" cy="52.4" r="1.0" fill="#f09048"/><circle cx="38.5" cy="36.1" r="1.0" fill="#f6e86a"/><circle cx="30.6" cy="33.5" r="1.0" fill="#f6e86a"/><circle cx="30.1" cy="20.2" r="1.0" fill="#e06a3c"/><circle cx="38.6" cy="32.9" r="1.0" fill="#f6d860"/><circle cx="25.7" cy="11.4" r="1.0" fill="#e87a40"/><circle cx="50.4" cy="24.7" r="1.0" fill="#d85a3a"/><circle cx="10.1" cy="49.5" r="1.0" fill="#d0503a"/><circle cx="40.5" cy="49.5" r="1.0" fill="#f0b050"/><circle cx="54.9" cy="41.2" r="1.0" fill="#c8443a"/><circle cx="18.4" cy="23.0" r="1.0" fill="#a8343c"/><circle cx="56.5" cy="49.8" r="1.0" fill="#b83c3c"/><circle cx="50.4" cy="51.6" r="1.0" fill="#f0b050"/><circle cx="4.9" cy="34.5" r="1.0" fill="#d0503a"/><circle cx="48.4" cy="4.3" r="1.0" fill="#f09048"/><circle cx="49.1" cy="51.0" r="1.0" fill="#e87a40"/><circle cx="21.4" cy="37.6" r="1.0" fill="#f0b050"/><circle cx="44.7" cy="42.4" r="1.0" fill="#f0b050"/><circle cx="6.6" cy="11.0" r="1.0" fill="#e06a3c"/><circle cx="28.0" cy="21.3" r="1.0" fill="#e06a3c"/><circle cx="36.8" cy="31.5" r="1.0" fill="#f0b050"/><circle cx="50.1" cy="16.1" r="1.0" fill="#f0b050"/><circle cx="13.2" cy="32.1" r="1.0" fill="#f09048"/><circle cx="25.6" cy="52.2" r="1.0" fill="#e06a3c"/><circle cx="43.5" cy="31.1" r="1.0" fill="#e06a3c"/><circle cx="5.6" cy="53.3" r="1.0" fill="#e87a40"/><circle cx="32.5" cy="55.6" r="1.0" fill="#f09048"/><circle cx="46.9" cy="44.8" r="1.0" fill="#f6d860"/><circle cx="8.5" cy="34.8" r="1.0" fill="#a8343c"/><circle cx="12.0" cy="42.6" r="1.0" fill="#a8343c"/><circle cx="53.2" cy="13.4" r="1.0" fill="#f6d860"/><circle cx="6.3" cy="10.6" r="1.0" fill="#f09048"/><circle cx="29.7" cy="11.7" r="1.0" fill="#f0b050"/><circle cx="11.5" cy="38.8" r="1.0" fill="#e06a3c"/><circle cx="27.2" cy="10.8" r="1.0" fill="#b83c3c"/><circle cx="43.7" cy="31.3" r="1.0" fill="#f6d860"/><circle cx="23.7" cy="33.6" r="1.0" fill="#c8443a"/><circle cx="23.2" cy="12.4" r="1.0" fill="#d0503a"/><circle cx="15.4" cy="4.9" r="1.0" fill="#b83c3c"/><circle cx="19.0" cy="42.2" r="1.0" fill="#f6e86a"/><circle cx="8.7" cy="51.9" r="1.0" fill="#b83c3c"/><circle cx="18.1" cy="19.7" r="1.0" fill="#f6e86a"/><circle cx="29.6" cy="19.7" r="1.0" fill="#f6d860"/><circle cx="56.3" cy="34.2" r="1.0" fill="#f09048"/><circle cx="6.8" cy="15.7" r="1.0" fill="#a8343c"/><circle cx="6.3" cy="49.2" r="1.0" fill="#d85a3a"/><circle cx="30.1" cy="4.6" r="1.0" fill="#f6e86a"/><circle cx="22.7" cy="18.2" r="1.0" fill="#f6e86a"/><circle cx="39.2" cy="16.5" r="1.0" fill="#f6d860"/><circle cx="57.6" cy="21.1" r="1.0" fill="#e06a3c"/><circle cx="43.6" cy="56.4" r="1.0" fill="#f09048"/><circle cx="16.5" cy="25.4" r="1.0" fill="#b83c3c"/><circle cx="27.3" cy="42.7" r="1.0" fill="#d0503a"/><circle cx="28.2" cy="27.3" r="1.0" fill="#f09048"/><circle cx="18.5" cy="28.6" r="1.0" fill="#a8343c"/><circle cx="57.5" cy="30.5" r="1.0" fill="#f0b050"/></pattern></defs>
<defs><clipPath id="cH1"><rect x="33.2" y="1335.3" width="301.8" height="363.9"/></clipPath></defs>
<g clip-path="url(#cH1)"><g transform="translate(30 1330) scale(0.19113 0.19113)"><rect x="-300" y="-300" width="2300" height="2600" fill="#e0cde0"/><rect x="17" y="230" width="300" height="110" fill="url(#fidp)" opacity="0.8"/><rect x="17" y="1800" width="1580" height="130" fill="url(#fidp)" opacity="0.8"/><rect x="1480" y="1000" width="117" height="900" fill="url(#fidp)" opacity="0.8"/><path d="M290.0,440.0 L300.0,330.0 L360.0,220.0 L450.0,160.0 L560.0,120.0 L700.0,40.0 L1000.0,28.0 L1330.0,35.0 L1560.0,120.0 L1570.0,200.0 L1550.0,480.0 L1540.0,700.0 L1545.0,1000.0 L1520.0,1102.0 L1530.0,1250.0 L1530.0,1472.0 L1530.0,1622.0 L1300.0,1842.0 L1200.0,1925.0 L900.0,1905.0 L700.0,1875.0 L560.0,1802.0 L570.0,1642.0 L560.0,1542.0 L520.0,1342.0 L490.0,1192.0 L430.0,1062.0 L380.0,941.0 L200.0,800.0 L130.0,760.0 L122.0,650.0 L200.0,530.0 L330.0,490.0 Z" fill="#b262c0"/><rect x="17" y="1800" width="1580" height="130" fill="url(#fidp)" opacity="0.35"/><path d="M600.0,440.0 C630.0,418.3 735.0,426.7 800.0,430.0 C865.0,433.3 926.7,460.0 990.0,460.0 C1053.3,460.0 1120.0,436.7 1180.0,430.0 C1240.0,423.3 1296.7,416.7 1350.0,420.0 C1403.3,423.3 1471.7,420.0 1500.0,450.0 C1528.3,480.0 1520.0,541.7 1520.0,600.0 C1520.0,658.3 1511.7,741.7 1500.0,800.0 C1488.3,858.3 1483.3,916.7 1450.0,950.0 C1416.7,983.3 1341.7,1000.0 1300.0,1000.0 C1258.3,1000.0 1233.3,966.7 1200.0,950.0 C1166.7,933.3 1133.3,900.0 1100.0,900.0 C1066.7,900.0 1033.3,945.0 1000.0,950.0 C966.7,955.0 933.3,946.7 900.0,930.0 C866.7,913.3 830.0,888.3 800.0,850.0 C770.0,811.7 750.0,748.3 720.0,700.0 C690.0,651.7 640.0,603.3 620.0,560.0 C600.0,516.7 570.0,461.7 600.0,440.0 Z" fill="#a65ab8"/><ellipse cx="780" cy="620" rx="150" ry="120" fill="#8e4e98" opacity="0.5"/><ellipse cx="1350" cy="570" rx="130" ry="130" fill="#8e4e98" opacity="0.5"/><path d="M990.0,470.0 L1060.0,450.0 L1190.0,470.0 L1170.0,520.0 L1120.0,600.0 L1100.0,660.0 L1040.0,600.0 L980.0,590.0 L960.0,520.0 Z" fill="#e8d8e8"/><path d="M130.0,760.0 C155.0,740.0 216.7,773.3 250.0,780.0 C283.3,786.7 308.3,773.2 330.0,800.0 C351.7,826.8 363.3,897.3 380.0,941.0 C396.7,984.7 411.7,1020.2 430.0,1062.0 C448.3,1103.8 475.0,1145.3 490.0,1192.0 C505.0,1238.7 508.3,1283.7 520.0,1342.0 C531.7,1400.3 551.7,1492.0 560.0,1542.0 C568.3,1592.0 570.0,1600.3 570.0,1642.0 C570.0,1683.7 568.3,1770.3 560.0,1792.0 C551.7,1813.7 543.3,1777.0 520.0,1772.0 C496.7,1767.0 448.3,1760.3 420.0,1762.0 C391.7,1763.7 376.7,1777.0 350.0,1782.0 C323.3,1787.0 280.0,1802.0 260.0,1792.0 C240.0,1782.0 248.3,1747.0 230.0,1722.0 C211.7,1697.0 166.7,1665.3 150.0,1642.0 C133.3,1618.7 145.0,1605.3 130.0,1582.0 C115.0,1558.7 76.7,1525.3 60.0,1502.0 C43.3,1478.7 36.7,1485.3 30.0,1442.0 C23.3,1398.7 18.3,1308.7 20.0,1242.0 C21.7,1175.3 26.7,1099.0 40.0,1042.0 C53.3,985.0 85.0,947.0 100.0,900.0 C115.0,853.0 105.0,780.0 130.0,760.0 Z" fill="#5a36ae"/><path d="M430.0,480.0 L600.0,440.0 L620.0,520.0 L560.0,560.0 L470.0,530.0 Z" fill="#3e24a8"/><path d="M330,420 C380,300 450,200 560,130 C680,62 850,44 1000,42 C1200,42 1350,52 1450,112 C1520,170 1545,300 1548,470" fill="none" stroke="#2e1a98" stroke-width="48" stroke-linecap="round"/><path d="M580,420 C610,320 690,240 820,190 C900,165 1000,160 1120,170 C1250,190 1380,280 1440,410" fill="none" stroke="#2e1a98" stroke-width="46" stroke-linecap="round"/><path d="M780,385 C850,330 960,312 1100,318 C1200,325 1300,350 1320,385" fill="none" stroke="#2e1a98" stroke-width="52" stroke-linecap="round"/><path d="M330,415 C380,445 470,445 575,405" fill="none" stroke="#2e1a98" stroke-width="40" stroke-linecap="round"/><path d="M950,298 L1280,300" stroke="#e8d8e8" stroke-width="14"/><circle cx="1220" cy="355" r="12" fill="#e8d8e8"/><ellipse cx="490" cy="660" rx="70" ry="40" fill="#d0a8d8" opacity="0.8"/><path d="M480,650 C540,700 600,820 650,1142 C700,1280 750,1362 850,1462 C950,1520 1080,1530 1150,1502 C1220,1470 1260,1412 1350,1442" fill="none" stroke="#7e4888" stroke-width="50" opacity="0.9"/><path d="M830,905 C790,950 790,1050 820,1100 C850,1150 900,1180 955,1185 L955,1120" fill="none" stroke="#4328b0" stroke-width="30" stroke-linejoin="round"/><path d="M1440,1082 C1390,1110 1380,1180 1385,1270" fill="none" stroke="#4328b0" stroke-width="25"/><path d="M600,942 C650,1100 750,1250 900,1320 C1100,1340 1300,1330 1520,1240" fill="none" stroke="#6a48c8" stroke-width="7"/><path d="M1180,960 L1230,1170" fill="none" stroke="#e8d8e8" stroke-width="30"/><path d="M1270,1030 L1380,1040" fill="none" stroke="#e05080" stroke-width="14" opacity="0.7"/><ellipse cx="915" cy="1402" rx="95" ry="42" fill="#e8d8e8"/><path d="M150,1642 L560,1642 L850,1627" fill="none" stroke="#e8d8e8" stroke-width="14"/><path d="M900,1517 L1530,1490" fill="none" stroke="#b048b8" stroke-width="18"/><path d="M1100.0,1902.0 L1530.0,1622.0 L1530.0,1672.0 L1280.0,1925.0 L1180.0,1928.0 Z" fill="#a83aaa"/><path d="M1010,1540 L1080,1720" fill="none" stroke="#e04070" stroke-width="5"/></g></g>
<defs><clipPath id="cH2"><rect x="381.1" y="1486.3" width="204.4" height="204.9"/></clipPath><clipPath id="cH2s"><rect x="392.7" y="1497" width="184.3" height="184.29999999999995"/></clipPath><mask id="cH2m"><rect x="381.1" y="1486.3" width="204.4" height="204.9" fill="#000"/><g transform="translate(389.94 1458.7) scale(0.12894 0.12211)"><path fill="#fff" d="M290.0,440.0 L300.0,330.0 L360.0,220.0 L450.0,160.0 L560.0,120.0 L700.0,40.0 L1000.0,28.0 L1330.0,35.0 L1560.0,120.0 L1570.0,200.0 L1550.0,480.0 L1540.0,700.0 L1545.0,1000.0 L1520.0,1102.0 L1530.0,1250.0 L1530.0,1472.0 L1530.0,1622.0 L1300.0,1842.0 L1200.0,1925.0 L900.0,1905.0 L700.0,1875.0 L560.0,1802.0 L570.0,1642.0 L560.0,1542.0 L520.0,1342.0 L490.0,1192.0 L430.0,1062.0 L380.0,941.0 L200.0,800.0 L130.0,760.0 L122.0,650.0 L200.0,530.0 L330.0,490.0 Z"/><rect fill="#fff" x="17" y="1800" width="1580" height="130" opacity="0.35"/><path fill="#fff" d="M600.0,440.0 C630.0,418.3 735.0,426.7 800.0,430.0 C865.0,433.3 926.7,460.0 990.0,460.0 C1053.3,460.0 1120.0,436.7 1180.0,430.0 C1240.0,423.3 1296.7,416.7 1350.0,420.0 C1403.3,423.3 1471.7,420.0 1500.0,450.0 C1528.3,480.0 1520.0,541.7 1520.0,600.0 C1520.0,658.3 1511.7,741.7 1500.0,800.0 C1488.3,858.3 1483.3,916.7 1450.0,950.0 C1416.7,983.3 1341.7,1000.0 1300.0,1000.0 C1258.3,1000.0 1233.3,966.7 1200.0,950.0 C1166.7,933.3 1133.3,900.0 1100.0,900.0 C1066.7,900.0 1033.3,945.0 1000.0,950.0 C966.7,955.0 933.3,946.7 900.0,930.0 C866.7,913.3 830.0,888.3 800.0,850.0 C770.0,811.7 750.0,748.3 720.0,700.0 C690.0,651.7 640.0,603.3 620.0,560.0 C600.0,516.7 570.0,461.7 600.0,440.0 Z"/><ellipse fill="#fff" cx="780" cy="620" rx="150" ry="120" opacity="0.5"/><ellipse fill="#fff" cx="1350" cy="570" rx="130" ry="130" opacity="0.5"/><path fill="#fff" d="M990.0,470.0 L1060.0,450.0 L1190.0,470.0 L1170.0,520.0 L1120.0,600.0 L1100.0,660.0 L1040.0,600.0 L980.0,590.0 L960.0,520.0 Z"/><path fill="#fff" d="M130.0,760.0 C155.0,740.0 216.7,773.3 250.0,780.0 C283.3,786.7 308.3,773.2 330.0,800.0 C351.7,826.8 363.3,897.3 380.0,941.0 C396.7,984.7 411.7,1020.2 430.0,1062.0 C448.3,1103.8 475.0,1145.3 490.0,1192.0 C505.0,1238.7 508.3,1283.7 520.0,1342.0 C531.7,1400.3 551.7,1492.0 560.0,1542.0 C568.3,1592.0 570.0,1600.3 570.0,1642.0 C570.0,1683.7 568.3,1770.3 560.0,1792.0 C551.7,1813.7 543.3,1777.0 520.0,1772.0 C496.7,1767.0 448.3,1760.3 420.0,1762.0 C391.7,1763.7 376.7,1777.0 350.0,1782.0 C323.3,1787.0 280.0,1802.0 260.0,1792.0 C240.0,1782.0 248.3,1747.0 230.0,1722.0 C211.7,1697.0 166.7,1665.3 150.0,1642.0 C133.3,1618.7 145.0,1605.3 130.0,1582.0 C115.0,1558.7 76.7,1525.3 60.0,1502.0 C43.3,1478.7 36.7,1485.3 30.0,1442.0 C23.3,1398.7 18.3,1308.7 20.0,1242.0 C21.7,1175.3 26.7,1099.0 40.0,1042.0 C53.3,985.0 85.0,947.0 100.0,900.0 C115.0,853.0 105.0,780.0 130.0,760.0 Z"/><path fill="#fff" d="M430.0,480.0 L600.0,440.0 L620.0,520.0 L560.0,560.0 L470.0,530.0 Z"/><path fill="#fff" d="M330,420 C380,300 450,200 560,130 C680,62 850,44 1000,42 C1200,42 1350,52 1450,112 C1520,170 1545,300 1548,470" stroke="#2e1a98" stroke-width="48" stroke-linecap="round"/><path fill="#fff" d="M580,420 C610,320 690,240 820,190 C900,165 1000,160 1120,170 C1250,190 1380,280 1440,410" stroke="#2e1a98" stroke-width="46" stroke-linecap="round"/><path fill="#fff" d="M780,385 C850,330 960,312 1100,318 C1200,325 1300,350 1320,385" stroke="#2e1a98" stroke-width="52" stroke-linecap="round"/><path fill="#fff" d="M330,415 C380,445 470,445 575,405" stroke="#2e1a98" stroke-width="40" stroke-linecap="round"/><path fill="#fff" d="M950,298 L1280,300" stroke="#e8d8e8" stroke-width="14"/><circle cx="1220" cy="355" r="12"/><ellipse fill="#fff" cx="490" cy="660" rx="70" ry="40" opacity="0.8"/><path fill="#fff" d="M480,650 C540,700 600,820 650,1142 C700,1280 750,1362 850,1462 C950,1520 1080,1530 1150,1502 C1220,1470 1260,1412 1350,1442" stroke="#7e4888" stroke-width="50" opacity="0.9"/><path fill="#fff" d="M830,905 C790,950 790,1050 820,1100 C850,1150 900,1180 955,1185 L955,1120" stroke="#4328b0" stroke-width="30" stroke-linejoin="round"/><path fill="#fff" d="M1440,1082 C1390,1110 1380,1180 1385,1270" stroke="#4328b0" stroke-width="25"/><path fill="#fff" d="M600,942 C650,1100 750,1250 900,1320 C1100,1340 1300,1330 1520,1240" stroke="#6a48c8" stroke-width="7"/><path fill="#fff" d="M1180,960 L1230,1170" stroke="#e8d8e8" stroke-width="30"/><path fill="#fff" d="M1270,1030 L1380,1040" stroke="#e05080" stroke-width="14" opacity="0.7"/><ellipse fill="#fff" cx="915" cy="1402" rx="95" ry="42"/><path fill="#fff" d="M150,1642 L560,1642 L850,1627" stroke="#e8d8e8" stroke-width="14"/><path fill="#fff" d="M900,1517 L1530,1490" stroke="#b048b8" stroke-width="18"/><path fill="#fff" d="M1100.0,1902.0 L1530.0,1622.0 L1530.0,1672.0 L1280.0,1925.0 L1180.0,1928.0 Z"/><path fill="#fff" d="M1010,1540 L1080,1720" stroke="#e04070" stroke-width="5"/></g></mask></defs>
<g clip-path="url(#cH2)"><g transform="translate(389.94 1458.7) scale(0.12894 0.12211)"><rect x="-300" y="-300" width="2300" height="2600" fill="#e0cde0"/><rect x="17" y="230" width="300" height="110" fill="url(#fidp)" opacity="0.8"/><rect x="17" y="1800" width="1580" height="130" fill="url(#fidp)" opacity="0.8"/><rect x="1480" y="1000" width="117" height="900" fill="url(#fidp)" opacity="0.8"/><path d="M290.0,440.0 L300.0,330.0 L360.0,220.0 L450.0,160.0 L560.0,120.0 L700.0,40.0 L1000.0,28.0 L1330.0,35.0 L1560.0,120.0 L1570.0,200.0 L1550.0,480.0 L1540.0,700.0 L1545.0,1000.0 L1520.0,1102.0 L1530.0,1250.0 L1530.0,1472.0 L1530.0,1622.0 L1300.0,1842.0 L1200.0,1925.0 L900.0,1905.0 L700.0,1875.0 L560.0,1802.0 L570.0,1642.0 L560.0,1542.0 L520.0,1342.0 L490.0,1192.0 L430.0,1062.0 L380.0,941.0 L200.0,800.0 L130.0,760.0 L122.0,650.0 L200.0,530.0 L330.0,490.0 Z" fill="#b262c0"/><rect x="17" y="1800" width="1580" height="130" fill="url(#fidp)" opacity="0.35"/><path d="M600.0,440.0 C630.0,418.3 735.0,426.7 800.0,430.0 C865.0,433.3 926.7,460.0 990.0,460.0 C1053.3,460.0 1120.0,436.7 1180.0,430.0 C1240.0,423.3 1296.7,416.7 1350.0,420.0 C1403.3,423.3 1471.7,420.0 1500.0,450.0 C1528.3,480.0 1520.0,541.7 1520.0,600.0 C1520.0,658.3 1511.7,741.7 1500.0,800.0 C1488.3,858.3 1483.3,916.7 1450.0,950.0 C1416.7,983.3 1341.7,1000.0 1300.0,1000.0 C1258.3,1000.0 1233.3,966.7 1200.0,950.0 C1166.7,933.3 1133.3,900.0 1100.0,900.0 C1066.7,900.0 1033.3,945.0 1000.0,950.0 C966.7,955.0 933.3,946.7 900.0,930.0 C866.7,913.3 830.0,888.3 800.0,850.0 C770.0,811.7 750.0,748.3 720.0,700.0 C690.0,651.7 640.0,603.3 620.0,560.0 C600.0,516.7 570.0,461.7 600.0,440.0 Z" fill="#a65ab8"/><ellipse cx="780" cy="620" rx="150" ry="120" fill="#8e4e98" opacity="0.5"/><ellipse cx="1350" cy="570" rx="130" ry="130" fill="#8e4e98" opacity="0.5"/><path d="M990.0,470.0 L1060.0,450.0 L1190.0,470.0 L1170.0,520.0 L1120.0,600.0 L1100.0,660.0 L1040.0,600.0 L980.0,590.0 L960.0,520.0 Z" fill="#e8d8e8"/><path d="M130.0,760.0 C155.0,740.0 216.7,773.3 250.0,780.0 C283.3,786.7 308.3,773.2 330.0,800.0 C351.7,826.8 363.3,897.3 380.0,941.0 C396.7,984.7 411.7,1020.2 430.0,1062.0 C448.3,1103.8 475.0,1145.3 490.0,1192.0 C505.0,1238.7 508.3,1283.7 520.0,1342.0 C531.7,1400.3 551.7,1492.0 560.0,1542.0 C568.3,1592.0 570.0,1600.3 570.0,1642.0 C570.0,1683.7 568.3,1770.3 560.0,1792.0 C551.7,1813.7 543.3,1777.0 520.0,1772.0 C496.7,1767.0 448.3,1760.3 420.0,1762.0 C391.7,1763.7 376.7,1777.0 350.0,1782.0 C323.3,1787.0 280.0,1802.0 260.0,1792.0 C240.0,1782.0 248.3,1747.0 230.0,1722.0 C211.7,1697.0 166.7,1665.3 150.0,1642.0 C133.3,1618.7 145.0,1605.3 130.0,1582.0 C115.0,1558.7 76.7,1525.3 60.0,1502.0 C43.3,1478.7 36.7,1485.3 30.0,1442.0 C23.3,1398.7 18.3,1308.7 20.0,1242.0 C21.7,1175.3 26.7,1099.0 40.0,1042.0 C53.3,985.0 85.0,947.0 100.0,900.0 C115.0,853.0 105.0,780.0 130.0,760.0 Z" fill="#5a36ae"/><path d="M430.0,480.0 L600.0,440.0 L620.0,520.0 L560.0,560.0 L470.0,530.0 Z" fill="#3e24a8"/><path d="M330,420 C380,300 450,200 560,130 C680,62 850,44 1000,42 C1200,42 1350,52 1450,112 C1520,170 1545,300 1548,470" fill="none" stroke="#2e1a98" stroke-width="48" stroke-linecap="round"/><path d="M580,420 C610,320 690,240 820,190 C900,165 1000,160 1120,170 C1250,190 1380,280 1440,410" fill="none" stroke="#2e1a98" stroke-width="46" stroke-linecap="round"/><path d="M780,385 C850,330 960,312 1100,318 C1200,325 1300,350 1320,385" fill="none" stroke="#2e1a98" stroke-width="52" stroke-linecap="round"/><path d="M330,415 C380,445 470,445 575,405" fill="none" stroke="#2e1a98" stroke-width="40" stroke-linecap="round"/><path d="M950,298 L1280,300" stroke="#e8d8e8" stroke-width="14"/><circle cx="1220" cy="355" r="12" fill="#e8d8e8"/><ellipse cx="490" cy="660" rx="70" ry="40" fill="#d0a8d8" opacity="0.8"/><path d="M480,650 C540,700 600,820 650,1142 C700,1280 750,1362 850,1462 C950,1520 1080,1530 1150,1502 C1220,1470 1260,1412 1350,1442" fill="none" stroke="#7e4888" stroke-width="50" opacity="0.9"/><path d="M830,905 C790,950 790,1050 820,1100 C850,1150 900,1180 955,1185 L955,1120" fill="none" stroke="#4328b0" stroke-width="30" stroke-linejoin="round"/><path d="M1440,1082 C1390,1110 1380,1180 1385,1270" fill="none" stroke="#4328b0" stroke-width="25"/><path d="M600,942 C650,1100 750,1250 900,1320 C1100,1340 1300,1330 1520,1240" fill="none" stroke="#6a48c8" stroke-width="7"/><path d="M1180,960 L1230,1170" fill="none" stroke="#e8d8e8" stroke-width="30"/><path d="M1270,1030 L1380,1040" fill="none" stroke="#e05080" stroke-width="14" opacity="0.7"/><ellipse cx="915" cy="1402" rx="95" ry="42" fill="#e8d8e8"/><path d="M150,1642 L560,1642 L850,1627" fill="none" stroke="#e8d8e8" stroke-width="14"/><path d="M900,1517 L1530,1490" fill="none" stroke="#b048b8" stroke-width="18"/><path d="M1100.0,1902.0 L1530.0,1622.0 L1530.0,1672.0 L1280.0,1925.0 L1180.0,1928.0 Z" fill="#a83aaa"/><path d="M1010,1540 L1080,1720" fill="none" stroke="#e04070" stroke-width="5"/></g>
<g clip-path="url(#cH2s)"><rect x="381.1" y="1486.3" width="204.4" height="204.9" fill="#3a1028" opacity="0.36" mask="url(#cH2m)"/><rect x="381.1" y="1486.3" width="204.4" height="204.9" fill="url(#spA)" mask="url(#cH2m)"/></g></g>
<rect x="381.1" y="1486.3" width="204.4" height="204.9" fill="none" stroke="#9a9a9a" stroke-width="0.8" />
<defs><clipPath id="cH3"><rect x="619.3" y="1486.3" width="205.3" height="204.9"/></clipPath><clipPath id="cH3s"><rect x="630.9" y="1497" width="184.30000000000007" height="184.29999999999995"/></clipPath><mask id="cH3m"><rect x="619.3" y="1486.3" width="205.3" height="204.9" fill="#000"/><g transform="translate(628.14 1458.7) scale(0.12894 0.12211)"><path fill="#fff" d="M290.0,440.0 L300.0,330.0 L360.0,220.0 L450.0,160.0 L560.0,120.0 L700.0,40.0 L1000.0,28.0 L1330.0,35.0 L1560.0,120.0 L1570.0,200.0 L1550.0,480.0 L1540.0,700.0 L1545.0,1000.0 L1520.0,1102.0 L1530.0,1250.0 L1530.0,1472.0 L1530.0,1622.0 L1300.0,1842.0 L1200.0,1925.0 L900.0,1905.0 L700.0,1875.0 L560.0,1802.0 L570.0,1642.0 L560.0,1542.0 L520.0,1342.0 L490.0,1192.0 L430.0,1062.0 L380.0,941.0 L200.0,800.0 L130.0,760.0 L122.0,650.0 L200.0,530.0 L330.0,490.0 Z"/><rect fill="#fff" x="17" y="1800" width="1580" height="130" opacity="0.35"/><path fill="#fff" d="M600.0,440.0 C630.0,418.3 735.0,426.7 800.0,430.0 C865.0,433.3 926.7,460.0 990.0,460.0 C1053.3,460.0 1120.0,436.7 1180.0,430.0 C1240.0,423.3 1296.7,416.7 1350.0,420.0 C1403.3,423.3 1471.7,420.0 1500.0,450.0 C1528.3,480.0 1520.0,541.7 1520.0,600.0 C1520.0,658.3 1511.7,741.7 1500.0,800.0 C1488.3,858.3 1483.3,916.7 1450.0,950.0 C1416.7,983.3 1341.7,1000.0 1300.0,1000.0 C1258.3,1000.0 1233.3,966.7 1200.0,950.0 C1166.7,933.3 1133.3,900.0 1100.0,900.0 C1066.7,900.0 1033.3,945.0 1000.0,950.0 C966.7,955.0 933.3,946.7 900.0,930.0 C866.7,913.3 830.0,888.3 800.0,850.0 C770.0,811.7 750.0,748.3 720.0,700.0 C690.0,651.7 640.0,603.3 620.0,560.0 C600.0,516.7 570.0,461.7 600.0,440.0 Z"/><ellipse fill="#fff" cx="780" cy="620" rx="150" ry="120" opacity="0.5"/><ellipse fill="#fff" cx="1350" cy="570" rx="130" ry="130" opacity="0.5"/><path fill="#fff" d="M990.0,470.0 L1060.0,450.0 L1190.0,470.0 L1170.0,520.0 L1120.0,600.0 L1100.0,660.0 L1040.0,600.0 L980.0,590.0 L960.0,520.0 Z"/><path fill="#fff" d="M130.0,760.0 C155.0,740.0 216.7,773.3 250.0,780.0 C283.3,786.7 308.3,773.2 330.0,800.0 C351.7,826.8 363.3,897.3 380.0,941.0 C396.7,984.7 411.7,1020.2 430.0,1062.0 C448.3,1103.8 475.0,1145.3 490.0,1192.0 C505.0,1238.7 508.3,1283.7 520.0,1342.0 C531.7,1400.3 551.7,1492.0 560.0,1542.0 C568.3,1592.0 570.0,1600.3 570.0,1642.0 C570.0,1683.7 568.3,1770.3 560.0,1792.0 C551.7,1813.7 543.3,1777.0 520.0,1772.0 C496.7,1767.0 448.3,1760.3 420.0,1762.0 C391.7,1763.7 376.7,1777.0 350.0,1782.0 C323.3,1787.0 280.0,1802.0 260.0,1792.0 C240.0,1782.0 248.3,1747.0 230.0,1722.0 C211.7,1697.0 166.7,1665.3 150.0,1642.0 C133.3,1618.7 145.0,1605.3 130.0,1582.0 C115.0,1558.7 76.7,1525.3 60.0,1502.0 C43.3,1478.7 36.7,1485.3 30.0,1442.0 C23.3,1398.7 18.3,1308.7 20.0,1242.0 C21.7,1175.3 26.7,1099.0 40.0,1042.0 C53.3,985.0 85.0,947.0 100.0,900.0 C115.0,853.0 105.0,780.0 130.0,760.0 Z"/><path fill="#fff" d="M430.0,480.0 L600.0,440.0 L620.0,520.0 L560.0,560.0 L470.0,530.0 Z"/><path fill="#fff" d="M330,420 C380,300 450,200 560,130 C680,62 850,44 1000,42 C1200,42 1350,52 1450,112 C1520,170 1545,300 1548,470" stroke="#2e1a98" stroke-width="48" stroke-linecap="round"/><path fill="#fff" d="M580,420 C610,320 690,240 820,190 C900,165 1000,160 1120,170 C1250,190 1380,280 1440,410" stroke="#2e1a98" stroke-width="46" stroke-linecap="round"/><path fill="#fff" d="M780,385 C850,330 960,312 1100,318 C1200,325 1300,350 1320,385" stroke="#2e1a98" stroke-width="52" stroke-linecap="round"/><path fill="#fff" d="M330,415 C380,445 470,445 575,405" stroke="#2e1a98" stroke-width="40" stroke-linecap="round"/><path fill="#fff" d="M950,298 L1280,300" stroke="#e8d8e8" stroke-width="14"/><circle cx="1220" cy="355" r="12"/><ellipse fill="#fff" cx="490" cy="660" rx="70" ry="40" opacity="0.8"/><path fill="#fff" d="M480,650 C540,700 600,820 650,1142 C700,1280 750,1362 850,1462 C950,1520 1080,1530 1150,1502 C1220,1470 1260,1412 1350,1442" stroke="#7e4888" stroke-width="50" opacity="0.9"/><path fill="#fff" d="M830,905 C790,950 790,1050 820,1100 C850,1150 900,1180 955,1185 L955,1120" stroke="#4328b0" stroke-width="30" stroke-linejoin="round"/><path fill="#fff" d="M1440,1082 C1390,1110 1380,1180 1385,1270" stroke="#4328b0" stroke-width="25"/><path fill="#fff" d="M600,942 C650,1100 750,1250 900,1320 C1100,1340 1300,1330 1520,1240" stroke="#6a48c8" stroke-width="7"/><path fill="#fff" d="M1180,960 L1230,1170" stroke="#e8d8e8" stroke-width="30"/><path fill="#fff" d="M1270,1030 L1380,1040" stroke="#e05080" stroke-width="14" opacity="0.7"/><ellipse fill="#fff" cx="915" cy="1402" rx="95" ry="42"/><path fill="#fff" d="M150,1642 L560,1642 L850,1627" stroke="#e8d8e8" stroke-width="14"/><path fill="#fff" d="M900,1517 L1530,1490" stroke="#b048b8" stroke-width="18"/><path fill="#fff" d="M1100.0,1902.0 L1530.0,1622.0 L1530.0,1672.0 L1280.0,1925.0 L1180.0,1928.0 Z"/><path fill="#fff" d="M1010,1540 L1080,1720" stroke="#e04070" stroke-width="5"/></g></mask></defs>
<g clip-path="url(#cH3)"><g transform="translate(628.14 1458.7) scale(0.12894 0.12211)"><rect x="-300" y="-300" width="2300" height="2600" fill="#e0cde0"/><rect x="17" y="230" width="300" height="110" fill="url(#fidp)" opacity="0.8"/><rect x="17" y="1800" width="1580" height="130" fill="url(#fidp)" opacity="0.8"/><rect x="1480" y="1000" width="117" height="900" fill="url(#fidp)" opacity="0.8"/><path d="M290.0,440.0 L300.0,330.0 L360.0,220.0 L450.0,160.0 L560.0,120.0 L700.0,40.0 L1000.0,28.0 L1330.0,35.0 L1560.0,120.0 L1570.0,200.0 L1550.0,480.0 L1540.0,700.0 L1545.0,1000.0 L1520.0,1102.0 L1530.0,1250.0 L1530.0,1472.0 L1530.0,1622.0 L1300.0,1842.0 L1200.0,1925.0 L900.0,1905.0 L700.0,1875.0 L560.0,1802.0 L570.0,1642.0 L560.0,1542.0 L520.0,1342.0 L490.0,1192.0 L430.0,1062.0 L380.0,941.0 L200.0,800.0 L130.0,760.0 L122.0,650.0 L200.0,530.0 L330.0,490.0 Z" fill="#b262c0"/><rect x="17" y="1800" width="1580" height="130" fill="url(#fidp)" opacity="0.35"/><path d="M600.0,440.0 C630.0,418.3 735.0,426.7 800.0,430.0 C865.0,433.3 926.7,460.0 990.0,460.0 C1053.3,460.0 1120.0,436.7 1180.0,430.0 C1240.0,423.3 1296.7,416.7 1350.0,420.0 C1403.3,423.3 1471.7,420.0 1500.0,450.0 C1528.3,480.0 1520.0,541.7 1520.0,600.0 C1520.0,658.3 1511.7,741.7 1500.0,800.0 C1488.3,858.3 1483.3,916.7 1450.0,950.0 C1416.7,983.3 1341.7,1000.0 1300.0,1000.0 C1258.3,1000.0 1233.3,966.7 1200.0,950.0 C1166.7,933.3 1133.3,900.0 1100.0,900.0 C1066.7,900.0 1033.3,945.0 1000.0,950.0 C966.7,955.0 933.3,946.7 900.0,930.0 C866.7,913.3 830.0,888.3 800.0,850.0 C770.0,811.7 750.0,748.3 720.0,700.0 C690.0,651.7 640.0,603.3 620.0,560.0 C600.0,516.7 570.0,461.7 600.0,440.0 Z" fill="#a65ab8"/><ellipse cx="780" cy="620" rx="150" ry="120" fill="#8e4e98" opacity="0.5"/><ellipse cx="1350" cy="570" rx="130" ry="130" fill="#8e4e98" opacity="0.5"/><path d="M990.0,470.0 L1060.0,450.0 L1190.0,470.0 L1170.0,520.0 L1120.0,600.0 L1100.0,660.0 L1040.0,600.0 L980.0,590.0 L960.0,520.0 Z" fill="#e8d8e8"/><path d="M130.0,760.0 C155.0,740.0 216.7,773.3 250.0,780.0 C283.3,786.7 308.3,773.2 330.0,800.0 C351.7,826.8 363.3,897.3 380.0,941.0 C396.7,984.7 411.7,1020.2 430.0,1062.0 C448.3,1103.8 475.0,1145.3 490.0,1192.0 C505.0,1238.7 508.3,1283.7 520.0,1342.0 C531.7,1400.3 551.7,1492.0 560.0,1542.0 C568.3,1592.0 570.0,1600.3 570.0,1642.0 C570.0,1683.7 568.3,1770.3 560.0,1792.0 C551.7,1813.7 543.3,1777.0 520.0,1772.0 C496.7,1767.0 448.3,1760.3 420.0,1762.0 C391.7,1763.7 376.7,1777.0 350.0,1782.0 C323.3,1787.0 280.0,1802.0 260.0,1792.0 C240.0,1782.0 248.3,1747.0 230.0,1722.0 C211.7,1697.0 166.7,1665.3 150.0,1642.0 C133.3,1618.7 145.0,1605.3 130.0,1582.0 C115.0,1558.7 76.7,1525.3 60.0,1502.0 C43.3,1478.7 36.7,1485.3 30.0,1442.0 C23.3,1398.7 18.3,1308.7 20.0,1242.0 C21.7,1175.3 26.7,1099.0 40.0,1042.0 C53.3,985.0 85.0,947.0 100.0,900.0 C115.0,853.0 105.0,780.0 130.0,760.0 Z" fill="#5a36ae"/><path d="M430.0,480.0 L600.0,440.0 L620.0,520.0 L560.0,560.0 L470.0,530.0 Z" fill="#3e24a8"/><path d="M330,420 C380,300 450,200 560,130 C680,62 850,44 1000,42 C1200,42 1350,52 1450,112 C1520,170 1545,300 1548,470" fill="none" stroke="#2e1a98" stroke-width="48" stroke-linecap="round"/><path d="M580,420 C610,320 690,240 820,190 C900,165 1000,160 1120,170 C1250,190 1380,280 1440,410" fill="none" stroke="#2e1a98" stroke-width="46" stroke-linecap="round"/><path d="M780,385 C850,330 960,312 1100,318 C1200,325 1300,350 1320,385" fill="none" stroke="#2e1a98" stroke-width="52" stroke-linecap="round"/><path d="M330,415 C380,445 470,445 575,405" fill="none" stroke="#2e1a98" stroke-width="40" stroke-linecap="round"/><path d="M950,298 L1280,300" stroke="#e8d8e8" stroke-width="14"/><circle cx="1220" cy="355" r="12" fill="#e8d8e8"/><ellipse cx="490" cy="660" rx="70" ry="40" fill="#d0a8d8" opacity="0.8"/><path d="M480,650 C540,700 600,820 650,1142 C700,1280 750,1362 850,1462 C950,1520 1080,1530 1150,1502 C1220,1470 1260,1412 1350,1442" fill="none" stroke="#7e4888" stroke-width="50" opacity="0.9"/><path d="M830,905 C790,950 790,1050 820,1100 C850,1150 900,1180 955,1185 L955,1120" fill="none" stroke="#4328b0" stroke-width="30" stroke-linejoin="round"/><path d="M1440,1082 C1390,1110 1380,1180 1385,1270" fill="none" stroke="#4328b0" stroke-width="25"/><path d="M600,942 C650,1100 750,1250 900,1320 C1100,1340 1300,1330 1520,1240" fill="none" stroke="#6a48c8" stroke-width="7"/><path d="M1180,960 L1230,1170" fill="none" stroke="#e8d8e8" stroke-width="30"/><path d="M1270,1030 L1380,1040" fill="none" stroke="#e05080" stroke-width="14" opacity="0.7"/><ellipse cx="915" cy="1402" rx="95" ry="42" fill="#e8d8e8"/><path d="M150,1642 L560,1642 L850,1627" fill="none" stroke="#e8d8e8" stroke-width="14"/><path d="M900,1517 L1530,1490" fill="none" stroke="#b048b8" stroke-width="18"/><path d="M1100.0,1902.0 L1530.0,1622.0 L1530.0,1672.0 L1280.0,1925.0 L1180.0,1928.0 Z" fill="#a83aaa"/><path d="M1010,1540 L1080,1720" fill="none" stroke="#e04070" stroke-width="5"/></g>
<g clip-path="url(#cH3s)"><rect x="619.3" y="1486.3" width="205.3" height="204.9" fill="#3a1028" opacity="0.36" mask="url(#cH3m)"/><rect x="619.3" y="1486.3" width="205.3" height="204.9" fill="url(#spA)" mask="url(#cH3m)"/></g></g>
<rect x="619.3" y="1486.3" width="205.3" height="204.9" fill="none" stroke="#9a9a9a" stroke-width="0.8" />
<defs><clipPath id="cH4"><rect x="916.9" y="1339.2" width="286.6" height="360.6"/></clipPath></defs>
<g clip-path="url(#cH4)"><g transform="translate(905 1330) scale(0.19113 0.19113)"><rect x="-300" y="-300" width="2300" height="2600" fill="#e0cde0"/><rect x="62" y="280" width="90" height="1600" fill="url(#fidp)" opacity="0.8"/><rect x="62" y="1790" width="1500" height="145" fill="url(#fidp)" opacity="0.8"/><rect x="1470" y="250" width="92" height="1600" fill="url(#fidp)" opacity="0.8"/><path d="M123.0,529.0 C142.3,464.5 167.8,359.5 200.0,316.0 C232.2,272.5 299.3,287.3 316.0,268.0 C332.7,248.7 304.3,233.0 300.0,200.0 C295.7,167.0 100.0,94.2 290.0,70.0 C480.0,45.8 1244.2,16.7 1440.0,55.0 C1635.8,93.3 1460.0,209.2 1465.0,300.0 C1470.0,390.8 1467.5,516.7 1470.0,600.0 C1472.5,683.3 1475.0,733.3 1480.0,800.0 C1485.0,866.7 1493.3,933.3 1500.0,1000.0 C1506.7,1066.7 1514.0,1108.5 1520.0,1200.0 C1526.0,1291.5 1535.0,1442.7 1536.0,1549.0 C1537.0,1655.3 1559.8,1786.5 1526.0,1838.0 C1492.2,1889.5 1378.2,1861.2 1333.0,1858.0 C1287.8,1854.8 1271.2,1838.3 1255.0,1819.0 C1238.8,1799.7 1242.5,1742.0 1236.0,1742.0 C1229.5,1742.0 1232.2,1794.8 1216.0,1819.0 C1199.8,1843.2 1192.2,1874.0 1139.0,1887.0 C1085.8,1900.0 969.5,1905.2 897.0,1897.0 C824.5,1888.8 749.2,1863.8 704.0,1838.0 C658.8,1812.2 642.2,1764.3 626.0,1742.0 C609.8,1719.7 626.3,1704.0 607.0,1704.0 C587.7,1704.0 542.3,1742.0 510.0,1742.0 C477.7,1742.0 448.5,1726.7 413.0,1704.0 C377.5,1681.3 332.5,1644.8 297.0,1606.0 C261.5,1567.2 225.8,1521.0 200.0,1471.0 C174.2,1421.0 153.3,1357.5 142.0,1306.0 C130.7,1254.5 135.2,1218.3 132.0,1162.0 C128.8,1105.7 131.0,1044.5 123.0,968.0 C115.0,891.5 84.0,776.2 84.0,703.0 C84.0,629.8 103.7,593.5 123.0,529.0 Z" fill="#b262c0"/><rect x="600" y="290" width="860" height="120" fill="url(#fidp)" opacity="0.45"/><rect x="180" y="290" width="400" height="120" fill="url(#fidp)" opacity="0.45"/><rect x="640" y="1780" width="880" height="100" fill="url(#fidp)" opacity="0.45"/><path d="M570.0,260.0 C560.0,210.0 601.7,198.3 640.0,180.0 C678.3,161.7 740.0,155.0 800.0,150.0 C860.0,145.0 916.7,151.7 1000.0,150.0 C1083.3,148.3 1223.3,140.0 1300.0,140.0 C1376.7,140.0 1431.7,98.3 1460.0,150.0 C1488.3,201.7 1466.7,351.7 1470.0,450.0 C1473.3,548.3 1503.3,688.3 1480.0,740.0 C1456.7,791.7 1376.7,763.3 1330.0,760.0 C1283.3,756.7 1238.3,730.0 1200.0,720.0 C1161.7,710.0 1140.0,698.3 1100.0,700.0 C1060.0,701.7 1000.0,723.3 960.0,730.0 C920.0,736.7 890.0,755.0 860.0,740.0 C830.0,725.0 806.7,683.3 780.0,640.0 C753.3,596.7 735.0,543.3 700.0,480.0 C665.0,416.7 580.0,310.0 570.0,260.0 Z" fill="#a65ab8"/><ellipse cx="1400" cy="620" rx="90" ry="120" fill="#8e4e98" opacity="0.6"/><path d="M131.0,1055.0 C166.5,1045.2 272.2,1083.7 345.0,1103.0 C417.8,1122.3 508.2,1142.0 568.0,1171.0 C627.8,1200.0 665.3,1235.2 704.0,1277.0 C742.7,1318.8 790.3,1383.2 800.0,1422.0 C809.7,1460.8 786.2,1472.8 762.0,1510.0 C737.8,1547.2 680.8,1612.7 655.0,1645.0 C629.2,1677.3 631.2,1687.8 607.0,1704.0 C582.8,1720.2 542.3,1742.0 510.0,1742.0 C477.7,1742.0 448.5,1726.7 413.0,1704.0 C377.5,1681.3 332.5,1644.8 297.0,1606.0 C261.5,1567.2 225.8,1521.0 200.0,1471.0 C174.2,1421.0 153.3,1357.5 142.0,1306.0 C130.7,1254.5 133.8,1203.8 132.0,1162.0 C130.2,1120.2 95.5,1064.8 131.0,1055.0 Z" fill="#6a3cb2"/><path d="M228,1471 C300,1430 380,1405 451,1393" fill="none" stroke="#d04070" stroke-width="28" opacity="0.6"/><path d="M300,85 L560,75 L720,80 L700,150 L640,160 L600,230 L540,240 L510,170 L470,250 L400,250 L370,190 L330,170 Z" fill="#2e1a98"/><path d="M440,120 L480,240 M560,100 L520,230" stroke="#c98bd8" stroke-width="14"/><path d="M781,100 C850,60 1100,55 1294,70 C1290,120 1200,150 1000,152 C880,150 800,140 781,100 Z" fill="#2e1a98"/><path d="M1320,170 L1400,70 L1440,60 L1430,160 Z" fill="#f0e6f0" opacity="0.8"/><path d="M452,471 C360,560 320,700 365,820 C400,900 520,960 607,984 C700,1030 800,1084 900,1140 C960,1180 1000,1250 1042,1355 C1080,1260 1130,1180 1187,1162 C1280,1150 1381,1162 1497,1258" fill="none" stroke="#84498e" stroke-width="48" opacity="0.9"/><path d="M432.0,442.0 L548.0,505.0 L470.0,515.0 Z" fill="#7a3a70"/><path d="M700,670 C640,690 630,760 680,810 C740,860 840,920 925,925 C925,870 860,790 790,730 C760,700 730,680 700,670" fill="none" stroke="#4328b0" stroke-width="22"/><path d="M720,700 C780,720 830,760 850,800 C800,810 750,780 720,700 Z" fill="#4328b0"/><path d="M430,620 C380,800 600,950 900,1030 C1100,1080 1300,1090 1450,950" fill="none" stroke="#6a48c8" stroke-width="7"/><path d="M1340,800 C1310,850 1300,900 1330,940 L1460,880" fill="none" stroke="#4328b0" stroke-width="18"/><path d="M1100,740 L1130,990 M1160,740 L1200,990" fill="none" stroke="#6a48c8" stroke-width="5"/><path d="M780,1026 L982,1142" fill="none" stroke="#efe5ee" stroke-width="18"/><path d="M1400,1080 L1500,1120 L1470,1170 Z" fill="#efe5ee"/><path d="M1207,1181 L1226,1742" fill="none" stroke="#c070c8" stroke-width="30" opacity="0.5"/><rect x="62" y="48" width="1418" height="30" fill="#111"/><rect x="62" y="48" width="70" height="47" fill="#111"/></g></g>
<defs><clipPath id="cH5"><rect x="1249.6" y="1492.1" width="216.8" height="206.6"/></clipPath><clipPath id="cH5s"><rect x="1259.2" y="1503.7" width="197.5999999999999" height="184.89999999999986"/></clipPath><mask id="cH5m"><rect x="1249.6" y="1492.1" width="216.8" height="206.6" fill="#000"/><g transform="translate(1247.4 1427.8) scale(0.13760 0.16630)"><path fill="#fff" d="M123.0,529.0 C142.3,464.5 167.8,359.5 200.0,316.0 C232.2,272.5 299.3,287.3 316.0,268.0 C332.7,248.7 304.3,233.0 300.0,200.0 C295.7,167.0 100.0,94.2 290.0,70.0 C480.0,45.8 1244.2,16.7 1440.0,55.0 C1635.8,93.3 1460.0,209.2 1465.0,300.0 C1470.0,390.8 1467.5,516.7 1470.0,600.0 C1472.5,683.3 1475.0,733.3 1480.0,800.0 C1485.0,866.7 1493.3,933.3 1500.0,1000.0 C1506.7,1066.7 1514.0,1108.5 1520.0,1200.0 C1526.0,1291.5 1535.0,1442.7 1536.0,1549.0 C1537.0,1655.3 1559.8,1786.5 1526.0,1838.0 C1492.2,1889.5 1378.2,1861.2 1333.0,1858.0 C1287.8,1854.8 1271.2,1838.3 1255.0,1819.0 C1238.8,1799.7 1242.5,1742.0 1236.0,1742.0 C1229.5,1742.0 1232.2,1794.8 1216.0,1819.0 C1199.8,1843.2 1192.2,1874.0 1139.0,1887.0 C1085.8,1900.0 969.5,1905.2 897.0,1897.0 C824.5,1888.8 749.2,1863.8 704.0,1838.0 C658.8,1812.2 642.2,1764.3 626.0,1742.0 C609.8,1719.7 626.3,1704.0 607.0,1704.0 C587.7,1704.0 542.3,1742.0 510.0,1742.0 C477.7,1742.0 448.5,1726.7 413.0,1704.0 C377.5,1681.3 332.5,1644.8 297.0,1606.0 C261.5,1567.2 225.8,1521.0 200.0,1471.0 C174.2,1421.0 153.3,1357.5 142.0,1306.0 C130.7,1254.5 135.2,1218.3 132.0,1162.0 C128.8,1105.7 131.0,1044.5 123.0,968.0 C115.0,891.5 84.0,776.2 84.0,703.0 C84.0,629.8 103.7,593.5 123.0,529.0 Z"/><rect fill="#fff" x="600" y="290" width="860" height="120" opacity="0.45"/><rect fill="#fff" x="180" y="290" width="400" height="120" opacity="0.45"/><rect fill="#fff" x="640" y="1780" width="880" height="100" opacity="0.45"/><path fill="#fff" d="M570.0,260.0 C560.0,210.0 601.7,198.3 640.0,180.0 C678.3,161.7 740.0,155.0 800.0,150.0 C860.0,145.0 916.7,151.7 1000.0,150.0 C1083.3,148.3 1223.3,140.0 1300.0,140.0 C1376.7,140.0 1431.7,98.3 1460.0,150.0 C1488.3,201.7 1466.7,351.7 1470.0,450.0 C1473.3,548.3 1503.3,688.3 1480.0,740.0 C1456.7,791.7 1376.7,763.3 1330.0,760.0 C1283.3,756.7 1238.3,730.0 1200.0,720.0 C1161.7,710.0 1140.0,698.3 1100.0,700.0 C1060.0,701.7 1000.0,723.3 960.0,730.0 C920.0,736.7 890.0,755.0 860.0,740.0 C830.0,725.0 806.7,683.3 780.0,640.0 C753.3,596.7 735.0,543.3 700.0,480.0 C665.0,416.7 580.0,310.0 570.0,260.0 Z"/><ellipse fill="#fff" cx="1400" cy="620" rx="90" ry="120" opacity="0.6"/><path fill="#fff" d="M131.0,1055.0 C166.5,1045.2 272.2,1083.7 345.0,1103.0 C417.8,1122.3 508.2,1142.0 568.0,1171.0 C627.8,1200.0 665.3,1235.2 704.0,1277.0 C742.7,1318.8 790.3,1383.2 800.0,1422.0 C809.7,1460.8 786.2,1472.8 762.0,1510.0 C737.8,1547.2 680.8,1612.7 655.0,1645.0 C629.2,1677.3 631.2,1687.8 607.0,1704.0 C582.8,1720.2 542.3,1742.0 510.0,1742.0 C477.7,1742.0 448.5,1726.7 413.0,1704.0 C377.5,1681.3 332.5,1644.8 297.0,1606.0 C261.5,1567.2 225.8,1521.0 200.0,1471.0 C174.2,1421.0 153.3,1357.5 142.0,1306.0 C130.7,1254.5 133.8,1203.8 132.0,1162.0 C130.2,1120.2 95.5,1064.8 131.0,1055.0 Z"/><path fill="#fff" d="M228,1471 C300,1430 380,1405 451,1393" stroke="#d04070" stroke-width="28" opacity="0.6"/><path fill="#fff" d="M300,85 L560,75 L720,80 L700,150 L640,160 L600,230 L540,240 L510,170 L470,250 L400,250 L370,190 L330,170 Z"/><path fill="#fff" d="M440,120 L480,240 M560,100 L520,230" stroke="#c98bd8" stroke-width="14"/><path fill="#fff" d="M781,100 C850,60 1100,55 1294,70 C1290,120 1200,150 1000,152 C880,150 800,140 781,100 Z"/><path fill="#fff" d="M1320,170 L1400,70 L1440,60 L1430,160 Z" opacity="0.8"/><path fill="#fff" d="M452,471 C360,560 320,700 365,820 C400,900 520,960 607,984 C700,1030 800,1084 900,1140 C960,1180 1000,1250 1042,1355 C1080,1260 1130,1180 1187,1162 C1280,1150 1381,1162 1497,1258" stroke="#84498e" stroke-width="48" opacity="0.9"/><path fill="#fff" d="M432.0,442.0 L548.0,505.0 L470.0,515.0 Z"/><path fill="#fff" d="M700,670 C640,690 630,760 680,810 C740,860 840,920 925,925 C925,870 860,790 790,730 C760,700 730,680 700,670" stroke="#4328b0" stroke-width="22"/><path fill="#fff" d="M720,700 C780,720 830,760 850,800 C800,810 750,780 720,700 Z"/><path fill="#fff" d="M430,620 C380,800 600,950 900,1030 C1100,1080 1300,1090 1450,950" stroke="#6a48c8" stroke-width="7"/><path fill="#fff" d="M1340,800 C1310,850 1300,900 1330,940 L1460,880" stroke="#4328b0" stroke-width="18"/><path fill="#fff" d="M1100,740 L1130,990 M1160,740 L1200,990" stroke="#6a48c8" stroke-width="5"/><path fill="#fff" d="M780,1026 L982,1142" stroke="#efe5ee" stroke-width="18"/><path fill="#fff" d="M1400,1080 L1500,1120 L1470,1170 Z"/><path fill="#fff" d="M1207,1181 L1226,1742" stroke="#c070c8" stroke-width="30" opacity="0.5"/><rect fill="#fff" x="62" y="48" width="1418" height="30"/><rect fill="#fff" x="62" y="48" width="70" height="47"/></g></mask></defs>
<g clip-path="url(#cH5)"><g transform="translate(1247.4 1427.8) scale(0.13760 0.16630)"><rect x="-300" y="-300" width="2300" height="2600" fill="#e0cde0"/><rect x="62" y="280" width="90" height="1600" fill="url(#fidp)" opacity="0.8"/><rect x="62" y="1790" width="1500" height="145" fill="url(#fidp)" opacity="0.8"/><rect x="1470" y="250" width="92" height="1600" fill="url(#fidp)" opacity="0.8"/><path d="M123.0,529.0 C142.3,464.5 167.8,359.5 200.0,316.0 C232.2,272.5 299.3,287.3 316.0,268.0 C332.7,248.7 304.3,233.0 300.0,200.0 C295.7,167.0 100.0,94.2 290.0,70.0 C480.0,45.8 1244.2,16.7 1440.0,55.0 C1635.8,93.3 1460.0,209.2 1465.0,300.0 C1470.0,390.8 1467.5,516.7 1470.0,600.0 C1472.5,683.3 1475.0,733.3 1480.0,800.0 C1485.0,866.7 1493.3,933.3 1500.0,1000.0 C1506.7,1066.7 1514.0,1108.5 1520.0,1200.0 C1526.0,1291.5 1535.0,1442.7 1536.0,1549.0 C1537.0,1655.3 1559.8,1786.5 1526.0,1838.0 C1492.2,1889.5 1378.2,1861.2 1333.0,1858.0 C1287.8,1854.8 1271.2,1838.3 1255.0,1819.0 C1238.8,1799.7 1242.5,1742.0 1236.0,1742.0 C1229.5,1742.0 1232.2,1794.8 1216.0,1819.0 C1199.8,1843.2 1192.2,1874.0 1139.0,1887.0 C1085.8,1900.0 969.5,1905.2 897.0,1897.0 C824.5,1888.8 749.2,1863.8 704.0,1838.0 C658.8,1812.2 642.2,1764.3 626.0,1742.0 C609.8,1719.7 626.3,1704.0 607.0,1704.0 C587.7,1704.0 542.3,1742.0 510.0,1742.0 C477.7,1742.0 448.5,1726.7 413.0,1704.0 C377.5,1681.3 332.5,1644.8 297.0,1606.0 C261.5,1567.2 225.8,1521.0 200.0,1471.0 C174.2,1421.0 153.3,1357.5 142.0,1306.0 C130.7,1254.5 135.2,1218.3 132.0,1162.0 C128.8,1105.7 131.0,1044.5 123.0,968.0 C115.0,891.5 84.0,776.2 84.0,703.0 C84.0,629.8 103.7,593.5 123.0,529.0 Z" fill="#b262c0"/><rect x="600" y="290" width="860" height="120" fill="url(#fidp)" opacity="0.45"/><rect x="180" y="290" width="400" height="120" fill="url(#fidp)" opacity="0.45"/><rect x="640" y="1780" width="880" height="100" fill="url(#fidp)" opacity="0.45"/><path d="M570.0,260.0 C560.0,210.0 601.7,198.3 640.0,180.0 C678.3,161.7 740.0,155.0 800.0,150.0 C860.0,145.0 916.7,151.7 1000.0,150.0 C1083.3,148.3 1223.3,140.0 1300.0,140.0 C1376.7,140.0 1431.7,98.3 1460.0,150.0 C1488.3,201.7 1466.7,351.7 1470.0,450.0 C1473.3,548.3 1503.3,688.3 1480.0,740.0 C1456.7,791.7 1376.7,763.3 1330.0,760.0 C1283.3,756.7 1238.3,730.0 1200.0,720.0 C1161.7,710.0 1140.0,698.3 1100.0,700.0 C1060.0,701.7 1000.0,723.3 960.0,730.0 C920.0,736.7 890.0,755.0 860.0,740.0 C830.0,725.0 806.7,683.3 780.0,640.0 C753.3,596.7 735.0,543.3 700.0,480.0 C665.0,416.7 580.0,310.0 570.0,260.0 Z" fill="#a65ab8"/><ellipse cx="1400" cy="620" rx="90" ry="120" fill="#8e4e98" opacity="0.6"/><path d="M131.0,1055.0 C166.5,1045.2 272.2,1083.7 345.0,1103.0 C417.8,1122.3 508.2,1142.0 568.0,1171.0 C627.8,1200.0 665.3,1235.2 704.0,1277.0 C742.7,1318.8 790.3,1383.2 800.0,1422.0 C809.7,1460.8 786.2,1472.8 762.0,1510.0 C737.8,1547.2 680.8,1612.7 655.0,1645.0 C629.2,1677.3 631.2,1687.8 607.0,1704.0 C582.8,1720.2 542.3,1742.0 510.0,1742.0 C477.7,1742.0 448.5,1726.7 413.0,1704.0 C377.5,1681.3 332.5,1644.8 297.0,1606.0 C261.5,1567.2 225.8,1521.0 200.0,1471.0 C174.2,1421.0 153.3,1357.5 142.0,1306.0 C130.7,1254.5 133.8,1203.8 132.0,1162.0 C130.2,1120.2 95.5,1064.8 131.0,1055.0 Z" fill="#6a3cb2"/><path d="M228,1471 C300,1430 380,1405 451,1393" fill="none" stroke="#d04070" stroke-width="28" opacity="0.6"/><path d="M300,85 L560,75 L720,80 L700,150 L640,160 L600,230 L540,240 L510,170 L470,250 L400,250 L370,190 L330,170 Z" fill="#2e1a98"/><path d="M440,120 L480,240 M560,100 L520,230" stroke="#c98bd8" stroke-width="14"/><path d="M781,100 C850,60 1100,55 1294,70 C1290,120 1200,150 1000,152 C880,150 800,140 781,100 Z" fill="#2e1a98"/><path d="M1320,170 L1400,70 L1440,60 L1430,160 Z" fill="#f0e6f0" opacity="0.8"/><path d="M452,471 C360,560 320,700 365,820 C400,900 520,960 607,984 C700,1030 800,1084 900,1140 C960,1180 1000,1250 1042,1355 C1080,1260 1130,1180 1187,1162 C1280,1150 1381,1162 1497,1258" fill="none" stroke="#84498e" stroke-width="48" opacity="0.9"/><path d="M432.0,442.0 L548.0,505.0 L470.0,515.0 Z" fill="#7a3a70"/><path d="M700,670 C640,690 630,760 680,810 C740,860 840,920 925,925 C925,870 860,790 790,730 C760,700 730,680 700,670" fill="none" stroke="#4328b0" stroke-width="22"/><path d="M720,700 C780,720 830,760 850,800 C800,810 750,780 720,700 Z" fill="#4328b0"/><path d="M430,620 C380,800 600,950 900,1030 C1100,1080 1300,1090 1450,950" fill="none" stroke="#6a48c8" stroke-width="7"/><path d="M1340,800 C1310,850 1300,900 1330,940 L1460,880" fill="none" stroke="#4328b0" stroke-width="18"/><path d="M1100,740 L1130,990 M1160,740 L1200,990" fill="none" stroke="#6a48c8" stroke-width="5"/><path d="M780,1026 L982,1142" fill="none" stroke="#efe5ee" stroke-width="18"/><path d="M1400,1080 L1500,1120 L1470,1170 Z" fill="#efe5ee"/><path d="M1207,1181 L1226,1742" fill="none" stroke="#c070c8" stroke-width="30" opacity="0.5"/><rect x="62" y="48" width="1418" height="30" fill="#111"/><rect x="62" y="48" width="70" height="47" fill="#111"/></g>
<g clip-path="url(#cH5s)"><rect x="1249.6" y="1492.1" width="216.8" height="206.6" fill="#3a1028" opacity="0.36" mask="url(#cH5m)"/><rect x="1249.6" y="1492.1" width="216.8" height="206.6" fill="url(#spA)" mask="url(#cH5m)"/></g></g>
<rect x="1249.6" y="1492.1" width="216.8" height="206.6" fill="none" stroke="#9a9a9a" stroke-width="0.8" />
<defs><clipPath id="cH6"><rect x="1493.2" y="1492.8" width="217.1" height="206.6"/></clipPath><clipPath id="cH6s"><rect x="1502.8" y="1503.7" width="197.60000000000014" height="184.89999999999986"/></clipPath><mask id="cH6m"><rect x="1493.2" y="1492.8" width="217.1" height="206.6" fill="#000"/><g transform="translate(1491.0 1427.8) scale(0.13760 0.16630)"><path fill="#fff" d="M123.0,529.0 C142.3,464.5 167.8,359.5 200.0,316.0 C232.2,272.5 299.3,287.3 316.0,268.0 C332.7,248.7 304.3,233.0 300.0,200.0 C295.7,167.0 100.0,94.2 290.0,70.0 C480.0,45.8 1244.2,16.7 1440.0,55.0 C1635.8,93.3 1460.0,209.2 1465.0,300.0 C1470.0,390.8 1467.5,516.7 1470.0,600.0 C1472.5,683.3 1475.0,733.3 1480.0,800.0 C1485.0,866.7 1493.3,933.3 1500.0,1000.0 C1506.7,1066.7 1514.0,1108.5 1520.0,1200.0 C1526.0,1291.5 1535.0,1442.7 1536.0,1549.0 C1537.0,1655.3 1559.8,1786.5 1526.0,1838.0 C1492.2,1889.5 1378.2,1861.2 1333.0,1858.0 C1287.8,1854.8 1271.2,1838.3 1255.0,1819.0 C1238.8,1799.7 1242.5,1742.0 1236.0,1742.0 C1229.5,1742.0 1232.2,1794.8 1216.0,1819.0 C1199.8,1843.2 1192.2,1874.0 1139.0,1887.0 C1085.8,1900.0 969.5,1905.2 897.0,1897.0 C824.5,1888.8 749.2,1863.8 704.0,1838.0 C658.8,1812.2 642.2,1764.3 626.0,1742.0 C609.8,1719.7 626.3,1704.0 607.0,1704.0 C587.7,1704.0 542.3,1742.0 510.0,1742.0 C477.7,1742.0 448.5,1726.7 413.0,1704.0 C377.5,1681.3 332.5,1644.8 297.0,1606.0 C261.5,1567.2 225.8,1521.0 200.0,1471.0 C174.2,1421.0 153.3,1357.5 142.0,1306.0 C130.7,1254.5 135.2,1218.3 132.0,1162.0 C128.8,1105.7 131.0,1044.5 123.0,968.0 C115.0,891.5 84.0,776.2 84.0,703.0 C84.0,629.8 103.7,593.5 123.0,529.0 Z"/><rect fill="#fff" x="600" y="290" width="860" height="120" opacity="0.45"/><rect fill="#fff" x="180" y="290" width="400" height="120" opacity="0.45"/><rect fill="#fff" x="640" y="1780" width="880" height="100" opacity="0.45"/><path fill="#fff" d="M570.0,260.0 C560.0,210.0 601.7,198.3 640.0,180.0 C678.3,161.7 740.0,155.0 800.0,150.0 C860.0,145.0 916.7,151.7 1000.0,150.0 C1083.3,148.3 1223.3,140.0 1300.0,140.0 C1376.7,140.0 1431.7,98.3 1460.0,150.0 C1488.3,201.7 1466.7,351.7 1470.0,450.0 C1473.3,548.3 1503.3,688.3 1480.0,740.0 C1456.7,791.7 1376.7,763.3 1330.0,760.0 C1283.3,756.7 1238.3,730.0 1200.0,720.0 C1161.7,710.0 1140.0,698.3 1100.0,700.0 C1060.0,701.7 1000.0,723.3 960.0,730.0 C920.0,736.7 890.0,755.0 860.0,740.0 C830.0,725.0 806.7,683.3 780.0,640.0 C753.3,596.7 735.0,543.3 700.0,480.0 C665.0,416.7 580.0,310.0 570.0,260.0 Z"/><ellipse fill="#fff" cx="1400" cy="620" rx="90" ry="120" opacity="0.6"/><path fill="#fff" d="M131.0,1055.0 C166.5,1045.2 272.2,1083.7 345.0,1103.0 C417.8,1122.3 508.2,1142.0 568.0,1171.0 C627.8,1200.0 665.3,1235.2 704.0,1277.0 C742.7,1318.8 790.3,1383.2 800.0,1422.0 C809.7,1460.8 786.2,1472.8 762.0,1510.0 C737.8,1547.2 680.8,1612.7 655.0,1645.0 C629.2,1677.3 631.2,1687.8 607.0,1704.0 C582.8,1720.2 542.3,1742.0 510.0,1742.0 C477.7,1742.0 448.5,1726.7 413.0,1704.0 C377.5,1681.3 332.5,1644.8 297.0,1606.0 C261.5,1567.2 225.8,1521.0 200.0,1471.0 C174.2,1421.0 153.3,1357.5 142.0,1306.0 C130.7,1254.5 133.8,1203.8 132.0,1162.0 C130.2,1120.2 95.5,1064.8 131.0,1055.0 Z"/><path fill="#fff" d="M228,1471 C300,1430 380,1405 451,1393" stroke="#d04070" stroke-width="28" opacity="0.6"/><path fill="#fff" d="M300,85 L560,75 L720,80 L700,150 L640,160 L600,230 L540,240 L510,170 L470,250 L400,250 L370,190 L330,170 Z"/><path fill="#fff" d="M440,120 L480,240 M560,100 L520,230" stroke="#c98bd8" stroke-width="14"/><path fill="#fff" d="M781,100 C850,60 1100,55 1294,70 C1290,120 1200,150 1000,152 C880,150 800,140 781,100 Z"/><path fill="#fff" d="M1320,170 L1400,70 L1440,60 L1430,160 Z" opacity="0.8"/><path fill="#fff" d="M452,471 C360,560 320,700 365,820 C400,900 520,960 607,984 C700,1030 800,1084 900,1140 C960,1180 1000,1250 1042,1355 C1080,1260 1130,1180 1187,1162 C1280,1150 1381,1162 1497,1258" stroke="#84498e" stroke-width="48" opacity="0.9"/><path fill="#fff" d="M432.0,442.0 L548.0,505.0 L470.0,515.0 Z"/><path fill="#fff" d="M700,670 C640,690 630,760 680,810 C740,860 840,920 925,925 C925,870 860,790 790,730 C760,700 730,680 700,670" stroke="#4328b0" stroke-width="22"/><path fill="#fff" d="M720,700 C780,720 830,760 850,800 C800,810 750,780 720,700 Z"/><path fill="#fff" d="M430,620 C380,800 600,950 900,1030 C1100,1080 1300,1090 1450,950" stroke="#6a48c8" stroke-width="7"/><path fill="#fff" d="M1340,800 C1310,850 1300,900 1330,940 L1460,880" stroke="#4328b0" stroke-width="18"/><path fill="#fff" d="M1100,740 L1130,990 M1160,740 L1200,990" stroke="#6a48c8" stroke-width="5"/><path fill="#fff" d="M780,1026 L982,1142" stroke="#efe5ee" stroke-width="18"/><path fill="#fff" d="M1400,1080 L1500,1120 L1470,1170 Z"/><path fill="#fff" d="M1207,1181 L1226,1742" stroke="#c070c8" stroke-width="30" opacity="0.5"/><rect fill="#fff" x="62" y="48" width="1418" height="30"/><rect fill="#fff" x="62" y="48" width="70" height="47"/></g></mask></defs>
<g clip-path="url(#cH6)"><g transform="translate(1491.0 1427.8) scale(0.13760 0.16630)"><rect x="-300" y="-300" width="2300" height="2600" fill="#e0cde0"/><rect x="62" y="280" width="90" height="1600" fill="url(#fidp)" opacity="0.8"/><rect x="62" y="1790" width="1500" height="145" fill="url(#fidp)" opacity="0.8"/><rect x="1470" y="250" width="92" height="1600" fill="url(#fidp)" opacity="0.8"/><path d="M123.0,529.0 C142.3,464.5 167.8,359.5 200.0,316.0 C232.2,272.5 299.3,287.3 316.0,268.0 C332.7,248.7 304.3,233.0 300.0,200.0 C295.7,167.0 100.0,94.2 290.0,70.0 C480.0,45.8 1244.2,16.7 1440.0,55.0 C1635.8,93.3 1460.0,209.2 1465.0,300.0 C1470.0,390.8 1467.5,516.7 1470.0,600.0 C1472.5,683.3 1475.0,733.3 1480.0,800.0 C1485.0,866.7 1493.3,933.3 1500.0,1000.0 C1506.7,1066.7 1514.0,1108.5 1520.0,1200.0 C1526.0,1291.5 1535.0,1442.7 1536.0,1549.0 C1537.0,1655.3 1559.8,1786.5 1526.0,1838.0 C1492.2,1889.5 1378.2,1861.2 1333.0,1858.0 C1287.8,1854.8 1271.2,1838.3 1255.0,1819.0 C1238.8,1799.7 1242.5,1742.0 1236.0,1742.0 C1229.5,1742.0 1232.2,1794.8 1216.0,1819.0 C1199.8,1843.2 1192.2,1874.0 1139.0,1887.0 C1085.8,1900.0 969.5,1905.2 897.0,1897.0 C824.5,1888.8 749.2,1863.8 704.0,1838.0 C658.8,1812.2 642.2,1764.3 626.0,1742.0 C609.8,1719.7 626.3,1704.0 607.0,1704.0 C587.7,1704.0 542.3,1742.0 510.0,1742.0 C477.7,1742.0 448.5,1726.7 413.0,1704.0 C377.5,1681.3 332.5,1644.8 297.0,1606.0 C261.5,1567.2 225.8,1521.0 200.0,1471.0 C174.2,1421.0 153.3,1357.5 142.0,1306.0 C130.7,1254.5 135.2,1218.3 132.0,1162.0 C128.8,1105.7 131.0,1044.5 123.0,968.0 C115.0,891.5 84.0,776.2 84.0,703.0 C84.0,629.8 103.7,593.5 123.0,529.0 Z" fill="#b262c0"/><rect x="600" y="290" width="860" height="120" fill="url(#fidp)" opacity="0.45"/><rect x="180" y="290" width="400" height="120" fill="url(#fidp)" opacity="0.45"/><rect x="640" y="1780" width="880" height="100" fill="url(#fidp)" opacity="0.45"/><path d="M570.0,260.0 C560.0,210.0 601.7,198.3 640.0,180.0 C678.3,161.7 740.0,155.0 800.0,150.0 C860.0,145.0 916.7,151.7 1000.0,150.0 C1083.3,148.3 1223.3,140.0 1300.0,140.0 C1376.7,140.0 1431.7,98.3 1460.0,150.0 C1488.3,201.7 1466.7,351.7 1470.0,450.0 C1473.3,548.3 1503.3,688.3 1480.0,740.0 C1456.7,791.7 1376.7,763.3 1330.0,760.0 C1283.3,756.7 1238.3,730.0 1200.0,720.0 C1161.7,710.0 1140.0,698.3 1100.0,700.0 C1060.0,701.7 1000.0,723.3 960.0,730.0 C920.0,736.7 890.0,755.0 860.0,740.0 C830.0,725.0 806.7,683.3 780.0,640.0 C753.3,596.7 735.0,543.3 700.0,480.0 C665.0,416.7 580.0,310.0 570.0,260.0 Z" fill="#a65ab8"/><ellipse cx="1400" cy="620" rx="90" ry="120" fill="#8e4e98" opacity="0.6"/><path d="M131.0,1055.0 C166.5,1045.2 272.2,1083.7 345.0,1103.0 C417.8,1122.3 508.2,1142.0 568.0,1171.0 C627.8,1200.0 665.3,1235.2 704.0,1277.0 C742.7,1318.8 790.3,1383.2 800.0,1422.0 C809.7,1460.8 786.2,1472.8 762.0,1510.0 C737.8,1547.2 680.8,1612.7 655.0,1645.0 C629.2,1677.3 631.2,1687.8 607.0,1704.0 C582.8,1720.2 542.3,1742.0 510.0,1742.0 C477.7,1742.0 448.5,1726.7 413.0,1704.0 C377.5,1681.3 332.5,1644.8 297.0,1606.0 C261.5,1567.2 225.8,1521.0 200.0,1471.0 C174.2,1421.0 153.3,1357.5 142.0,1306.0 C130.7,1254.5 133.8,1203.8 132.0,1162.0 C130.2,1120.2 95.5,1064.8 131.0,1055.0 Z" fill="#6a3cb2"/><path d="M228,1471 C300,1430 380,1405 451,1393" fill="none" stroke="#d04070" stroke-width="28" opacity="0.6"/><path d="M300,85 L560,75 L720,80 L700,150 L640,160 L600,230 L540,240 L510,170 L470,250 L400,250 L370,190 L330,170 Z" fill="#2e1a98"/><path d="M440,120 L480,240 M560,100 L520,230" stroke="#c98bd8" stroke-width="14"/><path d="M781,100 C850,60 1100,55 1294,70 C1290,120 1200,150 1000,152 C880,150 800,140 781,100 Z" fill="#2e1a98"/><path d="M1320,170 L1400,70 L1440,60 L1430,160 Z" fill="#f0e6f0" opacity="0.8"/><path d="M452,471 C360,560 320,700 365,820 C400,900 520,960 607,984 C700,1030 800,1084 900,1140 C960,1180 1000,1250 1042,1355 C1080,1260 1130,1180 1187,1162 C1280,1150 1381,1162 1497,1258" fill="none" stroke="#84498e" stroke-width="48" opacity="0.9"/><path d="M432.0,442.0 L548.0,505.0 L470.0,515.0 Z" fill="#7a3a70"/><path d="M700,670 C640,690 630,760 680,810 C740,860 840,920 925,925 C925,870 860,790 790,730 C760,700 730,680 700,670" fill="none" stroke="#4328b0" stroke-width="22"/><path d="M720,700 C780,720 830,760 850,800 C800,810 750,780 720,700 Z" fill="#4328b0"/><path d="M430,620 C380,800 600,950 900,1030 C1100,1080 1300,1090 1450,950" fill="none" stroke="#6a48c8" stroke-width="7"/><path d="M1340,800 C1310,850 1300,900 1330,940 L1460,880" fill="none" stroke="#4328b0" stroke-width="18"/><path d="M1100,740 L1130,990 M1160,740 L1200,990" fill="none" stroke="#6a48c8" stroke-width="5"/><path d="M780,1026 L982,1142" fill="none" stroke="#efe5ee" stroke-width="18"/><path d="M1400,1080 L1500,1120 L1470,1170 Z" fill="#efe5ee"/><path d="M1207,1181 L1226,1742" fill="none" stroke="#c070c8" stroke-width="30" opacity="0.5"/><rect x="62" y="48" width="1418" height="30" fill="#111"/><rect x="62" y="48" width="70" height="47" fill="#111"/></g>
<g clip-path="url(#cH6s)"><rect x="1493.2" y="1492.8" width="217.1" height="206.6" fill="#3a1028" opacity="0.36" mask="url(#cH6m)"/><rect x="1493.2" y="1492.8" width="217.1" height="206.6" fill="url(#spB)" mask="url(#cH6m)"/></g></g>
<rect x="1493.2" y="1492.8" width="217.1" height="206.6" fill="none" stroke="#9a9a9a" stroke-width="0.8" />
<text x="608.5" y="1380.7" font-size="29.5" fill="#000" text-anchor="middle" font-weight="bold" textLength="257.0" lengthAdjust="spacingAndGlyphs" >DMSO (PT_DMSO)</text>
<text x="1465.1" y="1360.2" font-size="29.5" fill="#000" text-anchor="middle" font-weight="bold" textLength="215.4" lengthAdjust="spacingAndGlyphs" >TMZ (PT_TMZ)</text>
<defs><linearGradient id="gInf" x1="0" y1="0" x2="1" y2="0"><stop offset="0.000" stop-color="#fbfbc8"/><stop offset="0.125" stop-color="#f8e49a"/><stop offset="0.250" stop-color="#f3b870"/><stop offset="0.375" stop-color="#e88a5e"/><stop offset="0.500" stop-color="#cf5a58"/><stop offset="0.625" stop-color="#a03a50"/><stop offset="0.750" stop-color="#6a2a3a"/><stop offset="0.875" stop-color="#3a1c20"/><stop offset="1.000" stop-color="#1a120c"/></linearGradient></defs>
<text x="384.1" y="1436.8" font-size="27" fill="#000" text-anchor="middle" textLength="62.1" lengthAdjust="spacingAndGlyphs" >Lmna</text>
<text x="431.0" y="1441.7" font-size="13" fill="#000" text-anchor="middle" font-weight="bold" textLength="36.0" lengthAdjust="spacingAndGlyphs" transform="rotate(-90 431.0 1441.7)" >Expr.</text>
<rect x="442.3" y="1435.4" width="132.1" height="25.0" fill="url(#gInf)" />
<line x1="472.8" y1="1435.4" x2="472.8" y2="1439.4" stroke="#fff" stroke-width="0.9" />
<line x1="472.8" y1="1456.4" x2="472.8" y2="1460.4" stroke="#fff" stroke-width="0.9" />
<text x="477.0" y="1417.0" font-size="12" fill="#111" text-anchor="middle" transform="rotate(-90 477.0 1417.0)" >1.5</text>
<line x1="506.7" y1="1435.4" x2="506.7" y2="1439.4" stroke="#fff" stroke-width="0.9" />
<line x1="506.7" y1="1456.4" x2="506.7" y2="1460.4" stroke="#fff" stroke-width="0.9" />
<text x="510.9" y="1417.0" font-size="12" fill="#111" text-anchor="middle" transform="rotate(-90 510.9 1417.0)" >1.0</text>
<line x1="541.0" y1="1435.4" x2="541.0" y2="1439.4" stroke="#fff" stroke-width="0.9" />
<line x1="541.0" y1="1456.4" x2="541.0" y2="1460.4" stroke="#fff" stroke-width="0.9" />
<text x="545.2" y="1417.0" font-size="12" fill="#111" text-anchor="middle" transform="rotate(-90 545.2 1417.0)" >0.5</text>
<line x1="574.4" y1="1435.4" x2="574.4" y2="1439.4" stroke="#fff" stroke-width="0.9" />
<line x1="574.4" y1="1456.4" x2="574.4" y2="1460.4" stroke="#fff" stroke-width="0.9" />
<text x="578.6" y="1417.0" font-size="12" fill="#111" text-anchor="middle" transform="rotate(-90 578.6 1417.0)" >0.0</text>
<text x="626.5" y="1436.8" font-size="27" fill="#000" text-anchor="middle" textLength="67.7" lengthAdjust="spacingAndGlyphs" >Prkdc</text>
<text x="677.4" y="1441.7" font-size="13" fill="#000" text-anchor="middle" font-weight="bold" textLength="36.0" lengthAdjust="spacingAndGlyphs" transform="rotate(-90 677.4 1441.7)" >Expr.</text>
<rect x="690.3" y="1435.4" width="132.1" height="25.0" fill="url(#gInf)" />
<line x1="720.3" y1="1435.4" x2="720.3" y2="1439.4" stroke="#fff" stroke-width="0.9" />
<line x1="720.3" y1="1456.4" x2="720.3" y2="1460.4" stroke="#fff" stroke-width="0.9" />
<text x="724.5" y="1417.0" font-size="12" fill="#111" text-anchor="middle" transform="rotate(-90 724.5 1417.0)" >1.5</text>
<line x1="753.6" y1="1435.4" x2="753.6" y2="1439.4" stroke="#fff" stroke-width="0.9" />
<line x1="753.6" y1="1456.4" x2="753.6" y2="1460.4" stroke="#fff" stroke-width="0.9" />
<text x="757.8" y="1417.0" font-size="12" fill="#111" text-anchor="middle" transform="rotate(-90 757.8 1417.0)" >1.0</text>
<line x1="788.0" y1="1435.4" x2="788.0" y2="1439.4" stroke="#fff" stroke-width="0.9" />
<line x1="788.0" y1="1456.4" x2="788.0" y2="1460.4" stroke="#fff" stroke-width="0.9" />
<text x="792.2" y="1417.0" font-size="12" fill="#111" text-anchor="middle" transform="rotate(-90 792.2 1417.0)" >0.5</text>
<line x1="822.4" y1="1435.4" x2="822.4" y2="1439.4" stroke="#fff" stroke-width="0.9" />
<line x1="822.4" y1="1456.4" x2="822.4" y2="1460.4" stroke="#fff" stroke-width="0.9" />
<text x="826.6" y="1417.0" font-size="12" fill="#111" text-anchor="middle" transform="rotate(-90 826.6 1417.0)" >0.0</text>
<text x="1243.7" y="1422.4" font-size="27" fill="#000" text-anchor="middle" textLength="69.3" lengthAdjust="spacingAndGlyphs" >Lmna</text>
<text x="1292.9" y="1420.3" font-size="13" fill="#000" text-anchor="middle" font-weight="bold" textLength="36.0" lengthAdjust="spacingAndGlyphs" transform="rotate(-90 1292.9 1420.3)" >Expr.</text>
<rect x="1304.4" y="1413.7" width="131.0" height="25.6" fill="url(#gInf)" />
<line x1="1334.4" y1="1413.7" x2="1334.4" y2="1417.7" stroke="#fff" stroke-width="0.9" />
<line x1="1334.4" y1="1435.3" x2="1334.4" y2="1439.3" stroke="#fff" stroke-width="0.9" />
<text x="1338.6" y="1395.7" font-size="12" fill="#111" text-anchor="middle" transform="rotate(-90 1338.6 1395.7)" >1.5</text>
<line x1="1368.3" y1="1413.7" x2="1368.3" y2="1417.7" stroke="#fff" stroke-width="0.9" />
<line x1="1368.3" y1="1435.3" x2="1368.3" y2="1439.3" stroke="#fff" stroke-width="0.9" />
<text x="1372.5" y="1395.7" font-size="12" fill="#111" text-anchor="middle" transform="rotate(-90 1372.5 1395.7)" >1.0</text>
<line x1="1402.1" y1="1413.7" x2="1402.1" y2="1417.7" stroke="#fff" stroke-width="0.9" />
<line x1="1402.1" y1="1435.3" x2="1402.1" y2="1439.3" stroke="#fff" stroke-width="0.9" />
<text x="1406.3" y="1395.7" font-size="12" fill="#111" text-anchor="middle" transform="rotate(-90 1406.3 1395.7)" >0.5</text>
<line x1="1435.4" y1="1413.7" x2="1435.4" y2="1417.7" stroke="#fff" stroke-width="0.9" />
<line x1="1435.4" y1="1435.3" x2="1435.4" y2="1439.3" stroke="#fff" stroke-width="0.9" />
<text x="1439.6" y="1395.7" font-size="12" fill="#111" text-anchor="middle" transform="rotate(-90 1439.6 1395.7)" >0.0</text>
<text x="1483.7" y="1422.4" font-size="27" fill="#000" text-anchor="middle" textLength="72.6" lengthAdjust="spacingAndGlyphs" >Prkdc</text>
<text x="1540.0" y="1420.3" font-size="13" fill="#000" text-anchor="middle" font-weight="bold" textLength="36.0" lengthAdjust="spacingAndGlyphs" transform="rotate(-90 1540.0 1420.3)" >Expr.</text>
<rect x="1551.0" y="1413.7" width="132.0" height="25.6" fill="url(#gInf)" />
<line x1="1582.1" y1="1413.7" x2="1582.1" y2="1417.7" stroke="#fff" stroke-width="0.9" />
<line x1="1582.1" y1="1435.3" x2="1582.1" y2="1439.3" stroke="#fff" stroke-width="0.9" />
<text x="1586.3" y="1395.7" font-size="12" fill="#111" text-anchor="middle" transform="rotate(-90 1586.3 1395.7)" >1.5</text>
<line x1="1616.5" y1="1413.7" x2="1616.5" y2="1417.7" stroke="#fff" stroke-width="0.9" />
<line x1="1616.5" y1="1435.3" x2="1616.5" y2="1439.3" stroke="#fff" stroke-width="0.9" />
<text x="1620.7" y="1395.7" font-size="12" fill="#111" text-anchor="middle" transform="rotate(-90 1620.7 1395.7)" >1.0</text>
<line x1="1649.2" y1="1413.7" x2="1649.2" y2="1417.7" stroke="#fff" stroke-width="0.9" />
<line x1="1649.2" y1="1435.3" x2="1649.2" y2="1439.3" stroke="#fff" stroke-width="0.9" />
<text x="1653.4" y="1395.7" font-size="12" fill="#111" text-anchor="middle" transform="rotate(-90 1653.4 1395.7)" >0.5</text>
<line x1="1683.0" y1="1413.7" x2="1683.0" y2="1417.7" stroke="#fff" stroke-width="0.9" />
<line x1="1683.0" y1="1435.3" x2="1683.0" y2="1439.3" stroke="#fff" stroke-width="0.9" />
<text x="1687.2" y="1395.7" font-size="12" fill="#111" text-anchor="middle" transform="rotate(-90 1687.2 1395.7)" >0.0</text>
<text transform="translate(14.66 1829.57) scale(0.9813 1)" font-size="42.54" fill="#000" stroke="#000" stroke-width="0.96">I</text>
<text x="356.5" y="1798.2" font-size="30" fill="#000" text-anchor="middle" font-weight="bold" textLength="297.0" lengthAdjust="spacingAndGlyphs" >LMNA and PRKDC</text>
<text x="352.0" y="1837.6" font-size="30" fill="#000" text-anchor="middle" font-weight="bold" textLength="239.4" lengthAdjust="spacingAndGlyphs" >Co-localization</text>
<line x1="187.0" y1="1851.1" x2="187.0" y2="2395.6" stroke="#000" stroke-width="3.6" />
<line x1="174.2" y1="2393.5" x2="515.4" y2="2393.5" stroke="#000" stroke-width="3.4" />
<line x1="174.2" y1="1852.8" x2="188.0" y2="1852.8" stroke="#000" stroke-width="3.4" />
<text x="170.2" y="1866.0" font-size="36.5" fill="#000" text-anchor="end" font-weight="bold" textLength="47.2" lengthAdjust="spacingAndGlyphs" >1.5</text>
<line x1="174.2" y1="1988.1" x2="188.0" y2="1988.1" stroke="#000" stroke-width="3.4" />
<text x="170.2" y="2001.3" font-size="36.5" fill="#000" text-anchor="end" font-weight="bold" textLength="47.2" lengthAdjust="spacingAndGlyphs" >1.0</text>
<line x1="174.2" y1="2123.4" x2="188.0" y2="2123.4" stroke="#000" stroke-width="3.4" />
<text x="170.2" y="2136.6" font-size="36.5" fill="#000" text-anchor="end" font-weight="bold" textLength="47.2" lengthAdjust="spacingAndGlyphs" >0.5</text>
<line x1="174.2" y1="2258.7" x2="188.0" y2="2258.7" stroke="#000" stroke-width="3.4" />
<text x="170.2" y="2271.9" font-size="36.5" fill="#000" text-anchor="end" font-weight="bold" textLength="47.2" lengthAdjust="spacingAndGlyphs" >0.0</text>
<line x1="174.2" y1="2394.0" x2="188.0" y2="2394.0" stroke="#000" stroke-width="3.4" />
<text x="170.2" y="2407.2" font-size="36.5" fill="#000" text-anchor="end" font-weight="bold" textLength="59.6" lengthAdjust="spacingAndGlyphs" >-0.5</text>
<line x1="180.0" y1="1920.4" x2="188.0" y2="1920.4" stroke="#000" stroke-width="3.4" />
<line x1="180.0" y1="2055.8" x2="188.0" y2="2055.8" stroke="#000" stroke-width="3.4" />
<line x1="180.0" y1="2191.0" x2="188.0" y2="2191.0" stroke="#000" stroke-width="3.4" />
<line x1="180.0" y1="2326.3" x2="188.0" y2="2326.3" stroke="#000" stroke-width="3.4" />
<line x1="252.7" y1="2393.5" x2="252.7" y2="2406.0" stroke="#000" stroke-width="3.4" />
<line x1="351.5" y1="2393.5" x2="351.5" y2="2406.0" stroke="#000" stroke-width="3.4" />
<line x1="450.6" y1="2393.5" x2="450.6" y2="2406.0" stroke="#000" stroke-width="3.4" />
<text x="252.7" y="2436.4" font-size="29.6" fill="#000" text-anchor="middle" font-weight="bold" textLength="37.1" lengthAdjust="spacingAndGlyphs" >PT</text>
<text x="247.1" y="2468.1" font-size="29.6" fill="#000" text-anchor="middle" font-weight="bold" textLength="99.4" lengthAdjust="spacingAndGlyphs" >-DMSO</text>
<text x="351.5" y="2436.4" font-size="29.6" fill="#000" text-anchor="middle" font-weight="bold" textLength="62.3" lengthAdjust="spacingAndGlyphs" >MTP</text>
<text x="347.8" y="2468.1" font-size="29.6" fill="#000" text-anchor="middle" font-weight="bold" textLength="75.6" lengthAdjust="spacingAndGlyphs" >-TMZ</text>
<text x="450.6" y="2436.4" font-size="29.6" fill="#000" text-anchor="middle" font-weight="bold" textLength="37.1" lengthAdjust="spacingAndGlyphs" >PT</text>
<text x="445.9" y="2468.1" font-size="29.6" fill="#000" text-anchor="middle" font-weight="bold" textLength="75.6" lengthAdjust="spacingAndGlyphs" >-TMZ</text>
<text x="95.4" y="2114.0" font-size="31" fill="#000" text-anchor="middle" font-weight="bold" textLength="222.0" lengthAdjust="spacingAndGlyphs" transform="rotate(-90 95.4 2114.0)" >% Co-Localized</text>
<line x1="188.0" y1="2258.7" x2="515.4" y2="2258.7" stroke="#000" stroke-width="1.3" stroke-dasharray="1.3,2.6"/>
<path d="M252.7,2159.9 L252.7,1942.7 L351.5,1942.7 L351.5,1958.3" fill="none" stroke="#000" stroke-width="1.6" />
<text x="301.5" y="1946.1" font-size="36" fill="#000" text-anchor="middle" font-weight="bold" >**</text>
<path d="M252.7,2172.9 C253.8,2172.9 254.3,2177.5 256.0,2180.3 C257.7,2183.0 261.4,2186.4 263.0,2189.5 C264.6,2192.6 266.0,2196.0 265.6,2198.7 C265.3,2201.5 262.2,2203.8 260.8,2206.1 C259.4,2208.5 256.3,2210.6 257.1,2212.8 C257.9,2215.0 261.7,2216.8 265.6,2219.1 C269.5,2221.4 277.2,2224.2 280.4,2226.5 C283.7,2228.8 285.2,2231.0 285.2,2233.2 C285.2,2235.3 282.8,2237.2 280.4,2239.4 C278.1,2241.7 274.3,2244.4 271.2,2246.8 C268.1,2249.3 264.5,2251.8 261.9,2254.2 C259.3,2256.7 257.2,2258.3 255.6,2261.6 C254.1,2265.0 253.7,2274.6 252.7,2274.6 C251.7,2274.6 251.3,2265.0 249.7,2261.6 C248.2,2258.3 246.0,2256.7 243.4,2254.2 C240.8,2251.8 237.3,2249.3 234.2,2246.8 C231.1,2244.4 227.3,2241.7 224.9,2239.4 C222.6,2237.2 220.1,2235.3 220.1,2233.2 C220.1,2231.0 221.7,2228.8 224.9,2226.5 C228.2,2224.2 235.8,2221.4 239.7,2219.1 C243.6,2216.8 247.4,2215.0 248.2,2212.8 C249.0,2210.6 246.0,2208.5 244.5,2206.1 C243.1,2203.8 240.1,2201.5 239.7,2198.7 C239.4,2196.0 240.7,2192.6 242.3,2189.5 C243.9,2186.4 247.6,2183.0 249.4,2180.3 C251.1,2177.5 251.6,2172.9 252.7,2172.9 Z" fill="#559ef2" stroke="#000" stroke-width="3.2" stroke-linejoin="round"/>
<line x1="220.9" y1="2232.0" x2="284.4" y2="2232.0" stroke="#000" stroke-width="1.2" stroke-dasharray="4.2,2.8"/>
<line x1="231.9" y1="2245.0" x2="273.5" y2="2245.0" stroke="#000" stroke-width="0.96" stroke-dasharray="1.2,1.9"/>
<path d="M351.5,1971.2 C351.8,1971.2 352.0,1979.5 352.6,1984.2 C353.2,1988.8 353.8,1994.0 355.2,1999.0 C356.5,2003.9 359.4,2008.8 360.7,2013.8 C362.1,2018.7 362.8,2023.9 363.3,2028.6 C363.8,2033.2 363.8,2037.2 363.7,2041.5 C363.5,2045.8 363.5,2049.8 362.6,2054.5 C361.6,2059.1 359.5,2064.3 358.1,2069.3 C356.8,2074.2 354.4,2079.7 354.4,2084.1 C354.4,2088.4 355.8,2090.8 358.1,2095.2 C360.4,2099.5 364.8,2104.4 368.1,2110.0 C371.4,2115.5 375.6,2121.7 378.1,2128.5 C380.6,2135.2 382.5,2143.9 382.9,2150.7 C383.3,2157.4 381.7,2163.6 380.3,2169.2 C378.9,2174.7 376.7,2178.4 374.4,2184.0 C372.1,2189.5 369.2,2196.3 366.3,2202.4 C363.4,2208.6 359.2,2216.0 357.0,2220.9 C354.9,2225.9 354.1,2227.7 353.3,2232.0 C352.5,2236.4 352.5,2241.6 352.2,2246.8 C351.9,2252.1 351.7,2263.5 351.5,2263.5 C351.2,2263.5 351.0,2252.1 350.7,2246.8 C350.4,2241.6 350.4,2236.4 349.6,2232.0 C348.8,2227.7 348.1,2225.9 345.9,2220.9 C343.8,2216.0 339.6,2208.6 336.7,2202.4 C333.8,2196.3 330.9,2189.5 328.5,2184.0 C326.2,2178.4 324.0,2174.7 322.6,2169.2 C321.2,2163.6 319.6,2157.4 320.0,2150.7 C320.4,2143.9 322.4,2135.2 324.8,2128.5 C327.3,2121.7 331.5,2115.5 334.8,2110.0 C338.1,2104.4 342.5,2099.5 344.8,2095.2 C347.1,2090.8 348.5,2088.4 348.5,2084.1 C348.5,2079.7 346.2,2074.2 344.8,2069.3 C343.4,2064.3 341.3,2059.1 340.4,2054.5 C339.4,2049.8 339.4,2045.8 339.3,2041.5 C339.1,2037.2 339.1,2033.2 339.6,2028.6 C340.1,2023.9 340.9,2018.7 342.2,2013.8 C343.6,2008.8 346.4,2003.9 347.8,1999.0 C349.1,1994.0 349.7,1988.8 350.4,1984.2 C351.0,1979.5 351.1,1971.2 351.5,1971.2 Z" fill="#55f51c" stroke="#000" stroke-width="3.2" stroke-linejoin="round"/>
<line x1="320.2" y1="2149.9" x2="382.7" y2="2149.9" stroke="#000" stroke-width="1.2" stroke-dasharray="4.2,2.8"/>
<line x1="333.2" y1="2112.9" x2="369.7" y2="2112.9" stroke="#000" stroke-width="0.96" stroke-dasharray="1.2,1.9"/>
<line x1="329.0" y1="2185.1" x2="373.9" y2="2185.1" stroke="#000" stroke-width="0.96" stroke-dasharray="1.2,1.9"/>
<path d="M450.6,2076.7 C451.2,2076.7 450.6,2089.6 452.5,2095.2 C454.3,2100.7 458.4,2104.4 461.7,2110.0 C465.0,2115.5 469.6,2122.3 472.1,2128.5 C474.5,2134.6 476.3,2140.8 476.5,2147.0 C476.8,2153.1 475.1,2159.6 473.5,2165.5 C472.0,2171.3 467.7,2177.2 467.3,2182.1 C466.8,2187.0 468.5,2189.5 471.0,2195.0 C473.4,2200.6 481.1,2209.2 482.1,2215.4 C483.0,2221.6 479.3,2226.2 476.5,2232.0 C473.7,2237.9 469.0,2245.6 465.4,2250.5 C461.8,2255.5 457.3,2257.9 455.0,2261.6 C452.8,2265.3 452.8,2268.7 452.1,2272.7 C451.4,2276.7 451.1,2285.7 450.6,2285.7 C450.1,2285.7 449.9,2276.7 449.1,2272.7 C448.4,2268.7 448.4,2265.3 446.2,2261.6 C444.0,2257.9 439.4,2255.5 435.8,2250.5 C432.2,2245.6 427.5,2237.9 424.7,2232.0 C421.9,2226.2 418.2,2221.6 419.2,2215.4 C420.1,2209.2 427.8,2200.6 430.3,2195.0 C432.7,2189.5 434.4,2187.0 434.0,2182.1 C433.5,2177.2 429.2,2171.3 427.7,2165.5 C426.1,2159.6 424.5,2153.1 424.7,2147.0 C425.0,2140.8 426.7,2134.6 429.2,2128.5 C431.6,2122.3 436.2,2115.5 439.5,2110.0 C442.8,2104.4 446.9,2100.7 448.8,2095.2 C450.6,2089.6 450.0,2076.7 450.6,2076.7 Z" fill="#f93a18" stroke="#000" stroke-width="3.2" stroke-linejoin="round"/>
<line x1="433.4" y1="2184.0" x2="467.8" y2="2184.0" stroke="#000" stroke-width="1.2" stroke-dasharray="4.2,2.8"/>
<line x1="425.8" y1="2142.5" x2="475.4" y2="2142.5" stroke="#000" stroke-width="0.96" stroke-dasharray="1.2,1.9"/>
<line x1="421.0" y1="2220.9" x2="480.2" y2="2220.9" stroke="#000" stroke-width="0.96" stroke-dasharray="1.2,1.9"/>
<text x="735.4" y="1810.6" font-size="14.5" fill="#000" text-anchor="middle" font-weight="bold" textLength="134.0" lengthAdjust="spacingAndGlyphs" >LMNA expression</text>
<line x1="655.2" y1="1836.6" x2="655.2" y2="2093.3" stroke="#000" stroke-width="1.6" />
<line x1="648.2" y1="2092.6" x2="810.5" y2="2092.6" stroke="#000" stroke-width="1.6" />
<line x1="648.2" y1="1837.3" x2="655.2" y2="1837.3" stroke="#000" stroke-width="1.6" />
<text x="646.6" y="1842.5" font-size="14.5" fill="#000" text-anchor="end" font-weight="bold" textLength="21.0" lengthAdjust="spacingAndGlyphs" >1.5</text>
<line x1="651.2" y1="1869.2" x2="655.2" y2="1869.2" stroke="#000" stroke-width="1.6" />
<line x1="648.2" y1="1901.1" x2="655.2" y2="1901.1" stroke="#000" stroke-width="1.6" />
<text x="646.6" y="1906.3" font-size="14.5" fill="#000" text-anchor="end" font-weight="bold" textLength="21.0" lengthAdjust="spacingAndGlyphs" >1.0</text>
<line x1="651.2" y1="1933.0" x2="655.2" y2="1933.0" stroke="#000" stroke-width="1.6" />
<line x1="648.2" y1="1964.9" x2="655.2" y2="1964.9" stroke="#000" stroke-width="1.6" />
<text x="646.6" y="1970.1" font-size="14.5" fill="#000" text-anchor="end" font-weight="bold" textLength="21.0" lengthAdjust="spacingAndGlyphs" >0.5</text>
<line x1="651.2" y1="1996.9" x2="655.2" y2="1996.9" stroke="#000" stroke-width="1.6" />
<line x1="648.2" y1="2028.8" x2="655.2" y2="2028.8" stroke="#000" stroke-width="1.6" />
<text x="646.6" y="2034.0" font-size="14.5" fill="#000" text-anchor="end" font-weight="bold" textLength="21.0" lengthAdjust="spacingAndGlyphs" >0.0</text>
<line x1="651.2" y1="2060.7" x2="655.2" y2="2060.7" stroke="#000" stroke-width="1.6" />
<line x1="648.2" y1="2092.6" x2="655.2" y2="2092.6" stroke="#000" stroke-width="1.6" />
<text x="646.6" y="2097.8" font-size="14.5" fill="#000" text-anchor="end" font-weight="bold" textLength="26.0" lengthAdjust="spacingAndGlyphs" >-0.5</text>
<line x1="685.6" y1="2092.6" x2="685.6" y2="2098.1" stroke="#000" stroke-width="1.6" />
<line x1="732.6" y1="2092.6" x2="732.6" y2="2098.1" stroke="#000" stroke-width="1.6" />
<line x1="780.0" y1="2092.6" x2="780.0" y2="2098.1" stroke="#000" stroke-width="1.6" />
<text x="685.6" y="2113.1" font-size="13.3" fill="#000" text-anchor="middle" font-weight="bold" textLength="16.8" lengthAdjust="spacingAndGlyphs" >PT</text>
<text x="683.1" y="2128.7" font-size="13.3" fill="#000" text-anchor="middle" font-weight="bold" textLength="46.4" lengthAdjust="spacingAndGlyphs" >-DMSO</text>
<text x="732.6" y="2113.1" font-size="13.3" fill="#000" text-anchor="middle" font-weight="bold" textLength="28.2" lengthAdjust="spacingAndGlyphs" >MTP</text>
<text x="730.9" y="2128.7" font-size="13.3" fill="#000" text-anchor="middle" font-weight="bold" textLength="35.2" lengthAdjust="spacingAndGlyphs" >-TMZ</text>
<text x="780.0" y="2113.1" font-size="13.3" fill="#000" text-anchor="middle" font-weight="bold" textLength="16.8" lengthAdjust="spacingAndGlyphs" >PT</text>
<text x="778.3" y="2128.7" font-size="13.3" fill="#000" text-anchor="middle" font-weight="bold" textLength="35.2" lengthAdjust="spacingAndGlyphs" >-TMZ</text>
<text x="613.4" y="1959.9" font-size="14" fill="#000" text-anchor="middle" font-weight="bold" textLength="91.0" lengthAdjust="spacingAndGlyphs" transform="rotate(-90 613.4 1959.9)" >% expression</text>
<line x1="655.2" y1="2028.8" x2="810.5" y2="2028.8" stroke="#444" stroke-width="1.0" stroke-dasharray="1,1.6"/>
<path d="M686.1,1939.9 L686.1,1851.3 L732.6,1851.3 L732.6,1858.4" fill="none" stroke="#000" stroke-width="1.3" />
<text x="709.5" y="1852.8" font-size="18.5" fill="#000" text-anchor="middle" font-weight="bold" textLength="14.8" lengthAdjust="spacingAndGlyphs" >**</text>
<path d="M686.1,1946.1 C686.4,1946.1 686.3,1950.3 687.0,1952.4 C687.8,1954.5 689.5,1956.3 690.5,1958.7 C691.5,1961.0 692.8,1963.9 693.1,1966.5 C693.5,1969.1 692.3,1972.0 692.7,1974.4 C693.1,1976.7 694.1,1978.5 695.5,1980.6 C696.9,1982.7 700.8,1984.5 701.0,1986.9 C701.2,1989.2 697.8,1991.6 696.7,1994.7 C695.7,1997.9 695.3,2002.3 694.7,2005.7 C694.1,2009.1 693.9,2012.2 693.1,2015.1 C692.4,2018.0 691.0,2020.9 690.0,2022.9 C689.0,2025.0 687.9,2026.3 687.3,2027.6 C686.8,2029.0 686.8,2029.2 686.6,2030.8 C686.3,2032.4 686.2,2037.1 686.1,2037.1 C685.9,2037.1 685.8,2032.4 685.6,2030.8 C685.4,2029.2 685.4,2029.0 684.8,2027.6 C684.3,2026.3 683.1,2025.0 682.2,2022.9 C681.2,2020.9 679.8,2018.0 679.0,2015.1 C678.2,2012.2 678.1,2009.1 677.5,2005.7 C676.9,2002.3 676.5,1997.9 675.4,1994.7 C674.4,1991.6 671.0,1989.2 671.2,1986.9 C671.4,1984.5 675.3,1982.7 676.7,1980.6 C678.1,1978.5 679.1,1976.7 679.5,1974.4 C679.9,1972.0 678.7,1969.1 679.0,1966.5 C679.4,1963.9 680.7,1961.0 681.7,1958.7 C682.7,1956.3 684.4,1954.5 685.1,1952.4 C685.9,1950.3 685.8,1946.1 686.1,1946.1 Z" fill="#559ef2" stroke="#000" stroke-width="1.5" stroke-linejoin="round"/>
<line x1="671.4" y1="1987.2" x2="700.8" y2="1987.2" stroke="#000" stroke-width="0.8" stroke-dasharray="3.0,2.0"/>
<line x1="678.2" y1="1977.2" x2="693.9" y2="1977.2" stroke="#000" stroke-width="0.6400000000000001" stroke-dasharray="0.8,1.3"/>
<line x1="677.5" y1="2006.2" x2="694.6" y2="2006.2" stroke="#000" stroke-width="0.6400000000000001" stroke-dasharray="0.8,1.3"/>
<path d="M732.6,1864.6 C732.9,1864.6 733.0,1871.4 733.4,1874.0 C733.8,1876.7 734.2,1878.0 735.0,1880.3 C735.8,1882.7 737.1,1885.3 738.1,1888.2 C739.2,1891.0 740.5,1894.7 741.3,1897.6 C742.0,1900.4 742.3,1902.0 742.8,1905.4 C743.3,1908.8 744.3,1914.0 744.4,1917.9 C744.5,1921.8 744.1,1925.8 743.6,1928.9 C743.1,1932.0 741.7,1934.1 741.3,1936.7 C740.8,1939.4 740.3,1941.4 740.8,1944.6 C741.3,1947.7 743.4,1951.9 744.4,1955.5 C745.4,1959.2 746.9,1963.4 746.7,1966.5 C746.6,1969.7 744.9,1971.7 743.6,1974.4 C742.3,1977.0 740.3,1979.6 738.9,1982.2 C737.5,1984.8 735.9,1987.7 735.0,1990.0 C734.1,1992.4 733.8,1993.7 733.4,1996.3 C733.0,1998.9 732.9,2005.7 732.6,2005.7 C732.4,2005.7 732.2,1998.9 731.8,1996.3 C731.5,1993.7 731.2,1992.4 730.3,1990.0 C729.4,1987.7 727.8,1984.8 726.4,1982.2 C724.9,1979.6 723.0,1977.0 721.7,1974.4 C720.4,1971.7 718.7,1969.7 718.5,1966.5 C718.4,1963.4 719.9,1959.2 720.9,1955.5 C721.9,1951.9 724.0,1947.7 724.5,1944.6 C725.0,1941.4 724.5,1939.4 724.0,1936.7 C723.5,1934.1 722.2,1932.0 721.7,1928.9 C721.1,1925.8 720.7,1921.8 720.9,1917.9 C721.0,1914.0 721.9,1908.8 722.4,1905.4 C723.0,1902.0 723.2,1900.4 724.0,1897.6 C724.8,1894.7 726.1,1891.0 727.1,1888.2 C728.2,1885.3 729.5,1882.7 730.3,1880.3 C731.1,1878.0 731.5,1876.7 731.8,1874.0 C732.2,1871.4 732.4,1864.6 732.6,1864.6 Z" fill="#55f51c" stroke="#000" stroke-width="1.5" stroke-linejoin="round"/>
<line x1="724.3" y1="1945.0" x2="740.9" y2="1945.0" stroke="#000" stroke-width="0.8" stroke-dasharray="3.0,2.0"/>
<line x1="721.2" y1="1922.3" x2="744.1" y2="1922.3" stroke="#000" stroke-width="0.6400000000000001" stroke-dasharray="0.8,1.3"/>
<line x1="719.5" y1="1968.9" x2="745.8" y2="1968.9" stroke="#000" stroke-width="0.6400000000000001" stroke-dasharray="0.8,1.3"/>
<path d="M779.7,1878.7 C779.9,1878.7 779.9,1886.3 780.3,1889.7 C780.7,1893.1 781.1,1895.7 782.0,1899.1 C782.9,1902.5 784.9,1906.4 785.9,1910.1 C787.0,1913.8 787.8,1917.9 788.3,1921.1 C788.8,1924.2 789.1,1926.0 789.1,1928.9 C789.1,1931.8 788.3,1935.2 788.3,1938.3 C788.3,1941.4 788.4,1944.6 789.1,1947.7 C789.7,1950.8 791.4,1954.0 792.2,1957.1 C793.0,1960.3 794.0,1963.4 793.8,1966.5 C793.5,1969.7 791.8,1973.1 790.6,1975.9 C789.5,1978.8 787.5,1981.1 786.7,1983.8 C785.9,1986.4 785.9,1988.5 785.9,1991.6 C785.9,1994.7 786.7,1999.2 786.7,2002.6 C786.7,2006.0 786.6,2008.8 785.9,2012.0 C785.3,2015.1 783.6,2018.2 782.8,2021.4 C782.0,2024.5 781.4,2027.6 780.9,2030.8 C780.5,2033.9 780.3,2037.1 780.1,2040.2 C779.9,2043.3 779.8,2049.6 779.7,2049.6 C779.5,2049.6 779.4,2043.3 779.2,2040.2 C779.0,2037.1 778.8,2033.9 778.4,2030.8 C778.0,2027.6 777.4,2024.5 776.5,2021.4 C775.7,2018.2 774.0,2015.1 773.4,2012.0 C772.7,2008.8 772.6,2006.0 772.6,2002.6 C772.6,1999.2 773.4,1994.7 773.4,1991.6 C773.4,1988.5 773.4,1986.4 772.6,1983.8 C771.8,1981.1 769.9,1978.8 768.7,1975.9 C767.5,1973.1 765.8,1969.7 765.5,1966.5 C765.3,1963.4 766.3,1960.3 767.1,1957.1 C767.9,1954.0 769.6,1950.8 770.3,1947.7 C770.9,1944.6 771.0,1941.4 771.0,1938.3 C771.0,1935.2 770.3,1931.8 770.3,1928.9 C770.3,1926.0 770.5,1924.2 771.0,1921.1 C771.6,1917.9 772.3,1913.8 773.4,1910.1 C774.4,1906.4 776.4,1902.5 777.3,1899.1 C778.2,1895.7 778.6,1893.1 779.0,1889.7 C779.4,1886.3 779.4,1878.7 779.7,1878.7 Z" fill="#f93a18" stroke="#000" stroke-width="1.5" stroke-linejoin="round"/>
<line x1="765.9" y1="1967.5" x2="793.4" y2="1967.5" stroke="#000" stroke-width="0.8" stroke-dasharray="3.0,2.0"/>
<line x1="770.9" y1="1936.7" x2="788.4" y2="1936.7" stroke="#000" stroke-width="0.6400000000000001" stroke-dasharray="0.8,1.3"/>
<line x1="772.7" y1="2001.3" x2="786.6" y2="2001.3" stroke="#000" stroke-width="0.6400000000000001" stroke-dasharray="0.8,1.3"/>
<text x="743.5" y="2185.9" font-size="16.5" fill="#000" text-anchor="middle" font-weight="bold" textLength="142.8" lengthAdjust="spacingAndGlyphs" >PRKDC expression</text>
<line x1="665.5" y1="2210.3" x2="665.5" y2="2461.8" stroke="#000" stroke-width="1.6" />
<line x1="658.5" y1="2461.1" x2="817.0" y2="2461.1" stroke="#000" stroke-width="1.6" />
<line x1="658.5" y1="2211.0" x2="665.5" y2="2211.0" stroke="#000" stroke-width="1.6" />
<text x="656.0" y="2216.5" font-size="15.5" fill="#000" text-anchor="end" font-weight="bold" textLength="21.0" lengthAdjust="spacingAndGlyphs" >1.0</text>
<line x1="661.5" y1="2252.7" x2="665.5" y2="2252.7" stroke="#000" stroke-width="1.6" />
<line x1="658.5" y1="2294.4" x2="665.5" y2="2294.4" stroke="#000" stroke-width="1.6" />
<text x="656.0" y="2299.9" font-size="15.5" fill="#000" text-anchor="end" font-weight="bold" textLength="21.0" lengthAdjust="spacingAndGlyphs" >0.5</text>
<line x1="661.5" y1="2336.1" x2="665.5" y2="2336.1" stroke="#000" stroke-width="1.6" />
<line x1="658.5" y1="2377.7" x2="665.5" y2="2377.7" stroke="#000" stroke-width="1.6" />
<text x="656.0" y="2383.3" font-size="15.5" fill="#000" text-anchor="end" font-weight="bold" textLength="21.0" lengthAdjust="spacingAndGlyphs" >0.0</text>
<line x1="661.5" y1="2419.4" x2="665.5" y2="2419.4" stroke="#000" stroke-width="1.6" />
<line x1="658.5" y1="2461.1" x2="665.5" y2="2461.1" stroke="#000" stroke-width="1.6" />
<text x="656.0" y="2466.6" font-size="15.5" fill="#000" text-anchor="end" font-weight="bold" textLength="26.0" lengthAdjust="spacingAndGlyphs" >-0.5</text>
<line x1="695.4" y1="2461.1" x2="695.4" y2="2466.6" stroke="#000" stroke-width="1.6" />
<line x1="741.2" y1="2461.1" x2="741.2" y2="2466.6" stroke="#000" stroke-width="1.6" />
<line x1="786.8" y1="2461.1" x2="786.8" y2="2466.6" stroke="#000" stroke-width="1.6" />
<text x="695.4" y="2485.5" font-size="13.4" fill="#000" text-anchor="middle" font-weight="bold" textLength="16.8" lengthAdjust="spacingAndGlyphs" >PT</text>
<text x="692.9" y="2500.0" font-size="13.4" fill="#000" text-anchor="middle" font-weight="bold" textLength="46.4" lengthAdjust="spacingAndGlyphs" >-DMSO</text>
<text x="741.2" y="2485.5" font-size="13.4" fill="#000" text-anchor="middle" font-weight="bold" textLength="28.2" lengthAdjust="spacingAndGlyphs" >MTP</text>
<text x="739.5" y="2500.0" font-size="13.4" fill="#000" text-anchor="middle" font-weight="bold" textLength="35.2" lengthAdjust="spacingAndGlyphs" >-TMZ</text>
<text x="786.8" y="2485.5" font-size="13.4" fill="#000" text-anchor="middle" font-weight="bold" textLength="16.8" lengthAdjust="spacingAndGlyphs" >PT</text>
<text x="785.1" y="2500.0" font-size="13.4" fill="#000" text-anchor="middle" font-weight="bold" textLength="35.2" lengthAdjust="spacingAndGlyphs" >-TMZ</text>
<text x="624.2" y="2332.4" font-size="14" fill="#000" text-anchor="middle" font-weight="bold" textLength="91.0" lengthAdjust="spacingAndGlyphs" transform="rotate(-90 624.2 2332.4)" >% expression</text>
<line x1="665.5" y1="2377.7" x2="817.0" y2="2377.7" stroke="#444" stroke-width="1.0" stroke-dasharray="1,1.6"/>
<path d="M695.4,2232.5 L695.4,2208.1 L741.2,2208.1 L741.2,2215.5" fill="none" stroke="#000" stroke-width="1.3" />
<text x="718.5" y="2203.0" font-size="10.5" fill="#222" text-anchor="middle" >ns</text>
<path d="M695.4,2239.2 C695.5,2239.2 695.4,2245.7 695.8,2248.8 C696.2,2251.9 696.5,2254.7 697.6,2257.7 C698.6,2260.6 700.8,2263.3 702.0,2266.5 C703.2,2269.7 704.4,2273.7 705.0,2276.9 C705.6,2280.1 705.6,2281.8 705.7,2285.8 C705.8,2289.7 705.8,2295.6 705.4,2300.6 C705.0,2305.5 703.9,2311.4 703.5,2315.4 C703.1,2319.3 702.5,2321.3 702.8,2324.2 C703.0,2327.2 703.9,2329.7 705.0,2333.1 C706.1,2336.6 708.9,2341.8 709.4,2345.0 C709.9,2348.2 708.9,2349.9 707.9,2352.4 C706.9,2354.8 705.0,2357.1 703.5,2359.8 C702.0,2362.5 700.3,2365.9 699.1,2368.6 C697.8,2371.4 696.7,2374.2 696.1,2376.0 C695.5,2377.9 695.8,2376.7 695.7,2379.7 C695.5,2382.8 695.5,2394.5 695.4,2394.5 C695.3,2394.5 695.2,2382.8 695.1,2379.7 C694.9,2376.7 695.2,2377.9 694.6,2376.0 C694.0,2374.2 692.9,2371.4 691.7,2368.6 C690.4,2365.9 688.7,2362.5 687.2,2359.8 C685.7,2357.1 683.8,2354.8 682.8,2352.4 C681.8,2349.9 680.8,2348.2 681.3,2345.0 C681.8,2341.8 684.6,2336.6 685.7,2333.1 C686.8,2329.7 687.7,2327.2 688.0,2324.2 C688.2,2321.3 687.7,2319.3 687.2,2315.4 C686.8,2311.4 685.7,2305.5 685.3,2300.6 C684.9,2295.6 684.9,2289.7 685.0,2285.8 C685.1,2281.8 685.1,2280.1 685.7,2276.9 C686.4,2273.7 687.5,2269.7 688.7,2266.5 C689.9,2263.3 692.1,2260.6 693.1,2257.7 C694.2,2254.7 694.5,2251.9 694.9,2248.8 C695.3,2245.7 695.2,2239.2 695.4,2239.2 Z" fill="#559ef2" stroke="#000" stroke-width="1.5" stroke-linejoin="round"/>
<line x1="685.9" y1="2332.4" x2="704.8" y2="2332.4" stroke="#000" stroke-width="0.8" stroke-dasharray="3.0,2.0"/>
<line x1="685.1" y1="2291.3" x2="705.6" y2="2291.3" stroke="#000" stroke-width="0.6400000000000001" stroke-dasharray="0.8,1.3"/>
<line x1="682.2" y1="2349.7" x2="708.5" y2="2349.7" stroke="#000" stroke-width="0.6400000000000001" stroke-dasharray="0.8,1.3"/>
<path d="M741.2,2222.1 C741.4,2222.1 741.3,2227.3 741.7,2229.5 C742.0,2231.8 742.8,2233.0 743.4,2235.5 C744.1,2237.9 745.4,2241.6 745.4,2244.3 C745.4,2247.1 744.0,2249.8 743.4,2251.7 C742.9,2253.7 742.2,2254.2 742.0,2256.2 C741.7,2258.2 741.8,2260.9 742.0,2263.6 C742.1,2266.3 741.8,2270.0 742.7,2272.5 C743.6,2274.9 745.4,2276.2 747.1,2278.4 C748.9,2280.6 751.8,2283.9 753.1,2285.8 C754.3,2287.6 754.8,2288.0 754.5,2289.5 C754.3,2291.0 752.9,2292.8 751.6,2294.7 C750.2,2296.5 747.9,2298.6 746.4,2300.6 C744.9,2302.5 743.1,2304.5 742.7,2306.5 C742.3,2308.5 743.7,2310.2 744.2,2312.4 C744.6,2314.6 745.5,2317.6 745.4,2319.8 C745.2,2322.0 744.0,2324.0 743.4,2325.7 C742.9,2327.5 742.3,2327.5 742.0,2330.2 C741.6,2332.9 741.5,2342.0 741.2,2342.0 C741.0,2342.0 740.9,2332.9 740.5,2330.2 C740.1,2327.5 739.6,2327.5 739.0,2325.7 C738.4,2324.0 737.2,2322.0 737.1,2319.8 C737.0,2317.6 737.8,2314.6 738.3,2312.4 C738.7,2310.2 740.1,2308.5 739.7,2306.5 C739.4,2304.5 737.5,2302.5 736.0,2300.6 C734.6,2298.6 732.2,2296.5 730.9,2294.7 C729.5,2292.8 728.2,2291.0 727.9,2289.5 C727.7,2288.0 728.2,2287.6 729.4,2285.8 C730.6,2283.9 733.6,2280.6 735.3,2278.4 C737.0,2276.2 738.9,2274.9 739.7,2272.5 C740.6,2270.0 740.4,2266.3 740.5,2263.6 C740.6,2260.9 740.7,2258.2 740.5,2256.2 C740.2,2254.2 739.6,2253.7 739.0,2251.7 C738.4,2249.8 737.1,2247.1 737.1,2244.3 C737.1,2241.6 738.4,2237.9 739.0,2235.5 C739.6,2233.0 740.4,2231.8 740.8,2229.5 C741.2,2227.3 741.1,2222.1 741.2,2222.1 Z" fill="#55f51c" stroke="#000" stroke-width="1.5" stroke-linejoin="round"/>
<line x1="727.9" y1="2289.5" x2="754.5" y2="2289.5" stroke="#000" stroke-width="0.8" stroke-dasharray="3.0,2.0"/>
<line x1="734.8" y1="2299.1" x2="747.7" y2="2299.1" stroke="#000" stroke-width="0.6400000000000001" stroke-dasharray="0.8,1.3"/>
<path d="M786.8,2263.6 C787.0,2263.6 786.9,2270.0 787.4,2272.5 C787.9,2274.9 788.8,2276.2 789.8,2278.4 C790.8,2280.6 792.3,2283.1 793.5,2285.8 C794.6,2288.5 796.2,2291.9 796.9,2294.7 C797.5,2297.4 797.6,2299.6 797.2,2302.1 C796.7,2304.5 795.4,2306.6 794.2,2309.5 C793.0,2312.3 790.0,2316.6 789.8,2319.1 C789.5,2321.5 790.9,2321.9 792.7,2324.2 C794.6,2326.6 800.1,2330.2 800.9,2333.1 C801.6,2336.1 798.6,2339.3 797.2,2342.0 C795.7,2344.7 793.3,2347.4 792.0,2349.4 C790.6,2351.4 789.8,2352.4 789.0,2353.8 C788.3,2355.3 787.9,2356.4 787.5,2358.3 C787.2,2360.1 787.1,2364.9 786.8,2364.9 C786.6,2364.9 786.4,2360.1 786.1,2358.3 C785.7,2356.4 785.3,2355.3 784.6,2353.8 C783.8,2352.4 783.0,2351.4 781.6,2349.4 C780.3,2347.4 777.9,2344.7 776.4,2342.0 C775.0,2339.3 772.0,2336.1 772.7,2333.1 C773.5,2330.2 779.0,2326.6 780.9,2324.2 C782.7,2321.9 784.1,2321.5 783.8,2319.1 C783.6,2316.6 780.6,2312.3 779.4,2309.5 C778.2,2306.6 776.9,2304.5 776.4,2302.1 C776.0,2299.6 776.1,2297.4 776.7,2294.7 C777.4,2291.9 779.0,2288.5 780.1,2285.8 C781.3,2283.1 782.8,2280.6 783.8,2278.4 C784.9,2276.2 785.7,2274.9 786.2,2272.5 C786.7,2270.0 786.6,2263.6 786.8,2263.6 Z" fill="#f93a18" stroke="#000" stroke-width="1.5" stroke-linejoin="round"/>
<line x1="783.8" y1="2319.1" x2="789.8" y2="2319.1" stroke="#000" stroke-width="0.8" stroke-dasharray="3.0,2.0"/>
<line x1="776.7" y1="2296.1" x2="796.9" y2="2296.1" stroke="#000" stroke-width="0.6400000000000001" stroke-dasharray="0.8,1.3"/>
<line x1="773.2" y1="2334.2" x2="800.4" y2="2334.2" stroke="#000" stroke-width="0.6400000000000001" stroke-dasharray="0.8,1.3"/>
<rect x="915.5" y="1812.6" width="163.7" height="218.2" fill="#1f1fff" />
<defs><filter id="nf1" x="0" y="0" width="1" height="1" color-interpolation-filters="sRGB"><feTurbulence type="fractalNoise" baseFrequency="0.035" numOctaves="2" seed="11"/><feColorMatrix type="matrix" values="0 0 0 0 0.000 0 0 0 0 0.000 0 0 0 0 0.000 14.000 0 0 0 -8.540"/></filter></defs>
<rect x="915.5" y="1812.6" width="163.7" height="218.2" fill="#000" filter="url(#nf1)"/>
<defs><filter id="nf2" x="0" y="0" width="1" height="1" color-interpolation-filters="sRGB"><feTurbulence type="fractalNoise" baseFrequency="0.045" numOctaves="2" seed="12"/><feColorMatrix type="matrix" values="0 0 0 0 0.314 0 0 0 0 0.922 0 0 0 0 0.941 12.000 0 0 0 -8.040"/></filter></defs>
<rect x="915.5" y="1812.6" width="163.7" height="218.2" fill="#000" filter="url(#nf2)"/>
<defs><filter id="nf3" x="0" y="0" width="1" height="1" color-interpolation-filters="sRGB"><feTurbulence type="fractalNoise" baseFrequency="0.07" numOctaves="2" seed="13"/><feColorMatrix type="matrix" values="0 0 0 0 1.000 0 0 0 0 0.157 0 0 0 0 0.784 14.000 0 0 0 -9.940"/></filter></defs>
<rect x="915.5" y="1812.6" width="163.7" height="218.2" fill="#000" filter="url(#nf3)"/>
<rect x="1079.2" y="1812.6" width="163.7" height="218.2" fill="#06061a" />
<defs><filter id="nf4" x="0" y="0" width="1" height="1" color-interpolation-filters="sRGB"><feTurbulence type="fractalNoise" baseFrequency="0.045" numOctaves="2" seed="14"/><feColorMatrix type="matrix" values="0 0 0 0 0.110 0 0 0 0 0.110 0 0 0 0 0.373 2.550 0 0 0 -1.071"/></filter></defs>
<rect x="1079.2" y="1812.6" width="163.7" height="218.2" fill="#000" filter="url(#nf4)"/>
<defs><filter id="nf5" x="0" y="0" width="1" height="1" color-interpolation-filters="sRGB"><feTurbulence type="turbulence" baseFrequency="0.045" numOctaves="3" seed="15"/><feColorMatrix type="matrix" values="0 0 0 0 0.235 0 0 0 0 0.922 0 0 0 0 0.235 -10.800 0 0 0 1.674"/></filter></defs>
<rect x="1079.2" y="1812.6" width="163.7" height="218.2" fill="#000" filter="url(#nf5)"/>
<defs><filter id="nf6" x="0" y="0" width="1" height="1" color-interpolation-filters="sRGB"><feTurbulence type="fractalNoise" baseFrequency="0.03" numOctaves="2" seed="16"/><feColorMatrix type="matrix" values="0 0 0 0 0.353 0 0 0 0 1.000 0 0 0 0 0.275 10.000 0 0 0 -6.800"/></filter></defs>
<rect x="1079.2" y="1812.6" width="163.7" height="218.2" fill="#000" filter="url(#nf6)"/>
<defs><filter id="nf7" x="0" y="0" width="1" height="1" color-interpolation-filters="sRGB"><feTurbulence type="fractalNoise" baseFrequency="0.09" numOctaves="2" seed="17"/><feColorMatrix type="matrix" values="0 0 0 0 0.882 0 0 0 0 0.118 0 0 0 0 0.118 9.600 0 0 0 -7.104"/></filter></defs>
<rect x="1079.2" y="1812.6" width="163.7" height="218.2" fill="#000" filter="url(#nf7)"/>
<rect x="1242.8" y="1812.6" width="163.7" height="218.2" fill="#0b0101" />
<defs><filter id="nf8" x="0" y="0" width="1" height="1" color-interpolation-filters="sRGB"><feTurbulence type="turbulence" baseFrequency="0.045" numOctaves="3" seed="18"/><feColorMatrix type="matrix" values="0 0 0 0 0.784 0 0 0 0 0.098 0 0 0 0 0.098 -4.800 0 0 0 0.576"/></filter></defs>
<rect x="1242.8" y="1812.6" width="163.7" height="218.2" fill="#000" filter="url(#nf8)"/>
<rect x="1406.5" y="1812.6" width="163.7" height="218.2" fill="#010301" />
<defs><filter id="nf9" x="0" y="0" width="1" height="1" color-interpolation-filters="sRGB"><feTurbulence type="turbulence" baseFrequency="0.045" numOctaves="3" seed="15"/><feColorMatrix type="matrix" values="0 0 0 0 0.235 0 0 0 0 0.922 0 0 0 0 0.235 -10.800 0 0 0 1.674"/></filter></defs>
<rect x="1406.5" y="1812.6" width="163.7" height="218.2" fill="#000" filter="url(#nf9)"/>
<defs><filter id="nf10" x="0" y="0" width="1" height="1" color-interpolation-filters="sRGB"><feTurbulence type="fractalNoise" baseFrequency="0.03" numOctaves="2" seed="16"/><feColorMatrix type="matrix" values="0 0 0 0 0.353 0 0 0 0 1.000 0 0 0 0 0.275 10.000 0 0 0 -6.800"/></filter></defs>
<rect x="1406.5" y="1812.6" width="163.7" height="218.2" fill="#000" filter="url(#nf10)"/>
<rect x="1570.1" y="1812.6" width="163.7" height="218.2" fill="#04042e" />
<defs><filter id="nf11" x="0" y="0" width="1" height="1" color-interpolation-filters="sRGB"><feTurbulence type="fractalNoise" baseFrequency="0.04" numOctaves="3" seed="19"/><feColorMatrix type="matrix" values="0 0 0 0 0.133 0 0 0 0 0.133 0 0 0 0 0.647 3.200 0 0 0 -1.280"/></filter></defs>
<rect x="1570.1" y="1812.6" width="163.7" height="218.2" fill="#000" filter="url(#nf11)"/>
<defs><filter id="nf12" x="0" y="0" width="1" height="1" color-interpolation-filters="sRGB"><feTurbulence type="fractalNoise" baseFrequency="0.035" numOctaves="2" seed="20"/><feColorMatrix type="matrix" values="0 0 0 0 0.000 0 0 0 0 0.000 0 0 0 0 0.024 8.000 0 0 0 -4.800"/></filter></defs>
<rect x="1570.1" y="1812.6" width="163.7" height="218.2" fill="#000" filter="url(#nf12)"/>
<rect x="915.5" y="2042.8" width="163.7" height="218.2" fill="#000000" />
<defs><filter id="nf13" x="0" y="0" width="1" height="1" color-interpolation-filters="sRGB"><feTurbulence type="fractalNoise" baseFrequency="0.045" numOctaves="2" seed="21"/><feColorMatrix type="matrix" values="0 0 0 0 0.125 0 0 0 0 0.125 0 0 0 0 1.000 14.000 0 0 0 -6.580"/></filter></defs>
<rect x="915.5" y="2042.8" width="163.7" height="218.2" fill="#000" filter="url(#nf13)"/>
<defs><filter id="nf14" x="0" y="0" width="1" height="1" color-interpolation-filters="sRGB"><feTurbulence type="fractalNoise" baseFrequency="0.05" numOctaves="2" seed="22"/><feColorMatrix type="matrix" values="0 0 0 0 1.000 0 0 0 0 0.157 0 0 0 0 0.784 12.000 0 0 0 -7.320"/></filter></defs>
<rect x="915.5" y="2042.8" width="163.7" height="218.2" fill="#000" filter="url(#nf14)"/>
<defs><filter id="nf15" x="0" y="0" width="1" height="1" color-interpolation-filters="sRGB"><feTurbulence type="fractalNoise" baseFrequency="0.07" numOctaves="2" seed="23"/><feColorMatrix type="matrix" values="0 0 0 0 0.314 0 0 0 0 0.922 0 0 0 0 0.941 14.000 0 0 0 -9.520"/></filter></defs>
<rect x="915.5" y="2042.8" width="163.7" height="218.2" fill="#000" filter="url(#nf15)"/>
<rect x="1079.2" y="2042.8" width="163.7" height="218.2" fill="#154418" />
<defs><filter id="nf16" x="0" y="0" width="1" height="1" color-interpolation-filters="sRGB"><feTurbulence type="turbulence" baseFrequency="0.05" numOctaves="3" seed="24"/><feColorMatrix type="matrix" values="0 0 0 0 0.216 0 0 0 0 0.804 0 0 0 0 0.216 -4.800 0 0 0 0.960"/></filter></defs>
<rect x="1079.2" y="2042.8" width="163.7" height="218.2" fill="#000" filter="url(#nf16)"/>
<defs><filter id="nf17" x="0" y="0" width="1" height="1" color-interpolation-filters="sRGB"><feTurbulence type="fractalNoise" baseFrequency="0.05" numOctaves="2" seed="25"/><feColorMatrix type="matrix" values="0 0 0 0 0.137 0 0 0 0 0.137 0 0 0 0 0.843 12.000 0 0 0 -6.720"/></filter></defs>
<rect x="1079.2" y="2042.8" width="163.7" height="218.2" fill="#000" filter="url(#nf17)"/>
<defs><filter id="nf18" x="0" y="0" width="1" height="1" color-interpolation-filters="sRGB"><feTurbulence type="fractalNoise" baseFrequency="0.03" numOctaves="2" seed="26"/><feColorMatrix type="matrix" values="0 0 0 0 0.784 0 0 0 0 0.157 0 0 0 0 0.157 4.200 0 0 0 -2.688"/></filter></defs>
<rect x="1079.2" y="2042.8" width="163.7" height="218.2" fill="#000" filter="url(#nf18)"/>
<defs><filter id="nf19" x="0" y="0" width="1" height="1" color-interpolation-filters="sRGB"><feTurbulence type="fractalNoise" baseFrequency="0.1" numOctaves="2" seed="27"/><feColorMatrix type="matrix" values="0 0 0 0 0.882 0 0 0 0 0.118 0 0 0 0 0.118 12.000 0 0 0 -8.880"/></filter></defs>
<rect x="1079.2" y="2042.8" width="163.7" height="218.2" fill="#000" filter="url(#nf19)"/>
<rect x="1242.8" y="2042.8" width="163.7" height="218.2" fill="#180101" />
<defs><filter id="nf20" x="0" y="0" width="1" height="1" color-interpolation-filters="sRGB"><feTurbulence type="fractalNoise" baseFrequency="0.1" numOctaves="3" seed="28"/><feColorMatrix type="matrix" values="0 0 0 0 0.824 0 0 0 0 0.118 0 0 0 0 0.118 4.500 0 0 0 -2.610"/></filter></defs>
<rect x="1242.8" y="2042.8" width="163.7" height="218.2" fill="#000" filter="url(#nf20)"/>
<defs><filter id="nf21" x="0" y="0" width="1" height="1" color-interpolation-filters="sRGB"><feTurbulence type="fractalNoise" baseFrequency="0.025" numOctaves="2" seed="29"/><feColorMatrix type="matrix" values="0 0 0 0 0.471 0 0 0 0 0.039 0 0 0 0 0.039 1.800 0 0 0 -0.900"/></filter></defs>
<rect x="1242.8" y="2042.8" width="163.7" height="218.2" fill="#000" filter="url(#nf21)"/>
<rect x="1406.5" y="2042.8" width="163.7" height="218.2" fill="#0d400d" />
<defs><filter id="nf22" x="0" y="0" width="1" height="1" color-interpolation-filters="sRGB"><feTurbulence type="fractalNoise" baseFrequency="0.045" numOctaves="2" seed="30"/><feColorMatrix type="matrix" values="0 0 0 0 0.000 0 0 0 0 0.000 0 0 0 0 0.000 12.000 0 0 0 -6.240"/></filter></defs>
<rect x="1406.5" y="2042.8" width="163.7" height="218.2" fill="#000" filter="url(#nf22)"/>
<defs><filter id="nf23" x="0" y="0" width="1" height="1" color-interpolation-filters="sRGB"><feTurbulence type="turbulence" baseFrequency="0.05" numOctaves="3" seed="24"/><feColorMatrix type="matrix" values="0 0 0 0 0.235 0 0 0 0 0.784 0 0 0 0 0.235 -10.000 0 0 0 1.300"/></filter></defs>
<rect x="1406.5" y="2042.8" width="163.7" height="218.2" fill="#000" filter="url(#nf23)"/>
<rect x="1570.1" y="2042.8" width="163.7" height="218.2" fill="#000006" />
<defs><filter id="nf24" x="0" y="0" width="1" height="1" color-interpolation-filters="sRGB"><feTurbulence type="fractalNoise" baseFrequency="0.05" numOctaves="2" seed="31"/><feColorMatrix type="matrix" values="0 0 0 0 0.137 0 0 0 0 0.137 0 0 0 0 0.804 10.000 0 0 0 -5.600"/></filter></defs>
<rect x="1570.1" y="2042.8" width="163.7" height="218.2" fill="#000" filter="url(#nf24)"/>
<rect x="915.5" y="2273.0" width="163.7" height="218.8" fill="#1f1fff" />
<defs><filter id="nf25" x="0" y="0" width="1" height="1" color-interpolation-filters="sRGB"><feTurbulence type="fractalNoise" baseFrequency="0.05" numOctaves="2" seed="32"/><feColorMatrix type="matrix" values="0 0 0 0 0.314 0 0 0 0 0.922 0 0 0 0 0.941 10.000 0 0 0 -5.500"/></filter></defs>
<rect x="915.5" y="2273.0" width="163.7" height="218.8" fill="#000" filter="url(#nf25)"/>
<defs><filter id="nf26" x="0" y="0" width="1" height="1" color-interpolation-filters="sRGB"><feTurbulence type="fractalNoise" baseFrequency="0.08" numOctaves="2" seed="33"/><feColorMatrix type="matrix" values="0 0 0 0 1.000 0 0 0 0 0.157 0 0 0 0 0.784 12.000 0 0 0 -8.160"/></filter></defs>
<rect x="915.5" y="2273.0" width="163.7" height="218.8" fill="#000" filter="url(#nf26)"/>
<defs><filter id="nf27" x="0" y="0" width="1" height="1" color-interpolation-filters="sRGB"><feTurbulence type="fractalNoise" baseFrequency="0.06" numOctaves="2" seed="34"/><feColorMatrix type="matrix" values="0 0 0 0 0.000 0 0 0 0 0.000 0 0 0 0 0.000 14.000 0 0 0 -9.660"/></filter></defs>
<rect x="915.5" y="2273.0" width="163.7" height="218.8" fill="#000" filter="url(#nf27)"/>
<rect x="1079.2" y="2273.0" width="163.7" height="218.8" fill="#132a22" />
<defs><filter id="nf28" x="0" y="0" width="1" height="1" color-interpolation-filters="sRGB"><feTurbulence type="fractalNoise" baseFrequency="0.04" numOctaves="2" seed="35"/><feColorMatrix type="matrix" values="0 0 0 0 0.118 0 0 0 0 0.118 0 0 0 0 0.431 1.500 0 0 0 -0.675"/></filter></defs>
<rect x="1079.2" y="2273.0" width="163.7" height="218.8" fill="#000" filter="url(#nf28)"/>
<defs><filter id="nf29" x="0" y="0" width="1" height="1" color-interpolation-filters="sRGB"><feTurbulence type="turbulence" baseFrequency="0.04" numOctaves="3" seed="36"/><feColorMatrix type="matrix" values="0 0 0 0 0.333 0 0 0 0 0.784 0 0 0 0 0.333 -9.000 0 0 0 1.350"/></filter></defs>
<rect x="1079.2" y="2273.0" width="163.7" height="218.8" fill="#000" filter="url(#nf29)"/>
<defs><filter id="nf30" x="0" y="0" width="1" height="1" color-interpolation-filters="sRGB"><feTurbulence type="turbulence" baseFrequency="0.05" numOctaves="3" seed="37"/><feColorMatrix type="matrix" values="0 0 0 0 0.843 0 0 0 0 0.110 0 0 0 0 0.110 -14.000 0 0 0 1.680"/></filter></defs>
<rect x="1079.2" y="2273.0" width="163.7" height="218.8" fill="#000" filter="url(#nf30)"/>
<rect x="1242.8" y="2273.0" width="163.7" height="218.8" fill="#0a0000" />
<defs><filter id="nf31" x="0" y="0" width="1" height="1" color-interpolation-filters="sRGB"><feTurbulence type="fractalNoise" baseFrequency="0.03" numOctaves="2" seed="38"/><feColorMatrix type="matrix" values="0 0 0 0 0.353 0 0 0 0 0.031 0 0 0 0 0.031 1.500 0 0 0 -0.750"/></filter></defs>
<rect x="1242.8" y="2273.0" width="163.7" height="218.8" fill="#000" filter="url(#nf31)"/>
<defs><filter id="nf32" x="0" y="0" width="1" height="1" color-interpolation-filters="sRGB"><feTurbulence type="turbulence" baseFrequency="0.05" numOctaves="3" seed="37"/><feColorMatrix type="matrix" values="0 0 0 0 0.804 0 0 0 0 0.118 0 0 0 0 0.118 -12.000 0 0 0 1.560"/></filter></defs>
<rect x="1242.8" y="2273.0" width="163.7" height="218.8" fill="#000" filter="url(#nf32)"/>
<rect x="1406.5" y="2273.0" width="163.7" height="218.8" fill="#072807" />
<defs><filter id="nf33" x="0" y="0" width="1" height="1" color-interpolation-filters="sRGB"><feTurbulence type="turbulence" baseFrequency="0.04" numOctaves="3" seed="36"/><feColorMatrix type="matrix" values="0 0 0 0 0.275 0 0 0 0 0.745 0 0 0 0 0.275 -10.000 0 0 0 1.500"/></filter></defs>
<rect x="1406.5" y="2273.0" width="163.7" height="218.8" fill="#000" filter="url(#nf33)"/>
<rect x="1570.1" y="2273.0" width="163.7" height="218.8" fill="#05053a" />
<defs><filter id="nf34" x="0" y="0" width="1" height="1" color-interpolation-filters="sRGB"><feTurbulence type="fractalNoise" baseFrequency="0.04" numOctaves="3" seed="39"/><feColorMatrix type="matrix" values="0 0 0 0 0.133 0 0 0 0 0.133 0 0 0 0 0.627 3.200 0 0 0 -1.280"/></filter></defs>
<rect x="1570.1" y="2273.0" width="163.7" height="218.8" fill="#000" filter="url(#nf34)"/>
<defs><filter id="nf35" x="0" y="0" width="1" height="1" color-interpolation-filters="sRGB"><feTurbulence type="fractalNoise" baseFrequency="0.035" numOctaves="2" seed="40"/><feColorMatrix type="matrix" values="0 0 0 0 0.000 0 0 0 0 0.000 0 0 0 0 0.024 8.000 0 0 0 -4.960"/></filter></defs>
<rect x="1570.1" y="2273.0" width="163.7" height="218.8" fill="#000" filter="url(#nf35)"/>
<line x1="1079.2" y1="1812.6" x2="1079.2" y2="2030.8" stroke="#bbbbbb" stroke-width="0.5" opacity="0.45"/>
<line x1="1079.2" y1="2042.8" x2="1079.2" y2="2261.0" stroke="#bbbbbb" stroke-width="0.5" opacity="0.45"/>
<line x1="1079.2" y1="2273.0" x2="1079.2" y2="2491.8" stroke="#bbbbbb" stroke-width="0.5" opacity="0.45"/>
<line x1="1242.8" y1="1812.6" x2="1242.8" y2="2030.8" stroke="#bbbbbb" stroke-width="0.5" opacity="0.45"/>
<line x1="1242.8" y1="2042.8" x2="1242.8" y2="2261.0" stroke="#bbbbbb" stroke-width="0.5" opacity="0.45"/>
<line x1="1242.8" y1="2273.0" x2="1242.8" y2="2491.8" stroke="#bbbbbb" stroke-width="0.5" opacity="0.45"/>
<line x1="1406.5" y1="1812.6" x2="1406.5" y2="2030.8" stroke="#bbbbbb" stroke-width="0.5" opacity="0.45"/>
<line x1="1406.5" y1="2042.8" x2="1406.5" y2="2261.0" stroke="#bbbbbb" stroke-width="0.5" opacity="0.45"/>
<line x1="1406.5" y1="2273.0" x2="1406.5" y2="2491.8" stroke="#bbbbbb" stroke-width="0.5" opacity="0.45"/>
<line x1="1570.1" y1="1812.6" x2="1570.1" y2="2030.8" stroke="#bbbbbb" stroke-width="0.5" opacity="0.45"/>
<line x1="1570.1" y1="2042.8" x2="1570.1" y2="2261.0" stroke="#bbbbbb" stroke-width="0.5" opacity="0.45"/>
<line x1="1570.1" y1="2273.0" x2="1570.1" y2="2491.8" stroke="#bbbbbb" stroke-width="0.5" opacity="0.45"/>
<rect x="1691.8" y="2462.9" width="25.6" height="7.1" fill="#fff" />
<text x="1002.7" y="1802.5" font-size="22.5" fill="#000" text-anchor="middle" font-weight="bold" textLength="101.0" lengthAdjust="spacingAndGlyphs" >Analysis</text>
<text x="1164.8" y="1802.5" font-size="22.5" fill="#000" text-anchor="middle" font-weight="bold" textLength="91.0" lengthAdjust="spacingAndGlyphs" >Overlay</text>
<text x="1325.7" y="1802.5" font-size="22.5" fill="#000" text-anchor="middle" font-weight="bold" textLength="86.0" lengthAdjust="spacingAndGlyphs" >PRKDC</text>
<text x="1481.7" y="1802.5" font-size="22.5" fill="#000" text-anchor="middle" font-weight="bold" textLength="72.0" lengthAdjust="spacingAndGlyphs" >LMNA</text>
<text x="1650.9" y="1802.5" font-size="22.5" fill="#000" text-anchor="middle" font-weight="bold" textLength="59.0" lengthAdjust="spacingAndGlyphs" >DAPI</text>
<text x="904.3" y="1922.8" font-size="30" fill="#000" text-anchor="middle" font-weight="bold" textLength="141.8" lengthAdjust="spacingAndGlyphs" transform="rotate(-90 904.3 1922.8)" >DMSO EP</text>
<text x="904.3" y="2151.9" font-size="30" fill="#000" text-anchor="middle" font-weight="bold" textLength="109.0" lengthAdjust="spacingAndGlyphs" transform="rotate(-90 904.3 2151.9)" >TMZ D3</text>
<text x="904.3" y="2382.7" font-size="30" fill="#000" text-anchor="middle" font-weight="bold" textLength="106.4" lengthAdjust="spacingAndGlyphs" transform="rotate(-90 904.3 2382.7)" >TMZ EP</text>
</svg>
</body></html>
